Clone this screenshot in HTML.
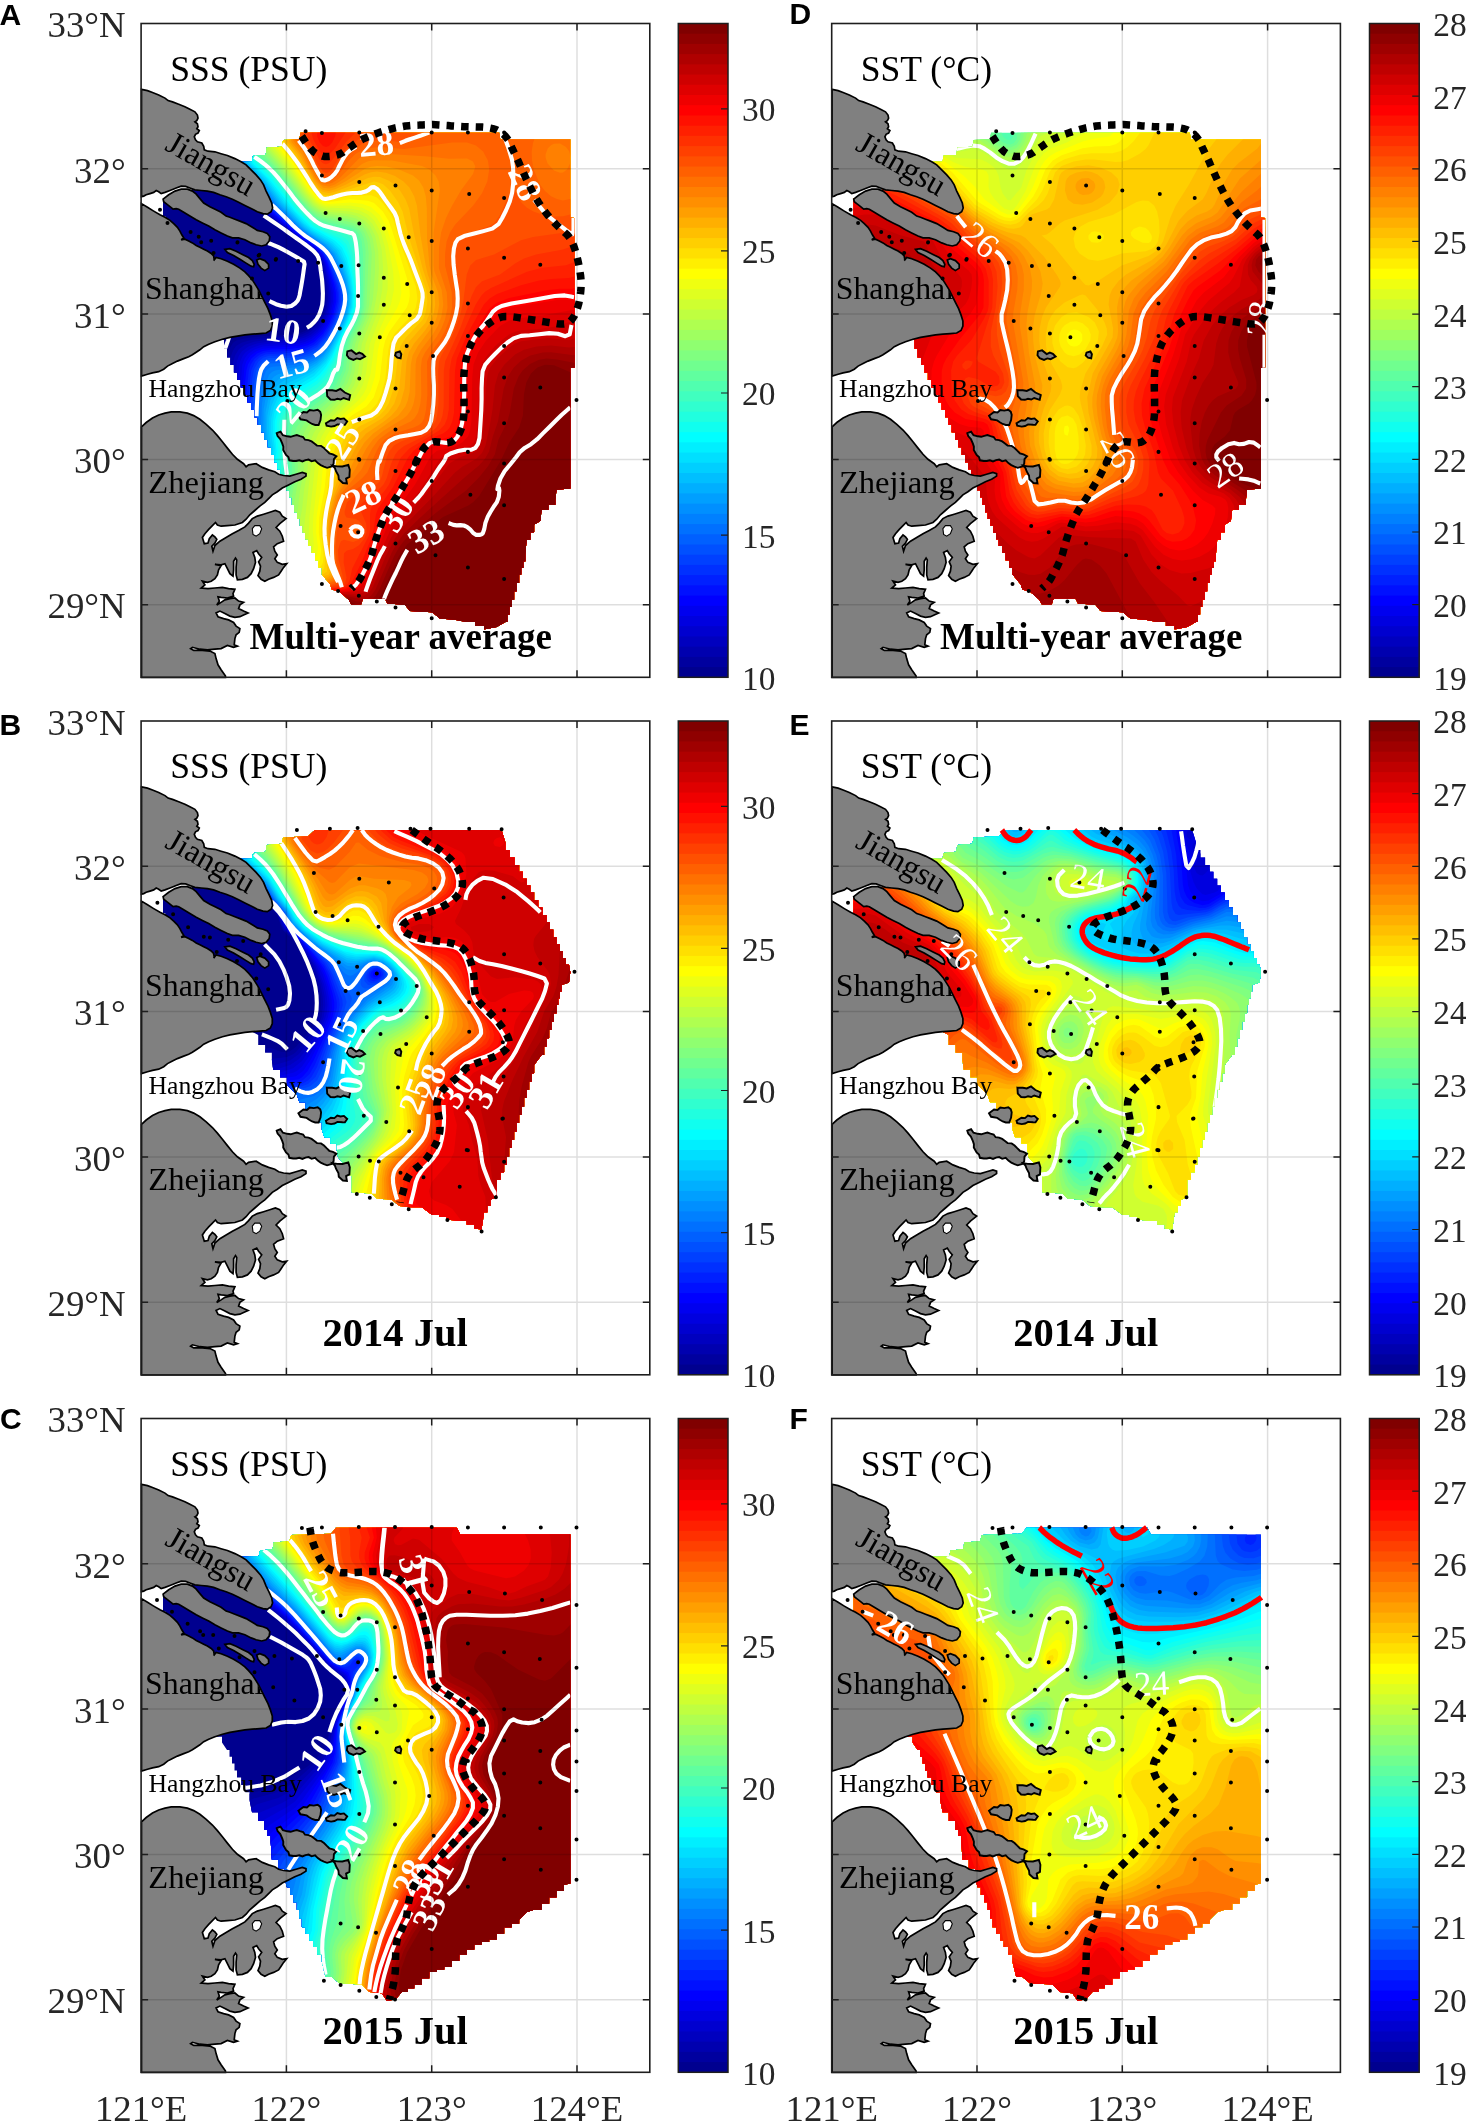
<!DOCTYPE html><html><head><meta charset="utf-8"><title>Figure</title><style>html,body{margin:0;padding:0;background:#fff}svg{display:block;will-change:transform}text{font-family:"Liberation Serif",serif;fill:#262626}.b{font-weight:bold;fill:#000}.s{font-family:"Liberation Sans",sans-serif;font-weight:bold;fill:#000;font-size:30px}.t{font-size:36.8px}.u{font-size:35.6px}.k{fill:#000}.w{fill:#fff;font-weight:bold;font-size:35px}.v{fill:#fff;font-size:35px}</style></head><body>
<svg width="1466" height="2121" viewBox="0 0 1466 2121">
<g transform="translate(141.1 23.5)">
<clipPath id="cA"><path d="M98.9 138.3L110.8 138.3L112 132.1L124.5 131.5L125.7 124L140.7 123.3L142 116.5L158.2 115.8L159.4 109L358 109L359.3 116L429.2 116L429.2 193.9L433.4 194.4L433.4 343.9L429.2 344.4L429.2 465L415.4 466.2L414.2 476.2L414.2 481.2L407.3 481.2L407.3 486.2L400.5 486.2L399.2 497.4L393 501.2L393 508.7L389.2 508.7L389.2 516.2L385.5 516.2L384.2 531.2L384.2 537.8L382.2 537.8L382.2 544.5L380.1 544.5L380.1 551.1L378 551.1L378 559.4L375.5 559.4L375.5 567.8L373 567.8L373 576.1L370.5 576.1L370.5 583.6L368.4 583.6L368.4 591.1L366.3 591.1L366.3 598.6L364.3 598.6L355.5 603.6L342.9 606L342.9 602.2L334.2 602.2L334.2 598.5L325.6 598.5L313.7 596.3L298.7 595L291.2 588.8L268.8 587.5L263.8 581.3L246.3 580L243.8 575L221.9 575L220.1 580.7L210.1 580.7L207.6 576.3L197.6 567.5L190.8 566.3L188.9 560.7L180.8 551.1L180.8 543.9L177.3 543.9L177.3 536.8L173.9 536.8L173.9 529.6L170.5 529.6L170.5 522.4L167 522.4L167 515.7L164.3 515.7L164.3 508.9L161.5 508.9L161.5 502.2L158.8 502.2L158.8 495.5L156 495.5L156 488.7L153.3 488.7L153.3 481.2L150.8 481.2L150.8 473.7L148.3 473.7L148.3 466.7L145.3 466.7L145.3 459.7L142.3 459.7L142.3 452.8L139.3 452.8L139.3 445.8L136.3 445.8L136.3 438.8L133.3 438.8L133.3 431.3L130 431.3L130 423.8L126.7 423.8L126.7 416.3L123.3 416.3L123.3 408.8L120 408.8L120 401.3L116.7 401.3L116.7 393.8L113.4 393.8L113.4 386.3L109.9 386.3L109.9 378.9L106.5 378.9L106.5 371.4L103.1 371.4L103.1 363.9L99.6 363.9L99.6 356.4L96.2 356.4L96.2 348.9L92.8 348.9L92.8 341.4L89.3 341.4L89.3 333.9L85.9 333.9L85.9 325.2L82.9 325.2L82.9 316.4L80 316.4L80 313.1L73 313.1L73 309.8L65.9 309.8L65.9 306.5L58.9 306.5L58.9 299.4L56.6 299.4L56.6 292.2L54.3 292.2L54.3 285.1L52 285.1L52 278L49.7 278L49.7 270.9L47.3 270.9L47.3 263.8L45 263.8L45 256.6L42.7 256.6L42.7 249.5L40.4 249.5L40.4 242.4L38.1 242.4L38.1 235.2L35.8 235.2L35.8 228.1L33.5 228.1L33.5 221L31.2 221L31.2 213.9L28.8 213.9L28.8 206.8L26.5 206.8L26.5 199.6L24.2 199.6L24.2 192.5L21.9 192.5L21.9 177.5L21.9 175.2L29.2 175.2L29.2 173L36.4 173L36.4 170.8L43.7 170.8L43.7 168.5L50.9 168.5L50.9 156.5L50.9 153.9L57.8 153.9L57.8 151.3L64.6 151.3L64.6 148.7L71.5 148.7L71.5 146.1L78.3 146.1L78.3 143.5L85.2 143.5L85.2 140.9L92 140.9L92 138.3Z"/></clipPath><g clip-path="url(#cA)"><rect x="13.9" y="101" width="427.5" height="513" fill="#00008f"/><path d="M29.1 101L442.9 101L442.9 614L13.9 614L13.9 427.6L25.9 421.7L46.9 407.8L58.9 397.8L67.9 387.5L73.9 378L81.7 362L83.3 356L85 335L87.8 326L91.9 319.2L95.2 317L106.9 314.3L121.9 312.6L148.9 311.5L157.9 309.7L163.9 307.4L172.9 301.3L178.9 293.2L182.3 284L183.7 272L183.3 263L179.9 242L178.2 236L174.7 230L168 224L123.3 191L100.9 167L76.9 143.3L58.9 126.9L31.3 104Z" fill="#00009f"/><path d="M33.5 101L442.9 101L442.9 614L13.9 614L13.9 434.6L28.9 427L49.9 413.2L61.9 403.3L72 392L76.9 383.9L87 362L88.3 356L87.9 344L89 335L91.9 326.9L94.9 322.6L100.9 318.9L109.9 316.4L121.9 314.7L151.9 313.1L160.9 310.8L166.9 308.1L172.9 303.9L179.3 296L183.3 287L185.3 275L184.7 263L180.9 242L179.2 236L175.7 230L169.1 224L124.7 191L79.9 144.2L38.8 107Z" fill="#0000af"/><path d="M37.7 101L442.9 101L442.9 614L13.9 614L13.9 441.5L28.9 433.9L51.8 419L64.9 408.6L74.9 398L80.3 389L91.2 362L92.2 356L91.5 347L92.2 338L93.9 332L97.9 325.4L103.9 321.3L112.9 318.3L124.9 316.5L151.9 315.1L160.9 312.9L166.9 310.3L175.9 303.5L181.3 296L185.1 287L187 275L186.2 263L182.6 245L180.1 236L176.6 230L170.2 224L122.9 188L97.9 160.6L67.9 130.4L42.6 107Z" fill="#0000bf"/><path d="M41.5 101L442.9 101L442.9 614L13.9 614L13.9 448.3L28.9 440.6L53.1 425L68.4 413L79.8 401L84.7 392L94.5 362L95.7 338L97.9 332L100.9 327.7L107.4 323L115.9 320L124.9 318.5L154.9 316.6L163.9 314L169.9 310.9L177 305L183.2 296L186.8 287L188.7 275L187.7 263L183.6 245L181 236L177.5 230L171.3 224L124.3 188L103.9 165.1L46.2 107Z" fill="#0000cf"/><path d="M45.1 101L442.9 101L442.9 614L13.9 614L13.9 455L28.9 447.2L55.9 429.6L73.2 416L84.4 404L89.1 395L97.1 362L97.8 344L99 338L101.8 332L104.2 329L109.9 324.9L118.9 321.6L127.9 320.2L154.9 318.6L163.9 316.2L169.9 313.3L176.6 308L183.4 299L187.6 290L190.2 278L190.1 269L187.8 257L183 239L178.5 230L172.3 224L155.8 212L125.7 188L106.9 166.6L49.6 107Z" fill="#0000df"/><path d="M48.6 101L442.9 101L442.9 614L13.9 614L13.9 461.6L19.9 459.1L31.9 451.9L58.9 433.9L76.9 419.5L88.9 406.8L92.5 401L94.1 395L95.7 380L99.5 362L101.2 341L103.6 335L106.9 330.6L113.4 326L121.9 323.1L154.9 320.7L163.9 318.4L169.9 315.6L178.9 308.2L184.9 299.6L189.2 290L191.9 278L191.7 269L190 260L183.9 239L179.4 230L173.4 224L153 209L124.9 185.8L108.8 167L52.8 107Z" fill="#0000ef"/><path d="M51.9 101L442.9 101L442.9 614L13.9 614L13.9 468.2L19.9 465.6L34.9 456.4L64.9 435.7L82.9 420.5L94.8 407L97.9 401L98.4 398L98.8 380L101.7 362L103.3 344L105.2 338L109.4 332L115.9 327.4L121.9 325.3L157.9 322.2L166.9 319.4L172.9 316.1L181.3 308L186.9 299L190.9 290L193.5 278L193.3 269L191.4 260L184.9 239L180.3 230L174.4 224L154 209L125.4 185L110.4 167L55.9 107Z" fill="#0000ff"/><path d="M55 101L442.9 101L442.9 614L13.9 614L13.9 474.7L19.9 472.1L34.9 462.8L64.9 441.9L84.7 425L97.9 410L102.2 401L101.6 380L105.3 347L106.9 341L110.3 335L115.9 330.1L121.9 327.4L130.9 325.9L148.9 325.5L157.9 324.3L166.9 321.7L172.9 318.5L181.9 310L187.9 300.3L192.4 290L195.1 278L194.8 269L192.9 260L185.9 239L181.3 230L175.4 224L155.1 209L126.8 185L112 167L84.4 137L58.8 107Z" fill="#0010ff"/><path d="M58 101L442.9 101L442.9 614L13.9 614L13.9 481.2L19.9 478.5L37.9 467.1L67.9 445.6L88.9 426.9L100.9 412.1L103.9 406.9L105.5 401L104.2 380L107.7 347L109.6 341L113.6 335L118.9 331L124.9 328.7L154.9 327L163.9 325L172.9 320.9L181.9 312.6L187.9 303.3L193.9 290.2L196.7 278L196.4 269L194.3 260L186.9 239L182.2 230L176.5 224L156.2 209L128.2 185L112.9 166.3L86.2 137L61.7 107Z" fill="#0020ff"/><path d="M60.9 101L442.9 101L442.9 614L13.9 614L13.9 487.7L19.9 485L37.9 473.3L67.9 451.5L88.9 432.9L100.9 418.4L105.6 410L107.7 404L106.7 383L107.4 371L110.1 347L114.2 338L118.9 333.6L124.9 330.8L157.9 328.7L166.9 326.2L175.9 321.2L184.9 311.2L191.7 299L196.3 287L198.1 278L197.8 269L195.7 260L188 239L183.2 230L177.6 224L153.5 206L127.9 183.2L115.1 167L88 137L64.4 107Z" fill="#0030ff"/><path d="M63.6 101L442.9 101L442.9 614L13.9 614L13.9 494.2L19.9 491.4L37.9 479.5L67.9 457.4L88.9 438.7L100.9 424.7L106.9 414.3L109.9 405.1L109.1 380L111.1 356L112.9 345.9L117.3 338L121.9 334.3L127.9 332.3L148.9 331.9L157.9 330.9L166.9 328.4L175.9 323.6L184.9 313.8L193.2 299L197.7 287L199.6 278L199.2 269L197.1 260L189.1 239L184.3 230L175.9 221.8L154.6 206L128.1 182L115.9 166.1L89.7 137L67 107Z" fill="#0040ff"/><path d="M66.3 101L442.9 101L442.9 614L13.9 614L13.9 500.7L19.9 497.8L37.9 485.7L67.9 463.3L88.9 444.4L103.9 426.6L109.3 416L111.8 407L112.3 401L111.4 383L112.9 360.9L115.1 347L118.9 339.9L121.9 337.1L127.9 334.5L148.9 334.2L157.9 333.1L166.9 330.7L175.9 326L184.9 316.3L193.9 300.3L199.1 287L200.9 278L200.6 269L198.4 260L190.2 239L185.3 230L178.9 223.2L152.3 203L129.6 182L115.9 164.3L91.4 137L69.5 107Z" fill="#0050ff"/><path d="M68.9 101L442.9 101L442.9 614L13.9 614L13.9 507.2L19.9 504.3L34.9 494L64.9 471.6L85.9 453.1L100.8 437L108.7 425L113 413L114.2 404L113.6 386L114.6 368L116.3 353L119.1 344L121.9 340.4L127.9 337L145.9 336.8L157.9 335.4L169.9 331.7L178.7 326L187.9 314.3L195.8 299L200.4 287L202.1 278L201.8 269L199.8 260L192.8 242L186.5 230L178.9 222.2L164.4 212L153.5 203L131 182L117.3 164L93.1 137L72 107Z" fill="#0060ff"/><path d="M71.5 101L442.9 101L442.9 614L13.9 614L13.9 513.8L19.9 510.7L31.9 502.4L64.9 477.5L85.9 458.9L100.9 442.7L109.9 429.9L114.3 419L116.1 407L115.8 386L117.1 368L119.1 353L121.9 345.3L124.9 341.8L127.9 340.1L148.9 339.1L163.9 336.2L172.9 332.3L178.9 328.1L184.9 321L190.9 311.3L198.4 296L203 281L203.4 272L201 260L195.4 245L187.7 230L178.9 221.2L165.6 212L154.6 203L132.6 182L118.9 164L94.8 137L74.4 107Z" fill="#0070ff"/><path d="M74 101L442.9 101L442.9 614L13.9 614L13.9 520.4L19.9 517.2L34.9 506.5L67.9 481L88.9 461.6L103.9 444.7L112.9 431.4L116.6 422L118 410L117.9 389L119.4 371L121.9 355.3L124.9 347.5L127.9 344.5L130.9 343.2L151.9 341.4L163.9 338.5L172.9 334.5L178.9 330.3L184.9 323.4L190.9 313.8L199.6 296L204.1 281L204.5 272L202.3 260L195.4 242L189.1 230L181.9 222.4L166.9 212L155.9 203L133.9 181.7L120.6 164L96.4 137L78.6 110Z" fill="#0080ff"/><path d="M76.4 101L442.9 101L442.9 614L13.9 614L13.9 527L19.9 523.8L34.9 512.8L67.9 486.9L88.9 467.4L103.9 450.5L113.4 437L119 425L120.9 380L123.9 362L127.9 351.3L130.9 348.4L133.9 347L154.9 343.5L163.9 340.9L172.9 336.7L178.9 332.4L184.9 325.7L190.9 316.1L200.7 296L205.2 281L205.6 272L202.9 257.9L196.8 242L190.5 230L181.9 221.2L164.3 209L157.2 203L133.9 179.8L119.8 161L98 137L80.8 110Z" fill="#008fff"/><path d="M78.7 101L442.9 101L442.9 614L13.9 614L13.9 533.6L19.9 530.4L37.9 516.9L70.9 490.3L91.9 470.2L106.9 452.4L117.1 437L121.9 426.1L122.5 386L125.7 368L130.4 356L133.1 353L136.9 350.7L157.9 345.4L166.9 342.1L175.9 336.9L181.9 331.7L190.9 318.3L200.5 299L206.3 281L206.3 269L203.8 257L198.3 242L192 230L183.4 221L166.9 209.8L158.6 203L134.9 179L121.5 161L99.6 137L84.7 113Z" fill="#009fff"/><path d="M81.1 101L442.9 101L442.9 614L13.9 614L13.9 540.4L19.9 537L31.9 527.8L70.9 496.3L91.9 476.1L106.9 458.3L118.9 440.2L124.6 428L124.4 389L127.9 371.5L131.7 362L133.9 358.8L139.9 354.1L166.9 344.6L175.9 339.2L181.9 333.8L190.9 320.4L201.6 299L205.9 287.5L207.3 281L207.4 269L205.1 257L199.9 242L193.7 230L185.2 221L167.3 209L160.1 203L136.7 179L123.3 161L101.2 137L88.4 116Z" fill="#00afff"/><path d="M83.4 101L442.9 101L442.9 614L13.9 614L13.9 547.2L19.9 543.7L34.9 531.9L73.9 499.7L94.9 478.9L109.9 460.2L120.7 443L127.4 428L125.9 404L126.3 392L129.3 377L133.9 365.8L136.9 361.6L142.9 357L166.9 347.3L175.9 341.6L181.9 336.1L187.9 328.1L202.6 299L206.2 290L208.3 281L208.4 269L206.3 257L201.4 242L195.6 230L187.3 221L169.1 209L161.7 203L138.6 179L122.5 158L102.7 137L92 119Z" fill="#00bfff"/><path d="M85.6 101L442.9 101L442.9 614L13.9 614L13.9 554.1L22.9 548.1L76.9 503L94.9 485L109.9 466.3L121.9 447.2L129 431L130 425L128.1 410L128.1 395L130.2 383L134.9 371L139.1 365L142.9 361.5L169.9 348.4L178.9 341.5L184.9 334.9L190.9 325.1L203.7 299L207.2 290L209.3 281L209.4 269L206.7 254L201.9 239L195.5 227L187.9 219.6L171.1 209L163.4 203L140.5 179L124.3 158L104.3 137L93.8 119Z" fill="#00cfff"/><path d="M87.8 101L442.9 101L442.9 614L13.9 614L13.9 561.1L22.9 554.9L76.9 509.1L94.9 491.2L109.9 472.6L122.8 452L130.9 432.5L132 425L129.8 407L130.1 395L132.8 383L136.8 374L141.3 368L145.9 363.9L172.9 349.3L184.9 337.5L190.9 327.7L204.7 299L209.9 284L210.6 272L208.6 257L203.6 239L197.8 227L190.9 219.9L169.9 206.7L160.9 199.1L142.4 179L124.9 156.5L108.4 140L100.3 128L89.9 107Z" fill="#00dfff"/><path d="M90.1 101L442.9 101L442.9 614L13.9 614L13.9 568.2L19.9 564.4L82.9 509.6L100.6 491L112.9 474.8L126.2 452L132.6 434L133.8 425L131.9 410L131.8 398L133.3 389L136.9 379.9L140.6 374L145.9 368.3L172.9 352.4L184.9 340.1L190.9 330.5L205.7 299L210.9 284L211.4 269L209.8 257L205.4 239L199.9 226.6L191.4 218L172.9 207.2L163.7 200L144.4 179L125.6 155L109.9 139.8L101.9 128Z" fill="#00efff"/><path d="M92.3 101L442.9 101L442.9 614L13.9 614L13.9 575.5L19.9 571.6L82.9 515.8L100.9 497.1L112.9 481.5L126.7 458L130.7 449L133.3 440L135.5 428L133.6 407L133.7 398L136.9 385.8L140.1 380L145.9 372.9L152 368L172.9 355.7L178.9 350.4L184.9 343.1L190.9 333.6L200.6 311L206.8 299L212 284L212.5 269L210.5 254L205.9 234.7L200.9 224L193.9 217.3L169.9 203.5L154.1 188L127.9 155.4L111.9 140L106.9 134L98 116Z" fill="#00ffff"/><path d="M94.4 101L442.9 101L442.9 614L13.9 614L13.9 582.9L19.9 578.8L90.1 515L106.4 497L118.9 479.1L130.2 458L134.6 446L137.2 428L135.5 401L136.2 395L138.1 389L142.9 380.9L148.9 374.5L175.9 357L184.9 346.5L191.9 335L201.7 311L210.6 293L213.1 284L213.4 266L211.3 251L207.5 233L202.9 222.5L198.7 218L194.3 215L171.7 203L156.1 188L129.6 155L108.5 134L101.2 119Z" fill="#10ffef"/><path d="M96.6 101L442.9 101L442.9 614L13.9 614L13.9 590.6L19.9 586.3L91.9 519.4L106.9 503.2L118.9 486.4L130.9 463.9L136.8 449L138.9 428L137.5 401L139.9 390.6L142.9 385.5L148.9 378.8L154.9 374L175.9 360.8L183.2 353L192.3 338L202.8 311L211.7 293L214.2 284L214.6 266L213.2 254L209.7 233L205.3 221L199.2 215L178.9 205.7L172.9 202L158.1 188L130.9 154.1L110.2 134L104.3 122Z" fill="#20ffdf"/><path d="M98.8 101L442.9 101L442.9 614L13.9 614L13.9 598.4L19.9 594L96.5 521L110.2 506L120.7 491L130.9 471.5L138.1 455L139.7 449L140.6 428L139.6 401L141.9 392L145.9 386.2L151.9 380.3L175.9 364.8L184.9 355.5L193.9 339L202.9 313.7L213 293L215.4 284L215.8 266L214.3 251L211.4 230L207.3 218L204.5 215L199.5 212L175.9 202.1L169 197L160.9 188.9L131.1 152L112 134L106.1 122Z" fill="#30ffcf"/><path d="M100.9 101L442.9 101L442.9 614L13.9 614L13.9 606.5L19.9 601.9L52.4 569L100.9 522.9L112.9 509.5L121.9 496.8L130.9 479.8L142.1 452L142.8 446L141.7 404L143.3 395L145.9 390.7L151.9 384.6L178.9 366.5L186.1 359L195.4 341L204.1 314L213.1 296L216.7 284L217.1 266L214.2 233L212.2 221L209.7 215L206.3 212L202.9 210.4L178.9 201.9L171.5 197L163.9 189.8L133.3 152L112.9 132.6L106.8 119Z" fill="#40ffbf"/><path d="M103.1 101L442.9 101L442.9 614L17.6 614L21.8 608L47.3 581L108.8 521L118.9 509L124.9 500L133.9 481.9L145.1 452L145.6 446L144 410L144.6 401L145.9 396.3L148.9 391.9L155.3 386L181.9 368L189.6 359L196.9 344L200.4 329L205.5 314L215.8 293L218 284L218.6 266L216.4 230L214.7 218L212 212L205.9 208.3L178.9 199.9L166.9 190.7L156.4 179L133.9 150.2L113.9 131L108.7 119Z" fill="#50ffaf"/><path d="M105.3 101L442.9 101L442.9 614L25.4 614L29.2 608L54.1 581L112.9 523.1L121.9 512.4L127.9 503.4L136.9 484.3L147.8 452L148.3 446L146.6 413L147.3 404L148.9 398.1L157.2 389L181.9 371.8L191.2 362L198.8 347L202.3 329L205.9 317.4L216.1 296L219.6 284L220.2 266L219.1 230L217.7 218L215.6 212L213.2 209L208.9 206.4L184.9 200.3L178.9 197.9L166.9 188.5L158.4 179L135 149L116.1 131L110.7 119Z" fill="#60ff9f"/><path d="M107.5 101L442.9 101L442.9 614L32.6 614L38.9 605L63.5 578L118.2 524L130.9 507.1L139.9 487L150.5 452L151 446L149.5 416L150.4 407L152 401L159.4 392L187.2 371L194.6 362L201.7 347L204.4 329L208.9 314L219.1 293L221.3 284L222.1 266L221.8 230L220.6 218L217.9 210.5L214.9 206.9L208.9 203.7L187.9 199.1L178.9 195.8L172.9 191.8L166.9 186.3L137.2 149L118.9 131.3L116.5 128L111.7 116Z" fill="#70ff8f"/><path d="M109.7 101L442.9 101L442.9 614L39.6 614L45.8 605L69.9 578L124.4 524L135.1 509L143.6 488L153.2 452L153.8 446L152.7 419L153.7 410L155.4 404L162 395L187.9 374.3L198 362L204.6 347L206.8 329L210 317L219.8 296L223.2 284L224.5 227L222.7 215L220.1 209L217.7 206L211.9 202.2L181.9 195.1L175.9 191.9L169.9 187.1L159.9 176L139.4 149L119 128L113.8 116Z" fill="#80ff80"/><path d="M112 101L442.9 101L442.9 614L46.4 614L50 608L70.6 584L90.5 563L127.9 527L133.9 519.9L138.9 512L147.7 488L152.6 464L156 452L156.7 443L156.4 419L159 407L162.4 401L167.8 395L193.9 372.3L202.9 359.4L207.5 347L209.4 329L211.9 318.4L222 296L225.3 284L227.6 230L226.3 218L223.1 209L218.1 203L213 200L205.9 197.8L184.9 194.1L175.9 189.8L169.9 184.9L161.8 176L141.7 149L121.7 128L116 116Z" fill="#8fff70"/><path d="M114.3 101L442.9 101L442.9 614L53 614L58.9 605L79.4 581L99.5 560L131.5 530L139.4 521L143.1 515L145.9 508.5L151.9 488L155.7 464L159 452L160 422L162.6 410L165.7 404L170.4 398L190.9 379.5L199 371L206.6 359L210.6 347L212.3 329L214.2 320L225.6 293L228.2 281L230.7 230L228.5 215L224.4 206L220.9 202L214.9 198L205.9 195.3L184.9 192.1L175.9 187.8L169.9 182.8L161.5 173L142.9 147.8L122.3 125L117.2 113Z" fill="#9fff60"/><path d="M116.6 101L442.9 101L442.9 614L59.4 614L67.5 602L90.7 575L108.5 557L138.3 530L147.7 518L150.3 512L156.8 485L158.8 467L162.7 449L163.8 425L166.2 413L169 407L173.2 401L200.5 374L205.9 366.9L210.3 359L213.8 347L215.5 329L217.3 320L228.3 293L231.9 275L233.9 248L234 230L231.6 215L227.8 206L222.8 200L214.9 195.1L205.9 192.8L184.9 190L178.9 187.6L171.3 182L163.4 173L143.7 146L124.9 125L119.5 113Z" fill="#afff50"/><path d="M118.9 101L442.9 101L442.9 614L65.6 614L68.9 608L75.9 599L96.4 575L115.9 555.6L145.4 530L150.9 524L154.4 518L161.1 485L162.9 467L166.1 449L167.9 425L169.9 416L172.9 409.1L178.4 401L204.7 374L212.8 362L216.8 350L220.8 320L232.4 290L236.6 266L237.8 245L237.1 227L233.9 212L229.4 203L223.8 197L214.9 192.2L205.9 190.2L184.9 188L178.9 185.7L172.9 181.4L165.4 173L145.9 145.9L127.6 125L121.9 113.3Z" fill="#bfff40"/><path d="M121.3 101L442.9 101L442.9 614L71.6 614L74.8 608L84 596L104.8 572L124.9 552.9L153.2 530L160.1 521L161.8 515L171.2 431L173.5 419L177.3 410L183.4 401L209.3 374L217 362L220.7 350L224.6 320L237.2 287L241.2 266L242 245L240.7 227L237.3 212L231.1 200L225 194L217.9 190.2L208.9 187.9L184.9 186.1L178.9 183.7L172.9 179.3L165.1 170L148.3 146L130.2 125L124.9 114.9Z" fill="#cfff30"/><path d="M123.7 101L442.9 101L442.9 614L77.5 614L80.6 608L92 593L113.2 569L130.9 552.9L158.1 533L163.9 527.3L166 524L167.5 518L168.3 494L174.8 434L177.1 422L180.5 413L186 404L195.9 392L214.3 374L221.5 362L224.9 350L228.8 320L242.8 284L246.5 266L246.7 245L243.9 224L239.8 209L233.1 197L226.7 191L217.9 186.8L208.9 185L184.9 184.1L178.9 181.8L174.9 179L167 170L148.9 143.9L130.8 122L126.6 113Z" fill="#dfff20"/><path d="M126.1 101L442.9 101L442.9 614L83.2 614L86.2 608L97.4 593L118.9 568.7L136.9 553L166.8 533L171.6 527L172.7 521L171.7 506L172.1 494L178.4 437L181.5 422L185.2 413L192.8 401L200.5 392L217.2 377L222 371L225.2 365L229.5 350L233.4 320L236.3 311L249.8 281L252.9 266L252.1 248L247 221L242.4 206L235.9 194.5L229.9 188.7L220.9 184.2L208.9 182.1L184.9 182.2L178.9 179.9L175.9 177.7L168.9 170L148.9 140.9L133.4 122L129 113Z" fill="#efff10"/><path d="M128.5 101L442.9 101L442.9 614L88.7 614L91.7 608L105 590L115.2 578L127 566L145.9 551.2L172.4 536L175.9 531.8L176.8 524L175.1 509L175.4 494L180 464L182.4 437L185 425L189.9 413L199.6 398L205.9 391.4L223.7 377L229.4 368L233.9 353L237 326L239 317L244.2 305L256.3 284L258.7 278L260.3 269L258.5 251L251.8 224L245.3 203L238.9 191.7L229.9 183.6L220.9 180.3L208.9 178.9L187.9 180.6L181.9 179.4L176.4 176L168.7 167L151.9 141.8L135.9 122L131.4 113Z" fill="#ffff00"/><path d="M131 101L442.9 101L442.9 614L94.1 614L97 608L110.1 590L120.2 578L132.3 566L148.9 553.4L160.9 547L173 542L175.9 540.4L178.9 536.9L180 527L177.7 509L178.1 494L183.6 464L186.3 437L189.4 425L196.1 410L204.1 398L210.7 392L225.2 383L232.6 374L238.6 356L242 326L244.1 317L248.3 308L265.7 284L267.8 278L268.7 272L268.4 266L265.6 254L250.7 206L247.3 197L241.7 188L232.9 179.6L226.9 177.2L208.9 175.7L187.9 178.5L181.9 177.5L178.9 175.9L170.6 167L151.9 138.6L138.4 122L133.8 113Z" fill="#ffef00"/><path d="M133.5 101L442.9 101L442.9 614L99.3 614L102.2 608L115 590L125.1 578L136.9 566.5L145.9 559.4L154.9 553.8L163.9 549.6L177.2 545L180.4 542L181.9 538.8L182.5 533L179.9 509L180.4 494L186.8 464L189.7 440L193.8 425L200.8 410L208.9 398.1L214.9 394L229.9 386.6L235.9 379.9L240 371L244.1 356L247.3 326L249.5 317L253.9 309.5L272.2 290L274.7 284L276.3 275L274.7 263L258.7 218L252.5 197L249.8 191L241.9 180.1L235.9 174.1L229.9 171.7L208.9 172.4L187.9 176.3L181.9 175.4L178.9 173.7L172.6 167L153 137L139.9 120.4L135.3 110Z" fill="#ffdf00"/><path d="M136 101L442.9 101L442.9 614L104.4 614L109.1 605L119.8 590L129.9 578L139 569L148.9 561.2L157.9 555.7L166.9 551.8L180.1 548L183.1 545L184.3 533L181.8 509L182.5 494L186 476L189.6 464L193.6 440L196.9 429L204.1 413L211.9 401.2L216.7 398L232.9 390.9L238 386L242.1 380L245.6 371L249.5 356L252.2 329L254.1 320L259.9 311.3L277.9 293.3L280.9 284.2L282 275L280.9 265.9L262.6 215L256 191L252.8 185L241.9 169.8L238.9 166.6L232.9 163.8L220.9 167.4L205.9 169.7L187.9 174.1L181.9 173.2L178.9 171.3L172.2 164L154.9 136.4L141.5 119L137.7 110Z" fill="#ffcf00"/><path d="M138.5 101L442.9 101L442.9 614L109.4 614L113.9 605L124.4 590L134.5 578L143.8 569L151.9 562.8L160.9 557.5L169.9 553.8L181.9 550.8L186.1 548L185.7 533L183.3 509L184.3 494L188.1 476L199.9 433.3L206.1 419L213.6 407L217.9 403.1L232.9 395.8L238.3 392L243.9 386L247.6 380L253.4 362L256.9 332L259.1 323L264.8 314L281.7 296L284.3 290L286.3 278L285 266L268.1 215L261.5 188L256.9 178.6L248.8 167L241.9 160.8L235.9 158.4L232.9 158.1L190.9 171.4L184.9 171.8L181.9 170.9L178.9 169L172.9 162.4L155.5 134L143.9 119L140.1 110Z" fill="#ffbf00"/><path d="M141.1 101L442.9 101L442.9 614L114.2 614L118.6 605L128.9 590L138.9 578L148.5 569L163.9 559L187.9 550.9L188.9 548L187.1 539L184.8 509L185.9 494L189.9 476L202.9 437.6L209.8 422L217.8 410L223.9 405.1L240.7 395L247.1 389L253.2 380L258.1 365L261.2 335L263.6 326L269 317L284.7 299L288.5 290L290.3 278L289.5 269L281.5 245L273.2 212L268 185L264.5 176L258.9 167L253.1 161L247.9 157.2L238.9 153.6L232.9 153.2L226.9 154.5L213 161L193.9 168.2L187.9 169.6L181.9 168.6L178.9 166.7L172.9 160L155.8 131L146.2 119L142.5 110Z" fill="#ffaf00"/><path d="M143.7 101L442.9 101L442.9 614L118.9 614L123.2 605L133.2 590L140.5 581L149.4 572L163.9 561.7L172.9 557.9L186.7 554L190.2 551L190.8 548L188.4 539L186.2 509L187.5 494L192.8 473L208.9 434.9L217.9 418L225.1 410L242.9 398L250.3 392L255.7 386L259.2 380L263.5 365L265.4 338L267.7 329L272.9 320L283.9 307.1L289.3 299L292.7 290L294.1 281L293.2 269L286.7 251L284.6 242L279.4 212L275.8 182L273.2 173L268.3 164L262.4 158L253.9 152.6L244.9 149.2L235.9 148L229.9 148.7L223.9 150.7L204.9 161L193.9 165.8L187.9 167.4L181.9 166.4L178.4 164L173.3 158L158.3 131L148.5 119L144.9 110Z" fill="#ff9f00"/><path d="M146.3 101L442.9 101L442.9 614L123.5 614L127.6 605L137.4 590L144.6 581L153.6 572L166.9 562.8L187.9 555.4L190.9 553.2L192.2 548L189.6 539L187.6 509L189.1 494L194.6 473L217.7 428L223.3 419L232.1 410L257.3 392L264.3 383L266.7 377L268.6 368L269.7 341L271.5 332L276.5 323L292.3 302L296 293L298.1 281L297.1 269L290.2 251L288.4 242L285.9 215L285.7 185L284.7 173L282.2 164L277.9 156.9L271.9 151.9L257.9 146L245.6 143L235.9 142.4L229.9 143.2L223.9 145.2L204.3 158L193.9 163.4L187.9 165.1L181.9 164.2L175.1 158L166.3 143L160.6 131L150.8 119L147.3 110Z" fill="#ff8f00"/><path d="M149 101L442.9 101L442.9 614L127.9 614L130.3 608L139.3 593L146 584L154.2 575L161.3 569L169.9 563.7L188.3 557L192.4 554L193.6 548L190.8 539L189.1 509L190.7 494L196.5 473L199.9 466.1L213.9 446L225.2 425L231.8 416L241.9 407.5L262.3 395L265.9 391.9L270.2 386L272.5 380L274.2 371L274.5 341L275.4 335L280.1 326L291.7 311L297 302L300.3 293L302.2 281L300.5 266L293.3 248L292.5 242L292.5 209L298.7 167L297.6 158L294.4 152L288.2 146L280.9 142.4L250.9 137.1L232.9 136.7L226.9 137.8L220.9 140.4L203.2 155L193.9 160.9L187.9 162.9L181.9 162.1L178.9 160L174.9 155L166.5 140L161.4 128L154.9 121.1L151.5 116L149.7 110Z" fill="#ff8000"/><path d="M151.8 101L442.9 101L442.9 614L132.3 614L136.1 605L143.2 593L149.7 584L158 575L169.9 566L178.9 561.7L190.9 557.5L194.4 554L195 548L192.2 539L191 527L190.6 509L193.9 488L196.9 477L200.1 470L220.3 446L231 425L237.6 416L247.9 408.2L269.4 398L273.2 395L277 389L279.3 380L280.2 371L279.7 344L280.9 335L283.9 329L295.9 312.7L300.3 305L303.9 296L306.4 284L305.7 269L297.8 245L297.9 224L300 209L304.9 194.6L310.9 182.2L319.9 166.8L331.9 150.5L334.2 143L331.9 137.9L325.9 135.1L307.9 135.3L283.9 132.7L247.9 130.5L229.9 130.7L223.9 131.9L217.9 135.1L198.2 155L190.9 159.5L184.9 160.7L181.9 159.8L176.9 155L168.4 140L163.9 128L153.9 116L152.2 110ZM409.9 121.7L406.6 125L404.5 131L404.5 134L406.5 140L412.9 147L418.9 149.2L421.9 148.9L425.9 146L428.9 140L429.6 134L428.2 128L424.9 123.4L418.9 120.1L412.9 120.3Z" fill="#ff7000"/><path d="M154.9 101L402.8 101L394.3 113L391.9 119.5L390.6 128L390.9 137L392.6 146L398.9 161L403.9 167.6L409.9 172.7L415.9 175.6L421.9 176.9L430.9 175.1L442.9 165L442.9 614L136.5 614L138.6 608L145.1 596L151.1 587L158.5 578L169.9 568.3L178.9 563.4L193.9 557.7L196.4 554L196.4 548L193.6 539L192.5 527L192.7 509L193.9 497L196.9 483.7L199.9 475.1L202.9 469.8L220.7 455L226.2 449L235.2 428L238.5 422L243.4 416L253.9 409.7L272.6 404L277.9 401.5L280.9 398.8L283 395L285 386L286.3 371L285.9 338L289.7 329L298.9 316.5L303.7 308L308.4 296L311 284L310.7 269L303.9 242L304 230L305.5 218L308.9 209L313.9 201.2L332.1 182L340.8 170L346.2 158L348.1 146L346.8 137L342 128L334.9 122L325.9 118.9L310.9 118.9L262.9 125.4L241.9 123.8L232.9 124L223.9 125.5L214.9 130.1L208.9 135.8L196.8 152L190.9 156.5L184.9 158.2L181.9 157.2L178.9 154.5L169.9 138.8L164.7 125L156.5 116L154.8 110ZM434.9 101L442.9 101L442.9 108.5L437.1 104Z" fill="#ff6000"/><path d="M158.2 101L307.4 101L302.3 104L287.8 110L262.9 117.8L256.9 118.3L238.9 116.6L229.9 117.7L220.9 120.5L208.9 128.2L203.9 134L194.5 149L190.9 152.5L184.9 155L181.9 153.7L178.9 150.3L171.5 137L167.3 125L159.7 116L157.8 110ZM349 101L368.4 101L367.7 119L368.5 128L367.9 130.5L363.8 119L355.9 107.9ZM370.6 167L370.9 166L373.9 168.3L380.3 179L385.9 184.2L392.3 188L400.9 191.1L412.9 193L421.9 192.7L430.9 190.5L442.9 185.4L442.9 614L140.6 614L144 605L150.6 593L156.8 584L164.9 575L177.2 566L193.9 559.9L198.2 557L198.7 551L195.5 539L194.3 524L196.9 496.2L199.9 482.1L202.9 475.2L208.9 468.8L228.6 458L232.5 455L234.1 452L238.8 434L242.8 425L247 419L256.9 413.5L280.9 406.6L284.6 404L288.8 398L290.9 389L292.1 374L291.8 338L293.9 332L304 317L307.9 309.4L313 296L315.9 284L316.1 266L312 239L313.8 221L316.9 215.6L321.5 212L346.9 203.1L352.9 199.7L359.2 191L367.9 170.9ZM211.9 502.2L207.8 506L207.9 509L210.2 512L214.9 512.8L217.9 509.9L218.3 506L214.9 502.3Z" fill="#ff5000"/><path d="M162 101L266.4 101L262 104L256.9 105.5L232.9 108.9L217.9 115.4L205.9 124.5L200.6 131L190.9 146.1L187.9 148.8L184.9 149.6L181.9 148L175.9 139.9L169.9 124.9L162.1 113L161.5 110ZM439.3 203L442.9 201.9L442.9 614L144.7 614L147.9 605L154.1 593L160 584L168 575L180.6 566L187.9 563.1L199.9 560L201.8 557L201.2 551L197.4 536L196.8 527L198.5 521L199.9 517.6L202.9 516.3L211.9 518.5L217.9 516.2L221.2 512L222.3 506L220.9 501.1L217.9 497.4L214.9 495.6L205.4 494L203.7 491L203.5 488L205.9 478.8L211.9 473.2L232.9 463.1L238.6 458L241 452L245.5 434L248.1 428L252.7 422L259.9 418L283.9 409L290.2 404L294.2 398L296 392L297.4 380L297 347L297.9 338L300.2 332L310.5 314L318.7 293L322.2 278L325.6 251L329.1 242L334.9 236.6L352.9 231L379.9 216.7L391.9 213.4L421.9 209.2Z" fill="#ff4000"/><path d="M166.4 101L223 101L205.9 117.6L190.9 136.8L187.9 139.7L184.9 140.8L181.9 139.9L178.9 137L166.5 113L165.7 107ZM435.9 221L442.9 218.4L442.9 614L148.6 614L151.6 605L157.4 593L163.2 584L170.9 575L178.4 569L183.8 566L190.9 563.5L199.9 562.2L203.9 560L205.4 554L202.5 539L202.9 529.8L205.9 527L211.9 525.5L217.9 521.8L223.3 515L225.4 509L225.1 500L219.9 488L218.9 485L219.3 482L221.4 479L235.9 467.8L242.4 461L245.5 455L250.1 440L254.1 431L256.9 427.3L262.9 422.6L283.9 412.3L292 407L295.3 404L299.4 398L301.4 392L302.6 383L302.7 347L304 338L319 305L330.7 272L334.9 263.6L340.9 257.7L358.9 251.1L373.9 239.9L382.9 235.1L394.9 231L421.9 226Z" fill="#ff3000"/><path d="M171.7 101L208.3 101L203.9 110L193.9 125.1L187.9 130.9L184.9 131.9L181.9 131L178.9 128.2L172.2 116L170.5 110ZM439.6 236L442.9 235L442.9 614L152.5 614L155.2 605L160.7 593L166.1 584L173.6 575L184.9 566.9L190.9 564.7L202.9 563.2L207 560L208.5 557L211.1 545L227.8 512L229 506L228.9 491L229.7 485L233 479L243.8 467L247.9 461L259.9 433.8L268.3 425L298 407L303.6 401L306.1 395L307.7 386L308.4 347L310.5 335L334.6 281L340.3 272L343.9 268.3L349.9 264.4L385.9 248.3L400.9 244.3L424.9 241.8Z" fill="#ff2000"/><path d="M178.3 104L179.7 101L194.8 101L195.1 107L194 113L191.1 119L187.9 122.5L184.9 123.6L181.9 122.6L178.6 119L176.1 113L176 110ZM439.5 251L442.9 250L442.9 614L156.3 614L158.7 605L163.8 593L168.9 584L176.2 575L181.9 570.3L187.9 566.9L193.9 565.2L202.9 564.5L206.9 563L210.1 560L220.9 537.8L230 515L232.5 506L234.8 491L237 485L251.7 464L266.9 434L271.9 428L278.8 422L289.9 414.8L301.9 409.9L306.1 407L308.5 404L311.2 398L312.9 389L313.9 347L315.8 335L325.9 311.2L342.7 281L348.5 275L355.9 270.4L379.9 261.7L397.9 257L409.9 255.4L427.9 254.5Z" fill="#ff1000"/><path d="M442.1 263L442.9 262.8L442.9 614L160.1 614L163.2 602L168.2 590L173.6 581L178.6 575L184.9 569.9L190.9 567L202.9 565.9L208.9 563.8L213.6 560L215.7 557L227.1 533L241.8 488L255.8 467L275.7 431L280.9 425L288.5 419L292.9 416.9L307.9 413.8L310.9 411.8L314.6 407L316.9 400.6L318.6 389L319.5 347L321.1 335L328.9 316L346.9 287L349.9 283.5L355.9 279.1L367.9 274.6L406.9 266.6L418.9 265.3L430.9 265.2Z" fill="#ff0000"/><path d="M441.1 275L442.9 274.7L442.9 614L163.8 614L166.5 602L171 590L176 581L180.8 575L184.9 571.4L190.9 568.1L205.9 566.6L211.9 564.4L217.6 560L219.6 557L229.9 535L244.9 493.4L267.8 458L283.9 428.7L287.5 425L292.9 421.5L307.9 420.1L311.7 419L316 416L320.7 410L322.8 404L324.2 395L325.3 347L327 335L334.9 317.2L340.9 308.1L352.9 293L360.4 287L369.8 284L415.9 276.5L430.9 276.5Z" fill="#ef0000"/><path d="M428.4 287L442.9 285.3L442.9 614L167.6 614L169.8 602L173.7 590L178.3 581L182.9 575L187.9 570.8L193.9 568.3L205.9 567.8L214 566L219.3 563L221.8 560L231.5 539L247.9 498.3L253.9 488.6L274 461L289.9 432.2L295.9 427.3L313.9 423.2L321 419L326.9 413L329 407L330.3 398L331.2 353L332.4 341L337 329L345 317L358.9 302.6L367.9 297.2L376.9 294.8L400.9 291.9Z" fill="#df0000"/><path d="M426.3 299L433.9 297.1L442.9 296.5L442.9 614L171.3 614L173.1 602L176.4 590L180.5 581L184.9 575L188.2 572L193.9 569.2L214.9 568.1L220.9 566.1L224.1 563L250.9 502.7L259.9 489.5L278.7 467L297.5 437L300.2 434L304.7 431L313.9 428.4L328.9 422.2L332.6 419L334.9 413L336.7 398L338.5 347L340.9 339.4L346.9 330.7L353.6 323L361.9 315.5L367.9 311.1L373.9 308.3L379.9 306.8L397.9 305.4L415.9 302.8Z" fill="#cf0000"/><path d="M442.4 311L442.9 614L175.2 614L176.4 602L179 590L182.7 581L186.8 575L190.2 572L193.9 570.3L217.9 570.2L222.7 569L226.5 566L240.6 533L249.4 515L259.9 498L282.9 473L308.3 440L318.2 434L331.9 429.4L334.9 427.4L337.9 423.8L340.6 416L343 398L345.3 359L346.7 350L349.1 344L356.2 335L367.9 324.2L373.9 320.3L379.9 317.7L406.9 314.5L427.9 316.7Z" fill="#bf0000"/><path d="M395.4 323L409.9 322.1L427.9 324.1L442.9 322.3L442.9 614L179.2 614L179.7 602L181.6 590L184.7 581L188.6 575L192.3 572L196.9 570.6L217.9 572.8L223.9 572L228.4 569L232 563L244.9 532L253.9 515.1L262.4 503L289.1 476L313.9 448.9L321.5 443L334.9 435.4L340.9 429.4L344.4 422L348.9 401L351.4 386L353.8 362L357.3 350L363.3 341L373.9 331.1L382.9 326.2Z" fill="#af0000"/><path d="M401.6 329L409.9 328.8L430.9 331.4L442.9 331.6L442.9 614L183.4 614L183.3 599L184.2 590L186.7 581L190.4 575L193.9 572.4L196.9 571.6L220.9 575.6L226.9 574.2L230.1 572L234.4 566L250.9 528.4L256.9 518L262.9 510.1L277.9 495.2L322.3 455L337.9 441.9L343.9 435.3L348 428L351.7 413L356.9 398L362.6 365L366.7 353L372.7 344L379.9 337.2L389.2 332Z" fill="#9f0000"/><path d="M405.6 335L415.9 335.9L442.9 341.3L442.9 614L188.1 614L187 590L188.7 581L192.3 575L196.9 572.7L199.9 572.7L214.9 577.7L223.9 578.6L229.9 576.5L234.8 572L238.3 566L252.8 533L257.9 524L262.9 517.3L271.9 508.6L295.9 488.5L325 467L337.9 453.9L346.9 442.8L353.7 431L357.4 416L366.3 398L368.7 389L372.7 365L377.4 353L381.5 347L388.9 340.4L397.9 336.2Z" fill="#8f0000"/><path d="M396.3 344L403.9 341.3L412.9 341.8L436.9 352L442.9 353.4L442.9 614L193.4 614L190.4 596L190 587L190.8 581L193.9 575.6L196.9 574.1L199.9 574L214.9 580.8L220.9 582.4L226.9 582L232.9 579.4L239.6 572L257.6 533L265.9 521L301.9 493.6L327.2 482L331.9 478.7L337.9 472.7L359.7 437L367.9 419.6L378.1 404L381.8 392L382.8 371L385.2 359L389.8 350Z" fill="#800000"/></g>
<g clip-path="url(#cA)"><path d="M127 219.5L129 220.2L133.1 221.8L137.3 223.7L141.7 225.9L146 228.2L150.4 230.7L154.4 233L158.2 235.2L161 236.9L162.9 238.2L163.5 240.7L162.9 244.4L162.3 248.8L161.6 253.8L160.8 258.8L159.9 263.8L159.1 268.1L158.5 271.7L157.6 274.8L156.4 277.4L153.9 280L150.2 282.5L145.5 283.2L139.9 282.2L134.9 280.7L130.5 278.6L128.3 277.5M122.6 192L124.5 193.2L128.2 195.7L132.6 198.7L137.6 202.1L142.3 205.4L146.6 208.5L151 211.7L155.4 214.8L159.8 217.9L164.1 221L167.9 223.8L171 226.3L173.6 228.8L175.8 231.3L177.4 234.4L178.3 238.2L179.1 242.6L179.7 247.5L180.4 252.2L181 256.6L181.4 262.5L181.8 269.8L181.6 276.1L181.1 281.2L179.8 286.2L178 291.2L175.5 295.6L172.3 299.3L169.5 302L167 303.5L165.8 304.2M88.4 312.4L87.9 314L86.9 317.1L85.3 321.5L83.2 327.1L82.1 329.9M130.7 181.4L132.1 182.6L134.9 185.1L138.5 188.6L142.9 192.9L147.3 197.3L151.6 201.7L156 205.7L160.4 209.5L164.4 212.6L168.2 215.1L171.9 217.6L175.7 220.1L179.1 222.6L182.2 225.1L185 227.9L187.5 231L189.7 234.4L191.6 238.2L193.5 241.9L195.3 245.7L197.2 249.7L199.1 254.1L200.6 258.2L201.9 261.9L203 266.2L203.9 271.1L204.1 276.1L203.5 281.2L202 287.5L199.5 295L196.4 302.5L192.6 309.9L188.6 316.8L184.2 323.1L179.8 327.7L175.5 330.9L173.3 332.4M127.1 337.7L125.5 339.2L122.4 342.3L120.2 345.8L119 349.5L117.9 355.1L117 362.6L116.4 370.1L116 377.6L115.7 384.2L115.5 389.8L115.4 392.6M113.3 133.3L115.3 134.7L119.3 137.5L123.6 140.8L127.9 144.6L132.3 148.9L136.7 153.9L141 159.2L145.4 164.8L149.5 170.1L153.2 175.1L157.3 180.1L161.6 185.1L166 189.8L170.4 194.2L174.4 197.6L178.2 200.1L182.2 202L186.6 203.2L191.3 204.5L196.3 205.7L200.9 207L205.3 208.2L208.7 209.2L211.2 209.8L213 211.7L213.9 214.8L214.7 218.8L215.3 223.8L215.8 228.8L216.1 233.8L216.2 238.8L216.2 243.8L216.4 249.4L216.7 255.7L216.9 262.5L216.9 269.8L216.9 276.7L216.9 283L215.7 289.3L213.2 295.6L210.1 301.8L206.4 308.1L203.2 314.9L200.7 322.4L198.9 331.2L197.6 341.2L196.1 346.2L194.2 346.3L192 350.1L189.5 357.6L186.4 363.3L182.6 367L177.6 370.7L171.4 374.5L168.3 376.4M143.3 396.3L143.2 401.3L142.9 411.3L143.1 421.3L143.6 431.3L144.3 440L145.3 447.5L145.8 451.3M141.3 120.2L143.2 122.4L147 126.8L150.7 131.5L154.4 136.4L158.2 141.8L161.9 147.4L165.7 153.3L169.4 159.5L173.2 165.2L176.9 170.1L179.7 173.4L181.6 175L184.4 175.5L188.2 174.8L192.2 173.7L196.6 172.2L201.3 170.9L206.3 170L211.2 169.5L216.2 169.5L220.6 169.1L224.4 168.1L227.6 166.4L230.4 163.9L233.2 163.6L236.1 165.5L238.7 168.3L241.2 172L244 176.1L247.1 180.4L250.3 184.8L253.4 189.2L255.6 194.2L256.8 199.8L258.1 205.1L259.3 210.1L260.9 215.1L262.7 220.1L264.9 225.4L267.4 231L269.6 236.3L271.5 241.3L273.3 246.3L275.2 251.3L277.1 256.3L279 261.3L280.4 265.6L281.4 269.4L281.6 273.8L280.9 278.7L280 284.4L278.8 290.6L275.6 295.6L270.6 299.3L266.3 303.1L262.5 306.8L258.8 310.6L255 314.3L252.5 319.9L251.3 327.4L250.4 336.2L249.7 346.1L248.5 354.9L246.6 362.4L244.4 369.9L241.9 377.4L238.8 383.6L235.1 388.6L230.1 392L223.8 393.9L218.2 395.8L213.2 397.6L210.7 398.6M193.2 436.3L192.6 440L191.4 447.5L190.6 455L190.2 462.5L188.9 470.6L186.8 479.3L185.1 488.1L183.9 496.8L183.4 504.9L183.6 512.4L184.6 521.2L186.2 531.2L188.3 539.3L190.7 545.5L193.2 551.1L195.7 556.1L197 558.6M363 112.7L364.3 116.1L366.8 123L368.9 129.6L370.8 135.8L371.9 143.3L372.3 152L372 160.8L371 169.5L368.6 178.2L364.9 187L361.1 194.5L357.4 200.7L351.2 205.1L342.4 207.6L333.1 210.1L323.1 212.6L316.8 215.7L314.3 219.4L312.8 225.1L312.1 232.6L312.5 241.3L313.7 251.3L315 260L316.2 267.5L316.6 275L316.3 282.5L315 290L312.9 297.5L310.3 305L307.2 312.4L303.7 318.7L300 323.7L296.7 328L294 331.8L292.4 337.4L292 344.9L292.2 353L292.8 361.7L292.8 371.1L292.2 381.1L291.2 389.8L290 397.3L287.8 402.9L284.7 406.7L280 409.2L273.8 410.4L266.9 411.7L259.4 412.9L253.2 414.8L248.2 417.3L244.4 421.7L241.9 427.9L240.1 433.2L238.8 437.4L238 438.8L237.7 437.2L237.1 439L236.2 444L235.9 449L236.2 454L236.3 456.5M202.6 471.4L201.4 474.2L198.9 479.9L196.7 486.1L194.8 493L193.3 500.1L192 507.6L191.2 515.1L190.9 522.6L190.9 529.5L191.2 535.7L192.3 541.3L194.2 546.3L196.1 551L197.9 555.4L199.3 559.1L200.3 562.3L200.7 563.8M157.6 117.1L159.1 119.1L162.3 123.2L165.1 127.4L167.6 131.8L170.1 136.4L172.5 141.4L175 146.1L177.5 150.5L179.6 153.9L181.1 156.4L183.6 157L187.1 155.8L190.3 153.6L193.5 150.5L196 147.1L197.8 143.3L199.7 139.6L201.6 135.8L203.8 132.4L206.3 129.3L209.4 126.6L213.1 124.4L215 123.3M258.7 119.6L260.6 118.8L264.3 117.3L268.7 115.7L273.7 114.1L279.1 112.3L285.1 110.1L288.1 109M393 176.4L396.1 180.1L402.3 187.6L408.6 193.9L414.8 198.8L420.4 203.2L425.4 207L429 209.5L431.3 210.7L432.4 207L432.4 198.2L432.4 193.9M432.9 273.7L429.8 273.1L423.6 271.9L413.6 272.5L399.8 275L385.5 277.5L370.5 280L360.5 282.5L355.5 285L351.8 288.1L349.3 291.8L346.8 295.6L344.3 299.3L341.8 302.5L339.3 305.1L336.2 309.6L332.4 315.8L329 322.7L325.9 330.2L324 338.3L323.4 347L323.1 357.6L323.1 370.1L322.8 381.4L322.1 391.3L320.9 400.1L319 407.6L316.2 413.5L312.5 417.9L308.1 419.7L303.1 419.1L298.1 418.5L293.1 417.9L288.4 419.7L284.1 424.1L280.3 429.4L277.2 435.7L275.5 438.8L275.2 438.9L273.5 442.1L270.3 448.3L266.9 454.6L263.2 460.8L259.4 467.1L255.7 473.3L251.6 479.6L247.2 485.8L243.5 492.7L240.4 500.1L237.6 507.6L235.1 515.1L232.9 522.6L231 530.1L228.5 537L225.4 543.2L222 549.8L218.2 556.6L214.8 561.3L211.7 563.8L210.1 565.1M430.4 301.5L429.8 304.6L428.6 310.8L424.2 312.7L416.7 310.2L408 309.6L398 310.8L388.6 311.8L379.9 312.4L372.4 314.9L366.1 319.3L359.9 324.6L353.7 330.8L348.3 336.4L344 341.4L341.5 347.7L340.9 355.1L340.5 364.5L340.5 375.7L340.2 386.3L339.6 396.3L339 405.7L338.4 414.4L336.8 420.7L334.3 424.4L329.9 426.3L323.7 426.3L316.8 427.5L309.3 430L305.1 432.6L304.2 435.2L302.2 438.7L299 443L295.9 447.7L292.8 452.7L289.7 457.4L286.6 461.8L283.4 466.1L280.3 470.5L277.2 474.2L274.1 477.4L272.5 478.9M243.8 522.6L242.3 525.4L239.1 531L236.3 537L233.8 543.2L231.3 549.5L228.8 555.7L226.8 561.2L225.2 565.8L224.5 568.2M429.2 383.9L426.4 386.3L420.7 391.3L414.8 397L408.6 403.2L402.3 409.4L396.1 415.7L389.9 420.7L383.6 424.4L378.6 428.8L374.9 433.8L369.9 440L363.6 447.5L359.3 455L356.8 462.5L356.3 465.7L357.9 464.5L358.3 467.1L357.7 473.3L355.8 478.6L352.7 483L349.6 488L346.5 493.6L344.3 499.5L343.1 505.8L341.8 509.5L340.6 510.8L338.4 511.4L335.2 511.4L332.1 509.5L329 505.8L325.9 503.3L322.8 502L319.3 501.6L315.6 501.9L312.2 501.4L309 500.1L307.5 499.5M266.3 526.4L265 528.5L262.5 532.9L260 537.9L257.5 543.5L254.7 549.5L251.6 555.7L248.8 561.6L246.3 567.2L244.4 571.6L243.2 574.7L242.6 576.3M208.9 506.4L209.8 505.5L211.7 503.6L214.2 502.8L217.3 503.1L219.6 504.4L221.2 506.5L221.2 509L219.6 511.9L217.1 513.1L213.7 512.8L211.2 511.1L209.6 508L208.9 506.4" fill="none" stroke="#fff" stroke-width="4.1" stroke-linejoin="round" stroke-linecap="butt"/></g>
<path d="M0.4 65.9L6.4 67.1L11.4 69L17.6 71.5L23.9 74.6L27 77.1L31.4 78.4L37.6 80.8L43.8 83.3L48.8 85.8L53.8 88.3L56.3 91.5L56.9 94.6L55.7 97.1L53.8 98.3L56.3 100.2L56.9 103.3L55.7 105.2L58.2 107.1L56.9 109.6L54.4 110.8L53.2 113.3L54.4 116.4L56.3 118.3L60.7 119.5L62.6 122.7L63.2 126.4L66.9 127.7L73.8 128.3L80 130.2L86.3 132L93.8 135.1L100 138.3L105 141.4L110 146.4L115 151.4L119.4 156.4L122.5 161.4L125 167.6L128.1 173.8L130.6 179.5L131.5 184.5L130 188.2L126.2 190.7L121.9 190.1L116.2 188.2L110 185.1L103.8 182L97.5 178.8L91.3 175.7L85 173.2L78.8 171.3L72.5 168.9L66.3 167.6L60.1 167L53.8 166.4L48.8 164.5L44.5 162.9L40.1 162.6L35.1 164.5L28.9 167L23.9 168.9L20.1 170.1L17.6 168.2L15.1 167L12.6 168.9L8.9 170.1L5.1 171.3L2.6 172.6L0.4 173.2ZM22 175.7L27.6 171.3L33.9 167.6L40.1 165.7L46.3 165.7L51.3 167.6L55.1 170.7L58.8 175.1L62.6 179.5L68.8 183.2L75 186.3L80 188.8L85 192.6L88.8 193.8L93.8 195.7L98.8 197.6L105 200.1L111.2 203.8L116.2 206.9L121.9 208.2L126.2 210L128.7 213.2L128.1 217.5L125 221.3L120.6 222.5L115 221.3L110 219.4L103.8 216.3L97.5 214.4L91.3 214.4L86.3 212.5L80 209.4L73.8 206.3L67.6 202.6L61.3 199.4L55.1 196.3L48.8 192.6L42.6 188.8L37.6 185.7L35.1 185.1L32 185.7L28.9 183.2L25.7 180.7L22.6 178.2ZM0.4 180.1L6.4 183.8L12.6 187.6L18.9 191.3L23.9 193.8L28.9 196.9L32.6 200.1L36.3 203.8L38.8 207.6L40.7 211.3L42.6 214.4L40.1 216.3L43.8 215.7L47.6 217.5L51.3 219.4L55.1 221.9L58.8 223.8L62.6 225.7L66.3 227.5L70.1 230L72.5 232.5L73.2 236.3L72.5 237.1L75 234L80 235.2L86.3 237.7L92.5 240.8L98.8 244.6L103.8 248.3L107.5 252.1L111.2 256.4L114.4 261.4L117.5 266.4L120.6 272.7L123.7 278.9L126.9 285.2L129.3 291.4L131.2 297.6L131.2 302.6L129.3 307L125 309.5L118.7 310.1L111.2 310.7L103.8 311.4L96.3 312.6L88.8 313.9L81.3 315.7L73.8 318.2L67.6 320.7L62.6 323.2L58.8 326.3L55.1 328.8L51.3 331.3L47.6 333.2L42.6 335.1L36.3 337.6L31.4 340.1L26.4 342.6L22.6 345.7L17.6 348.2L11.4 349.4L6.4 350.7L0.4 352.6ZM83.8 225.9L88.8 225.2L95 227.7L101.3 230.9L107.5 234L111.2 237.1L113.1 240.8L112.5 243.3L110 242.7L105 239.6L98.8 235.8L92.5 232.1L86.3 229ZM115.6 236.5L118.7 235.2L123.7 237.1L127.5 240.8L127.5 244.6L123.7 247.1L120 244.6L116.9 240.8ZM0.4 403.3L5.1 399L11.4 394.6L17.6 391.5L23.9 389.6L30.1 388.4L38.8 388.4L46.3 389.6L52.6 392.1L58.8 395.8L65.1 400.8L71.3 406.5L76.3 412.1L81.3 418.3L86.3 424.6L91.3 430.8L96.3 435.8L102.5 440.2L105 443.3L107.5 441.4L115 440.2L121.2 443.9L127.5 446.4L133.7 448.3L137.5 450.8L142.5 452L148.7 452.6L154.9 450.8L161.2 448.9L164.9 450.1L164.9 452.6L159.9 455.8L153.7 458.3L147.4 461.4L141.2 464.5L136.2 468.2L131.2 471.4L127.5 475.1L123.7 478.9L118.7 482.6L113.7 487L108.7 491.3L105 495.7L101.3 499L93.8 501.5L86.3 502.1L80 502.7L76.3 501.5L74.4 499L71.3 502.1L67.6 505.9L63.8 510.2L61.3 514L63.2 520.2L66.9 519.6L68.2 515.2L71.3 511.5L73.8 513.4L75.7 515.8L73.8 519.6L70.7 522.7L71.9 527.7L73.8 522.1L78.8 517.7L85 514L91.3 510.2L97.5 507.1L103.8 503.4L107.5 499.6L111.2 495.1L116.2 492.6L122.5 490.7L128.7 488.8L134.3 487L138.7 488.8L141.2 492.6L145 495.1L138.7 500.2L135 504L138.7 507.7L141.2 512.7L142.5 517.7L136.2 520.2L132.5 523.3L133.7 527.7L136.2 531.5L133.7 535.2L136.2 538.9L141.2 540.8L145.6 540.2L142.5 543.9L140 547.7L137.5 551.4L132.5 553.9L127.5 555.8L123.7 557.7L120 555.8L116.9 552L118.7 547.7L119.4 542.7L117.5 538.3L120.6 533.9L117.5 530.2L115.6 527.1L111.9 529L113.7 533.9L114.4 538.9L112.5 545.2L110 550.2L106.3 553.9L101.3 555.8L96.3 556.4L95 551.4L95 543.9L95.6 536.4L94.4 534.6L92.5 537.7L92.5 546.4L91.9 552.7L88.8 550.2L86.3 545.2L83.8 540.2L80 541.4L73.8 540.8L80 542.1L77.5 546.4L76.3 551.4L73.8 555.2L70.1 557.7L66.3 558.9L61.3 557.7L63.8 561.4L60.1 564.5L66.9 565.2L73.8 564.5L81.3 563.9L87.5 565.2L93.8 565.8L91.9 570.1L92.5 572.6L86.3 574.5L80 573.9L76.9 573.3L78.2 577.6L75.7 581.4L80 578.9L83.8 576.4L88.8 575.1L93.8 574.5L97.5 577.6L102.5 578.9L98.8 581.4L97.5 585.1L102.5 587.6L106.9 589.5L102.5 591.4L98.8 593.2L93.8 593.9L88.8 592.6L83.8 590.1L78.8 587.6L75 589.5L76.9 593.2L82.5 595.1L87.5 596.4L92.5 598.9L95 602.6L98.8 605.1L98.1 608.8L95 611.3L93.8 615.1L93.1 621.3L96.3 622.6L92.5 623.8L86.3 622L80 625.1L73.8 625.7L66.3 626.3L58.8 625.7L51.3 623.8L49.5 625.1L52.6 626.9L61.3 626.9L68.8 627.6L73.8 630.1L75 635.1L76.9 641.3L80 646.3L84.4 652.5L84.4 654L0.4 654Z" fill="#808080" stroke="#000" stroke-width="1.7" stroke-linejoin="miter"/>
<path d="M206.2 327.9L210.4 326.9L215 330.6L218.1 329.1L221.2 330.3L223.9 333L218.9 335.7L215.6 334.9L212.3 336.4L208 334.7L205.8 331.7ZM254.8 329.2L258.7 328L260.2 330.7L259.5 334.8L256.3 334.2L254 332ZM185.7 366.6L191.1 366.8L195.1 367.4L199.3 365.4L203.7 369L209.1 371.5L208 376.3L202.5 374.5L199.5 376L196.3 375.3L193.2 376.3L189.4 376L186.1 372.7ZM157.3 392.2L162.3 388.6L165.8 389L168.6 386.5L172.6 387.1L176.6 386.2L179.1 388.2L180 391.4L179.4 396.5L177.5 401.5L174.1 401.5L171 400.5L168.1 398.7L165.5 396.9L159.4 395.8ZM184.8 399.7L189.8 396.8L193.3 397.1L196.2 394.6L199.4 395.5L202.8 394.9L206.1 398L203.8 401.4L201.4 401.3L196.3 400.9L193.4 402.5L190 403.1L185.5 402.1ZM135.6 409.7L139.4 408.2L141.8 411.7L146.1 412.8L149.5 413.3L152.6 412.3L155.7 411.5L158.8 412.6L162 413.5L163.9 416.2L167.4 416.6L170.5 417.9L173.3 419.9L175.9 422.1L179.9 422.4L182.9 424.5L185.5 427.2L188.2 429.8L191.8 430.9L195.3 432.7L192.8 435.6L192.5 440.3L190.7 442.9L186 444.3L182.8 443.1L179.6 441.6L176.7 439.6L174 436.8L170.5 437.8L167.5 436.1L164.4 436.6L161.3 437.9L158.2 436.8L155.1 437.5L152 437.5L148.2 436.8L147.3 433.5L144.9 431.4L142.1 426.4L142.2 423.2L141.2 420.1L139.2 415.5L136.5 412.6ZM191.4 442.1L196.1 442.9L201.3 443L207.2 441.4L208.7 446.3L208.5 449.5L208.3 453.4L205 455.1L205.8 460L201.8 459.5L197.7 455.8L197.3 452L194.9 447.7L193.8 444.6Z" fill="#808080" stroke="#000" stroke-width="1.9" stroke-linejoin="miter"/>
<path d="M111.2 505.2L113.7 502.1L118.7 502.1L120.6 505.2L118.7 510.2L115 512.7L111.9 510.9Z" fill="#fff" stroke="#000" stroke-width="1.1"/>
<path d="M164.5 107.7h0M180.8 109.5h0M218.2 109h0M290.6 109h0M326.8 109h0M363 109h0M180.8 151.9h0M218.2 158.4h0M254.4 161.9h0M290.6 167.1h0M328.1 170.6h0M363 174.4h0M184.5 189.4h0M198.7 195.6h0M218.2 200.1h0M242.7 205.1h0M267.6 213.8h0M290.6 217.6h0M326.8 225.1h0M363 234.3h0M399.2 241.3h0M96.4 218.8h0M118.3 231.3h0M134.6 236.3h0M157 237.5h0M177 239.3h0M200.2 242.5h0M217.5 241.8h0M242.7 254.3h0M266.1 260.5h0M290.6 268.8h0M326.8 280h0M110.9 255h0M127.1 270h0M217 272.5h0M242.7 281.2h0M268.6 291.7h0M290.6 299.2h0M326.8 312.4h0M363 322.4h0M182 297.5h0M198.7 305h0M218.2 309.9h0M238.7 313.7h0M265.6 322.4h0M291.9 332.4h0M218.2 354.9h0M254.4 364.9h0M363 354.1h0M399.2 364.1h0M435.4 376.6h0M146.3 377.4h0M218.2 396.1h0M254.4 406.1h0M326.8 388.1h0M363 399.8h0M217.7 435.5h0M326.8 428.5h0M218.2 436.3h0M254.4 447.5h0M290.6 457.5h0M329.3 471.2h0M363 440h0M363 481.7h0M326.8 428.3h0M199.5 502.4h0M217 508.7h0M254.4 519.9h0M294.4 531.7h0M326.8 544.1h0M363 555.6h0M180.8 560.4h0M197 567.4h0M217.7 572.3h0M235.7 578.1h0M254.4 584.1h0M290.6 594.8h0M435.4 376.4h0M18.9 186.3h0M26.4 199.4h0M49.5 208.5h0M57.6 213.2h0M60.1 218.8h0M70.1 217.3h0M96.3 219h0M72.5 229.4h0M117.5 231.9h0M135 235.6h0" stroke="#000" stroke-width="4" stroke-linecap="round" fill="none"/><text class="w" text-anchor="middle" transform="translate(141.8 307) rotate(8)" y="11.8">10</text><text class="w" text-anchor="middle" transform="translate(150.6 340.1) rotate(-15)" y="11.8">15</text><text class="w" text-anchor="middle" transform="translate(152.6 381.4) rotate(-50)" y="11.8">20</text><text class="w" text-anchor="middle" transform="translate(201.3 417.6) rotate(-58)" y="11.8">25</text><text class="w" text-anchor="middle" transform="translate(222 473.3) rotate(-25)" y="11.8">28</text><text class="w" text-anchor="middle" transform="translate(255 490.2) rotate(-58)" y="11.8">30</text><text class="w" text-anchor="middle" transform="translate(285 512.6) rotate(-30)" y="11.8">33</text><text class="w" text-anchor="middle" transform="translate(235 120.2) rotate(-5)" y="11.8">28</text><text class="w" text-anchor="middle" transform="translate(384.2 158.9) rotate(65)" y="11.8">28</text><path d="M160.7 112.7L160.9 113L161.3 113.7L161.9 114.6L162.6 115.8L163.5 117.2L164.6 118.7L165.7 120.3L166.9 122L168.2 123.6L169.4 125.1L170.7 126.5L171.9 127.7L173.4 128.9L175.1 130L177.1 131L179.3 131.9L181.4 132.6L183.6 133L185.8 133.1L188 132.9L190.1 132.7L192.1 132.4L194.1 132L196 131.5L197.8 130.9L199.7 130L201.6 129L203.4 127.7L205.2 126.5L206.7 125.4L208.1 124.4L209.4 123.5L210.8 122.5L212.3 121.4L214.1 120.2L215.9 119L217.8 117.8L219.7 116.7L221.5 115.7L223.4 114.8L225.6 113.8L228 112.8L230.7 111.7L233.6 110.6L236.8 109.5L240 108.4L243.5 107.3L247.1 106.3L250.6 105.3L254.1 104.4L257.6 103.7L261 103.1L264.5 102.5L267.9 102.2L271.3 101.9L274.8 101.7L278.2 101.6L281.5 101.4L284.9 101.3L288.2 101.2L291.4 101.1L294.6 101.2L297.8 101.4L300.9 101.6L304 101.9L307.2 102.1L310.3 102.4L313.4 102.6L316.5 102.8L319.6 103L322.8 103.2L325.9 103.3L329 103.4L332.1 103.4L335.2 103.5L338.4 103.5L341.3 103.6L344.1 103.8L346.8 104.1L349.3 104.6L351.6 105.1L353.8 105.8L355.8 106.6L357.7 107.6L359.5 108.7L361.2 109.9L362.9 111.3L364.4 112.9L365.8 114.6L367.1 116.5L368.2 118.5L369.1 120.7L370.1 122.9L371.2 125.3L372.4 127.7L373.6 130.2L374.9 132.8L376.1 135.4L377.4 138.1L378.6 141L379.9 143.9L381.3 147L382.8 150.3L384.4 153.8L386 157.1L387.5 160.4L389.1 163.6L390.6 166.7L392.3 169.8L394 172.9L395.8 176.1L397.7 179.2L399.7 182.3L401.9 185.4L404.2 188.5L406.7 191.7L409.2 194.6L411.7 197.4L414.2 200.1L416.7 202.6L419.1 204.9L421.5 207.1L423.7 209.1L425.9 211L427.8 213.2L429.6 215.7L431 218.5L432.3 221.6L433.5 224.9L434.6 228.3L435.6 231.9L436.5 235.7L437.4 239.6L438.1 243.6L438.8 247.8L439.5 252.2L439.9 256.4L440 260.5L439.9 264.4L439.6 268.1L439.2 271.9L438.5 275.6L437.8 279.4L436.8 283.1L435.7 286.5L434.5 289.7L433.1 292.5L431.5 295L430 297L428.4 298.6L426.8 299.6L425.3 300.3L423 300.6L420 300.6L416.4 300.3L412 299.6L407.8 299L403.7 298.4L399.8 297.8L396.1 297.1L392.3 296.5L388.6 295.9L384.9 295.3L381.1 294.7L377.5 294.1L374.1 293.6L370.8 293.2L367.7 292.9L364.7 292.9L361.9 293.2L359.3 293.9L356.8 294.8L354.4 295.9L352 297.1L349.8 298.6L347.6 300.1L345.5 301.8L343.4 303.5L341.5 305.3L339.6 307.1L337.8 309.1L336.1 311.1L334.5 313.2L332.9 315.4L331.5 317.7L330.2 320L329.2 322.4L328.2 324.9L327.4 327.4L326.6 329.9L325.9 332.4L325.3 334.9L324.7 337.6L324.1 340.4L323.7 343.3L323.2 346.5L322.9 349.7L322.7 353.2L322.6 356.8L322.6 360.5L322.6 364.2L322.7 368L322.8 371.7L322.9 375.5L322.9 379.2L322.9 383L322.9 386.7L322.8 390.5L322.5 394L322 397.5L321.4 400.8L320.5 403.9L319.5 406.8L318.4 409.4L317 411.8L315.4 414L313.8 415.8L312.1 417.2L310.3 418.2L308.4 418.9L306.5 419.2L304.7 419.4L302.8 419.3L300.9 419L299.1 418.7L297.4 418.5L295.8 418.4L294.2 418.2L292.6 418.4L290.8 418.9L289.1 419.6L287.2 420.7L285.5 422L283.9 423.4L282.5 425.1L281.3 427L280 429L278.8 431.1L277.5 433.4L276.3 435.9L275.4 437.7L274.8 438.8L274.6 439.3L274.8 439.2L274.5 439.9L273.8 441.4L272.7 443.7L271.1 446.8L269.5 449.9L267.8 453L266 456.1L264.1 459.3L262.2 462.4L260.4 465.5L258.5 468.6L256.6 471.8L254.7 474.9L252.6 478L250.5 481.1L248.3 484.2L246.3 487.5L244.4 490.9L242.7 494.5L241.2 498.3L239.7 502L238.3 505.8L236.9 509.5L235.7 513.3L234.5 517L233.4 520.7L232.4 524.5L231.5 528.2L230.4 531.8L229.1 535.3L227.7 538.5L226.2 541.7L224.5 544.9L222.8 548.1L221 551.5L219.2 554.9L217.4 557.8L215.6 560.1L214 561.9L212.4 563.2L211.3 564.1L210.5 564.7L210.1 565.1" fill="none" stroke="#000" stroke-width="7.5" stroke-dasharray="7.5 7.1" stroke-linejoin="round"/>
<path d="M145.3 0V653.8M290.6 0V653.8M435.9 0V653.8M0 145.3H508.7M0 290.6H508.7M0 435.9H508.7M0 581.2H508.7" stroke="#000" stroke-opacity=".13" stroke-width="1.5" fill="none"/>
<path d="M145.3 0v7M145.3 653.8v-7M290.6 0v7M290.6 653.8v-7M435.9 0v7M435.9 653.8v-7M0 145.3h7M508.7 145.3h-7M0 290.6h7M508.7 290.6h-7M0 435.9h7M508.7 435.9h-7M0 581.2h7M508.7 581.2h-7" stroke="#1e1e1e" stroke-width="1.5" fill="none"/>
<text class="u k" x="29.1" y="57">SSS (PSU)</text>
<text class="k" font-size="32.2" transform="translate(22.6 125.8) rotate(29.5)">Jiangsu</text>
<clipPath id="LA"><path d="M0 235H100L110.6 256.5L113.8 261.5L116.9 266.5L120 272.8L123.1 279L126 290H0Z"/></clipPath><g clip-path="url(#LA)"><text class="k" font-size="31.8" x="4" y="275.4">Shanghai</text></g>
<text class="k" font-size="25.7" x="7.4" y="373.1">Hangzhou Bay</text>
<text class="k" font-size="32.6" x="7.2" y="469.3">Zhejiang</text>
<text class="b" font-size="37" text-anchor="middle" x="259.6" y="625">Multi-year average</text>
<rect x="0" y="0" width="508.7" height="653.8" fill="none" stroke="#1e1e1e" stroke-width="1.6"/>
<rect x="537.2" y="0" width="49.7" height="653.80" fill="#00008f"/>
<rect x="537.2" y="0" width="49.7" height="643.58" fill="#00009f"/>
<rect x="537.2" y="0" width="49.7" height="633.37" fill="#0000af"/>
<rect x="537.2" y="0" width="49.7" height="623.15" fill="#0000bf"/>
<rect x="537.2" y="0" width="49.7" height="612.94" fill="#0000cf"/>
<rect x="537.2" y="0" width="49.7" height="602.72" fill="#0000df"/>
<rect x="537.2" y="0" width="49.7" height="592.51" fill="#0000ef"/>
<rect x="537.2" y="0" width="49.7" height="582.29" fill="#0000ff"/>
<rect x="537.2" y="0" width="49.7" height="572.07" fill="#0010ff"/>
<rect x="537.2" y="0" width="49.7" height="561.86" fill="#0020ff"/>
<rect x="537.2" y="0" width="49.7" height="551.64" fill="#0030ff"/>
<rect x="537.2" y="0" width="49.7" height="541.43" fill="#0040ff"/>
<rect x="537.2" y="0" width="49.7" height="531.21" fill="#0050ff"/>
<rect x="537.2" y="0" width="49.7" height="521.00" fill="#0060ff"/>
<rect x="537.2" y="0" width="49.7" height="510.78" fill="#0070ff"/>
<rect x="537.2" y="0" width="49.7" height="500.57" fill="#0080ff"/>
<rect x="537.2" y="0" width="49.7" height="490.35" fill="#008fff"/>
<rect x="537.2" y="0" width="49.7" height="480.13" fill="#009fff"/>
<rect x="537.2" y="0" width="49.7" height="469.92" fill="#00afff"/>
<rect x="537.2" y="0" width="49.7" height="459.70" fill="#00bfff"/>
<rect x="537.2" y="0" width="49.7" height="449.49" fill="#00cfff"/>
<rect x="537.2" y="0" width="49.7" height="439.27" fill="#00dfff"/>
<rect x="537.2" y="0" width="49.7" height="429.06" fill="#00efff"/>
<rect x="537.2" y="0" width="49.7" height="418.84" fill="#00ffff"/>
<rect x="537.2" y="0" width="49.7" height="408.62" fill="#10ffef"/>
<rect x="537.2" y="0" width="49.7" height="398.41" fill="#20ffdf"/>
<rect x="537.2" y="0" width="49.7" height="388.19" fill="#30ffcf"/>
<rect x="537.2" y="0" width="49.7" height="377.98" fill="#40ffbf"/>
<rect x="537.2" y="0" width="49.7" height="367.76" fill="#50ffaf"/>
<rect x="537.2" y="0" width="49.7" height="357.55" fill="#60ff9f"/>
<rect x="537.2" y="0" width="49.7" height="347.33" fill="#70ff8f"/>
<rect x="537.2" y="0" width="49.7" height="337.12" fill="#80ff80"/>
<rect x="537.2" y="0" width="49.7" height="326.90" fill="#8fff70"/>
<rect x="537.2" y="0" width="49.7" height="316.68" fill="#9fff60"/>
<rect x="537.2" y="0" width="49.7" height="306.47" fill="#afff50"/>
<rect x="537.2" y="0" width="49.7" height="296.25" fill="#bfff40"/>
<rect x="537.2" y="0" width="49.7" height="286.04" fill="#cfff30"/>
<rect x="537.2" y="0" width="49.7" height="275.82" fill="#dfff20"/>
<rect x="537.2" y="0" width="49.7" height="265.61" fill="#efff10"/>
<rect x="537.2" y="0" width="49.7" height="255.39" fill="#ffff00"/>
<rect x="537.2" y="0" width="49.7" height="245.17" fill="#ffef00"/>
<rect x="537.2" y="0" width="49.7" height="234.96" fill="#ffdf00"/>
<rect x="537.2" y="0" width="49.7" height="224.74" fill="#ffcf00"/>
<rect x="537.2" y="0" width="49.7" height="214.53" fill="#ffbf00"/>
<rect x="537.2" y="0" width="49.7" height="204.31" fill="#ffaf00"/>
<rect x="537.2" y="0" width="49.7" height="194.10" fill="#ff9f00"/>
<rect x="537.2" y="0" width="49.7" height="183.88" fill="#ff8f00"/>
<rect x="537.2" y="0" width="49.7" height="173.67" fill="#ff8000"/>
<rect x="537.2" y="0" width="49.7" height="163.45" fill="#ff7000"/>
<rect x="537.2" y="0" width="49.7" height="153.23" fill="#ff6000"/>
<rect x="537.2" y="0" width="49.7" height="143.02" fill="#ff5000"/>
<rect x="537.2" y="0" width="49.7" height="132.80" fill="#ff4000"/>
<rect x="537.2" y="0" width="49.7" height="122.59" fill="#ff3000"/>
<rect x="537.2" y="0" width="49.7" height="112.37" fill="#ff2000"/>
<rect x="537.2" y="0" width="49.7" height="102.16" fill="#ff1000"/>
<rect x="537.2" y="0" width="49.7" height="91.94" fill="#ff0000"/>
<rect x="537.2" y="0" width="49.7" height="81.73" fill="#ef0000"/>
<rect x="537.2" y="0" width="49.7" height="71.51" fill="#df0000"/>
<rect x="537.2" y="0" width="49.7" height="61.29" fill="#cf0000"/>
<rect x="537.2" y="0" width="49.7" height="51.08" fill="#bf0000"/>
<rect x="537.2" y="0" width="49.7" height="40.86" fill="#af0000"/>
<rect x="537.2" y="0" width="49.7" height="30.65" fill="#9f0000"/>
<rect x="537.2" y="0" width="49.7" height="20.43" fill="#8f0000"/>
<rect x="537.2" y="0" width="49.7" height="10.22" fill="#800000"/>
<text font-size="33.4" x="600.9" y="666.2">10</text>
<text font-size="33.4" x="600.9" y="524.1">15</text>
<text font-size="33.4" x="600.9" y="381.9">20</text>
<text font-size="33.4" x="600.9" y="239.8">25</text>
<text font-size="33.4" x="600.9" y="97.7">30</text>
<path d="M586.9 511.7h-7M586.9 369.5h-7M586.9 227.4h-7M586.9 85.3h-7" stroke="#1e1e1e" stroke-width="1.2" fill="none"/>
<rect x="537.2" y="0" width="49.7" height="653.8" fill="none" stroke="#1e1e1e" stroke-width="1.5"/>
<text class="t" text-anchor="end" x="-15.5" y="13.7">33°N</text>
<text class="t" text-anchor="end" x="-15.5" y="159">32°</text>
<text class="t" text-anchor="end" x="-15.5" y="304.3">31°</text>
<text class="t" text-anchor="end" x="-15.5" y="449.6">30°</text>
<text class="t" text-anchor="end" x="-15.5" y="594.9">29°N</text>
</g>
<text class="s" x="-0.5" y="24.5">A</text>
<g transform="translate(141.1 721)">
<clipPath id="cB"><path d="M98.9 137.7L110.8 137.7L112 132.1L124.5 130.8L125.7 124L140.7 122.7L142 116.5L166.9 115.2L173.8 109L360.5 109L364.3 121.5L364.3 128.9L368.8 128.9L368.8 136.4L373.4 136.4L373.4 143.9L378 143.9L378 150.8L381.7 150.8L381.7 157.7L385.5 157.7L385.5 164.5L389.2 164.5L389.2 171.4L393 171.4L393 178.9L397.1 178.9L397.1 186.4L401.3 186.4L401.3 193.9L405.5 193.9L405.5 201.3L408.8 201.3L408.8 208.8L412.1 208.8L412.1 216.3L415.4 216.3L415.4 223.2L418.6 223.2L418.6 230.1L421.7 230.1L421.7 236.9L424.8 236.9L424.8 243.8L427.9 243.8L429.2 251.3L427.9 261.5L420.4 264L420.4 270.6L418.8 270.6L418.8 277.3L417.1 277.3L417.1 283.9L415.4 283.9L415.4 292.3L412.9 292.3L412.9 300.6L410.4 300.6L410.4 308.9L408 308.9L408 317.2L405.5 317.2L405.5 325.5L403 325.5L403 333.9L400.5 333.9L393 343.9L393 352.2L390.5 352.2L390.5 360.5L388 360.5L388 368.8L385.5 368.8L385.5 377.1L383 377.1L383 385.5L380.5 385.5L380.5 393.8L378 393.8L378 402.1L375.5 402.1L375.5 410.4L373 410.4L373 418.8L370.5 418.8L370.5 427.1L368 427.1L368 435.4L365.5 435.4L365.5 443.7L363 443.7L363 451.2L359.3 451.2L359.3 458.7L355.5 458.7L355.5 476.2L349.3 478.7L349.3 484.9L346.2 484.9L346.2 491.2L343 491.2L340.5 508.6L333.1 507.4L333.1 503.6L325.6 503.6L325.6 499.9L318.1 499.9L305.6 498.6L305.6 496.1L298.1 496.1L298.1 493.7L290.6 493.7L280.6 486.2L268.1 486.2L258.2 484.9L250.7 478.7L235.7 477.4L230.7 472.4L210.7 471.2L210.7 463.7L210.7 455L208.2 455L208.2 446.2L205.7 446.2L197 436.2L195.7 428.7L195.7 422.5L189.5 422.5L189.5 416.3L183.3 416.3L180.8 408.8L180.8 401.3L175.8 401.3L175.8 393.8L170.8 393.8L170.8 387.5L164.5 387.5L164.5 381.3L158.3 381.3L155.8 373.8L145.8 363.8L145.8 356.3L138.9 356.3L138.9 348.8L132.1 348.8L130.8 338.9L130.8 331.4L124 331.4L124 323.9L117.1 323.9L117.1 313.9L109.6 310.2L58.9 306.3L58.9 299.2L56.6 299.2L56.6 292L54.3 292L54.3 284.9L52 284.9L52 277.8L49.7 277.8L49.7 270.7L47.3 270.7L47.3 263.5L45 263.5L45 256.4L42.7 256.4L42.7 249.3L40.4 249.3L40.4 242.2L38.1 242.2L38.1 235L35.8 235L35.8 227.9L33.5 227.9L33.5 220.8L31.2 220.8L31.2 213.7L28.8 213.7L28.8 206.5L26.5 206.5L26.5 199.4L24.2 199.4L24.2 192.3L21.9 192.3L21.9 177.3L21.9 175L29.2 175L29.2 172.8L36.4 172.8L36.4 170.5L43.7 170.5L43.7 168.3L50.9 168.3L50.9 156.3L50.9 153.6L57.8 153.6L57.8 151L64.6 151L64.6 148.3L71.5 148.3L71.5 145.7L78.3 145.7L78.3 143L85.2 143L85.2 140.4L92 140.4L92 137.7Z"/></clipPath><g clip-path="url(#cB)"><rect x="13.9" y="101" width="423.3" height="415.7" fill="#00008f"/><path d="M13.9 101L439.9 101L439.9 518L13.9 518L13.9 435L22.9 428.6L58.9 395.2L124.9 327.7L127.9 326.8L130.9 327.3L139.9 330.7L145.9 331.2L148.9 330.2L154.9 325.8L166.9 312.6L173.8 302L176.9 293L178 281L176.9 269L174.8 260L166.3 239L155.5 221L145.9 213.5L141.6 209L135.9 194L124.9 180.3L118.9 175.2L85.9 157.2L31.9 120.6L19.9 112.9L13.9 110.1Z" fill="#00009f"/><path d="M13.9 101L439.9 101L439.9 518L13.9 518L13.9 443.7L19.9 439.7L43.9 417.1L100.9 359.3L115.9 345.3L121.9 341L127.9 338.2L145.9 336L151.9 333.3L154.9 330.9L166.9 316.8L174.6 305L178.3 296L180 284L179.6 275L177.4 263L169.3 242L156.5 221L142.7 209L139.6 203L136.9 194L124.9 179.3L118.9 174.2L85.3 155L28.9 115.2L13.9 106Z" fill="#0000af"/><path d="M15.1 101L439.9 101L439.9 518L13.9 518L13.9 452.6L19.9 448.4L40.9 428L100.9 365.6L112.9 354.3L124.9 346.5L148.9 339.5L157.9 333L166.9 321.3L177 305L180.5 296L182.1 284L181.5 275L179.2 263L175.2 251L170.9 242L157.5 221L142.9 207.9L140.4 203L137.7 194L124.9 178.3L118.9 173.1L94.9 159.3L79.3 149Z" fill="#0000bf"/><path d="M21.7 101L439.9 101L439.9 518L13.9 518L13.9 461.8L19.9 457.5L40.9 436.3L99 374L112.9 360.3L124.9 352L148.9 344L157.9 338L166.9 326.3L178.9 305.7L182.6 296L184.2 284L183.5 275L181.1 263L174.1 245L158.4 221L145.9 210.2L142.9 206.5L138.5 194L124.9 177.3L118.9 172.1L95.2 158L78 146L27.6 107Z" fill="#0000cf"/><path d="M26.9 101L439.9 101L439.9 518L13.9 518L13.9 471.3L19.9 466.8L40.9 444.9L102.2 377L114.2 365L127.9 355.4L151.9 347.3L160.9 340.1L169.9 326.6L181.5 305L185.5 293L186.4 284L185.6 275L182.9 263L175.8 245L159.3 221L145.9 209.1L143.5 206L139.4 194L124.9 176.3L118.9 171L94.9 156.1L80.7 146L32.4 107Z" fill="#0000df"/><path d="M31.7 101L439.9 101L439.9 518L13.9 518L13.9 481.2L19.9 476.5L37.9 457L105.5 380L117.2 368L130.9 358.2L139.9 354.6L151.9 351.8L155.8 350L160.9 345.6L169.9 332.2L182.3 308L186.9 296L188.5 287L188.1 278L185.7 266L181.9 254L177.6 245L160.2 221L144.4 206L139.9 193.6L124.9 175.3L118.9 170L95.6 155L79.5 143L36.9 107Z" fill="#0000ef"/><path d="M36.2 101L439.9 101L439.9 518L13.9 518L13.9 491.5L19.9 486.6L37.9 466.3L106.1 386L120 371L127.1 365L133.9 360.7L142.9 357.2L154.9 355.3L162 350L169.9 338.3L184.5 308L189.1 296L190.8 287L190.4 278L187.6 266L183.8 254L179.4 245L161.1 221L145.3 206L139.9 192.5L124.9 174.3L118.9 168.9L93.7 152L82.1 143L41.1 107Z" fill="#0000ff"/><path d="M40.4 101L439.9 101L439.9 518L13.9 518L13.9 502.2L19.9 497L43.9 468.9L117 380L125.8 371L133.9 364.6L142.9 360.3L157.9 358.2L161.2 356L166.6 350L172.9 338.7L187.9 305L191.4 296L193.2 287L193.2 281L191.3 272L186.8 257L183 248L176.9 239L162 221L146.1 206L139.5 191L121.9 170.2L84.5 143L45.1 107ZM232.9 250.7L231.6 254L232.9 255.8L235.9 256L238.1 254L237.1 251L235.9 250.3Z" fill="#0010ff"/><path d="M44.4 101L439.9 101L439.9 518L13.9 518L13.9 513.5L19.9 508L34.9 489.7L125.3 377L131.3 371L139.4 365L145.9 362.3L157.9 361.2L160.9 360L168.5 353L173.7 344L191.4 302L195.7 287L195.7 281L194.5 275L187.7 254L183.3 245L160.2 218L147.1 206L145 203L140.3 191L121.9 169.1L94.3 149L83.5 140L48.9 107ZM232.9 248.9L230.2 251L229.2 254L229.9 256.2L232.9 258.3L235.9 258.1L238.9 256.2L240.2 254L239.6 251L235.9 248.5Z" fill="#0020ff"/><path d="M48.2 101L439.9 101L439.9 518L22.4 518L25.8 512L130.5 377L136.4 371L142.9 366.2L148.9 364L160.9 362.9L166.9 359.4L170.3 356L175.9 346.3L184.2 323L194.9 299L197.8 290L198.6 284L198 278L189.8 254L183.2 242L161.1 218L148 206L144.4 200L141 191L133.9 183.4L124.9 171.1L118.9 165.4L96.5 149L85.8 140L52.5 107ZM232.9 247.3L228.3 251L227.3 254L227.7 257L229.9 259.4L232.9 260.2L238.9 258.3L241.9 254L241.3 251L238.9 248.3L235.9 247.1Z" fill="#0030ff"/><path d="M51.8 101L439.9 101L439.9 518L31.3 518L36.8 509L138.2 374L145 368L148.9 366.2L160.9 365.2L166.9 362.9L174.4 356L178.7 347L187.5 320L198.4 296L201.7 284L201.1 278L191.9 254L185.3 242L162 218L148.9 206L145.9 201.6L141.7 191L133.4 182L124.9 169.9L84.9 137L56 107ZM229.9 247.3L226.5 251L225.4 254L225.3 257L226.9 260.3L229.9 261.9L235.9 261.4L242.3 257L243.4 254L242.9 251L240.4 248L235.9 245.9Z" fill="#0040ff"/><path d="M55.3 101L439.9 101L439.9 518L39.8 518L45.1 509L142.7 374L145.9 370.7L150.7 368L163.9 366.9L169.4 365L176.2 359L180.6 350L188.4 323L202.1 293L205.5 281L203.8 275L199.9 268.2L193 251L187.6 242L149.9 206L145.9 200.2L142.4 191L133.9 181.7L124.9 168.7L87.2 137L59.3 107ZM232.9 244.8L226.9 248L223.3 254L223.2 260L226.9 263.9L229.9 264.3L235.9 263L241.5 260L244.1 257L245 254L244.3 251L242.2 248L238.9 245.7Z" fill="#0050ff"/><path d="M58.7 101L439.9 101L439.9 518L48.1 518L53.2 509L147.1 374L151.9 370.3L163.9 369.7L169.9 368.3L175.2 365L178.9 360.7L182.5 353L191.5 320L209.2 284L210.8 278L210 275L202.9 267.1L195.5 251L189.9 242L150.9 206L146.6 200L143.2 191L132.5 179L124.9 167.5L89.4 137L65 110ZM229.9 244.4L224.8 248L222.4 251L219.9 257L219.5 263L220.9 266.1L223.9 267.4L229.9 266.9L235.9 264.9L241.9 261.6L245.9 257L246.6 254L245.8 251L241.9 246.4L235.9 243.7Z" fill="#0060ff"/><path d="M61.9 101L439.9 101L439.9 518L56.1 518L59 512L68.9 497L138.7 395L150.1 377L151.9 374.8L154.9 373.1L166.9 372.7L172.9 370.7L178.9 365.9L181.7 362L184.9 354.3L190.4 329L194.7 317L207.3 293L217.9 277.8L223.9 272.7L242.7 263L246 260L247.7 257L248.2 254L245.2 248L241.8 245L235.9 242.6L229.9 243.1L222.4 248L211.9 262.7L208.9 264L205.9 262.8L192.4 242L172.9 225.5L151.9 206L147.4 200L143.8 191L133.3 179L124.9 166.3L91.6 137L68 110Z" fill="#0070ff"/><path d="M65 101L439.9 101L439.9 518L63.9 518L68.5 509L101.6 458L151.9 384.8L157.9 378.9L172.9 374.9L178.9 370.6L181.9 367L187 356L191.6 332L195.3 320L199.9 310.2L210 293L223.9 277.1L245.7 263L248.3 260L249.8 254L248.8 251L244.9 246.2L241.9 243.9L235.9 241.6L229.9 241.9L226.9 243L211.9 253.9L208.9 254.7L205.9 253.8L202.9 251.5L191.9 239L172.9 224.2L151.9 204.9L148.2 200L144.5 191L134 179L124.9 165L93.6 137L73.2 113Z" fill="#0080ff"/><path d="M68 101L439.9 101L439.9 518L71.4 518L75.9 509L107.9 458L129.7 425L145.9 402.5L157.9 388.9L175.9 377.8L181.9 372L184.7 368L189.4 356L193.6 332L196.1 323L201.4 311L210.5 296L226.9 278.2L247.9 263.7L251.4 257L250.2 251L248.2 248L241.9 242.7L235.9 240.5L226.9 241.6L211.9 249.1L205.9 248.5L169.9 220.5L151.2 203L148.9 199.7L145.2 191L134.9 179L125.2 164L101.6 143L92.9 134L73.6 110Z" fill="#008fff"/><path d="M71 101L439.9 101L439.9 518L78.7 518L83 509L108.4 467L142.1 416L154.9 400.3L175.9 383.2L181.9 377.1L186.2 371L191.1 359L195.4 332L197.9 323L202.9 311.8L210.7 299L215.3 293L226.9 281.3L248.8 266L251.3 263L253.1 257L251.6 251L249.6 248L241.9 241.5L232.9 239.3L226.9 240.3L211.9 245.6L205.9 244.7L169.9 219.3L152.2 203L144 188L135.8 179L126.3 164L94.9 134L76.3 110Z" fill="#009fff"/><path d="M73.8 101L439.9 101L439.9 518L85.9 518L90 509L111 473L141.6 425L154.9 408L175.9 389.3L181.9 382.8L187.9 374L193.5 359L198.7 326L203.6 314L210.8 302L217.8 293L226.9 284L250.9 267.4L253.8 263L254.8 257L253 251L251 248L241.9 240.4L232.9 238.2L226.9 239L214.9 242.5L205.9 241.8L178.9 225L163.9 213.1L151.9 201.3L144.8 188L136.7 179L129.7 167L124.9 160.8L102.3 140L94.4 131L78.9 110Z" fill="#00afff"/><path d="M76.6 101L439.9 101L439.9 518L92.9 518L95.3 512L115.5 476L143.3 431L157.1 413L178.9 392.4L188.2 380L192.4 371L195.2 362L200.4 326L203.9 317L209 308L217.6 296L226.9 286.6L232.9 282L247.9 273.1L252.9 269L255.1 266L256.7 260L255.7 254L252.3 248L247.9 243.4L241.9 239.3L232.9 237.1L214.9 240.3L205.9 239.3L178.9 223.7L160.9 209.5L151.9 200L145.6 188L136.9 177.8L126.3 161L104.2 140L96.4 131L81.5 110Z" fill="#00bfff"/><path d="M79.3 101L439.9 101L439.9 518L99.7 518L103.6 509L121.6 476L147.1 434L160.9 415.9L182.3 395L190.5 383L194.4 374L197.6 362L201.4 329L204.4 320L209 311L217.3 299L226.9 289L232.9 284.4L247.9 276.1L253.9 271.7L257.9 266L258.6 260L257.1 254L253.6 248L247.9 242.2L241.9 238.2L232.9 236L214.9 238.4L205.9 237.1L178.9 222.4L161.5 209L151.9 198.4L146.5 188L136.9 176.3L127.9 161.4L121.9 154.6L106 140L98.3 131L84 110Z" fill="#00cfff"/><path d="M81.9 101L439.9 101L439.9 518L106.4 518L108.6 512L126 479L150.8 437L163.9 419.4L184.9 398.5L191.6 389L196.5 377L199.5 365L203.1 329L206.1 320L211 311L219.6 299L229.9 288.9L235.9 284.7L250.9 277.3L256.9 272.5L259.9 267.8L261 263L259.8 257L254.9 248L249.1 242L241.9 237.1L232.9 235L214.9 236.5L205.9 235.1L181.9 223L162.7 209L154.1 200L147.3 188L137.8 176L127.9 159.7L107.8 140L100.2 131L86.4 110Z" fill="#00dfff"/><path d="M84.5 101L439.9 101L439.9 518L112.9 518L116.5 509L131.9 479L154.5 440L167.6 422L187.9 401.7L194.7 392L198.1 383L202 365L204.8 329L206.6 323L211.1 314L219.3 302L229.9 291.1L238.9 285.4L250.9 280.2L258.2 275L262.4 269L263.3 263L261.6 257L256.2 248L250.6 242L241.9 236L232.9 233.9L214.9 234.8L205.9 233.1L181.9 221.6L163.9 208.9L153 197L148.2 188L139 176L127.9 158.1L106.9 137.1L102.1 131L88.8 110Z" fill="#00efff"/><path d="M87.1 101L439.9 101L439.9 518L119.4 518L122.8 509L137.8 479L160 440L172.9 422.3L191.9 404L198.2 395L201.1 386L204.6 365L206.5 329L208.4 323L213 314L221.5 302L232.9 291.1L238.9 287.5L250.9 283L258.8 278L263.9 272L265.9 266L264.7 260L259.7 251L252 242L244.9 236.5L235.9 233L214.9 233.1L202.9 230.3L178.9 218.6L161.9 206L154.1 197L148.9 187.7L140.2 176L129.2 158L121.9 149.7L108.6 137L103.9 131L91.2 110Z" fill="#00ffff"/><path d="M89.6 101L439.9 101L439.9 518L125.7 518L129 509L143.5 479L165.4 440L178.6 422L195.4 407L202.1 398L204.7 389L207.4 362L207.8 332L209 326L213.2 317L221.3 305L232.9 293.3L238.9 289.6L253.9 284.5L259.9 280.5L266.9 272L268.5 266L266.8 260L258.8 248L253.3 242L244.9 235.3L235.9 231.9L214.9 231.5L202.9 228.6L181.9 219.1L172.9 213.6L163.2 206L154.9 196.5L130.5 158L121.9 147.9L110.4 137L105.7 131L93.5 110Z" fill="#10ffef"/><path d="M92.1 101L439.9 101L439.9 518L131.9 518L136.4 506L150.7 476L172.6 437L183.8 422L199.9 409.3L206.8 401L208.9 392L208.8 377L210.1 356L209.6 332L210.9 326L214.9 317.5L223.6 305L232.9 295.6L238.9 291.8L253.9 287.5L262.9 281.2L268.9 273.4L270.9 266L268.9 260L260.1 248L253.9 241.2L244.9 234.2L235.9 230.8L214.9 229.9L199.9 225.9L178.9 216.1L163.9 205.4L154.9 194.9L130.9 156.6L107.5 131L95.8 110Z" fill="#20ffdf"/><path d="M94.6 101L439.9 101L439.9 518L138 518L142.4 506L156.2 476L167.2 455L179.6 434L187.9 423.2L205.9 410.8L209.6 407L213.5 401L214.4 395L212 380L212.6 356L211.4 335L211.9 329L214.9 321.3L223.9 307.5L235.7 296L241.9 293L253.9 290.5L262.9 284.7L270.7 275L272.9 269L273 266L270.8 260L261.5 248L252.8 239L244.9 233L235.9 229.6L214.9 228.2L196.9 223.2L178.9 214.9L163.9 204.2L155.4 194L130.9 154.6L109.3 131L98.1 110Z" fill="#30ffcf"/><path d="M97 101L439.9 101L439.9 518L144 518L149.5 503L163.2 473L174.1 452L186.6 431L191.9 425L202.9 419.1L208.9 414.6L216.5 407L220.5 401L221.3 398L220.8 395L216.1 383L215 377L215.2 356L213.5 332L216.3 323L223.9 310.7L235.9 298.6L241.9 295.7L253.9 293.6L264 287L268.9 281.6L273.1 275L274.9 269.5L274.9 266L272.6 260L262.9 248L254.2 239L244.9 231.9L235.9 228.5L217.2 227L196.9 221.7L178.9 213.7L169.9 208L164 203L156.6 194L132.7 155L111.2 131L101.8 113Z" fill="#40ffbf"/><path d="M99.4 101L439.9 101L439.9 518L149.8 518L155.2 503L167.1 476L177.7 455L188.2 437L193.9 429.6L205.9 422.5L213.6 416L222.1 407L226.9 399.9L227.3 395L220.9 384.2L218.6 377L215.8 332L218.7 323L226.5 311L235.9 301.7L241.9 298.8L255.4 296L265.9 288.6L271.9 281.1L274.9 275.7L276.2 272L276.4 266L274.3 260L264.3 248L255.5 239L244.9 230.8L235.9 227.3L214.9 224.9L193.9 219.2L175.9 210.9L165.3 203L157.7 194L132 152L112.9 130.6L104 113Z" fill="#50ffaf"/><path d="M101.8 101L439.9 101L439.9 518L155.6 518L159.6 506L171 479L181.3 458L189.9 443L196.9 434.1L208.9 425.1L217.9 416.7L224 410L230.2 401L231.2 395L223.5 380L221.9 374L218.5 335L219.1 329L220.9 324.3L227.3 314L235.9 305.3L241.9 302.3L256.9 298.2L267.8 290L275.9 278L277.9 272L277.9 266L274.9 258.7L268.5 251L256.9 239L244.9 229.7L235.9 226.1L217.9 223.7L193.9 217.7L178.9 211.4L166.6 203L157.9 192.4L133.9 152.3L113.4 128L104.9 110Z" fill="#60ff9f"/><path d="M104.3 101L439.9 101L439.9 518L161.4 518L165.1 506L174.9 482L191.5 449L199.9 437.8L214.9 424.3L223.9 414.6L229.9 406.6L232.9 400.8L233.8 395L233.3 392L226.6 377L224.8 368L221.6 335L222.3 329L223.9 324.9L228.6 317L235.9 309.3L241.9 305.9L256.9 301.1L262.9 297.5L268.9 292.2L274.9 284.2L277.9 278L279.4 272L279.1 266L277 260L270 251L258.3 239L244.9 228.6L235.9 224.9L217.9 221.9L190.9 215.3L175.9 208.6L166.9 201.9L158.2 191L135.4 152L115.5 128L108.4 113Z" fill="#70ff8f"/><path d="M106.7 101L439.9 101L439.9 518L167 518L177.5 488L193.1 455L201.1 443L226.9 415.2L232.3 407L234.9 401L235.9 392L229.5 374L227.1 359L225.1 335L227.1 326L232.7 317L238.9 311.3L259.9 302.4L268.9 295.6L273.7 290L277.9 282.8L280.4 275L280.8 269L278.2 260L274 254L259.7 239L244.9 227.5L235.9 223.6L199.9 216.3L187.9 213L175.9 207.5L166.9 200.6L159.4 191L136.9 151.7L117.9 128L110.7 113Z" fill="#80ff80"/><path d="M109.1 101L439.9 101L439.9 518L172.5 518L182.7 488L196.4 458L206.4 443L229.9 415.4L233.3 410L236.9 401L238.1 395L237.8 389L231.7 368L229 344L228.9 335L231.3 326L235 320L241.4 314L262.9 303.5L271.9 295.8L276.4 290L279.5 284L282 275L282 269L279.3 260L274.9 253.4L261.1 239L244.9 226.4L232.9 221.5L187.9 211.7L175.9 206.4L167.6 200L160.6 191L138.8 152L118.4 125L112.9 113Z" fill="#8fff70"/><path d="M111.5 101L439.9 101L439.9 518L177.9 518L187.7 488L201.2 458L208.8 446L232.5 416L238 404L240.2 395L240.3 389L233.8 359L232.6 341L234.4 329L237.5 323L243.3 317L262.9 306.5L268.9 302.1L274.9 295.9L281.6 284L283.4 275L283.1 269L280.4 260L274.9 251.9L262.5 239L244.9 225.3L235.9 221L220.9 216.8L187.9 210.4L177.3 206L169 200L161.9 191L138.7 149L120.8 125L115.2 113Z" fill="#9fff60"/><path d="M113.9 101L439.9 101L439.9 518L183.3 518L191.6 491L204.2 461L213.1 446L235.5 416L239.4 407L242.5 395L242.9 389L238 365L237.1 356L236.7 338L238.9 329L245.3 320L265.9 307.7L271.9 302.8L277.8 296L281.4 290L283.9 282.8L284.9 275L284.3 269L280.9 258.8L274.9 250.4L264 239L244.9 224.2L235.9 219.6L217.9 213.9L193.9 210.5L184.9 208.2L175.9 204.1L169.9 199.5L161.4 188L140.6 149L121.9 122.7L116.4 110Z" fill="#afff50"/><path d="M116.4 101L439.9 101L439.9 518L188.5 518L196.5 491L208.6 461L215.2 449L236.5 419L241.3 410L245.7 389L240.8 356L241 338L243.5 329L247.5 323L250.8 320L268.9 308.8L278.6 299L282.4 293L284.8 287L286.1 281L286 272L282.5 260L277.9 252.5L265.4 239L244.9 223L232.9 216.8L217.9 211.6L193.9 209L184.9 207L175.9 202.9L169.9 198.1L162.7 188L142.9 149.5L123.9 122L118.8 110Z" fill="#bfff40"/><path d="M118.8 101L439.9 101L439.9 518L193.7 518L201.3 491L214.1 458L230.3 431L241.7 416L244.4 410L248.1 395L248.7 389L244.9 359L245.2 341L246.9 332L249.9 326L252.6 323L268.9 312.4L274.9 307.1L281.6 299L287 287L287.9 281L287.4 272L282.1 257L275.2 248L263.4 236L241.9 219.9L229.9 213.7L217.9 209.2L208.9 207.8L193.9 207.5L184.9 205.8L175.9 201.7L170.2 197L164 188L144.6 149L126.4 122L121.2 110Z" fill="#cfff30"/><path d="M121.3 101L439.9 101L439.9 518L198.8 518L205 494L219.3 455L230.9 434L245.2 416L249.2 407L251.7 392L249.1 359L250 341L251.8 332L255.2 326L271.9 313.8L283.9 300.2L287.6 293L289.2 287L289.3 275L284.6 260L279.1 251L264.9 236L241.9 218.6L220.9 207.4L211.9 205.5L196.9 206L187.9 205.3L178.9 202.2L171.7 197L165.5 188L146.6 149L128.8 122L123.6 110Z" fill="#dfff20"/><path d="M123.8 101L439.9 101L439.9 518L203.8 518L209.6 494L219.4 464L225.3 449L233.4 434L249.2 416L253.7 407L255.1 392L253.4 359L255.3 341L257.4 332L259.9 328.2L277.9 312.1L286.9 300.3L290.2 293L291.4 287L290.9 275L284.3 257L274.9 244.7L266.3 236L235.9 213L226.9 207.3L217.9 203.3L211.9 202.5L196.9 204.2L187.9 203.9L178.9 200.9L172.9 196.6L166.9 188L150.3 152L129.6 119L126 110Z" fill="#efff10"/><path d="M126.3 101L439.9 101L439.9 518L208.7 518L214.1 494L226 455L230.7 443L235.9 433.8L251 419L257.5 410L258.9 401L257.6 362L261.9 338L266.5 329L280.9 313.1L289.9 300.6L293.4 290L293.1 278L290.6 269L285.4 257L281.6 251L273.8 242L267.8 236L226.9 204.3L220.9 200.7L214.9 199.1L208.9 199.4L193.9 202.7L187.9 202.5L178.9 199.6L172.9 194.9L168.4 188L152.4 152L132 119L128.4 110Z" fill="#ffff00"/><path d="M128.8 101L439.9 101L439.9 518L213.5 518L217.7 497L225.1 473L229 455L232.8 443L238.3 434L255.5 419L259.9 413.9L262.1 410L263 404L260.9 371L263 356L268.1 338L270.8 332L290.8 305L293.9 299L296.1 287L295 278L292.1 269L285 254L275.1 242L269.2 236L249.7 221L223.9 198L217.9 195L211.9 194.7L196.9 200.2L187.9 201L178.9 198L173.8 194L169.9 188L161.6 167L154.5 152L134.4 119L130.8 110Z" fill="#ffef00"/><path d="M131.3 101L439.9 101L439.9 518L218.2 518L221.3 500L229 473L231.7 455L234.9 443L238.9 436.3L259.7 419L266 410L266.6 404L264.1 377L265.7 362L276 332L296 302L298.3 293L297.8 281L295 272L287.8 257L281.7 248L270.6 236L253.9 223.3L244.6 215L223.9 192.1L217.9 189.2L211.9 189.4L198.7 197L190.9 199.2L181.9 197.9L175.8 194L171.7 188L158.2 155L136.7 119L133.2 110Z" fill="#ffdf00"/><path d="M133.9 101L439.9 101L439.9 518L222.9 518L226.1 497L232.5 473L234.2 455L236.1 446L238.7 440L241.1 437L262.9 419.3L269.1 410L269.6 404L267.2 380L268.7 365L280.5 332L287.7 320L296.6 308L299.6 302L301.3 293L300.7 284L296.8 272L285.6 251L271.9 236L253.9 222.2L246.1 215L236.5 203L226.9 188.2L223.9 185.7L217.9 183.8L211.9 184.4L205.9 187.3L196.9 194.7L190.9 197.1L184.9 197L181.9 195.9L175.9 191.6L172.9 186.4L165.8 167L160.4 155L138.9 119L135.5 110Z" fill="#ffcf00"/><path d="M136.4 101L439.9 101L439.9 518L227.4 518L229.5 500L235.4 473L236.5 455L238.3 446L241.3 440L244.1 437L265.9 419.1L271.6 410L272.2 404L270.1 380L272 365L284.5 332L302.4 305L304.4 296L303.3 284L297.3 269L287 251L273.3 236L253.9 221.2L247.6 215L239.3 203L232.2 188L226.9 182L220.9 179.6L211.9 180.2L205.9 183L196.6 191L190.9 194.3L184.9 194.5L178.3 191L174.6 185L168.2 167L162.7 155L141 119L137.9 110Z" fill="#ffbf00"/><path d="M139 101L439.9 101L439.9 518L231.9 518L233.5 500L237.8 476L238.8 455L240.7 446L244.9 439.2L265.8 422L272.6 413L274.4 404L272.9 380L275.2 365L286.9 334.7L292.9 324.9L303.6 311L306.6 305L308 296L306.8 287L301 272L288.6 251L274.6 236L254.9 221L246.7 212L240.6 200L235.9 185.5L230.9 179L223.9 175.6L214.9 175.3L205.9 179L190.9 190.5L184.9 191.3L179.5 188L176.2 182L170.8 167L165.1 155L143.1 119L140.2 110Z" fill="#ffaf00"/><path d="M141.7 101L439.9 101L439.9 518L236.4 518L237.3 500L240.6 476L240.7 458L242.1 449L244.7 443L247.1 440L265.9 424.2L274.6 413L276.5 404L275.6 380L278.3 365L289.9 335.8L310.1 308L312 299L310.7 290L307.7 281L303.4 272L287.9 248L272.5 233L253.9 219L248.1 212L243.2 200L240 182L235.9 175.7L226.9 171L220.9 170.1L214.9 170.6L205.9 174.6L190.9 185.5L184.9 186.3L181.9 184.4L178.9 179.8L172.5 164L167.8 155L146.6 122L143.2 113Z" fill="#ff9f00"/><path d="M144.4 101L439.9 101L439.9 518L240.9 518L241.1 500L243.3 476L242.9 458L244.4 449L247.4 443L250 440L268.9 423.6L276.6 413L278.5 404L278.6 377L282.2 362L289.2 344L292.9 336.8L313.9 311L316.2 305L316.1 296L313.2 287L307.6 275L292.2 251L274 233L254 218L249.3 212L245.5 200L246.2 179L244.5 173L241.6 170L235.9 167.2L223.9 164.3L217.9 164.2L208.9 167.4L193.9 178.4L187.9 180.2L184.9 179.3L181.9 176.1L170.8 155L148.6 122L145.3 113Z" fill="#ff8f00"/><path d="M147.3 101L439.9 101L439.9 518L245.4 518L244.8 500L246 479L245.1 458L246.7 449L250.9 442.1L269.9 425L277.9 414.3L280.5 404L281.2 377L283.1 368L287.2 356L292.2 344L295.9 337.7L301.9 330.2L315.4 317L319.9 311L321.8 305L321.4 299L319.4 293L310.4 275L294.3 251L288.9 245L275.4 233L255.2 218L249.2 209L247.9 203L247.8 197L250.9 185.7L256.9 176.3L268.6 167L270.4 164L269.5 161L262.9 158.9L232.9 157.7L220.9 155.4L214.9 155.6L208.9 158.9L193.9 172.5L190.9 173.4L187.9 172.9L184.9 170.4L176.9 158L163.9 141.5L150.7 122L147.6 113Z" fill="#ff8000"/><path d="M150.3 101L439.9 101L439.9 518L249.9 518L248.5 500L249 479L247.3 461L247.5 455L249.1 449L252.9 443L271.9 425.3L279.2 416L281.6 410L282.6 404L282.9 386L284.4 374L292.5 350L297.2 341L301.9 335L324.7 314L327.5 308L327.2 302L323.6 293L313.3 275L296.7 251L291.2 245L277 233L256.4 218L253.6 215L250.5 209L249.5 200L251 194L253.9 188.4L259.9 182.4L276.4 173L283.7 167L287.1 161L287.1 158L285.7 155L280.9 151.4L272.3 149L217.9 142.5L208.9 146L193.9 161.2L190.9 162.1L187.9 161.1L169.9 145.1L154.7 125L150.4 116L149.8 110Z" fill="#ff7000"/><path d="M153.8 101L439.9 101L439.9 518L254.6 518L252.1 500L251.9 479L249.7 461L250.9 451L255.9 443L277.4 422L282.7 413L284.7 404L285.3 386L287.1 374L290.6 362L296.9 347L301.9 339.5L307.9 333.4L329.1 317L333 311L333.1 305L327.6 293L308.6 263L299.5 251L290.3 242L257.7 218L253.9 213.7L251.6 209L251.3 200L253.6 194L256.9 189.4L265.9 183.4L275.8 179L285.6 173L292.9 166.1L295.6 161L296 158L295.5 155L292.9 150.8L289.9 148.3L280.9 144.3L259.9 140.8L238.9 135L226.9 129L217.9 121.5L214.9 121.8L208.5 131L193.8 146L187.9 148.8L178.9 147.1L169.9 140.9L154.9 121.2L152.4 113Z" fill="#ff6000"/><path d="M157.8 101L439.9 101L439.9 518L259.4 518L255.1 494L254.8 479L252.2 461L253.3 452L256.9 445.5L277.4 425L283.6 416L286.5 407L287.8 386L289.7 374L294.6 359L300 347L304.4 341L310.9 334.7L334.9 317.5L337.9 312.4L337.9 306.4L330.9 293L322.9 281.9L310.9 261.7L302.8 251L293.4 242L259 218L256 215L252.8 209L252.9 200L256.9 192.8L265.9 186.6L276.9 182L287.7 176L292 173L297.8 167L299.6 164L301 158L299.5 152L297.5 149L292.9 144.9L281.8 140L259.9 135.5L244.9 130.2L232.9 123.1L220.9 111.5L217.9 109.9L214.9 109.7L211.9 110.7L209.2 113L199.9 125.4L187.9 136.5L181.9 139.5L175.9 139.9L172.9 138.4L166.9 132.9L156.8 119L155.5 113Z" fill="#ff5000"/><path d="M163.4 101L214.4 101L208.9 102.4L203.6 107L192.4 122L186.3 128L181.9 130.9L175.9 132.5L169.9 129.8L160.9 118.8L159.8 113ZM215 101L439.9 101L439.9 518L264.7 518L259.9 501.2L258 491L257.3 476L255.1 461L256.4 452L262.7 443L280.5 425L286.1 416L289.3 404L290.2 386L291.7 377L296.4 362L301.9 349.4L305.6 344L313.9 335.8L337.9 320L341.7 314L341.8 308L337.8 299L324.9 281L313.9 261.2L306.6 251L297.2 242L259.9 217.6L256.9 214.6L253.9 209L254.5 200L256.9 195.6L259.9 192.6L289.9 177.9L299.7 170L302 167L304.2 161L304.2 155L301.9 149.6L295.9 143.1L289.9 139.8L280.9 136.3L259.9 131.1L245.2 125L235.9 118.4L223.9 106.1L217.9 101.8Z" fill="#ff4000"/><path d="M172.4 104L174 101L189.8 101L185.6 116L181.9 121.3L178.9 123.1L175.9 123.4L172.9 122.5L169.9 119.9L167.8 116L168.7 110ZM228 101L439.9 101L439.9 518L270.5 518L261.2 491L258.4 461L259.9 452.6L264.1 446L283.8 425L288.9 416L291.4 407L292.8 386L294.4 377L299.4 362L304.9 350L309.3 344L315.4 338L339.9 323L344.5 317L345.5 311L342.5 302L327.4 281L315 257L308.5 248L297.7 239L262 218L256.9 213L255 209L254.7 206L256 200L259.9 194.9L268.9 189.6L280.9 185L292.9 179L303.4 170L306.5 164L307.4 158L304.7 149L298.9 142.2L290.1 137L280.9 133.3L259.9 127.3L247.9 121.9L237 113Z" fill="#ff3000"/><path d="M235 101L439.9 101L439.9 518L277.2 518L268.9 501.5L265.5 494L263.2 485L262.1 464L263.2 455L268.6 446L285.3 428L290.7 419L294.2 407L296.4 380L301.9 363.7L306.7 353L310.7 347L316.9 340.1L337.9 328.5L345.2 323L348.6 317L348.8 311L345.5 302L327.9 278L317.3 254L311.1 245L301.9 237.7L280.9 227.7L262.9 217.3L259.9 215L256.2 209L256.9 201.5L259.9 197L262.9 194.7L292.9 181.6L304.9 172.5L308.4 167L310.1 161L309.8 155L307.7 149L301.9 141.7L292.9 135.4L259.9 123.6L250.2 119L240.4 110Z" fill="#ff2000"/><path d="M241.2 101L439.9 101L439.9 518L285.5 518L268.9 492.3L265.7 482L266 464L266.9 458L271.3 449L287.5 431L294.3 419L297.3 407L298.6 383L307.9 357.5L314.6 347L319.9 341.1L340.9 330.8L348 326L352.4 320L353.1 314L351.6 308L348.6 302L330.4 278L320.4 251L313.9 240.7L304.9 234.4L283.9 226.9L265.9 217.8L259.9 213.2L257.5 209L257.9 203L259.9 199.3L262.9 196.6L268.9 193.4L280.9 189.3L295.9 182.6L301.9 178.7L307.9 173.3L311.5 167L313 161L312.7 155L309 146L303.9 140L292.9 132.5L259.9 119.8L252.2 116L245.8 110Z" fill="#ff1000"/><path d="M247.3 101L439.9 101L439.9 518L296.5 518L292.8 512L274.9 492.8L269.9 485L269.1 479L270.3 467L273.4 455L277.9 448.2L290.9 434L297.6 422L301 407L301.9 383L311.2 359L319 347L322.9 343L343.9 333.7L355.2 326L357.4 323L358.8 317L357.4 311L352.5 302L335.2 281L331.9 275.6L324.1 248L321.5 242L316.9 235L313.9 232.2L309.2 230L286.9 225.1L277.9 222.1L263.8 215L259.9 210.9L258.8 206L259.5 203L262.9 198.8L271.9 194.2L295.9 185.6L307.9 177.8L313.9 169L315.7 164L316.3 158L315.1 152L312.5 146L308.3 140L304.9 137.1L292.9 129.1L255 113L249.4 107Z" fill="#ff0000"/><path d="M254.3 101L439.9 101L439.9 518L311.6 518L308.1 512L301.9 505.2L280.9 488.9L275 482L275.2 473L279.1 458L283.9 450.8L296.4 437L302.7 425L306.2 407L305.6 389L306.3 383L315 362L325.9 346.8L331.9 343.3L349.9 336L358.9 330.2L364.6 323L365.7 317L363.1 308L359.7 302L354.8 296L343.9 286.1L335.2 275L330.1 251L319.9 228.6L316.9 225.9L310.9 223.5L280.9 220.6L265.9 214.3L262.7 212L260.9 209L260.6 206L261.8 203L265.9 199.2L271.9 196.5L295.9 189.1L304.9 184.4L310.9 179.8L315.6 173L318.2 167L319.7 161L319.8 155L315.9 143L310.9 136.4L295.9 126.1L285.3 122L260.6 110L256.8 107Z" fill="#ef0000"/><path d="M266.8 101L439.9 101L439.9 518L330.5 518L328.1 512L322.9 503.3L311.3 488L304.9 484L292.9 479.4L289.3 476L287.9 470L290.7 461L308.8 440L312.9 431L315.8 404L312.6 392L312.2 386L313.9 379.4L319.2 368L331.9 352.1L355.9 339.4L361.9 334.9L367.3 329L371.5 320L373.1 305L374.7 299L380.4 290L391.9 278.1L392.8 275L391.9 271.8L388.9 269.9L382.9 269.5L367.9 273L354.1 281L349.9 280.9L346.9 279.4L340.9 273.2L335.6 251L328 236L323.9 224L319.9 219.7L313.9 216.9L307.9 216L286.9 217.6L280.9 217.1L266.3 212L263.6 209L263.2 206L265.2 203L268.9 200.6L298.9 192.8L310.9 186.3L316.8 179L320.8 170L324.1 161L325.3 152L324.3 137L323.1 134L320.3 131L281.7 113L272.1 107L268.6 104ZM355.9 117L353.2 119L352.2 122L353.8 125L358.9 126L361.9 124L362.9 122L362.6 119L358.9 116.3Z" fill="#df0000"/><path d="M292.6 101L322 101L316.9 104.3L307.9 106.1L298.9 104.7ZM374.9 101L439.9 101L439.9 518L350.1 518L345.2 497L344.3 476L339.6 464L337.2 455L336.2 437L330.7 419L327.8 404L321.6 389L322.9 380.6L328.9 370.7L334.9 364.6L361.9 343.1L370.9 332.8L376.2 323L384.5 302L397.9 280L400.5 272L400.4 266L399.3 263L396 260L391.9 258.4L373.9 256.2L355.9 257.9L349.9 255.5L334.9 239.2L333.1 236L331.1 221L328.3 215L322.9 209.2L314.9 203L313.8 200L319.9 187.4L325.9 169.6L331.9 158L337.9 151.1L343.9 148.9L352.9 149.8L371.6 155L379.9 161.6L383.3 161L386 140L385.7 125L382.2 113ZM277.9 203L288.3 203L293.1 206L290.3 209L286.9 210.3L277.9 211.3L270.4 209L269.8 206Z" fill="#cf0000"/><path d="M399.1 101L439.9 101L439.9 518L368.4 518L364.2 500L360.9 479L358.4 473L353.9 467L351.2 461L346.7 419L339.9 389L340.9 384L343.1 380L354.2 368L377.8 332L389.9 308L397.7 290L405.8 275L409.8 263L408.7 254L406.9 250.2L396.3 236L393.4 230L392.2 224L392.9 218L394.6 215L403.9 203.7L407.9 197L410.7 185L410.8 158L408.9 137L405.2 119Z" fill="#bf0000"/><path d="M421.3 101L439.9 101L439.9 518L386.3 518L373.8 479L369.2 470L362.6 461L361.9 458.2L364.9 416L361.3 398L361 389L363 380L371.4 359L382.8 335L396.1 311L403.2 290L412.3 275L415.3 266L417.4 254L418.8 227L427.5 191L429.8 170L429.8 152L428.2 134Z" fill="#af0000"/><path d="M439 218L439.9 216.2L439.9 518L405.1 518L384.2 464L380.7 452L379.7 440L380.1 416L377.6 392L378 380L380.7 365L387.3 341L390.1 335L401.6 317L405.5 308L409.9 291.6L417 281L419.9 275L436.9 222.1Z" fill="#9f0000"/><path d="M438.6 260L439.9 258.5L439.9 518L425.6 518L406.9 473.1L399.4 449L397 434L393.2 395L392.7 374L394.9 350L396.9 341L410.4 320L420.1 296L433.9 267.6Z" fill="#8f0000"/><path d="M437.4 293L439.9 290.2L439.9 496.4L436.9 492.8L429.1 476L422.3 458L417.9 443L411.5 407L408.6 374L409.4 356L412.3 344Z" fill="#800000"/></g>
<g clip-path="url(#cB)"><path d="M123.4 223.4L126.6 226.6L133.1 233.1L138.3 240.4L142.5 248.6L145.7 256.8L148.1 265L148.9 272.5L148.3 279.3L147 283.7L145.4 285.8L142.1 287.3L137.4 288.3L135 288.8M125.7 179L127 180.2L129.6 182.6L133.3 186.3L138 191.5L142.8 197.8L147.6 205.2L152.4 213.5L157.1 222.3L161.6 231.2L165.7 240.1L169.2 248.9L172.3 257.8L174.3 266.3L175.4 274.5L175.7 282L175.4 288.8L174.6 294.2L173.5 298L172.9 300M146.3 328.4L144.4 326.5L140.7 322.8L136.2 319.8L131 317.5L126.5 315.6L122.7 314.1L120.8 313.4M130.1 180.1L131.7 181.7L134.8 184.8L138.2 188.9L142 193.9L145.7 198.9L149.5 203.9L153.2 208.2L156.9 212L161 215.7L165.4 219.5L169.7 223.2L174.1 227L178.5 230.4L182.8 233.5L186.9 236.6L190.6 239.7L193.5 243.2L195.3 246.9L197.2 251L199.1 255.3L200.9 259.7L202.8 264.1L205 266.6L207.5 267.2L210 266.3L212.5 263.8L215 260.7L217.5 256.9L220 253.2L222.5 249.4L225.3 246.3L228.4 243.8L231.8 242.6L235.6 242.6L239 243.5L242.1 245.4L245.3 247.9L248.4 251L249 254.1L247.1 257.2L244.3 260L240.6 262.5L236.8 265L233.1 267.5L229.3 270L225.6 272.5L222.8 274.3L220.9 275.4L218.9 277.9L216.8 281.8L213.8 285.6L210.1 289.4L207 293.7L204.5 298.7L203.2 301.2M188.4 337.5L188 339.8L187.3 344.3L186.2 349.5L184.7 355.5L182.4 360.8L179.4 365.3L175.7 368.7L171.2 370.9L167 371.9L163.3 371.5L159.5 370.4L155.8 368.5L153.9 367.5M113.3 133.3L115.3 135L119.3 138.5L123.6 142.7L127.9 147.7L132 153L135.7 158.6L139.5 164.5L143.2 170.8L147 177L150.7 183.3L154.4 189.2L158.2 194.8L162.3 199.8L166.6 204.2L171.3 207.9L176.3 211L181.3 213.8L186.3 216.3L191.3 218.5L196.3 220.4L201.3 222L206.3 223.2L211.2 224.5L216.2 225.7L221.2 226.6L226.2 227.3L231.2 227.6L236.2 227.6L240.6 228.5L244.3 230.4L248.1 232.9L251.8 236L255.6 239.4L259.3 243.2L263.1 246.9L266.8 250.7L270.5 254.4L274.3 258.2L276.7 262.2L277.6 266.6L276.9 271.3L274.4 276.2L271.3 281.2L267.5 286.2L263.2 290.6L258.2 294.3L253.2 296.8L248.2 298.1L244.5 297.9L242.1 296.3L238.7 297.4L234.2 301.1L229.7 305.6L225.2 310.9L221.4 316.1L218.4 321.4L216.2 325.5L214.7 328.5L213.9 330M216.9 378L218.4 381L221.4 387L225.2 391.9L229.7 395.7L229.7 399.8L225.2 404.3L220.7 408.8L216.2 413.3L211.7 417.4L207.2 421.2L203.1 424L199.3 425.9L196.3 426.6L194.1 426.3L192.9 426.1M140.1 122.1L141.7 124.4L144.8 129.1L147.9 134L151 138.9L154.1 144.3L157.3 149.9L160.1 155.5L162.6 161.1L164.7 166.4L166.6 171.4L168.3 176.4L169.9 181.4L171.5 186.1L173 190.4L175.4 193.9L178.5 196.4L182.2 198.1L186.6 199L191 198.7L195.3 197.1L198.8 194.8L201.3 191.7L204.1 188.9L207.2 186.4L210.9 184.8L215.3 184.2L219.4 184.5L223.1 185.8L226.2 188.3L228.7 192L231.2 196.1L233.7 200.4L236.8 204.8L240.6 209.2L244.6 213.5L249 217.9L253.7 222L258.7 225.7L263.7 229.3L268.7 232.7L273.5 237.4L278.3 243.3L282.8 250L287.2 257.5L291.2 264.4L295 270.6L297.8 276.9L299.7 283.1L300.5 288.2L300.3 292.1L299.7 296.6L298.5 301.9L296.1 306.8L292.3 311.3L288.6 316.5L284.8 322.5L281.5 328.9L278.5 335.7L276.4 341.7L275.3 346.9L274.7 349.5M271 409.6L269.1 412.2L265.3 417.4L260.8 421.9L255.6 425.7L250.7 429.1L246.2 432.1L242.1 435.1L238.3 438.1L235.9 442.6L234.8 448.6L233.8 456.8L233.1 467.3L232.7 472.6M220.6 109L221.7 110.5L223.9 113.7L226.9 116.8L230.6 119.9L235 123L240 126.2L245.6 129L251.8 131.5L258.1 133.6L264.3 135.5L270.7 136.8L277.3 137.4L284.4 139.2L291.9 142.4L297.5 146.4L301.2 151.4L302.5 157L301.2 163.3L298.1 168.9L293.1 173.9L287.5 178.3L281.3 182L275 185.1L268.8 187.6L263.2 190.7L258.2 194.5L255 198.8L253.8 203.8L255 208.8L258.8 213.8L263.8 219.4L270 225.7L276.9 231.3L284.4 236.3L291.2 241.3L297.5 246.3L303.1 251.9L308.1 258.1L313.1 265L318.1 272.5L323.1 279.4L328.1 285.6L332.4 291.8L336.2 298.1L338.7 303.7L339.9 308.7L340 312.2L339 314.1L336.6 316.9L332.9 320.6L328 324.4L322 328.1L316.4 331.9L311.1 335.7L306.6 339.4L302.8 343.2L301 345M287.5 393.1L287.3 396.4L286.9 403.2L285.8 409.2L283.9 414.4L280.7 419.7L276.2 424.9L271.7 429.8L267.2 434.3L263.1 438.4L259.3 442.2L256.3 445.6L254.1 448.6L252.6 452.3L251.8 456.8L252 462.1L253.1 468.1L254.3 473L255.4 476.7L256 478.6M153.8 117.1L155.1 118.8L157.6 122.2L160.7 126.5L164.4 131.5L168.2 135.8L171.9 139.6L175.7 140.5L179.4 138.6L183.8 136.1L188.8 133L193.5 129.6L197.8 125.8L201.9 121.8L205.6 117.4L208.6 113.7L210.8 110.5L211.9 109M253.2 110.2L257.5 112.1L266.3 115.8L275 119.9L283.7 124.3L291.9 128.6L299.4 133L305.9 138.3L311.5 144.5L315.3 151.7L317.1 159.8L316.8 166.7L314.3 172.3L310 177.3L303.7 181.7L296.9 185.2L289.4 188L281.9 190.6L274.4 193.1L267.8 195.9L262.2 199L258.7 202.5L257.2 206.4L258 210.2L261.1 214L266.2 217.2L273.3 219.9L280.9 221.9L289.1 223.2L297.5 224.1L306.2 224.8L313 226.1L317.7 228.2L321.6 232.2L324.6 237.9L327 244.5L328.9 252L330 259.5L330.4 267L331.5 273.2L333.4 278.2L336.5 283.2L340.9 288.2L345.5 293.2L350.5 298.2L354.9 303.2L358.6 308.2L361.6 313L363.9 317.6L364 321.6L362 325L357.9 328.5L351.7 332.3L344.8 335.4L337.3 337.9L330.4 340.4L324.2 342.9L320.9 346.2L320.6 350.4L318.6 354L314.9 357L313 358.5M302.5 384L302.7 387.8L303 395.3L302.8 402.8L302.1 410.3L300.8 417.8L298.9 425.3L296.1 431.7L292.3 436.9L288.2 441.8L283.7 446.3L280 450.8L277 455.3L274.7 461L273.2 467.7L271.7 474.1L270.2 480.1L269.5 483.1M399.2 191.4L397.7 189.8L394.5 186.7L387.4 180.4L376.1 171.1L364.3 163.6L351.8 158L342.4 156.7L336.2 159.8L331.2 163.9L327.4 168.9L325.3 173.3L324.6 177L324.3 178.9M331.8 236.3L334 237.5L338.4 240L344.3 241.9L351.8 243.2L360.5 245L370.5 247.5L379.9 250L388.6 252.5L396.4 255L403.3 257.5L405.8 262.5L403.9 270L401.1 277.5L397.3 285L393.6 292.5L389.9 300L386.1 307.5L382.4 314.9L378.6 322.4L374.9 329.9L371.1 336.2L367.4 341.2L363 346.1L358 351.1L354.3 356.1L351.8 361.1L350.5 363.6M325 390.1L326.9 392.3L330.6 396.8L333.2 401.7L334.7 406.9L336.2 412.6L337.7 418.6L338.9 424.6L339.6 430.6L340.4 436.2L341.1 441.4L342.6 447.1L344.9 453.1L347.1 458.7L349.4 464L351.6 468.5L353.9 472.2L355 474.1" fill="none" stroke="#fff" stroke-width="4.1" stroke-linejoin="round" stroke-linecap="butt"/></g>
<path d="M0.4 65.9L6.4 67.1L11.4 69L17.6 71.5L23.9 74.6L27 77.1L31.4 78.4L37.6 80.8L43.8 83.3L48.8 85.8L53.8 88.3L56.3 91.5L56.9 94.6L55.7 97.1L53.8 98.3L56.3 100.2L56.9 103.3L55.7 105.2L58.2 107.1L56.9 109.6L54.4 110.8L53.2 113.3L54.4 116.4L56.3 118.3L60.7 119.5L62.6 122.7L63.2 126.4L66.9 127.7L73.8 128.3L80 130.2L86.3 132L93.8 135.1L100 138.3L105 141.4L110 146.4L115 151.4L119.4 156.4L122.5 161.4L125 167.6L128.1 173.8L130.6 179.5L131.5 184.5L130 188.2L126.2 190.7L121.9 190.1L116.2 188.2L110 185.1L103.8 182L97.5 178.8L91.3 175.7L85 173.2L78.8 171.3L72.5 168.9L66.3 167.6L60.1 167L53.8 166.4L48.8 164.5L44.5 162.9L40.1 162.6L35.1 164.5L28.9 167L23.9 168.9L20.1 170.1L17.6 168.2L15.1 167L12.6 168.9L8.9 170.1L5.1 171.3L2.6 172.6L0.4 173.2ZM22 175.7L27.6 171.3L33.9 167.6L40.1 165.7L46.3 165.7L51.3 167.6L55.1 170.7L58.8 175.1L62.6 179.5L68.8 183.2L75 186.3L80 188.8L85 192.6L88.8 193.8L93.8 195.7L98.8 197.6L105 200.1L111.2 203.8L116.2 206.9L121.9 208.2L126.2 210L128.7 213.2L128.1 217.5L125 221.3L120.6 222.5L115 221.3L110 219.4L103.8 216.3L97.5 214.4L91.3 214.4L86.3 212.5L80 209.4L73.8 206.3L67.6 202.6L61.3 199.4L55.1 196.3L48.8 192.6L42.6 188.8L37.6 185.7L35.1 185.1L32 185.7L28.9 183.2L25.7 180.7L22.6 178.2ZM0.4 180.1L6.4 183.8L12.6 187.6L18.9 191.3L23.9 193.8L28.9 196.9L32.6 200.1L36.3 203.8L38.8 207.6L40.7 211.3L42.6 214.4L40.1 216.3L43.8 215.7L47.6 217.5L51.3 219.4L55.1 221.9L58.8 223.8L62.6 225.7L66.3 227.5L70.1 230L72.5 232.5L73.2 236.3L72.5 237.1L75 234L80 235.2L86.3 237.7L92.5 240.8L98.8 244.6L103.8 248.3L107.5 252.1L111.2 256.4L114.4 261.4L117.5 266.4L120.6 272.7L123.7 278.9L126.9 285.2L129.3 291.4L131.2 297.6L131.2 302.6L129.3 307L125 309.5L118.7 310.1L111.2 310.7L103.8 311.4L96.3 312.6L88.8 313.9L81.3 315.7L73.8 318.2L67.6 320.7L62.6 323.2L58.8 326.3L55.1 328.8L51.3 331.3L47.6 333.2L42.6 335.1L36.3 337.6L31.4 340.1L26.4 342.6L22.6 345.7L17.6 348.2L11.4 349.4L6.4 350.7L0.4 352.6ZM83.8 225.9L88.8 225.2L95 227.7L101.3 230.9L107.5 234L111.2 237.1L113.1 240.8L112.5 243.3L110 242.7L105 239.6L98.8 235.8L92.5 232.1L86.3 229ZM115.6 236.5L118.7 235.2L123.7 237.1L127.5 240.8L127.5 244.6L123.7 247.1L120 244.6L116.9 240.8ZM0.4 403.3L5.1 399L11.4 394.6L17.6 391.5L23.9 389.6L30.1 388.4L38.8 388.4L46.3 389.6L52.6 392.1L58.8 395.8L65.1 400.8L71.3 406.5L76.3 412.1L81.3 418.3L86.3 424.6L91.3 430.8L96.3 435.8L102.5 440.2L105 443.3L107.5 441.4L115 440.2L121.2 443.9L127.5 446.4L133.7 448.3L137.5 450.8L142.5 452L148.7 452.6L154.9 450.8L161.2 448.9L164.9 450.1L164.9 452.6L159.9 455.8L153.7 458.3L147.4 461.4L141.2 464.5L136.2 468.2L131.2 471.4L127.5 475.1L123.7 478.9L118.7 482.6L113.7 487L108.7 491.3L105 495.7L101.3 499L93.8 501.5L86.3 502.1L80 502.7L76.3 501.5L74.4 499L71.3 502.1L67.6 505.9L63.8 510.2L61.3 514L63.2 520.2L66.9 519.6L68.2 515.2L71.3 511.5L73.8 513.4L75.7 515.8L73.8 519.6L70.7 522.7L71.9 527.7L73.8 522.1L78.8 517.7L85 514L91.3 510.2L97.5 507.1L103.8 503.4L107.5 499.6L111.2 495.1L116.2 492.6L122.5 490.7L128.7 488.8L134.3 487L138.7 488.8L141.2 492.6L145 495.1L138.7 500.2L135 504L138.7 507.7L141.2 512.7L142.5 517.7L136.2 520.2L132.5 523.3L133.7 527.7L136.2 531.5L133.7 535.2L136.2 538.9L141.2 540.8L145.6 540.2L142.5 543.9L140 547.7L137.5 551.4L132.5 553.9L127.5 555.8L123.7 557.7L120 555.8L116.9 552L118.7 547.7L119.4 542.7L117.5 538.3L120.6 533.9L117.5 530.2L115.6 527.1L111.9 529L113.7 533.9L114.4 538.9L112.5 545.2L110 550.2L106.3 553.9L101.3 555.8L96.3 556.4L95 551.4L95 543.9L95.6 536.4L94.4 534.6L92.5 537.7L92.5 546.4L91.9 552.7L88.8 550.2L86.3 545.2L83.8 540.2L80 541.4L73.8 540.8L80 542.1L77.5 546.4L76.3 551.4L73.8 555.2L70.1 557.7L66.3 558.9L61.3 557.7L63.8 561.4L60.1 564.5L66.9 565.2L73.8 564.5L81.3 563.9L87.5 565.2L93.8 565.8L91.9 570.1L92.5 572.6L86.3 574.5L80 573.9L76.9 573.3L78.2 577.6L75.7 581.4L80 578.9L83.8 576.4L88.8 575.1L93.8 574.5L97.5 577.6L102.5 578.9L98.8 581.4L97.5 585.1L102.5 587.6L106.9 589.5L102.5 591.4L98.8 593.2L93.8 593.9L88.8 592.6L83.8 590.1L78.8 587.6L75 589.5L76.9 593.2L82.5 595.1L87.5 596.4L92.5 598.9L95 602.6L98.8 605.1L98.1 608.8L95 611.3L93.8 615.1L93.1 621.3L96.3 622.6L92.5 623.8L86.3 622L80 625.1L73.8 625.7L66.3 626.3L58.8 625.7L51.3 623.8L49.5 625.1L52.6 626.9L61.3 626.9L68.8 627.6L73.8 630.1L75 635.1L76.9 641.3L80 646.3L84.4 652.5L84.4 654L0.4 654Z" fill="#808080" stroke="#000" stroke-width="1.7" stroke-linejoin="miter"/>
<path d="M206.2 327.9L210.4 326.9L215 330.6L218.1 329.1L221.2 330.3L223.9 333L218.9 335.7L215.6 334.9L212.3 336.4L208 334.7L205.8 331.7ZM254.8 329.2L258.7 328L260.2 330.7L259.5 334.8L256.3 334.2L254 332ZM185.7 366.6L191.1 366.8L195.1 367.4L199.3 365.4L203.7 369L209.1 371.5L208 376.3L202.5 374.5L199.5 376L196.3 375.3L193.2 376.3L189.4 376L186.1 372.7ZM157.3 392.2L162.3 388.6L165.8 389L168.6 386.5L172.6 387.1L176.6 386.2L179.1 388.2L180 391.4L179.4 396.5L177.5 401.5L174.1 401.5L171 400.5L168.1 398.7L165.5 396.9L159.4 395.8ZM184.8 399.7L189.8 396.8L193.3 397.1L196.2 394.6L199.4 395.5L202.8 394.9L206.1 398L203.8 401.4L201.4 401.3L196.3 400.9L193.4 402.5L190 403.1L185.5 402.1ZM135.6 409.7L139.4 408.2L141.8 411.7L146.1 412.8L149.5 413.3L152.6 412.3L155.7 411.5L158.8 412.6L162 413.5L163.9 416.2L167.4 416.6L170.5 417.9L173.3 419.9L175.9 422.1L179.9 422.4L182.9 424.5L185.5 427.2L188.2 429.8L191.8 430.9L195.3 432.7L192.8 435.6L192.5 440.3L190.7 442.9L186 444.3L182.8 443.1L179.6 441.6L176.7 439.6L174 436.8L170.5 437.8L167.5 436.1L164.4 436.6L161.3 437.9L158.2 436.8L155.1 437.5L152 437.5L148.2 436.8L147.3 433.5L144.9 431.4L142.1 426.4L142.2 423.2L141.2 420.1L139.2 415.5L136.5 412.6ZM191.4 442.1L196.1 442.9L201.3 443L207.2 441.4L208.7 446.3L208.5 449.5L208.3 453.4L205 455.1L205.8 460L201.8 459.5L197.7 455.8L197.3 452L194.9 447.7L193.8 444.6Z" fill="#808080" stroke="#000" stroke-width="1.9" stroke-linejoin="miter"/>
<path d="M111.2 505.2L113.7 502.1L118.7 502.1L120.6 505.2L118.7 510.2L115 512.7L111.9 510.9Z" fill="#fff" stroke="#000" stroke-width="1.1"/>
<path d="M155.8 109h0M188.8 107.7h0M216.5 107h0M269.4 107.7h0M289.4 107.7h0M328.1 107.7h0M360.5 108.2h0M172.8 151.9h0M218.2 157.7h0M247.7 161.4h0M293.1 167.6h0M362.5 176.4h0M174.5 190.9h0M191.5 195.1h0M206.5 199.3h0M237.4 205.8h0M363 233.3h0M399.2 242.5h0M433.4 250.8h0M197.7 241.3h0M216 245.8h0M235.7 252.5h0M254.9 258h0M275.6 265h0M204.5 270h0M217 272.5h0M238.7 281.2h0M259.9 289.5h0M285.6 296.2h0M328.1 281.2h0M363 289.2h0M198.2 303.2h0M222 309.9h0M239.4 312.9h0M265.1 322.9h0M290.6 332.4h0M328.1 310.7h0M361.8 321.2h0M182 341.2h0M218.2 352.4h0M256.9 366.6h0M326.8 344.9h0M362.5 355.6h0M222.7 394.8h0M245.2 401.1h0M268.1 410.3h0M326.8 386.1h0M361.3 397.8h0M217.5 435.5h0M228.9 439.8h0M237.7 440.5h0M325.6 429h0M127.1 268.3h0M119.6 233.3h0M95.9 240h0M102.1 220.1h0M87.1 218.8h0M16.3 181.7h0M32 193.3h0M47 206.3h0M62.7 215.8h0M68.8 216.5h0M75.6 230.9h0M115.2 257.5h0M259.4 451.7h0M282.4 456.2h0M318.6 465.7h0M354.8 476.2h0M215.7 472.9h0M228.7 476.7h0M250.7 483.2h0M267.6 488.2h0M306.3 499.1h0M340.5 510.4h0M363 440.7h0M326.8 429.2h0M361.8 397.5h0M326.8 386.3h0" stroke="#000" stroke-width="4" stroke-linecap="round" fill="none"/><text class="w" text-anchor="middle" transform="translate(166.7 312.8) rotate(-50)" y="11.8">10</text><text class="w" text-anchor="middle" transform="translate(200.4 313.5) rotate(-65)" y="11.8">15</text><text class="w" text-anchor="middle" transform="translate(210.9 355.5) rotate(97)" y="11.8">20</text><text class="w" text-anchor="middle" transform="translate(273.9 375) rotate(-70)" y="11.8">25</text><text class="w" text-anchor="middle" transform="translate(288.9 361) rotate(-70)" y="11.8">28</text><text class="w" text-anchor="middle" transform="translate(315.9 369) rotate(-55)" y="11.8">30</text><text class="w" text-anchor="middle" transform="translate(344.5 369) rotate(-60)" y="11.8">31</text><path d="M270.6 109L271.6 109.7L273.4 111.1L276.3 113.2L280 116L283.7 118.7L287.5 121.4L291.2 124L295 126.4L298.6 129L302 131.7L305.3 134.4L308.4 137.2L311.2 140.1L313.7 143.1L315.9 146.1L317.8 149.2L319.2 152.4L320.3 155.5L321 158.6L321.4 161.7L321.2 164.7L320.6 167.5L319.5 170.1L317.9 172.6L316 175.1L313.6 177.4L310.9 179.7L307.8 181.8L304.5 183.9L301.1 185.7L297.5 187.5L293.7 189L290 190.5L286.2 191.9L282.5 193.2L278.8 194.5L275.2 195.8L272 197.2L268.9 198.7L266.1 200.3L263.9 201.8L262.4 203.4L261.4 204.9L261.1 206.5L261.4 208L262.1 209.4L263.5 210.7L265.3 212L267.7 213.2L270.5 214.5L273.8 215.7L277.5 217L281.3 218L285 218.7L288.7 219.3L292.5 219.6L296.2 220L300 220.5L303.7 221L307.5 221.6L310.9 222.4L314 223.3L316.8 224.4L319.3 225.7L321.6 227.3L323.6 229.4L325.4 231.8L327 234.6L328.4 237.6L329.6 240.9L330.7 244.4L331.7 248.2L332.4 251.9L332.8 255.6L333.1 259.4L333.1 263.1L333.2 266.6L333.5 269.7L334 272.5L334.6 275L335.7 277.5L337.3 280L339.3 282.5L341.8 285L344.3 287.5L346.8 290L349.3 292.5L351.8 295L354.1 297.5L356.3 300L358.3 302.5L360.2 305L362 307.6L363.7 310.4L365.4 313.4L366.9 316.5L367.9 319.3L368.2 321.8L367.9 324L366.9 325.9L365.4 327.7L363.4 329.6L360.8 331.5L357.7 333.4L354.4 335.1L351 336.6L347.4 338L343.7 339.3L340.1 340.5L336.6 341.8L333.4 343L330.2 344.3L327.6 345.6L325.4 347L323.7 348.5L322.4 350.1L320.8 351.9L318.8 353.8L316.5 355.9L313.9 358.2L311.3 360.4L308.7 362.7L306 364.9L303.4 367.2L301.2 369.6L299.3 372.2L297.8 375L296.7 378L296 381.1L295.8 384.3L296.1 387.6L296.8 391L297.5 394.3L298.1 397.5L298.5 400.6L298.9 403.6L299 406.6L298.8 409.6L298.3 412.6L297.6 415.6L296.7 418.5L295.5 421.3L294.2 424L292.7 426.6L291.1 429.3L289.4 431.9L287.7 434.5L285.8 437.1L283.6 439.7L281.2 442.1L278.5 444.5L275.5 446.7L272.8 449L270.6 451.2L268.7 453.5L267.2 455.7L265.9 458.1L264.8 460.8L263.8 463.6L263.1 466.6L262.3 469.5L261.6 472.3L260.8 475L260.1 477.7L259.5 479.6L259.1 480.9L259 481.6" fill="none" stroke="#000" stroke-width="7.5" stroke-dasharray="7.5 7.1" stroke-linejoin="round"/>
<path d="M145.3 0V653.8M290.6 0V653.8M435.9 0V653.8M0 145.3H508.7M0 290.6H508.7M0 435.9H508.7M0 581.2H508.7" stroke="#000" stroke-opacity=".13" stroke-width="1.5" fill="none"/>
<path d="M145.3 0v7M145.3 653.8v-7M290.6 0v7M290.6 653.8v-7M435.9 0v7M435.9 653.8v-7M0 145.3h7M508.7 145.3h-7M0 290.6h7M508.7 290.6h-7M0 435.9h7M508.7 435.9h-7M0 581.2h7M508.7 581.2h-7" stroke="#1e1e1e" stroke-width="1.5" fill="none"/>
<text class="u k" x="29.1" y="57">SSS (PSU)</text>
<text class="k" font-size="32.2" transform="translate(22.6 125.8) rotate(29.5)">Jiangsu</text>
<clipPath id="LB"><path d="M0 235H100L110.6 256.5L113.8 261.5L116.9 266.5L120 272.8L123.1 279L126 290H0Z"/></clipPath><g clip-path="url(#LB)"><text class="k" font-size="31.8" x="4" y="275.4">Shanghai</text></g>
<text class="k" font-size="25.7" x="7.4" y="373.1">Hangzhou Bay</text>
<text class="k" font-size="32.6" x="7.2" y="469.3">Zhejiang</text>
<text class="b" font-size="40.5" text-anchor="middle" x="254.1" y="625">2014 Jul</text>
<rect x="0" y="0" width="508.7" height="653.8" fill="none" stroke="#1e1e1e" stroke-width="1.6"/>
<rect x="537.2" y="0" width="49.7" height="653.80" fill="#00008f"/>
<rect x="537.2" y="0" width="49.7" height="643.58" fill="#00009f"/>
<rect x="537.2" y="0" width="49.7" height="633.37" fill="#0000af"/>
<rect x="537.2" y="0" width="49.7" height="623.15" fill="#0000bf"/>
<rect x="537.2" y="0" width="49.7" height="612.94" fill="#0000cf"/>
<rect x="537.2" y="0" width="49.7" height="602.72" fill="#0000df"/>
<rect x="537.2" y="0" width="49.7" height="592.51" fill="#0000ef"/>
<rect x="537.2" y="0" width="49.7" height="582.29" fill="#0000ff"/>
<rect x="537.2" y="0" width="49.7" height="572.07" fill="#0010ff"/>
<rect x="537.2" y="0" width="49.7" height="561.86" fill="#0020ff"/>
<rect x="537.2" y="0" width="49.7" height="551.64" fill="#0030ff"/>
<rect x="537.2" y="0" width="49.7" height="541.43" fill="#0040ff"/>
<rect x="537.2" y="0" width="49.7" height="531.21" fill="#0050ff"/>
<rect x="537.2" y="0" width="49.7" height="521.00" fill="#0060ff"/>
<rect x="537.2" y="0" width="49.7" height="510.78" fill="#0070ff"/>
<rect x="537.2" y="0" width="49.7" height="500.57" fill="#0080ff"/>
<rect x="537.2" y="0" width="49.7" height="490.35" fill="#008fff"/>
<rect x="537.2" y="0" width="49.7" height="480.13" fill="#009fff"/>
<rect x="537.2" y="0" width="49.7" height="469.92" fill="#00afff"/>
<rect x="537.2" y="0" width="49.7" height="459.70" fill="#00bfff"/>
<rect x="537.2" y="0" width="49.7" height="449.49" fill="#00cfff"/>
<rect x="537.2" y="0" width="49.7" height="439.27" fill="#00dfff"/>
<rect x="537.2" y="0" width="49.7" height="429.06" fill="#00efff"/>
<rect x="537.2" y="0" width="49.7" height="418.84" fill="#00ffff"/>
<rect x="537.2" y="0" width="49.7" height="408.62" fill="#10ffef"/>
<rect x="537.2" y="0" width="49.7" height="398.41" fill="#20ffdf"/>
<rect x="537.2" y="0" width="49.7" height="388.19" fill="#30ffcf"/>
<rect x="537.2" y="0" width="49.7" height="377.98" fill="#40ffbf"/>
<rect x="537.2" y="0" width="49.7" height="367.76" fill="#50ffaf"/>
<rect x="537.2" y="0" width="49.7" height="357.55" fill="#60ff9f"/>
<rect x="537.2" y="0" width="49.7" height="347.33" fill="#70ff8f"/>
<rect x="537.2" y="0" width="49.7" height="337.12" fill="#80ff80"/>
<rect x="537.2" y="0" width="49.7" height="326.90" fill="#8fff70"/>
<rect x="537.2" y="0" width="49.7" height="316.68" fill="#9fff60"/>
<rect x="537.2" y="0" width="49.7" height="306.47" fill="#afff50"/>
<rect x="537.2" y="0" width="49.7" height="296.25" fill="#bfff40"/>
<rect x="537.2" y="0" width="49.7" height="286.04" fill="#cfff30"/>
<rect x="537.2" y="0" width="49.7" height="275.82" fill="#dfff20"/>
<rect x="537.2" y="0" width="49.7" height="265.61" fill="#efff10"/>
<rect x="537.2" y="0" width="49.7" height="255.39" fill="#ffff00"/>
<rect x="537.2" y="0" width="49.7" height="245.17" fill="#ffef00"/>
<rect x="537.2" y="0" width="49.7" height="234.96" fill="#ffdf00"/>
<rect x="537.2" y="0" width="49.7" height="224.74" fill="#ffcf00"/>
<rect x="537.2" y="0" width="49.7" height="214.53" fill="#ffbf00"/>
<rect x="537.2" y="0" width="49.7" height="204.31" fill="#ffaf00"/>
<rect x="537.2" y="0" width="49.7" height="194.10" fill="#ff9f00"/>
<rect x="537.2" y="0" width="49.7" height="183.88" fill="#ff8f00"/>
<rect x="537.2" y="0" width="49.7" height="173.67" fill="#ff8000"/>
<rect x="537.2" y="0" width="49.7" height="163.45" fill="#ff7000"/>
<rect x="537.2" y="0" width="49.7" height="153.23" fill="#ff6000"/>
<rect x="537.2" y="0" width="49.7" height="143.02" fill="#ff5000"/>
<rect x="537.2" y="0" width="49.7" height="132.80" fill="#ff4000"/>
<rect x="537.2" y="0" width="49.7" height="122.59" fill="#ff3000"/>
<rect x="537.2" y="0" width="49.7" height="112.37" fill="#ff2000"/>
<rect x="537.2" y="0" width="49.7" height="102.16" fill="#ff1000"/>
<rect x="537.2" y="0" width="49.7" height="91.94" fill="#ff0000"/>
<rect x="537.2" y="0" width="49.7" height="81.73" fill="#ef0000"/>
<rect x="537.2" y="0" width="49.7" height="71.51" fill="#df0000"/>
<rect x="537.2" y="0" width="49.7" height="61.29" fill="#cf0000"/>
<rect x="537.2" y="0" width="49.7" height="51.08" fill="#bf0000"/>
<rect x="537.2" y="0" width="49.7" height="40.86" fill="#af0000"/>
<rect x="537.2" y="0" width="49.7" height="30.65" fill="#9f0000"/>
<rect x="537.2" y="0" width="49.7" height="20.43" fill="#8f0000"/>
<rect x="537.2" y="0" width="49.7" height="10.22" fill="#800000"/>
<text font-size="33.4" x="600.9" y="666.2">10</text>
<text font-size="33.4" x="600.9" y="524.1">15</text>
<text font-size="33.4" x="600.9" y="381.9">20</text>
<text font-size="33.4" x="600.9" y="239.8">25</text>
<text font-size="33.4" x="600.9" y="97.7">30</text>
<path d="M586.9 511.7h-7M586.9 369.5h-7M586.9 227.4h-7M586.9 85.3h-7" stroke="#1e1e1e" stroke-width="1.2" fill="none"/>
<rect x="537.2" y="0" width="49.7" height="653.8" fill="none" stroke="#1e1e1e" stroke-width="1.5"/>
<text class="t" text-anchor="end" x="-15.5" y="13.7">33°N</text>
<text class="t" text-anchor="end" x="-15.5" y="159">32°</text>
<text class="t" text-anchor="end" x="-15.5" y="304.3">31°</text>
<text class="t" text-anchor="end" x="-15.5" y="449.6">30°</text>
<text class="t" text-anchor="end" x="-15.5" y="594.9">29°N</text>
</g>
<text class="s" x="-0.4" y="735">B</text>
<g transform="translate(141.1 1418.5)">
<clipPath id="cC"><path d="M106.4 138.3L117.6 137.7L118.9 132.1L131.4 130.8L132.6 124L148.2 122.7L150.1 116.5L190 115.2L195 109L315.6 109L319.3 116L429.2 116L429.2 465L422.9 466.2L422.9 472.5L415.4 472.5L415.4 478.7L408 478.7L408 484.9L400.5 484.9L400.5 491.2L393 491.2L385.5 493.7L378 501.2L378 504.9L370.5 504.9L370.5 508.7L363 508.7L363 514.9L355.5 514.9L355.5 521.1L348 521.1L348 523.6L340.5 523.6L340.5 526.1L333.1 526.1L333.1 531.1L325.6 531.1L325.6 536.1L318.1 536.1L318.1 542.4L310.6 542.4L310.6 548.6L303.1 548.6L303.1 551.1L295.6 551.1L295.6 553.6L288.1 553.6L288.1 559.8L280.6 559.8L280.6 566.1L273.1 566.1L273.1 569.8L266.9 569.8L266.9 573.6L260.7 573.6L254.4 581.1L245.7 582.3L240.7 574.8L228.2 573.6L220.7 566.1L198.2 564.8L190.7 558.6L184.5 558.6L180.8 543.6L180.8 536.1L176.4 536.1L176.4 528.6L172 528.6L172 522L168.3 522L168.3 515.3L164.5 515.3L164.5 508.7L160.8 508.7L160.8 499.9L158.3 499.9L158.3 491.2L155.8 491.2L155.8 483.7L152.5 483.7L152.5 476.2L149.1 476.2L149.1 468.7L145.8 468.7L143.3 458.7L143.3 450L137.1 450L137.1 441.3L130.8 441.3L129.6 423.8L129.6 417.5L126.5 417.5L126.5 411.3L123.3 411.3L123.3 402.6L117.1 402.6L117.1 393.8L110.9 393.8L108.4 381.3L108.4 373.8L104.2 373.8L104.2 366.4L100 366.4L100 358.9L95.9 358.9L95.9 352L93.4 352L93.4 345.1L90.9 345.1L90.9 338.3L88.4 338.3L88.4 331.4L85.9 331.4L80.9 323.9L80.9 318.2L73.6 318.2L73.6 312.4L66.2 312.4L66.2 306.7L58.9 306.7L58.9 299.6L56.6 299.6L56.6 292.5L54.3 292.5L54.3 285.3L52 285.3L52 278.2L49.7 278.2L49.7 271.1L47.3 271.1L47.3 264L45 264L45 256.8L42.7 256.8L42.7 249.7L40.4 249.7L40.4 242.6L38.1 242.6L38.1 235.5L35.8 235.5L35.8 228.3L33.5 228.3L33.5 221.2L31.2 221.2L31.2 214.1L28.8 214.1L28.8 207L26.5 207L26.5 199.8L24.2 199.8L24.2 192.7L21.9 192.7L21.9 177.7L21.9 175.5L29.2 175.5L29.2 173.2L36.4 173.2L36.4 171L43.7 171L43.7 168.7L50.9 168.7L50.9 156.7L50.9 154.4L57.8 154.4L57.8 152.1L64.8 152.1L64.8 149.8L71.7 149.8L71.7 147.5L78.6 147.5L78.6 145.2L85.6 145.2L85.6 142.9L92.5 142.9L92.5 140.6L99.5 140.6L99.5 138.3Z"/></clipPath><g clip-path="url(#cC)"><rect x="13.9" y="101" width="423.3" height="489.3" fill="#00008f"/><path d="M25.2 101L439.9 101L439.9 593L13.9 593L13.9 480.4L16.9 478.6L22.9 472.5L44.8 446L61.5 422L81.8 389L86.7 383L94.9 378.5L130.9 369.3L139.9 366L166.9 347.6L175.9 339.2L181.1 332L184.9 324.6L191.9 302L204.9 272L204.2 266L200.8 260L184.9 246.8L169.9 229.1L154.9 214.2L133.9 195.7L113.5 182L102.4 173L58.9 132.1L30.4 107Z" fill="#00009f"/><path d="M30.1 101L439.9 101L439.9 593L13.9 593L13.9 493.2L16.9 491.4L23.3 485L46.1 458L61.3 437L84.8 401L92.2 392L100.3 386L112.5 380L133.9 374.3L142.9 370.4L154.9 361.8L175.9 343L181.8 335L184.9 328.8L192.8 302L205.8 272L205.1 266L202.2 260L184.9 245.7L169.9 228.1L154.9 213L133.9 194.3L115.8 182L104.6 173L35.1 107Z" fill="#0000af"/><path d="M34.8 101L439.9 101L439.9 593L13.9 593L13.9 505.8L16.9 504.1L24.1 497L46.9 470.6L63 449L88.9 410.7L99.7 398L115.9 385.8L136.9 379.5L145.9 375.1L154.9 367.9L175.9 347.1L181.9 339L185.5 332L189.4 320L192.5 305L206.4 272L205 263L200.8 257L187.9 247.6L166.9 223.9L142.9 200.6L130.9 190.6L113.9 179L100.3 167L39.5 107Z" fill="#0000bf"/><path d="M39.2 101L439.9 101L439.9 593L13.9 593L13.9 518.3L16.9 516.6L25.9 507.6L49.9 480.3L66.8 458L91.9 421.4L103.9 406.6L118.9 393.9L139.9 384.9L148.9 380L157.9 371.5L178.9 347.6L184.9 338.1L187.4 332L193.3 305L207 272L206 263L202.5 257L187.9 246.6L166.9 222.8L142.9 199.2L130.9 189.2L116 179L102.6 167L43.6 107Z" fill="#0000cf"/><path d="M43.4 101L439.9 101L439.9 593L13.9 593L13.9 530.6L16.9 528.9L25.9 520.1L52.9 489.8L70.4 467L97.9 427.3L109.7 413L123.5 401L145.9 388.6L153.8 383L178.9 351.9L184.9 342.8L187.9 336.2L190.9 324.7L194.1 305L207.6 272L206.8 263L204.1 257L187.9 245.6L166.9 221.7L142.9 197.9L133.9 190.1L115.9 177.2L104.8 167L47.6 107Z" fill="#0000df"/><path d="M47.3 101L439.9 101L439.9 593L13.9 593L13.9 542.7L19.9 538.3L31.9 526L58.9 495.5L76 473L102.8 434L115 419L128.1 407L154.4 389L160.9 381.8L181.9 352.1L187.9 341.7L190.9 331.9L194.8 305L208.2 272L207.6 263L205.6 257L202.6 254L193.9 249.3L188.3 245L169.9 223.9L148.9 202.1L136.9 191.2L120.1 179L110 170L78.5 137L51.4 107Z" fill="#0000ef"/><path d="M51.1 101L439.9 101L439.9 593L13.9 593L13.9 554.7L19.9 550.3L33.9 536L63.3 503L79.4 482L107.7 440L119.5 425L131.5 413L154.9 394.3L160.9 388.3L184.9 351.9L191.3 338L195.5 305L208.8 272L208.5 263L205.9 255L193.9 248.4L189.5 245L169.9 222.8L148.9 200.8L136.9 189.9L121.9 178.8L112 170L81.1 137L55 107Z" fill="#0000ff"/><path d="M54.8 101L439.9 101L439.9 593L13.9 593L13.9 566.6L19.9 562.2L28.9 553.1L61.9 517.1L85.9 486.2L120.8 434L134.3 419L160.9 394.1L169.9 382L191.4 344L193.6 335L196.2 305L209.3 272L209 260L207.3 254L190.6 245L148.9 199.5L136.9 188.5L120.4 176L114 170L83.6 137L58.5 107Z" fill="#0010ff"/><path d="M58.3 101L439.9 101L439.9 593L13.9 593L13.9 578.4L19.9 573.9L40.9 552.2L73.8 515L94.9 486.5L126.4 437L136.6 425L163.9 396.4L172.9 383.7L193.5 344L195.1 335L195.9 311L196.8 305L209.8 272L209.9 260L208.9 251.9L196.9 248L190.9 244.2L148.9 198.1L136.9 187.1L122.3 176L115.9 170L86.1 137L61.8 107ZM214.9 242.9L213.5 245L214.9 246.4L216.5 245Z" fill="#0020ff"/><path d="M61.7 101L439.9 101L439.9 593L13.9 593L13.9 591L52.9 550.8L82.9 515.8L103.9 486.1L131.4 440L166.9 398.4L175.4 386L195.4 344L196.4 338L196.6 311L197.4 305L204.1 287L209.7 275L211.9 253L219.1 245L219.2 242L217.9 240.2L214.9 240.2L212.4 242L208.9 246.8L205.9 248.3L202.9 248.4L196.9 247L190.9 243.1L151.9 199.7L139.9 188.2L120.8 173L104.1 155L78.9 125L65 107Z" fill="#0030ff"/><path d="M64.9 101L439.9 101L439.9 593L25.7 593L29.8 587L73.6 539L92.9 515L112.9 485L135.9 443L169.9 400.2L177.5 389L196.9 345.4L197.9 338L197.3 311L198 305L204.7 287L210.2 275L213.4 254L218.8 248L220.6 245L221 242L217.9 238.2L214.9 238.3L205.9 246.3L202.9 247L196.9 245.9L190.9 242L151.9 198.3L139.9 186.7L122.7 173L103.6 152L81.5 125L68.2 107Z" fill="#0040ff"/><path d="M68.1 101L439.9 101L439.9 593L36.4 593L40.5 587L80.7 542L100.9 516.2L118.9 488L141.8 443L172.9 401.9L181.1 389L198.9 344L197.9 311L198.6 305L205.2 287L210.8 275L213.6 257L220.9 246.8L222.2 242L220.9 238.3L217.9 236.5L214.9 236.8L211.9 238.5L205.9 244.2L202.9 245.5L196.9 244.8L190.9 240.7L151.9 196.8L139.9 185.2L124.7 173L105.8 152L84.1 125L71.2 107Z" fill="#0050ff"/><path d="M71.2 101L439.9 101L439.9 593L46.7 593L50.7 587L90 542L109.9 515.3L127.9 484.9L145.5 446L183.1 392L187.9 380.4L200.5 344L198.6 311L199.2 305L211.3 275L214.8 257L221.4 248L223.4 242L222.7 239L220.9 236.3L217.9 234.9L211.9 236.8L202.9 243.9L196.9 243.4L190.9 239.4L151.9 195.3L139.9 183.7L123.6 170L105.3 149L86.6 125L74.2 107Z" fill="#0060ff"/><path d="M74.2 101L439.9 101L439.9 593L56.6 593L60.5 587L97.9 543.2L115.9 518.4L125.2 503L136.1 482L147.6 452L150.7 446L181.2 401L186.4 392L199.9 352.1L201.8 344L199.2 311L199.8 305L211.8 275L214.9 259.7L222.5 248L224.4 242L224.1 239L222.4 236L217.9 233.3L211.9 235.2L203.3 242L199.9 242.7L196.6 242L190.9 237.9L154.9 196.9L142.9 184.7L125.7 170L105 146L87 122L77.1 107Z" fill="#0070ff"/><path d="M77.1 101L439.9 101L439.9 593L66.1 593L69.9 587L105.1 545L121.9 521L132.2 503L142.9 480.9L147.3 470L151.7 455L155.6 446L188.1 395L193.6 380L202.9 346.2L202.9 338L199.8 311L200.4 305L205.9 289.5L212.4 275L215.8 260L223.6 248L225.4 242L223.9 235.7L220.9 232.7L217.9 231.7L211.9 233.6L202.9 240.2L199.9 241L196.9 240.4L190.9 236.3L154.9 195.2L142.9 183L127.8 170L107.2 146L89.5 122L79.9 107Z" fill="#0080ff"/><path d="M80 101L439.9 101L439.9 593L75.2 593L78.9 587L111.1 548L127.9 523.1L137.2 506L150.9 476L156.4 455L160 446L191.2 395L196.2 380L204 347L204 338L200.4 311L200.9 305L206.3 290L213 275L216.9 260L224.6 248L226.3 242L226.2 239L223.9 233.5L220.9 230.9L217.9 230.2L211.9 231.9L202.9 238.1L199.9 239.1L196.9 238.7L190.9 234.6L154.9 193.5L127.9 167.7L106.9 143L91.9 122L82.6 107Z" fill="#008fff"/><path d="M82.8 101L439.9 101L439.9 593L84 593L87.6 587L118.9 548.1L133.9 524.7L142.9 506.9L156.2 476L160.7 455L164.1 446L172.3 431L187.9 406.9L194.1 395L198.7 380L205.3 347L205.3 341L201 311L201.4 305L206.9 290L212.5 278L216.7 263L225.6 248L227.3 242L226.6 236L223.9 231.3L220.9 229.1L214.9 229L199.9 236.9L193.9 235.1L187.9 230L154.9 191.6L129.6 167L109 143L94.2 122L85.3 107Z" fill="#009fff"/><path d="M85.6 101L439.9 101L439.9 593L92.4 593L96 587L124.9 550.4L139.2 527L147.8 509L160.8 476L163.8 458L167.7 446L174 434L191.1 407L197 395L201.2 380L206.4 347L206 338L201.6 311L202 305L207.4 290L213.1 278L217.9 262.2L226.5 248L228.2 239L226.5 233L223.9 229.2L220.9 227.3L214.9 227.4L199.9 234.6L193.9 233.1L187.9 228.2L154.9 189.7L130.9 165.8L109.9 141.4L96.6 122L88 107Z" fill="#00afff"/><path d="M88.3 101L439.9 101L439.9 593L100.4 593L104 587L129.7 554L142.9 531.9L152 512L163.9 477.4L167.2 458L171.2 446L177.5 434L193.9 407.8L199.9 395L203.7 380L207.5 347L207 338L202.2 311L202.5 305L208 290L213.7 278L217.9 264.5L227.5 248L229.2 239L226.9 230.9L223.9 227L220.9 225.4L214.9 225.8L199.9 232.4L193.9 231L187.9 226.3L154.9 187.6L131.7 164L110.9 140L98.9 122L90.6 107Z" fill="#00bfff"/><path d="M91 101L439.9 101L439.9 593L108.2 593L111.7 587L134.8 557L145.9 538.2L158.2 509L167.4 476L170.5 458L173.3 449L179.2 437L196.9 408.1L202.8 395L206.1 380L208.6 347L207.9 338L202.9 311.7L203.1 305L208.9 289.2L214.4 278L218.3 266L228.4 248L230.1 239L229.1 233L226.9 228.1L223.9 224.7L220.9 223.4L214.9 224.1L199.9 230.2L193.9 228.9L187.9 224.4L154.9 185.5L134.3 164L112.9 139.7L101.2 122L93.2 107Z" fill="#00cfff"/><path d="M93.6 101L439.9 101L439.9 593L115.6 593L119 587L139.9 559.6L150 542L163 509L172.8 461L176.5 449L182.5 437L199.1 410L205.7 395L208.6 380L209.7 347L208.9 338L203.8 314L203.6 305L219.3 266L229.4 248L231 239L229.3 230L226.9 225.1L223.9 222.2L217.9 221.4L199.9 228.3L193.9 226.9L187.9 222.4L154.9 183.3L112.9 137L101.8 119Z" fill="#00dfff"/><path d="M96.2 101L439.9 101L439.9 593L122.7 593L126.1 587L146.3 560L154.5 545L166.9 511.2L169.3 491L178.4 452L184 440L202.2 410L208.6 395L211 380L210.7 344L204.5 314L204.2 305L220.2 266L230.3 248L231.7 242L231.8 236L229.6 227L226.9 221.9L223.9 219.3L217.9 219.3L205.9 224.9L199.9 226.4L193.9 224.9L187.9 220.4L154.9 181L115 137L105.6 122L98.2 107Z" fill="#00efff"/><path d="M98.8 101L439.9 101L439.9 593L129.5 593L132.9 587L150.8 563L157.9 550.6L166.1 524L170.8 512L172.3 491L180.3 455L185.5 443L203.8 413L211.5 395L213.6 380L211.8 344L205.1 314L204.8 305L220.9 266.7L231.3 248L232.8 236L229.9 223.5L226.9 218.2L223.9 216.2L217.9 217L205.9 223.2L199.9 224.6L193.9 223L187.9 218.4L151.9 175.1L115.9 135.3L106.3 119Z" fill="#00ffff"/><path d="M101.3 101L439.9 101L439.9 593L136 593L139.3 587L157.1 563L163.5 551L168.9 527L174.2 512L175.2 491L183.2 455L188.7 443L207.1 413L214.6 395L215.8 389L216.1 380L212.9 344L205.7 314L205.3 305L220.9 269L231.1 251L233 245L233.8 236L230.7 221L226.9 214L223.9 212.7L220.9 213.1L205.9 221.6L199.9 222.8L193.9 221.1L187.9 216.3L151.9 172.6L117 134L108.5 119Z" fill="#10ffef"/><path d="M103.9 101L439.9 101L439.9 593L142.2 593L145.5 587L163.3 563L168.1 554L169.8 548L172.3 527L176.9 512L178 491L184.9 458.6L190.2 446L208.9 415.6L217.6 395L218.8 389L218.7 380L213.7 341L206.4 314L205.9 305L211.9 290L217 281L223.5 266L232.1 251L234.5 242L234.6 233L230.6 215L226.9 210L223.9 209.3L220.9 210.1L209.7 218L202.9 220.9L196.9 220.6L192.1 218L187.9 214.3L142.9 159.4L118.9 133.7L110.7 119Z" fill="#20ffdf"/><path d="M106.4 101L439.9 101L439.9 593L148.1 593L151.4 587L167.1 566L172.9 556.4L174.4 551L175.5 527L179.3 512L180.4 494L187.1 461L191.7 449L212 416L220.8 395L221.9 386L220.9 377L214.2 338L207.8 317L206.2 308L207.5 302L211.9 291.5L233.1 251L235.4 242L235.6 233L232.7 215L230.1 209L226.9 206.9L220.9 207.5L208.9 216.6L202.9 219.2L196.9 218.8L187.9 212.2L144.1 158L119.1 131L111.6 116Z" fill="#30ffcf"/><path d="M108.9 101L439.9 101L439.9 593L153.7 593L156.9 587L172.9 565.6L178.3 557L179.3 551L178.3 536L178.6 527L181.8 512L184.5 488L189.3 464L193.9 451.2L212.1 422L218 410L224 395L224.9 389L223.5 377L219.8 362L216.2 341L208.6 317L206.9 308L208.1 302L211.9 293.1L219.1 281L234.1 251L236.3 242L236.4 230L232.9 209.9L230.1 206L226.9 204.6L220.9 205.1L208.9 214.8L202.9 217.6L196.9 217L187.9 210.3L145.9 157.4L121.4 131L113.9 116Z" fill="#40ffbf"/><path d="M111.4 101L439.9 101L439.9 593L159 593L162.2 587L179.8 563L182.9 557L183.3 551L181.6 536L181.7 527L191.9 467L197.1 452L214.9 423L227 395L227.8 389L226.1 377L221.9 362L216.9 338L208.9 315.6L207.6 308L208.7 302L211.9 294.7L222 278L235.2 251L237.7 239L237.5 230L235 212L232.9 206.6L229.9 203.7L226.9 202.6L220.9 203.2L208.9 212.9L202.9 215.9L196.9 215.3L187.9 208.4L145.9 154.8L123.7 131L117.4 119Z" fill="#50ffaf"/><path d="M113.9 101L439.9 101L439.9 593L164.1 593L167.1 587L181.9 566.4L185.5 560L186.8 554L184.9 536L185.1 527L196.6 464L201.3 452L211.9 434.7L220.2 419L229.9 395L230.4 386L228.7 377L223.9 361L218.5 338L210.2 317L208.3 308L208.9 303.6L211.9 296.4L222 281L236.3 251L238.7 239L238.3 227L235.5 209L232.9 204.3L229.9 202L226.9 201L220.9 201.5L217.9 203L208.9 211L202.9 214.2L196.9 213.6L187.9 206.7L148.2 155L124.9 129.2L118.4 116Z" fill="#60ff9f"/><path d="M116.4 101L439.9 101L439.9 593L168.8 593L171.7 587L184.9 567.8L188.8 560L189.8 554L188.2 539L188.2 530L190 521L196.3 503L198.7 476L202 461L205.8 452L223.9 418L229.9 404L232.7 395L233.1 386L231.4 377L220.3 338L211.9 319.2L209 308L211.9 298.2L225.5 278L237.4 251L239.9 236L238.9 222.5L235.9 206.9L232.9 202.5L228.4 200L223.9 199.4L217.9 201.4L208.9 209.2L202.9 212.5L196.9 211.9L188.9 206L148.9 153.4L126.4 128L120.7 116Z" fill="#70ff8f"/><path d="M118.9 101L439.9 101L439.9 593L173.2 593L176.1 587L187.9 568.7L191.7 560L192.5 554L191.1 539L191.5 530L194.5 521L202.2 509L204.6 503L203.3 482L205.7 464L210.2 452L229.4 413L235.4 395L235.9 389L234.8 380L223.6 341L211.9 316.9L209.8 308L211.1 302L214.9 294.6L226.5 281L231.8 266L238.5 251L240.9 236L239.8 221L238.5 212L236.6 206L232.9 201L229.9 199.1L223.9 198L217.9 199.8L208.9 207.5L202.9 210.9L196.9 210.3L190.6 206L148.9 150.9L128.9 128L123 116Z" fill="#80ff80"/><path d="M121.4 101L439.9 101L439.9 593L177.3 593L190.9 569.2L193.9 562L195.3 554L193.9 536L196.1 527L199.9 520.5L210.8 509L211.9 506.1L208.3 482L208.7 473L210.3 464L214.5 452L233.8 410L238.2 395L238.5 389L237.6 380L226.6 341L213 317L210.6 308L211.9 302L214.9 296.4L220.9 289.7L228.4 284L229.8 281L233.4 266L238.7 254L241 245L242 236L240.8 221L237.7 206L233.4 200L229.9 197.7L223.9 196.6L217.9 198.4L205.9 208L202.9 209.3L196.9 208.8L190.9 204.7L186.8 200L169.9 175.3L148.9 148.5L131.4 128L125.3 116Z" fill="#8fff70"/><path d="M123.9 101L439.9 101L439.9 593L181.2 593L192.6 572L196.5 563L198 554L196.8 536L198.5 530L202.9 523.3L211.9 514.2L215.6 509L215.9 503L212.8 482L213.2 473L214.8 464L219.8 449L236.9 410L240.5 398L241.3 389L240.5 380L230 341L226.9 335L214.9 318.5L211.9 311.4L211.5 308L213 302L217.9 294.5L223.9 290L230.7 287L232.8 284L235.2 266L240.9 251L242.5 242L243 233L241.8 221L238.8 206L235.9 201L229.9 196.4L223.9 195.3L217.9 196.9L205.9 206.5L202.9 207.8L196.9 207.4L190.9 203.2L172.3 176L131.8 125L126.7 113Z" fill="#9fff60"/><path d="M126.5 101L439.9 101L439.9 593L184.9 593L195.7 572L199.3 563L200.7 554L199.7 539L200.8 533L204.6 527L214.9 515.3L218.4 509L218.8 503L216.9 482L218.9 464L224.8 446L240 410L243.5 398L244.2 389L243 377L237.6 359L232.9 338.8L230.9 335L217.9 320.9L213.8 314L212.4 308L214.1 302L217.9 296.5L223.9 292.5L233.1 290L236.1 287L237.1 266L242.1 251L244 239L242.8 221L241.4 212L238.9 204.1L235.9 199.5L229.9 195.1L223.9 194L217.9 195.5L205.9 205L202.9 206.4L196.9 206L190.9 201.5L174.2 176L134.2 125L129.1 113Z" fill="#afff50"/><path d="M129.1 101L439.9 101L439.9 593L188.4 593L198.7 572L202.1 563L203.4 554L203.6 536L206.8 530L217.9 515.2L220.6 509L221.2 503L220.5 482L222.9 464L228.4 446L243.3 410L246.7 398L247.3 389L246.4 377L241.1 359L236.6 338L232.9 332L223.9 324.7L217.9 318.5L214.9 313.9L213.5 308L215.3 302L220.9 296.2L226.9 294.2L238.5 293L240.7 290L240.9 284L239 269L243.4 251L244.9 240.4L243.8 221L241.9 210.1L239.3 203L235.9 198L229.9 193.7L223.9 192.6L217.9 194L205.9 203.6L202.9 205L196.9 204.7L191 200L175.9 175.6L136.5 125L131.4 113Z" fill="#bfff40"/><path d="M131.7 101L439.9 101L439.9 593L191.7 593L204.8 563L207.6 536L221.5 512L223.2 503L224.4 476L227.3 461L232.9 443L246.6 410L250.1 398L250.6 389L249.6 374L245.1 359L239.7 335L235.4 329L223.9 321.7L217.9 316.2L215 311L214.6 308L215.2 305L217.9 300.8L223.9 297.2L232.9 297.6L244.9 303.1L248.1 302L248.9 296L242.6 275L241.7 269L246.1 239L244.7 221L242.5 209L240.3 203L235.9 196.5L229.9 192.3L223.9 191.2L217.9 192.4L202.9 203.7L196.9 203.4L192.6 200L178.1 176L138.7 125L133.8 113Z" fill="#cfff30"/><path d="M134.3 101L439.9 101L439.9 593L194.8 593L206.7 566L208.5 557L209.7 542L211.4 536L223.3 512L224.7 506L227.7 476L231.6 458L238.4 437L252.3 404L254.2 395L254.4 377L253.6 371L242.7 329L238.9 324.1L226.9 320.2L220.9 316.8L217.9 313.8L216.1 308L217.9 303.3L220.9 300.7L223.9 299.7L229.9 300.3L236.9 305L244.9 314.2L247.9 315.4L253.9 313.7L255.9 311L256.7 305L254.4 293L247.3 278L244.6 269L244.4 263L246.7 245L247.1 233L244.2 212L239.7 200L232.9 192.6L226.9 190L223.9 189.6L217.9 190.8L214.9 192.4L206.8 200L202.9 202.3L199.9 202.8L194.2 200L178 173L163.1 155L140.9 125L137.1 116Z" fill="#dfff20"/><path d="M137 101L439.9 101L439.9 593L197.8 593L209.3 566L213.5 539L225 512L231.4 473L237.5 449L243.9 431L255 407L258.2 398L259.6 374L251.8 344L250 329L252.3 323L257.6 317L260.7 311L261.2 296L259.4 290L250.9 277L247.7 269L246.8 260L248.1 233L245.1 212L240.8 200L236.3 194L232.9 191.1L229.9 189.4L223.9 188.1L217.9 189.1L214.9 190.6L202.9 200.9L199.9 201.4L196.2 200L193.3 197L180.1 173L165 155L143.2 125L139.4 116ZM219.2 305L223.9 302.5L229.9 304.5L232.9 308L233.9 311L233.5 314L229.9 316.3L226.9 316.4L220.9 314.1L217.9 309.3Z" fill="#efff10"/><path d="M139.8 101L439.9 101L439.9 593L200.6 593L211.8 566L215.3 542L226.9 510.8L234.4 473L241.6 446L247.1 431L262.1 401L265 392L266.6 380L266.2 371L257.2 344L255.6 332L257 326L264.7 311L268.3 293L265 287L256.9 279.1L253.9 275L250 266L248.9 257L249.4 236L247.7 221L244.5 206L240.1 197L232.9 189.4L223.9 186.4L214.9 188.6L202.9 199.3L199.9 199.9L196.9 198.6L193.2 194L187.7 182L182.2 173L166.9 154.9L145.4 125L141.8 116ZM220.8 308L223.9 306.8L226 308L225.6 311L222.8 311Z" fill="#ffff00"/><path d="M142.6 101L439.9 101L439.9 593L203.3 593L214.1 566L216.9 545L228.1 512L237.1 473L245.6 443L254.5 422L269 398L273.4 386L274.6 377L273.5 368L270.4 359L262.9 343.4L260.7 332L263.1 323L271.9 306.8L280.9 300.5L282.2 299L282.4 296L281 293L275.5 287L259.9 276.8L256.1 272L253 266L250.9 257L250.3 233L247.8 215L244.4 203L239.3 194L235.9 190.2L229.9 186.1L220.9 184.8L214.9 186.4L211.9 188.2L202.9 197.4L199.9 198L196.9 196.4L184.5 173L166.9 152.1L147.8 125L144.2 116Z" fill="#ffef00"/><path d="M145.6 101L439.9 101L439.9 593L205.9 593L207.6 587L215.3 569L218.9 545L229.6 512L240.6 470L249.6 440L259.7 419L276.4 395L281.1 383L281.8 377L280.8 368L276.7 356L266.9 338L265.6 332L266.6 326L269.5 320L274.9 314.2L286.9 308.8L289.9 306.5L292.1 302L291.9 299L288.5 293L282.3 287L274.6 281L262.9 274.7L256.1 266L252.4 254L251.4 233L248.9 215L245.4 203L238.9 191.6L235.9 188.4L229.9 184.3L220.9 182.9L211.9 185.5L202.9 194.6L199.9 195.3L198.1 194L187 173L178.9 162.4L169.1 152L148.9 122.5L146.7 116Z" fill="#ffdf00"/><path d="M148.8 101L439.9 101L439.9 593L208.4 593L217.2 569L220.8 545L251.6 443L259.9 424.9L279.9 398L286.8 383L287.3 374L285.6 365L280.9 351.3L272.6 335L272.1 329L274.9 322.9L292.9 311.2L295.9 306.3L296.7 302L294.8 296L289.9 290L274.9 277.8L262.9 270.5L257.5 263L253.7 251L252.3 230L249.3 212L245.3 200L239.9 191L232.9 184.1L223.9 180.9L217.9 181.1L211.9 182.8L207.6 185L202.9 189L199.9 189.5L189.6 173L180.5 161L169.9 149.6L151.4 122L149.1 113Z" fill="#ffcf00"/><path d="M152.1 101L439.9 101L439.9 593L210.8 593L218.9 569L222.4 545L243.5 476L254.6 443L263.6 425L283.9 398.9L290.4 386L291.8 380L291.4 371L281.9 341L280.7 332L283.3 326L295.9 313.4L298.9 308L299.8 302L297.7 296L293.1 290L274.9 275.1L265.3 269L258.7 260L255 248L253.1 227L250.5 212L246.5 200L241.5 191L235.9 184.5L226.9 179.5L217.9 178.9L202.9 182.3L199.9 181.4L196.9 178.5L181.9 159.1L170.2 146L154.6 122L152.2 113Z" fill="#ffbf00"/><path d="M155.8 101L439.9 101L439.9 593L213.1 593L220.4 569L222.7 551L224.9 542L240.6 491L256.4 446L265.9 427.4L286.7 401L294.6 386L295.8 380L295.4 371L287.7 344L286.8 335L288.5 329L300.7 311L302.3 302L300.2 296L295.6 290L265.9 266.1L259.9 257.5L256.7 248L251.7 212L247.8 200L241.9 189.2L235.9 182.3L226.9 177.4L217.9 176.4L202.9 177.4L196.9 173.6L172.9 145L159.7 125L156.1 116Z" fill="#ffaf00"/><path d="M159.8 101L439.9 101L439.9 593L215.3 593L221.8 569L224.8 548L233.4 518L256.9 451.8L267.3 431L290.7 401L296.1 392L298.5 386L299.7 380L299.6 374L292.1 347L291.1 338L293.4 329L303.5 311L304.7 302L302.4 296L297.8 290L268.9 266L262 257L258 245L254.9 221L252.3 209L247.8 197L241.9 186.7L235.9 180.1L229.9 176.3L220.9 174.1L208.9 174.1L202.9 173.2L199.9 171.7L193.9 166.4L173 140L163.1 125L159.9 116Z" fill="#ff9f00"/><path d="M164.2 101L439.9 101L439.9 593L217.4 593L223.2 569L226.2 548L234.8 518L247.9 480.9L256.9 458.3L262.9 444.8L268.9 434.2L294.5 401L299.9 392L302.4 386L303.5 380L303.2 374L296 350L294.7 338L297.2 329L306.2 311L307 302L304.6 296L300 290L271.8 266L264.5 257L259.8 245L255.9 218L252.8 206L249.4 197L242.5 185L235.9 177.8L229.9 174L220.9 171.5L205.9 170.4L199.9 167.8L193.9 162.5L166.9 125L164 116Z" fill="#ff8f00"/><path d="M169.2 101L439.9 101L439.9 593L219.5 593L228.3 545L238.1 512L250.9 478.2L262.4 452L268.7 440L276.9 428L298.2 401L303.7 392L306.1 386L307.1 380L306.5 374L299.5 353L297.7 341L299.3 332L307.7 314L309.7 305L308.3 299L304.7 293L298.9 287L274.3 266L268.9 260L265.2 254L261.2 242L255.3 209L249.6 194L244.5 185L238.9 178.1L229.9 171.5L220.9 168.9L205.9 166.9L199.9 164L193.9 158.5L170.1 122L168.7 113Z" fill="#ff8000"/><path d="M175 101L439.9 101L439.9 593L221.6 593L229.7 545L238.9 513.9L252.6 479L270.2 443L278.3 431L301.9 401L307.3 392L309.7 386L310.3 377L307.9 368L302.9 356L300.4 341L302.2 332L310.3 314L312.1 305L310.5 299L306.7 293L300.9 287L279.4 269L271.4 260L267.6 254L263.2 242L258.5 215L255.1 203L249.9 191L242.1 179L235.9 172.7L229.9 168.9L223.9 166.7L205.9 163.4L199.9 160.3L193.9 154L176.1 122L174.5 113Z" fill="#ff7000"/><path d="M181.7 101L439.9 101L439.9 593L223.6 593L224.7 581L230.2 548L240 515L253.9 480.6L273.4 443L303.2 404L312.2 389L313.6 383L313.4 377L305.1 356L303.1 347L302.8 341L304.9 332L312.8 314L314.6 305L312.9 299L308.8 293L302.9 287L284.2 272L276 263L270 254L265.4 242L258 206L251.9 191L244.5 179L235.9 170L229.9 166.2L220.9 163L205.9 159.8L199.9 156.4L196 152L183.4 122L181.7 113Z" fill="#ff6000"/><path d="M189.4 101L439.9 101L439.9 593L225.7 593L226.6 578L231.6 548L241.5 515L253.9 485.2L274.9 445.4L282.8 434L306.5 404L312.6 395L315.3 389L316.6 383L316.1 377L307.1 356L305 344L306.3 335L315.3 314L317 305L315.2 299L310.8 293L304.9 287L285.9 272L280.4 266L274.1 257L267.7 242L262.4 215L259.1 203L252.5 188L247 179L239 170L232.9 165.2L223.9 160.9L205.9 155.7L200.4 152L198.2 149L193.6 134Z" fill="#ff5000"/><path d="M197.7 101L439.9 101L439.9 593L227.7 593L228.3 575L232.9 548.1L242.1 518L253.9 489.7L259.9 477.3L277.6 446L311.9 401L315.7 395L318.3 389L319.2 383L318.5 377L308.9 356L307 344L308.5 335L317.8 314L319.4 305L317.5 299L312.9 293L304.9 285.2L286.9 271.4L282.1 266L276.3 257L270.3 242L261.4 203L256.5 191L249.6 179L241.9 170L235.9 164.7L226.9 159.2L208.9 151.6L205 149L202.6 146L200.4 137Z" fill="#ff4000"/><path d="M206.4 101L439.9 101L439.9 593L229.8 593L229.6 575L233.6 551L243.8 518L253.9 494.2L259.9 481.5L280.6 446L312.8 404L320.2 392L321.6 386L321.4 380L319.4 374L310.7 356L309 344L310.8 335L320.3 314L321.7 305L319.8 299L315.2 293L305.4 284L289.2 272L283.8 266L280 260L273.9 245L264.1 203L259.2 191L252.4 179L247.6 173L238.9 164.5L215.8 149L210.8 143L209.3 137L209 119Z" fill="#ff3000"/><path d="M215.1 101L439.9 101L439.9 593L231.9 593L230.9 575L234.3 554L244.4 521L250.9 505.2L262 482L283.5 446L318.2 401L323.1 392L324.3 386L323.7 380L321.6 374L312.4 356L310.8 347L311.9 338L322.9 314L324.1 305L322.1 299L317.5 293L307.6 284L289.9 271L283.5 263L277.7 248L267 203L262.3 191L255.5 179L247.9 170L225.8 152L220.4 146L218.2 140L218 134L220.6 119Z" fill="#ff2000"/><path d="M222.7 101L439.9 101L439.9 593L234.2 593L232.3 575L235.7 554L244.9 524.6L253.9 503.1L262.9 484.7L286.9 445.2L319.3 404L326.2 392L327.2 386L326.1 380L323.8 374L314.2 356L312.7 347L314.1 338L324.6 317L326.9 308L324.5 299L320 293L307.9 282.4L289.9 269.4L287 266L281.9 254L271.2 206L264.3 188L259.1 179L254.2 173L230 152L225.3 146L223.5 140L223.6 134L228.9 119Z" fill="#ff1000"/><path d="M228.9 101L439.9 101L439.9 593L236.5 593L233.8 575L235.9 560L244.9 529.9L253.9 507.8L265.3 485L289.4 446L322.9 404L329.9 392L330.6 389L330 383L326.2 374L320.5 365L316.3 356L314.8 347L316.6 338L327.9 317L329.9 308L327.2 299L322.7 293L308.4 281L292.9 270.1L288.8 266L285.8 260L284.2 254L281 233L275.6 209L268 188L262.9 179L258.2 173L236.6 155L229.2 146L227.6 140L227.9 134L232.8 119Z" fill="#ff0000"/><path d="M234.1 101L439.9 101L439.9 593L239 593L235.4 575L237.7 560L241.9 544.1L247.9 527L256.9 506.3L266.4 488L280.3 467L292.6 446L299.2 437L327 404L333.3 395L335.2 389L334.1 383L327.4 371L322.9 364.9L318.7 356L317.2 350L317.6 344L319.6 338L332.9 314L333.5 311L333 305L330.4 299L322.7 290L293.8 269L288.9 263L287 257L284.4 233L281.5 218L276.7 200L272.1 188L267.1 179L262.5 173L255.9 167L241.9 157.2L236.6 152L232.6 146L231.3 137L235.7 119Z" fill="#ef0000"/><path d="M239.5 101L315.7 101L310.6 116L310.6 122L319 134L325.9 146.6L328.9 149.7L333.5 152L364.9 159.8L373.9 157.9L383 152L387.8 146L389.7 140L389.5 131L387 122L382.9 113.8L374.2 101L439.9 101L439.9 593L241.7 593L237.4 575L238.9 562.5L244.9 541.1L256.9 511.5L268.9 488.8L281.8 470L296.1 446L302.7 437L336.5 398L338.7 395L340.9 389L339.6 383L322.9 359L320.3 350L321 344L323.2 338L334.8 320L337.6 314L338.2 311L337.3 305L334.2 299L326.3 290L295.9 268.5L291 263L289.3 257L287.6 233L285.1 218L276.6 188L269.7 176L264.6 170L256.7 164L244.9 157.1L239.7 152L235.9 146L235 137L238.4 122Z" fill="#df0000"/><path d="M247.6 104L250.9 101.4L255 101L256.9 101.6L261.7 107L261.9 110L253.4 119L252.5 122L253.9 125.4L256.9 126.7L259.9 126.6L271.9 119.9L277.9 121.2L300.3 140L312.3 155L316.9 159.3L325.9 163.2L346.9 168.4L361.9 173.8L367.9 174.9L373.9 173.4L385.9 167.7L400.9 162.5L404.1 161L406.9 157.9L409.6 149L410.6 134L409.2 119L405.7 101L439.9 101L439.9 593L244.7 593L240.1 578L239.9 569L245.9 545L256.9 517L269.2 494L285.3 470L299.9 446L316.9 425L341.2 398L344.5 392L345.4 386L342.9 380L328.7 362L325.6 356L324.4 350L325.2 344L327.6 338L339.5 320L342.4 314L343 311L342.1 305L336.5 296L328.9 288.4L298.9 268.3L293.4 263L291.6 257L290.5 233L288.5 218L281.5 185L271.2 170L259.9 161.6L246.4 155L241.9 150.3L239.5 146L239.2 137L243.1 122L243.9 110L244.9 106.7Z" fill="#cf0000"/><path d="M427.9 101L439.9 101L439.9 593L247.9 593L242.9 578L242.4 569L247.9 546.3L256.9 522.8L271.9 495.4L304.9 444.5L320.7 425L343.9 398.8L348.3 389L348.5 386L346.9 380.5L331.5 359L329 350L329.7 344L332.1 338L345.2 317L346.9 311L346.3 305L341.2 296L332.4 287L299.5 266L295.9 262.4L294.2 257L293.1 230L289.8 203L290.6 194L292.9 190.8L307.9 179.4L316.9 175.6L331.9 175.5L358.9 181L367.9 181.9L379.9 179.3L403.9 171.5L409.9 168.6L418 161L421.5 155L424.8 146L427.9 128ZM248.5 137L253.9 136.7L262.9 138.7L271.9 142.9L289.9 156.9L292.9 161L292.9 165.5L289.9 167.7L287.6 167L280.9 162.3L249.4 152L246.3 149L244.8 146L245.8 140Z" fill="#bf0000"/><path d="M438.5 152L439.9 150.2L439.9 593L251.6 593L246.3 578L245.4 569L250.9 545.6L259.4 524L274.9 496.8L308.2 446L321.7 428L345 401L350.6 389L350.8 386L349.4 380L335.8 359L333.2 350L333.8 344L336 338L347.1 320L349.6 314L350.2 308L349.1 302L343.7 293L334.9 283.9L325.9 277.7L301.9 264.2L297.9 260L294.3 209L295.4 200L297.1 197L301.9 192.8L310.9 187.8L316.9 185.8L331.9 184.9L358.9 188.1L370.9 188.1L382.9 186L403.9 180.2L414.4 176L423.7 170L429.8 164Z" fill="#af0000"/><path d="M436.4 176L439.9 174.1L439.9 593L255.7 593L250.2 578L249 569L252.5 551L259.9 530L274.9 503.4L320.7 434L347.4 401L352.5 389L352.6 383L350.8 377L339.8 359L337.6 353L337.2 347L339.6 338L351.5 317L353.4 308L352.8 302L348.6 293L337.9 280.4L328.9 274L307.1 263L301.9 258.8L301.1 257L299.6 239L300 233L298.6 224L299.3 206L301.9 201.2L304.9 198.5L313.9 194.9L328.9 194.3L358.9 196.1L379.9 195L412.9 187.3L424.9 182.8Z" fill="#9f0000"/><path d="M435.2 200L439.9 197.1L439.9 593L260.3 593L253.8 575L253.1 566L256.8 548L262.9 531.6L272 515L310.4 458L326.1 431L349.5 401L353.5 392L354.7 386L353.4 377L342.3 356L340.9 347L343.1 338L353.2 320L355.6 314L356.9 305L356.2 299L353.6 293L346.9 282.2L340.9 275.1L331.9 268.4L310.9 257.4L307.9 254L306.5 242L306.9 233L304.8 221L306.6 212L307.9 209.4L310.9 207.1L313.9 205.9L322.9 205.6L364.9 209.3L403.9 216.3L412.9 217L418.9 215.6L421.9 213.7Z" fill="#8f0000"/><path d="M436.9 233L439.9 231.2L439.9 593L265.4 593L258.7 575L257.6 566L259.9 551L265.9 534.1L277.9 513.2L302.4 476L316.1 458L329.5 431L350 404L356.3 389L356.9 383L356.1 377L346.2 356L344.7 347L346.8 338L356.7 320L359.1 314L361.2 305L361.1 296L349.9 270.5L343.9 262.7L335.1 254L333.3 251L332.9 248L334.9 241.3L337.9 236.7L340.9 234.4L343.9 233.4L349.9 233.7L355.9 236.2L376.9 251.1L397.9 261L403.9 262.3L409.9 259.9Z" fill="#800000"/></g>
<g clip-path="url(#cC)"><path d="M128.9 218.2L131 219.3L135.4 221.5L139.8 223.8L144.2 226.3L148.5 228.8L152.9 231.3L157.3 233.8L161.6 236.3L165.1 238.8L167.6 241.3L169.7 244.7L171.6 249.1L173.5 253.8L175.4 258.8L177.2 264.3L179.1 270.4L179.7 276.7L179.1 283L176.8 289.3L172.8 295.6L167.7 300L161.4 302.5L154.5 303.6L147.1 303.3L140.2 304L134 305.5L130.8 306.2M127 191.4L129 192.9L133.1 196.1L137.3 199.5L141.7 203.2L146 207L150.4 210.7L154.8 214.8L159.1 219.1L163.2 223.2L166.9 226.9L170.4 230.7L173.5 234.4L176.6 238.2L179.7 241.9L182.8 245.4L186 248.5L189.1 251.3L192.2 253.8L195.3 256.3L198.5 258.8L201.3 261.6L203.8 264.7L205.6 268.1L206.9 271.7L205.8 276.1L202.4 281.2L198.9 287.5L195.1 295L192 302.5L189.5 309.9L188.3 313.7M158.3 348.9L153.3 352L143.3 358.2L132.1 363.2L119.6 367L105.2 369.2L89 369.8L80.9 370.1M125.7 171.4L127.8 173L131.8 176.1L136 179.5L140.4 183.3L144.8 187.3L149.1 191.7L153.5 196.4L157.9 201.4L162.3 206.3L166.6 211.3L170.7 216L174.4 220.4L177.9 224.5L181 228.2L184.1 231.9L187.2 235.7L190.3 239.1L193.5 242.2L196.6 244.1L199.7 244.7L202.8 243.8L205.9 241.3L208.7 238.8L211.2 236.3L213.7 234.3L216.2 232.7L218.7 232.7L221.2 234.3L223.3 236.3L224.8 238.8L225.1 241.6L224.2 244.7L222.5 247.9L220 251L217.8 254.1L215.9 257.2L214.4 260.7L213.1 264.4L212.2 268.1L211.6 271.7L210.2 276.1L208 281.2L206 287.5L204.2 295L202.5 303.1L201 311.8L200.4 318.1L200.6 322L201.4 328.9L202.6 338.9L203.2 343.9M185.8 393.8L183.3 397.6L178.3 405.1L172.6 413.2L166.4 421.9L160.8 430L155.8 437.5L151.7 443.8L148.6 448.7L147.1 451.2M122.6 131.5L124.5 133L128.2 136.1L132.3 139.9L136.7 144.2L141 148.9L145.4 153.9L149.8 159.2L154.1 164.8L158.5 170.5L162.9 176.1L167.2 181.7L171.6 187.3L175.7 192.6L179.4 197.6L183.2 202.3L186.9 206.7L190.3 210.4L193.5 213.5L196.9 215.7L200.6 217L204.1 216.6L207.2 214.8L210 212.3L212.5 209.2L215 206.3L217.5 203.9L220.6 202.3L224.4 201.7L228.1 202L231.8 203.2L234.3 205.7L235.6 209.5L236.4 213.8L236.7 218.8L237 223.8L237.3 228.8L237.3 233.8L237 238.8L236.4 243.8L235.4 248.8L234 253.2L232.2 256.9L230 260.7L227.5 264.4L225.3 268.1L223.4 271.7L221.1 276.1L218.3 281.2L215.4 286.2L212.3 291.2L209.5 296.2L207 301.2L206.4 306.9L207.6 313.2L209.5 320.2L212 327.7L214.2 335.1L216 342.6L217.9 350.1L219.8 357.6L222 365.1L224.5 372.6L226.3 380.1L227.6 387.6L227 394.4L224.5 400.7L223.2 403.8M195.7 451.2L194.5 455L192 462.5L189.8 471.2L187.9 481.2L186.1 491.2L184.2 501.2L182.6 511.2L181.4 521.1L181.1 530.5L181.7 539.2L182.6 546.7L183.9 553L184.5 556.1M148.8 121.5L150.4 123.3L153.5 127.1L156.6 131.1L159.8 135.5L162.6 139.9L165.1 144.2L167.2 148L169.1 151.1L170.1 152.7M195.6 188.9L195.8 190.7L196.1 194.5L196.9 197L198.1 198.2L200 198.2L202.5 197L204.1 194.8L204.7 191.7L205.9 188.9L207.8 186.4L210.6 184.3L214.4 182.8L218.4 181.9L222.8 181.5L226.9 182L230.6 183.3L234 185.4L237.1 188.6L240 192.3L242.5 196.7L244.6 201.4L246.5 206.3L248.1 211.3L249.3 216.3L250.3 221.3L250.9 226.3L251.3 231.3L251.7 236.3L252 241.3L252.3 246.3L253.1 251.3L254.3 256.3L256.2 261L258.7 265.3L260.9 269L262.7 272L266 273.9L270.8 274.6L275.6 276.9L280.6 280.6L285.6 284.7L290.6 289L294.4 293.7L296.9 298.7L296.9 303.8L294.4 308.9L290 312.7L283.7 315.2L278.1 317.7L273.1 320.2L270 323.9L268.8 328.9L269.4 333.9L271.9 338.9L275 343.9L278.8 348.9L281.9 355.1L284.4 362.6L285.9 370.1L286.6 377.6L285.3 385.1L282.2 392.6L278.1 399.4L273.1 405.7L268.1 411.9L263.2 418.2L258.8 425L255 432.5L251.9 440L249.4 447.5L246.9 455.6L244.4 464.3L241.9 473.1L239.4 481.8L236.9 490.6L234.4 499.3L231.9 508L229.4 516.8L227 525.5L224.5 534.3L222.3 543L220.4 551.7L219.1 559.2L218.5 565.5L218.2 568.6M191.9 115.2L192.2 118.3L192.8 124.6L193.5 130.5L194.1 136.1L194.9 141.4L195.8 146.4L197.8 150.5L200.9 153.6L204.7 155.8L209.1 157L213.7 158.1L218.7 159.1L223.4 160.3L227.8 161.9L231.8 163.9L235.6 166.4L239.3 169.8L243.1 174.2L246.5 178.9L249.6 183.9L252.4 188.9L254.9 193.9L257.1 198.9L259 203.9L260.6 208.8L261.8 213.8L262.9 218.8L263.8 223.8L264.8 228.8L265.7 233.8L266.8 238.8L268 243.8L269.9 248.8L272.4 253.8L274.9 258.2L277.4 261.9L280.4 265.6L283.9 269.4L288.1 273.1L293.1 276.9L298.7 281.2L305 286.2L310.6 291.8L315.6 298.1L317.5 304.4L316.2 310.7L314.3 317L311.8 323.3L309.3 329.5L306.8 335.8L305.9 342L306.5 348.3L308.4 354.5L311.5 360.7L314.3 367L316.8 373.2L317.5 380.1L316.2 387.6L313.1 395.1L308.1 402.6L303.1 409.4L298.1 415.7L293.1 421.9L288.1 428.1L283.7 433.8L280 438.8L278.1 441.3M255.7 481.2L253.8 485.6L250 494.3L246.3 503L242.6 511.8L239.4 520.5L236.9 529.3L234.4 538L231.9 546.7L230.1 556.1L228.8 566.1L228.2 571.1M243.7 109L243.4 112.1L242.8 118.3L242.1 124.6L241.5 130.8L241 137.1L240.7 143.3L240.7 148.9L241 153.9L242.5 157.7L245 160.2L248.1 162.7L251.8 165.2L255.6 168L259.3 171.1L262.7 174.8L265.9 179.2L268.7 183.9L271.2 188.9L273.3 193.9L275.2 198.9L276.8 203.9L278 208.8L279.3 213.8L280.5 218.8L282 225.1L283.6 232.6L284.7 241.3L285.3 251.3L286.6 259.4L288.4 265.6L292.2 270.6L297.8 274.4L303.7 278.4L310 282.8L316.2 287.5L322.4 292.5L327.1 297.8L330.2 303.4L331.2 309.1L329.9 314.8L327.4 320.5L323.7 326.1L320.3 332L317.1 338.3L315.3 344.5L314.6 350.8L315.6 356.7L318.1 362.3L321.5 367.9L325.9 373.5L329.3 378.8L331.8 383.8L331.8 389.5L329.3 395.7L325.6 401.9L320.6 408.2L315.6 414.4L310.6 420.7L305.6 426.9L300.6 433.1L296.2 438.8L292.5 443.8L290.6 446.2M265.6 486.2L263.2 491.2L258.2 501.2L253.8 510.5L250 519.3L246.3 528.6L242.6 538.6L239.4 548L236.9 556.7L235.1 564.2L233.8 570.5L233.2 573.6M243.2 109L242.6 114.6L241.3 125.8L240.4 135.8L239.9 144.5L240.9 150.8L243.2 154.5L247.2 157L252.9 158.3L258.5 160.5L264.1 163.6L269.4 168.3L274.4 174.5L278.8 181.7L282.5 189.8L285.6 198.2L288.1 207L290.2 216.3L291.8 226.3L293 235.7L293.9 244.4L294.7 251.9L295.3 258.1L296.9 263.1L299.4 266.9L303.4 270.5L309 274L315 277.7L321.2 281.7L327.4 286.2L333.7 291.2L339 296.5L343.4 302.1L345.7 307.4L345.9 312.4L344.4 317.4L341 322.4L337.4 327.4L333.7 332.4L330.6 337.7L328.1 343.3L327.1 349L327.8 354.6L329.9 359.9L333.7 364.9L338 370.2L343 375.8L346.8 381.1L349.3 386.1L349 391.4L345.9 397L341.5 402.6L335.9 408.2L330.6 413.6L325.6 418.5L320.6 423.9L315.6 429.5L311.2 434.1L307.5 437.7L305.6 439.5M270.6 493.7L268.1 498.1L263.2 506.8L258.8 514.9L255 522.4L251.6 530.5L248.5 539.2L245.7 548L243.2 556.7L241.3 564.5L240.1 571.4L239.4 574.8M283.1 140.2L286.2 141.1L292.5 143L297.8 147L302.2 153.3L304.3 160.1L304.3 167.6L302.8 174.8L299.7 181.7L296.2 184.5L292.5 183.2L288.1 179.8L283.1 174.2L281.3 163.6L282.5 148L283.1 140.2M429.2 183.9L423.2 185.7L411.4 189.5L399.2 192.6L386.7 195.1L374.2 196.7L361.8 197.3L349.3 197.3L336.8 196.7L325.6 196.3L315.6 196.3L308.7 197.3L305 199.2L301.8 202.3L299.4 206.6L297.8 212.6L297.2 220.1L297 228.2L297.4 236.9L297.9 245.7L298.4 254.4L298.6 258.8M429.2 276.2L425.7 279.4L418.9 285.6L412.3 291.5L406.1 297.1L399.8 301.2L393.6 303.7L387.4 304.6L381.1 304L376.1 302.8L372.4 300.9L368.6 302.8L364.9 308.4L361.1 314.9L357.4 322.4L353.7 329.9L349.9 337.4L348.3 344.9L349 352.4L350.8 359.3L354 365.5L356.1 372.4L357.4 379.8L356.8 388L354.3 396.7L350.5 404.8L345.5 412.3L340.5 419.2L335.6 425.4L331.8 431.3L329.3 436.8L326.8 443.7L324.3 452.1L321.2 459.4L317.5 465.6L313.4 470.6L309 474.3L306.8 476.2M429.2 326.2L427 327.1L422.6 329L418.6 332.1L414.8 336.5L412.6 341.2L412 346.1L412.9 350.8L415.4 355.2L419.8 358.6L426.1 361.1L429.2 362.4" fill="none" stroke="#fff" stroke-width="4.1" stroke-linejoin="round" stroke-linecap="butt"/></g>
<path d="M0.4 65.9L6.4 67.1L11.4 69L17.6 71.5L23.9 74.6L27 77.1L31.4 78.4L37.6 80.8L43.8 83.3L48.8 85.8L53.8 88.3L56.3 91.5L56.9 94.6L55.7 97.1L53.8 98.3L56.3 100.2L56.9 103.3L55.7 105.2L58.2 107.1L56.9 109.6L54.4 110.8L53.2 113.3L54.4 116.4L56.3 118.3L60.7 119.5L62.6 122.7L63.2 126.4L66.9 127.7L73.8 128.3L80 130.2L86.3 132L93.8 135.1L100 138.3L105 141.4L110 146.4L115 151.4L119.4 156.4L122.5 161.4L125 167.6L128.1 173.8L130.6 179.5L131.5 184.5L130 188.2L126.2 190.7L121.9 190.1L116.2 188.2L110 185.1L103.8 182L97.5 178.8L91.3 175.7L85 173.2L78.8 171.3L72.5 168.9L66.3 167.6L60.1 167L53.8 166.4L48.8 164.5L44.5 162.9L40.1 162.6L35.1 164.5L28.9 167L23.9 168.9L20.1 170.1L17.6 168.2L15.1 167L12.6 168.9L8.9 170.1L5.1 171.3L2.6 172.6L0.4 173.2ZM22 175.7L27.6 171.3L33.9 167.6L40.1 165.7L46.3 165.7L51.3 167.6L55.1 170.7L58.8 175.1L62.6 179.5L68.8 183.2L75 186.3L80 188.8L85 192.6L88.8 193.8L93.8 195.7L98.8 197.6L105 200.1L111.2 203.8L116.2 206.9L121.9 208.2L126.2 210L128.7 213.2L128.1 217.5L125 221.3L120.6 222.5L115 221.3L110 219.4L103.8 216.3L97.5 214.4L91.3 214.4L86.3 212.5L80 209.4L73.8 206.3L67.6 202.6L61.3 199.4L55.1 196.3L48.8 192.6L42.6 188.8L37.6 185.7L35.1 185.1L32 185.7L28.9 183.2L25.7 180.7L22.6 178.2ZM0.4 180.1L6.4 183.8L12.6 187.6L18.9 191.3L23.9 193.8L28.9 196.9L32.6 200.1L36.3 203.8L38.8 207.6L40.7 211.3L42.6 214.4L40.1 216.3L43.8 215.7L47.6 217.5L51.3 219.4L55.1 221.9L58.8 223.8L62.6 225.7L66.3 227.5L70.1 230L72.5 232.5L73.2 236.3L72.5 237.1L75 234L80 235.2L86.3 237.7L92.5 240.8L98.8 244.6L103.8 248.3L107.5 252.1L111.2 256.4L114.4 261.4L117.5 266.4L120.6 272.7L123.7 278.9L126.9 285.2L129.3 291.4L131.2 297.6L131.2 302.6L129.3 307L125 309.5L118.7 310.1L111.2 310.7L103.8 311.4L96.3 312.6L88.8 313.9L81.3 315.7L73.8 318.2L67.6 320.7L62.6 323.2L58.8 326.3L55.1 328.8L51.3 331.3L47.6 333.2L42.6 335.1L36.3 337.6L31.4 340.1L26.4 342.6L22.6 345.7L17.6 348.2L11.4 349.4L6.4 350.7L0.4 352.6ZM83.8 225.9L88.8 225.2L95 227.7L101.3 230.9L107.5 234L111.2 237.1L113.1 240.8L112.5 243.3L110 242.7L105 239.6L98.8 235.8L92.5 232.1L86.3 229ZM115.6 236.5L118.7 235.2L123.7 237.1L127.5 240.8L127.5 244.6L123.7 247.1L120 244.6L116.9 240.8ZM0.4 403.3L5.1 399L11.4 394.6L17.6 391.5L23.9 389.6L30.1 388.4L38.8 388.4L46.3 389.6L52.6 392.1L58.8 395.8L65.1 400.8L71.3 406.5L76.3 412.1L81.3 418.3L86.3 424.6L91.3 430.8L96.3 435.8L102.5 440.2L105 443.3L107.5 441.4L115 440.2L121.2 443.9L127.5 446.4L133.7 448.3L137.5 450.8L142.5 452L148.7 452.6L154.9 450.8L161.2 448.9L164.9 450.1L164.9 452.6L159.9 455.8L153.7 458.3L147.4 461.4L141.2 464.5L136.2 468.2L131.2 471.4L127.5 475.1L123.7 478.9L118.7 482.6L113.7 487L108.7 491.3L105 495.7L101.3 499L93.8 501.5L86.3 502.1L80 502.7L76.3 501.5L74.4 499L71.3 502.1L67.6 505.9L63.8 510.2L61.3 514L63.2 520.2L66.9 519.6L68.2 515.2L71.3 511.5L73.8 513.4L75.7 515.8L73.8 519.6L70.7 522.7L71.9 527.7L73.8 522.1L78.8 517.7L85 514L91.3 510.2L97.5 507.1L103.8 503.4L107.5 499.6L111.2 495.1L116.2 492.6L122.5 490.7L128.7 488.8L134.3 487L138.7 488.8L141.2 492.6L145 495.1L138.7 500.2L135 504L138.7 507.7L141.2 512.7L142.5 517.7L136.2 520.2L132.5 523.3L133.7 527.7L136.2 531.5L133.7 535.2L136.2 538.9L141.2 540.8L145.6 540.2L142.5 543.9L140 547.7L137.5 551.4L132.5 553.9L127.5 555.8L123.7 557.7L120 555.8L116.9 552L118.7 547.7L119.4 542.7L117.5 538.3L120.6 533.9L117.5 530.2L115.6 527.1L111.9 529L113.7 533.9L114.4 538.9L112.5 545.2L110 550.2L106.3 553.9L101.3 555.8L96.3 556.4L95 551.4L95 543.9L95.6 536.4L94.4 534.6L92.5 537.7L92.5 546.4L91.9 552.7L88.8 550.2L86.3 545.2L83.8 540.2L80 541.4L73.8 540.8L80 542.1L77.5 546.4L76.3 551.4L73.8 555.2L70.1 557.7L66.3 558.9L61.3 557.7L63.8 561.4L60.1 564.5L66.9 565.2L73.8 564.5L81.3 563.9L87.5 565.2L93.8 565.8L91.9 570.1L92.5 572.6L86.3 574.5L80 573.9L76.9 573.3L78.2 577.6L75.7 581.4L80 578.9L83.8 576.4L88.8 575.1L93.8 574.5L97.5 577.6L102.5 578.9L98.8 581.4L97.5 585.1L102.5 587.6L106.9 589.5L102.5 591.4L98.8 593.2L93.8 593.9L88.8 592.6L83.8 590.1L78.8 587.6L75 589.5L76.9 593.2L82.5 595.1L87.5 596.4L92.5 598.9L95 602.6L98.8 605.1L98.1 608.8L95 611.3L93.8 615.1L93.1 621.3L96.3 622.6L92.5 623.8L86.3 622L80 625.1L73.8 625.7L66.3 626.3L58.8 625.7L51.3 623.8L49.5 625.1L52.6 626.9L61.3 626.9L68.8 627.6L73.8 630.1L75 635.1L76.9 641.3L80 646.3L84.4 652.5L84.4 654L0.4 654Z" fill="#808080" stroke="#000" stroke-width="1.7" stroke-linejoin="miter"/>
<path d="M206.2 327.9L210.4 326.9L215 330.6L218.1 329.1L221.2 330.3L223.9 333L218.9 335.7L215.6 334.9L212.3 336.4L208 334.7L205.8 331.7ZM254.8 329.2L258.7 328L260.2 330.7L259.5 334.8L256.3 334.2L254 332ZM185.7 366.6L191.1 366.8L195.1 367.4L199.3 365.4L203.7 369L209.1 371.5L208 376.3L202.5 374.5L199.5 376L196.3 375.3L193.2 376.3L189.4 376L186.1 372.7ZM157.3 392.2L162.3 388.6L165.8 389L168.6 386.5L172.6 387.1L176.6 386.2L179.1 388.2L180 391.4L179.4 396.5L177.5 401.5L174.1 401.5L171 400.5L168.1 398.7L165.5 396.9L159.4 395.8ZM184.8 399.7L189.8 396.8L193.3 397.1L196.2 394.6L199.4 395.5L202.8 394.9L206.1 398L203.8 401.4L201.4 401.3L196.3 400.9L193.4 402.5L190 403.1L185.5 402.1ZM135.6 409.7L139.4 408.2L141.8 411.7L146.1 412.8L149.5 413.3L152.6 412.3L155.7 411.5L158.8 412.6L162 413.5L163.9 416.2L167.4 416.6L170.5 417.9L173.3 419.9L175.9 422.1L179.9 422.4L182.9 424.5L185.5 427.2L188.2 429.8L191.8 430.9L195.3 432.7L192.8 435.6L192.5 440.3L190.7 442.9L186 444.3L182.8 443.1L179.6 441.6L176.7 439.6L174 436.8L170.5 437.8L167.5 436.1L164.4 436.6L161.3 437.9L158.2 436.8L155.1 437.5L152 437.5L148.2 436.8L147.3 433.5L144.9 431.4L142.1 426.4L142.2 423.2L141.2 420.1L139.2 415.5L136.5 412.6ZM191.4 442.1L196.1 442.9L201.3 443L207.2 441.4L208.7 446.3L208.5 449.5L208.3 453.4L205 455.1L205.8 460L201.8 459.5L197.7 455.8L197.3 452L194.9 447.7L193.8 444.6Z" fill="#808080" stroke="#000" stroke-width="1.9" stroke-linejoin="miter"/>
<path d="M111.2 505.2L113.7 502.1L118.7 502.1L120.6 505.2L118.7 510.2L115 512.7L111.9 510.9Z" fill="#fff" stroke="#000" stroke-width="1.1"/>
<path d="M160.8 109.5h0M180.8 109h0M217.7 108.5h0M253.9 108.5h0M290.6 108.5h0M326.8 109h0M363 109h0M399.7 109h0M435.4 109h0M435.4 186.4h0M435.4 249.3h0M435.4 311.9h0M435.4 343.1h0M435.4 372.4h0M435.4 421h0M290.6 166.9h0M328.1 173.4h0M363.8 175.1h0M401 181.4h0M182 193.4h0M199.5 197.1h0M217.7 200.1h0M235.7 203.8h0M253.9 208.8h0M326.8 225.1h0M363 233.8h0M398.7 240.5h0M198.2 240.8h0M217 243.8h0M235.7 251.3h0M253.9 258.8h0M203.2 271.2h0M216.2 271.2h0M235.2 281.2h0M253.9 287h0M326.8 280h0M363 290.7h0M400.5 301.2h0M182 298.7h0M200.2 306.2h0M218.2 309.4h0M235.7 313.7h0M266.9 321.9h0M290.6 298.7h0M326.8 310.7h0M363 321.9h0M399.2 332.4h0M290.6 331.2h0M326.8 342.4h0M363 354.9h0M399.2 364.1h0M218.2 353.6h0M253.9 364.1h0M288.1 377.4h0M326.8 387.3h0M363 397.3h0M399.2 409.8h0M218.2 395.6h0M253.9 406.1h0M292.6 417.3h0M326.8 428.5h0M217.7 436h0M132.1 268.8h0M153.3 282h0M113.4 253.8h0M133.3 237.5h0M150.8 240h0M175.8 237.5h0M98.4 238.8h0M93.4 217.6h0M113.4 232.6h0M15.9 181.5h0M30.9 193.3h0M46.5 205.2h0M59 212.7h0M62.1 216.4h0M72.1 216.4h0M77.7 230.1h0M253.9 447.5h0M326.8 468.2h0M363 440.8h0M399.7 451.2h0M435.4 461.2h0M199.5 504.9h0M217 508.7h0M234.9 514.2h0M290.6 530.6h0M182.8 562.3h0M199.5 566.6h0M218.2 572.3h0M235.2 578.6h0M253.9 581.1h0" stroke="#000" stroke-width="4" stroke-linecap="round" fill="none"/><text class="w" text-anchor="middle" transform="translate(180 170.1) rotate(62)" y="11.8">25</text><text class="w" text-anchor="middle" transform="translate(273.1 153.9) rotate(75)" y="11.8">31</text><text class="w" text-anchor="middle" transform="translate(175.8 333.9) rotate(-55)" y="11.8">10</text><text class="w" text-anchor="middle" transform="translate(195.7 371.3) rotate(70)" y="11.8">15</text><text class="w" text-anchor="middle" transform="translate(210.7 423.8) rotate(-60)" y="11.8">20</text><text class="w" text-anchor="middle" transform="translate(268.1 458.7) rotate(-65)" y="11.8">28</text><text class="w" text-anchor="middle" transform="translate(281.9 461.5) rotate(-60)" y="11.8">30</text><text class="w" text-anchor="middle" transform="translate(294.9 457.5) rotate(-60)" y="11.8">31</text><text class="w" text-anchor="middle" transform="translate(288.1 493.7) rotate(-65)" y="11.8">33</text><path d="M168.8 109L168.9 109.5L169 110.6L169.3 112.3L169.6 114.4L170 116.6L170.4 118.8L171 121L171.6 123.2L172.3 125.4L173.1 127.6L174 129.7L174.9 131.9L175.8 134L176.8 136.1L177.7 138L178.6 139.9L179.6 141.7L180.7 143.4L181.9 145L183.2 146.6L184.6 148L186.1 149.2L187.8 150.3L189.7 151.3L191.7 152.1L193.7 152.8L195.8 153.4L198 153.8L200.6 154.2L203.5 154.3L206.9 154.3L210.6 154.2L214.4 154L218.1 153.7L221.9 153.5L225.6 153.1L229.3 153L233.1 153L236.8 153.1L240.6 153.5L244.1 154.1L247.4 155L250.4 156.3L253.2 157.8L256 159.5L258.6 161.4L261.2 163.4L263.7 165.6L266 167.9L268.2 170.2L270.2 172.6L272.1 175.1L273.8 177.8L275.4 180.6L276.8 183.6L278 186.7L279.2 189.8L280.2 192.9L281.1 196L281.9 199.2L282.8 202.6L283.6 206.3L284.5 210.4L285.5 214.8L286.3 219.3L287.1 224L287.8 228.8L288.4 233.8L288.9 238.6L289.3 243.3L289.6 247.8L289.8 252.2L290.2 256L290.6 259.3L291.2 262L292 264.2L293.2 266.3L294.8 268.1L296.9 269.8L299.4 271.4L302 273L304.8 274.8L307.8 276.6L310.9 278.4L314 280.5L317.1 282.6L320.3 285L323.4 287.5L326.1 289.5L328.5 291.1L330.4 292.2L332 292.9L333.6 294.2L335.3 296.1L337.1 298.6L339 301.8L340.3 304.7L341.1 307.5L341.3 310.2L341 312.7L340.3 315.3L339.2 318.1L337.7 321.1L335.9 324.2L333.9 327.2L331.9 330L329.8 332.7L327.6 335.1L325.7 337.6L324.2 340.1L322.9 342.6L322 345.1L321.5 347.7L321.5 350.4L322 353.1L322.9 355.9L324.2 358.7L325.7 361.5L327.6 364.3L329.8 367.1L332 369.9L334.4 372.5L336.8 375.1L339.3 377.6L341.3 379.9L342.9 382.1L344 384.1L344.6 386L344.6 388L344 390.2L342.7 392.6L340.9 395.1L338.8 397.6L336.6 400.1L334.3 402.6L331.8 405.1L329.3 407.6L326.8 410L324.3 412.5L321.8 415L319.3 417.5L316.8 420L314.3 422.5L311.8 425L309.3 427.5L306.8 430L304.3 432.5L301.8 435L299.4 437.5L296.9 440L294.4 442.5L291.9 445L289.4 447.5L286.9 450L284.4 452.5L281.9 455L279.5 457.6L277.4 460.4L275.3 463.4L273.4 466.5L271.8 469.8L270.4 473.2L269.2 476.8L268.3 480.6L267.5 484.2L266.9 487.6L266.4 490.9L266.1 494L265.6 497.1L264.8 500.2L263.8 503.4L262.5 506.5L261.3 509.4L260 512.3L258.8 514.9L257.5 517.4L256.5 520.2L255.7 523.3L255.2 526.8L254.9 530.5L254.6 534.4L254.5 538.5L254.4 542.7L254.4 547L254.3 551.3L253.9 555.3L253.5 559.2L252.9 563L252.2 566.6L251.4 570L250.5 573.3L249.6 576.4L248.9 578.7L248.4 580.3L248.2 581.1" fill="none" stroke="#000" stroke-width="7.5" stroke-dasharray="7.5 7.1" stroke-linejoin="round"/>
<path d="M145.3 0V653.8M290.6 0V653.8M435.9 0V653.8M0 145.3H508.7M0 290.6H508.7M0 435.9H508.7M0 581.2H508.7" stroke="#000" stroke-opacity=".13" stroke-width="1.5" fill="none"/>
<path d="M145.3 0v7M145.3 653.8v-7M290.6 0v7M290.6 653.8v-7M435.9 0v7M435.9 653.8v-7M0 145.3h7M508.7 145.3h-7M0 290.6h7M508.7 290.6h-7M0 435.9h7M508.7 435.9h-7M0 581.2h7M508.7 581.2h-7" stroke="#1e1e1e" stroke-width="1.5" fill="none"/>
<text class="u k" x="29.1" y="57">SSS (PSU)</text>
<text class="k" font-size="32.2" transform="translate(22.6 125.8) rotate(29.5)">Jiangsu</text>
<clipPath id="LC"><path d="M0 235H100L110.6 256.5L113.8 261.5L116.9 266.5L120 272.8L123.1 279L126 290H0Z"/></clipPath><g clip-path="url(#LC)"><text class="k" font-size="31.8" x="4" y="275.4">Shanghai</text></g>
<text class="k" font-size="25.7" x="7.4" y="373.1">Hangzhou Bay</text>
<text class="k" font-size="32.6" x="7.2" y="469.3">Zhejiang</text>
<text class="b" font-size="40.5" text-anchor="middle" x="254.1" y="625">2015 Jul</text>
<rect x="0" y="0" width="508.7" height="653.8" fill="none" stroke="#1e1e1e" stroke-width="1.6"/>
<rect x="537.2" y="0" width="49.7" height="653.80" fill="#00008f"/>
<rect x="537.2" y="0" width="49.7" height="643.58" fill="#00009f"/>
<rect x="537.2" y="0" width="49.7" height="633.37" fill="#0000af"/>
<rect x="537.2" y="0" width="49.7" height="623.15" fill="#0000bf"/>
<rect x="537.2" y="0" width="49.7" height="612.94" fill="#0000cf"/>
<rect x="537.2" y="0" width="49.7" height="602.72" fill="#0000df"/>
<rect x="537.2" y="0" width="49.7" height="592.51" fill="#0000ef"/>
<rect x="537.2" y="0" width="49.7" height="582.29" fill="#0000ff"/>
<rect x="537.2" y="0" width="49.7" height="572.07" fill="#0010ff"/>
<rect x="537.2" y="0" width="49.7" height="561.86" fill="#0020ff"/>
<rect x="537.2" y="0" width="49.7" height="551.64" fill="#0030ff"/>
<rect x="537.2" y="0" width="49.7" height="541.43" fill="#0040ff"/>
<rect x="537.2" y="0" width="49.7" height="531.21" fill="#0050ff"/>
<rect x="537.2" y="0" width="49.7" height="521.00" fill="#0060ff"/>
<rect x="537.2" y="0" width="49.7" height="510.78" fill="#0070ff"/>
<rect x="537.2" y="0" width="49.7" height="500.57" fill="#0080ff"/>
<rect x="537.2" y="0" width="49.7" height="490.35" fill="#008fff"/>
<rect x="537.2" y="0" width="49.7" height="480.13" fill="#009fff"/>
<rect x="537.2" y="0" width="49.7" height="469.92" fill="#00afff"/>
<rect x="537.2" y="0" width="49.7" height="459.70" fill="#00bfff"/>
<rect x="537.2" y="0" width="49.7" height="449.49" fill="#00cfff"/>
<rect x="537.2" y="0" width="49.7" height="439.27" fill="#00dfff"/>
<rect x="537.2" y="0" width="49.7" height="429.06" fill="#00efff"/>
<rect x="537.2" y="0" width="49.7" height="418.84" fill="#00ffff"/>
<rect x="537.2" y="0" width="49.7" height="408.62" fill="#10ffef"/>
<rect x="537.2" y="0" width="49.7" height="398.41" fill="#20ffdf"/>
<rect x="537.2" y="0" width="49.7" height="388.19" fill="#30ffcf"/>
<rect x="537.2" y="0" width="49.7" height="377.98" fill="#40ffbf"/>
<rect x="537.2" y="0" width="49.7" height="367.76" fill="#50ffaf"/>
<rect x="537.2" y="0" width="49.7" height="357.55" fill="#60ff9f"/>
<rect x="537.2" y="0" width="49.7" height="347.33" fill="#70ff8f"/>
<rect x="537.2" y="0" width="49.7" height="337.12" fill="#80ff80"/>
<rect x="537.2" y="0" width="49.7" height="326.90" fill="#8fff70"/>
<rect x="537.2" y="0" width="49.7" height="316.68" fill="#9fff60"/>
<rect x="537.2" y="0" width="49.7" height="306.47" fill="#afff50"/>
<rect x="537.2" y="0" width="49.7" height="296.25" fill="#bfff40"/>
<rect x="537.2" y="0" width="49.7" height="286.04" fill="#cfff30"/>
<rect x="537.2" y="0" width="49.7" height="275.82" fill="#dfff20"/>
<rect x="537.2" y="0" width="49.7" height="265.61" fill="#efff10"/>
<rect x="537.2" y="0" width="49.7" height="255.39" fill="#ffff00"/>
<rect x="537.2" y="0" width="49.7" height="245.17" fill="#ffef00"/>
<rect x="537.2" y="0" width="49.7" height="234.96" fill="#ffdf00"/>
<rect x="537.2" y="0" width="49.7" height="224.74" fill="#ffcf00"/>
<rect x="537.2" y="0" width="49.7" height="214.53" fill="#ffbf00"/>
<rect x="537.2" y="0" width="49.7" height="204.31" fill="#ffaf00"/>
<rect x="537.2" y="0" width="49.7" height="194.10" fill="#ff9f00"/>
<rect x="537.2" y="0" width="49.7" height="183.88" fill="#ff8f00"/>
<rect x="537.2" y="0" width="49.7" height="173.67" fill="#ff8000"/>
<rect x="537.2" y="0" width="49.7" height="163.45" fill="#ff7000"/>
<rect x="537.2" y="0" width="49.7" height="153.23" fill="#ff6000"/>
<rect x="537.2" y="0" width="49.7" height="143.02" fill="#ff5000"/>
<rect x="537.2" y="0" width="49.7" height="132.80" fill="#ff4000"/>
<rect x="537.2" y="0" width="49.7" height="122.59" fill="#ff3000"/>
<rect x="537.2" y="0" width="49.7" height="112.37" fill="#ff2000"/>
<rect x="537.2" y="0" width="49.7" height="102.16" fill="#ff1000"/>
<rect x="537.2" y="0" width="49.7" height="91.94" fill="#ff0000"/>
<rect x="537.2" y="0" width="49.7" height="81.73" fill="#ef0000"/>
<rect x="537.2" y="0" width="49.7" height="71.51" fill="#df0000"/>
<rect x="537.2" y="0" width="49.7" height="61.29" fill="#cf0000"/>
<rect x="537.2" y="0" width="49.7" height="51.08" fill="#bf0000"/>
<rect x="537.2" y="0" width="49.7" height="40.86" fill="#af0000"/>
<rect x="537.2" y="0" width="49.7" height="30.65" fill="#9f0000"/>
<rect x="537.2" y="0" width="49.7" height="20.43" fill="#8f0000"/>
<rect x="537.2" y="0" width="49.7" height="10.22" fill="#800000"/>
<text font-size="33.4" x="600.9" y="666.2">10</text>
<text font-size="33.4" x="600.9" y="524.1">15</text>
<text font-size="33.4" x="600.9" y="381.9">20</text>
<text font-size="33.4" x="600.9" y="239.8">25</text>
<text font-size="33.4" x="600.9" y="97.7">30</text>
<path d="M586.9 511.7h-7M586.9 369.5h-7M586.9 227.4h-7M586.9 85.3h-7" stroke="#1e1e1e" stroke-width="1.2" fill="none"/>
<rect x="537.2" y="0" width="49.7" height="653.8" fill="none" stroke="#1e1e1e" stroke-width="1.5"/>
<text class="t" text-anchor="end" x="-15.5" y="13.7">33°N</text>
<text class="t" text-anchor="end" x="-15.5" y="159">32°</text>
<text class="t" text-anchor="end" x="-15.5" y="304.3">31°</text>
<text class="t" text-anchor="end" x="-15.5" y="449.6">30°</text>
<text class="t" text-anchor="end" x="-15.5" y="594.9">29°N</text>
<text class="t" text-anchor="middle" x="0" y="702.4">121°E</text>
<text class="t" text-anchor="middle" x="145.3" y="702.4">122°</text>
<text class="t" text-anchor="middle" x="290.6" y="702.4">123°</text>
<text class="t" text-anchor="middle" x="435.9" y="702.4">124°E</text>
</g>
<text class="s" x="0" y="1429">C</text>
<g transform="translate(831.7 23.5)">
<clipPath id="cD"><path d="M98.9 138.3L110.8 138.3L112 132.1L124.5 131.5L125.7 124L140.7 123.3L142 116.5L158.2 115.8L159.4 109L358 109L359.3 116L429.2 116L429.2 193.9L433.4 194.4L433.4 343.9L429.2 344.4L429.2 465L415.4 466.2L414.2 476.2L414.2 481.2L407.3 481.2L407.3 486.2L400.5 486.2L399.2 497.4L393 501.2L393 508.7L389.2 508.7L389.2 516.2L385.5 516.2L384.2 531.2L384.2 537.8L382.2 537.8L382.2 544.5L380.1 544.5L380.1 551.1L378 551.1L378 559.4L375.5 559.4L375.5 567.8L373 567.8L373 576.1L370.5 576.1L370.5 583.6L368.4 583.6L368.4 591.1L366.3 591.1L366.3 598.6L364.3 598.6L355.5 603.6L342.9 606L342.9 602.2L334.2 602.2L334.2 598.5L325.6 598.5L313.7 596.3L298.7 595L291.2 588.8L268.8 587.5L263.8 581.3L246.3 580L243.8 575L221.9 575L220.1 580.7L210.1 580.7L207.6 576.3L197.6 567.5L190.8 566.3L188.9 560.7L180.8 551.1L180.8 543.9L177.3 543.9L177.3 536.8L173.9 536.8L173.9 529.6L170.5 529.6L170.5 522.4L167 522.4L167 515.7L164.3 515.7L164.3 508.9L161.5 508.9L161.5 502.2L158.8 502.2L158.8 495.5L156 495.5L156 488.7L153.3 488.7L153.3 481.2L150.8 481.2L150.8 473.7L148.3 473.7L148.3 466.7L145.3 466.7L145.3 459.7L142.3 459.7L142.3 452.8L139.3 452.8L139.3 445.8L136.3 445.8L136.3 438.8L133.3 438.8L133.3 431.3L130 431.3L130 423.8L126.7 423.8L126.7 416.3L123.3 416.3L123.3 408.8L120 408.8L120 401.3L116.7 401.3L116.7 393.8L113.4 393.8L113.4 386.3L109.9 386.3L109.9 378.9L106.5 378.9L106.5 371.4L103.1 371.4L103.1 363.9L99.6 363.9L99.6 356.4L96.2 356.4L96.2 348.9L92.8 348.9L92.8 341.4L89.3 341.4L89.3 333.9L85.9 333.9L85.9 325.2L82.9 325.2L82.9 316.4L80 316.4L80 313.1L73 313.1L73 309.8L65.9 309.8L65.9 306.5L58.9 306.5L58.9 299.4L56.6 299.4L56.6 292.2L54.3 292.2L54.3 285.1L52 285.1L52 278L49.6 278L49.6 270.9L47.3 270.9L47.3 263.8L45 263.8L45 256.6L42.7 256.6L42.7 249.5L40.4 249.5L40.4 242.4L38.1 242.4L38.1 235.2L35.8 235.2L35.8 228.1L33.5 228.1L33.5 221L31.1 221L31.1 213.9L28.8 213.9L28.8 206.8L26.5 206.8L26.5 199.6L24.2 199.6L24.2 192.5L21.9 192.5L21.9 177.5L21.9 175.2L29.1 175.2L29.1 173L36.4 173L36.4 170.8L43.6 170.8L43.6 168.5L50.9 168.5L50.9 156.5L50.9 153.9L57.8 153.9L57.8 151.3L64.6 151.3L64.6 148.7L71.5 148.7L71.5 146.1L78.3 146.1L78.3 143.5L85.2 143.5L85.2 140.9L92 140.9L92 138.3Z"/></clipPath><g clip-path="url(#cD)"><rect x="13.9" y="101" width="427.5" height="513" fill="#50ffaf"/><path d="M13.9 101L442.9 101L442.9 614L13.9 614ZM172.9 103.9L170.2 107L170 110L171.4 113L174.6 116L178.9 116.8L181.6 113L180.9 110L178.9 106.4L175.9 104.1Z" fill="#60ff9f"/><path d="M13.9 101L161.2 101L161.6 107L164.1 113L171.4 119L175.9 120.8L178.9 120.9L181.9 119.7L184.9 116L185.7 110L184.1 101L442.9 101L442.9 614L13.9 614Z" fill="#70ff8f"/><path d="M13.9 101L154.2 101L157.3 110L161.7 116L170.2 122L175.9 123.9L178.9 124L184.9 121L188 116L189.1 110L189.2 101L442.9 101L442.9 614L13.9 614Z" fill="#80ff80"/><path d="M13.9 101L147.2 101L152.4 110L160.6 119L169.9 125.1L178.9 127L184.9 124.6L189.5 119L191.7 113L193.6 101L442.9 101L442.9 614L13.9 614Z" fill="#8fff70"/><path d="M13.9 101L138.3 101L142.8 107L163.9 124.9L172.9 129.5L178.9 130.2L184.9 128.2L190.8 122L193.7 116L197.9 101L442.9 101L442.9 614L13.9 614Z" fill="#9fff60"/><path d="M13.9 101L126.6 101L127.9 104L130.9 107.4L148.9 117.3L163.9 128.5L172.9 132.9L178.9 133.8L184.9 132.2L190.9 127L195.6 119L202.9 101L442.9 101L442.9 614L13.9 614Z" fill="#afff50"/><path d="M13.9 101L115.9 101L119 110L121.9 114.9L124.9 117.3L139.9 118.9L145.9 120.5L166.9 134.3L172.9 137.2L178.9 138.5L184.9 137L190.9 132.5L197.7 122L203.4 110L211 101L442.9 101L442.9 614L13.9 614Z" fill="#bfff40"/><path d="M13.9 101L107.4 101L114.6 122L116.3 125L118.9 127.3L124.9 128.4L139.9 126L145.9 126.6L151.9 129.1L172.9 144L178.9 146.8L181.9 146.8L184.9 145.3L190.9 139.7L208.9 112.8L223.9 105.6L229.1 101L442.9 101L442.9 614L13.9 614Z" fill="#cfff30"/><path d="M13.9 101L100 101L108.5 122L112.3 128L115.9 131.3L124.9 134.5L148.9 135.7L154.9 138.4L161.3 143L164 146L166.9 152L168.9 164L171 170L175.9 176.4L178.9 176.7L189.5 164L195 146L202.9 131.6L208.9 123.5L214.9 118.9L226.9 115.5L232.3 113L243.2 104L245.5 101L442.9 101L442.9 614L13.9 614Z" fill="#dfff20"/><path d="M13.9 101L93 101L95.1 107L103.1 122L107.1 128L112.9 133.7L121.9 138.7L133.9 143.5L150.5 146L154.9 148.1L156.9 152L156.9 164L158.9 170L163.1 176L169 182L172.9 185.2L178.9 187L181.9 185.9L184.9 182.5L193.9 167.6L203.1 143L206.4 137L211.9 129.9L219 125L235.1 119L262.8 104L266.2 101L442.9 101L442.9 614L13.9 614Z" fill="#efff10"/><path d="M13.9 101L86 101L88.5 107L95.6 119L106.9 133.3L131.7 152L142.9 163L152.9 176L169.1 188L175.9 190.9L178.9 191.1L185.2 188L196.1 173L201 164L209.3 143L213.4 137L217.9 132.7L223.9 129.1L250.9 118.1L262.9 115L277.9 112.9L283.8 107L286.7 101L442.9 101L442.9 614L13.9 614Z" fill="#ffff00"/><path d="M13.9 101L78.9 101L83.7 110L96.6 128L103.9 135.6L120.8 149L145.9 178.1L166.9 191.1L172.9 193.7L178.9 194.4L184.9 192.2L187.9 189.6L201.5 173L206.3 164L213.6 146L221 137L229.9 131.8L250.9 124.8L262.9 122.9L277.9 122.6L283.9 120.8L286.9 119L292.8 113L299.9 101L442.9 101L442.9 614L13.9 614ZM232.9 402.7L232.1 407L232.9 410.9L235.9 412.2L237.4 407L237.2 404L235.9 401.9ZM238.9 307L235.4 311L235 317L236.5 320L238.9 322.2L241.9 323.1L244.9 322.7L247.9 320.9L250.6 317L250.5 311L248.4 308L244.9 306.2L241.9 306Z" fill="#ffef00"/><path d="M13.9 101L71.6 101L76.9 110L91 128L99.8 137L115.9 150.2L142.9 181L166.9 194.9L172.9 197.1L178.9 197.7L184.9 195.9L187.9 193.8L205.2 176L210.7 167L217.7 149L220.9 144L225 140L232.9 135.7L247.9 131.2L259.9 129.7L280.9 129.8L289.9 127.2L295.9 123.4L301.9 117.8L310 107L313.2 101L442.9 101L442.9 614L13.9 614ZM238.9 298.3L232.9 301.7L230.1 305L227.7 311L227.4 317L228.9 323L232.9 329L235.9 331.2L241.9 332.7L247.9 330.9L253.9 325.8L258.6 317L259 311L256.7 305L250.9 299.8L244.9 297.8ZM259.9 208.4L256.7 212L256.9 215.4L259.9 218.7L265.9 219.3L269.3 218L272.1 215L272.1 212L268.9 209L262.9 207.8ZM301.9 205.4L299.1 209L299.5 212L302.3 215L310.9 219.2L316.9 219.4L319 218L320.2 215L319.9 212L316.9 207L313.9 204.5L307.9 203.1ZM235.9 391.9L229.9 393.4L226.9 396.4L223.9 403.3L223 410L223 425L224.6 434L226.9 437.8L229.9 440L232.9 440.6L236.9 440L241.9 437L245.8 431L247.2 425L246.8 413L244.7 401L241.3 395Z" fill="#ffdf00"/><path d="M13.9 101L63.8 101L69.7 110L87.8 131L112.9 152.9L142.9 185L166.9 198.5L172.9 200.6L178.9 201.3L184.9 200L187.9 198.3L196.9 188.9L206.5 182L211.9 176.8L215.9 170L223.3 149L229.9 142.4L241.9 137.9L253.9 136L262.9 136L283.9 138.5L289.9 138.3L295.9 136.7L307.9 130.2L313.9 125.6L316.9 121.5L322.9 109.1L325.9 105.6L331.9 101.2L442.9 101L442.9 614L13.9 614ZM235.9 289.8L229.9 293.4L223.3 302L220.7 311L220.7 320L223.9 330.6L228.8 338L235.9 343.7L241.9 344.7L244.9 343.7L250.9 339.4L259.9 328.9L266.2 317L267.2 308L263.1 299L256.9 293.6L244.9 288.7ZM304.9 178.5L280.9 191.5L256.9 198.5L248.8 203L243.6 209L241.8 215L243.5 224L247.8 230L256.9 236.1L265.9 237.3L271.9 236.2L289.9 230.1L313.9 227.7L319.9 225.4L322.9 223.2L326.3 218L327.9 209L327.3 197L325.4 188L322.4 182L316.9 177.5L310.9 176.9ZM232.9 382.5L226.9 386.1L220.6 395L217.4 407L216.9 419L218.7 431L223 440L229.9 444.8L235.9 445.7L244.8 443L250.7 437L253.4 431L254.1 422L251 404L246.8 392L241.9 384.8L238.9 382.8L235.9 382Z" fill="#ffcf00"/><path d="M13.9 101L55.5 101L59.4 107L81.7 131L109.9 155.5L139.9 185.9L160.9 199.2L175.9 204.8L181.9 205.3L187.9 204.1L190.9 202L196.5 194L199.9 191.1L214.9 186L217.9 184L222.4 176L227.9 152L229.8 149L232.9 146.7L244.9 142.8L256.9 141.7L268.9 144L279.7 149L286 155L287.9 161L285.6 170L278.1 179L265.9 186.2L232.9 196.9L228.1 200L217.9 209L214.9 210.9L209.9 212L220.9 221.3L250.9 258.6L253.9 261.4L256.9 262L265.9 257.8L290 242L316.9 232.6L325.9 226.4L331.3 218L338.7 194L343.9 182.2L357.3 161L375.3 128L393.7 104L395.1 101L442.9 101L442.9 614L13.9 614ZM247.9 271.8L232.9 278.9L223.9 286.5L219.3 293L216.5 299L214 311L214.4 323L216.4 332L220.2 341L228.8 356L230.5 362L230.4 365L228.2 371L218.4 386L214.7 395L211.9 410L212.6 425L215.2 434L220.9 443.5L226.9 448.1L235.9 450.5L244.9 449.4L250.9 446.1L256.2 440L259.9 431.4L259.9 422L249 380L248.1 374L248.4 368L253.7 350L270.3 323L275.5 311L275 305L272.9 299L265.9 286.4L253.9 272L250.9 271.1Z" fill="#ffbf00"/><path d="M13.9 101L46.5 101L50.9 107L75.1 131L106.9 157.9L142.9 191.4L154.9 199.4L166.9 205.6L175.9 208.8L189.6 212L193.9 214.5L212.2 233L224.9 251L228.3 257L229 260L228.4 263L214.3 284L210.5 293L207.9 305L207.5 317L209.4 332L219.7 362L219 368L211.9 385.4L209.2 395L207.1 410L207.2 419L210.8 434L217.9 445.9L226.9 452.7L238.9 455.3L247.9 454.2L253.9 451L261.1 443L265.2 434L265.7 425L256.8 389L255.5 374L261 350L280.9 314L281.4 305L276.9 281L277.9 272L280.4 266L286.9 257.5L294.3 251L319.9 236.7L328.9 229.2L334.7 221L346.9 197.2L355.9 187.3L370.9 175.9L374.5 170L383.6 149L388.9 140L396 131L414 113L418.2 107L420.9 101L442.9 101L442.9 614L13.9 614ZM244.8 149L253.9 147.6L259.9 148.4L265.9 150.9L270.7 155L272.5 158L273.6 164L271.6 170L268.9 173.5L260.5 179L250.9 181.2L241.9 180.2L236 176L233.2 167L234 158L235.3 155L238.2 152Z" fill="#ffaf00"/><path d="M13.9 101L36.5 101L41.4 107L68.1 131L106.9 162.7L139.9 192.2L157.9 204.7L187.9 219.2L196 227L202.7 236L208.8 248L211 260L209.6 269L202.9 291.8L201.2 305L201.5 317L203.2 332L210.7 362L209.7 371L204 395L202.3 410L202.9 422L207.8 437L213.2 446L217.9 451.6L226.9 457.2L241.9 459.9L250.9 458.9L256.9 455.5L265.4 446L269.8 437L270.7 428L262.3 395L260.6 383L260.7 374L263.6 359L266.6 350L281.9 323L285.6 314L286.4 308L285.3 284L287.1 275L289.8 269L293.9 263L299.7 257L322.9 240.5L331 233L337.7 224L348.5 206L355.9 197.9L364.9 192.1L375.4 188L380.2 185L382.9 181L393.2 158L400.4 146L406.9 139.5L425.7 125L430 119L440.1 101L442.9 101L442.9 614L13.9 614ZM249.8 155L256.9 154.5L262.1 158L263.4 161L263.5 164L262.2 167L259.9 169.5L256.9 171L250.9 171.4L247.5 170L244.9 167.3L243.8 164L244 161L245.5 158Z" fill="#ff9f00"/><path d="M13.9 101L25.3 101L30.7 107L60.4 131L124.9 181.6L142.9 198L157.9 208.3L181.1 221L187.9 227L192.5 233L198.3 245L200.4 257L200.1 266L195.6 290L194.7 302L197.2 329L203.5 362L202.9 371L198.6 395L197.4 410L198.3 422L203.4 437L210.7 449L215.4 455L220.9 459.2L224.9 461L241.9 464.3L250.9 463.7L257.2 461L269.5 449L274.5 440L275.6 434L275.1 428L269.3 410L265.8 392L264.8 380L265.4 371L270.3 353L285.3 326L289.1 317L290.7 308L291.5 287L293.7 278L296.6 272L306.5 260L331.9 238.2L338.4 230L349.9 212.6L355.9 205.9L364.9 199.5L379.9 193.2L385.9 188.9L408.2 155L430.9 135L442.9 123.2L442.9 614L13.9 614Z" fill="#ff8f00"/><path d="M13.9 107L13.9 104.7L19.9 108.1L97.9 164.7L124.9 184.7L145.9 203.9L177.5 224L185.7 233L190.1 242L192.2 251L192.1 266L188.4 290L188.1 302L197.3 362L196.8 371L192.4 398L192.3 413L194.3 425L198.8 437L208.9 453.7L214.9 460.9L223.9 465.3L241.9 468.5L250.9 468L259.9 463.9L273.3 452L277.9 446L280.4 440L280.5 431L273.8 413L271 401L269 383L269.4 371L271.4 362L274.9 353.1L288.6 329L292.6 320L294.7 311L297.2 287L302.2 275L309 266L334.9 241.2L355.9 212.7L364.9 205.7L382.9 197.9L388.9 194.1L409.9 168.2L436.9 143L442.9 138.7L442.9 614L13.9 614Z" fill="#ff8000"/><path d="M13.9 116L13.9 114.3L16.9 115.4L40.9 130.3L121.9 185.7L127.9 190.4L142.9 205.2L170.6 224L179.7 233L184.2 242L186.1 254L185.6 266L181.5 290L181.3 299L191.7 359L191.1 371L186.8 389L185.8 398L186.7 410L188.9 422L193.9 437.1L201.7 449L208.1 461L211.9 465.7L217.9 468.9L241.9 472.4L250.9 472.1L261.7 467L280.4 452L286.4 443L287.2 437L286 431L277.5 413L275.3 404L273 383L273.3 371L274.6 365L278.1 356L292 332L296.2 323L298.6 314L301.8 290L307 278L314 269L334.9 247.9L358.9 216L367.9 209.6L385.9 202.7L391.9 199.3L409.9 178.7L424.9 167.2L439.9 153.5L442.9 151.9L442.9 614L13.9 614Z" fill="#ff7000"/><path d="M13.9 125L13.9 123L16.9 123.9L43.9 138.9L121.9 188.9L142.9 209.1L169.9 228.6L176.1 236L179.5 245L180.4 260L174.8 293L174.9 299L185.6 350L186.6 359L185.5 371L179.4 389L178.8 395L179.4 401L184.3 422L190.9 441.8L196.9 449.9L201.6 461L206.6 470L209.4 473L214.9 474.5L229.9 474.1L244.9 476.5L253.9 475.2L259.9 472.3L277 461L285.5 455L291.7 449L294.3 443L294.5 437L291 428L283.2 416L280.4 410L277.3 386L277.4 371L278.9 365L282.9 356L300.1 326L302.8 317L306.3 293L309.9 284L316.9 274L337.9 251.2L355.9 226.2L361.9 219.4L373.9 212.1L388.9 207.5L394.9 204.6L400 200L406.9 190.4L412.1 185L427.9 176.5L439.9 165.5L442.9 163.8L442.9 614L13.9 614Z" fill="#ff6000"/><path d="M13.9 134L13.9 131.1L16.9 131.9L46.9 146.7L119.8 191L124.9 194.9L139.9 210.6L165.2 230L172.3 239L174.7 248L175.3 260L169.6 293L169.4 299L172.4 317L180.9 350L181.7 359L181.2 365L178.9 372.2L175.9 376.8L167.7 383L168.1 386L172.5 395L186.3 443L193 461L202.9 477.7L205.9 479.8L208.9 480.3L226.9 477.7L244.9 479.9L253.9 478.9L259.9 476.4L291.6 458L295.9 454.6L300.5 446L301.3 437L297.7 428L287 413L284.5 407L282.1 386L281.8 374L282.9 368L286.7 359L301.2 335L305.4 326L308.1 317L311.6 296L313.9 289.1L321 278L334.9 261.7L358.9 230L364.9 223.4L373.9 217.8L391.9 212.2L398.4 209L402.3 206L409.9 195.8L414.6 191L418.9 188.5L430.9 183.9L442.9 174.4L442.9 614L13.9 614Z" fill="#ff5000"/><path d="M13.9 140L13.9 138.9L22.9 141.9L52.9 155.6L118.5 194L122.4 197L136.9 212.3L162.1 233L166.7 239L169.7 248L170.5 260L168.6 278L165.1 296L165.2 311L167.9 326L176.2 350L177.2 356L176.7 362L174.1 368L169.9 371.6L163.9 372.8L148.9 369.6L144.5 371L142.6 374L142.9 375.9L145.5 380L160.9 388.1L167.4 395L171.9 407L187.9 463.3L197.4 479L200.1 482L205.9 484.5L211.9 484.4L226.9 481.3L244.9 483L254.9 482L292.9 463.8L300.8 458L305.4 449L306.8 437L304.1 428L292.7 410L290.1 404L287.9 389L287.8 374L289.2 368L292.9 359.4L305.5 338L311.2 326L315.1 314L319.1 296L322.8 287L349.9 249L367.9 228.6L376.9 223L391.9 217.5L400.9 212.9L405.8 209L412.9 200.8L418.9 195.5L430.9 190L442.9 182.8L442.9 614L13.9 614Z" fill="#ff4000"/><path d="M13.9 149L13.9 146.5L16.9 147L49.9 159.6L67.9 168.9L111.9 194L120.2 200L133.9 214.2L154.9 232L161 239L164.8 248L165.9 263L164 284L159.2 308L159.1 323L161.6 332L171.4 350L172.7 359L169.9 365L163.9 367.7L157.9 367L148.9 364.2L142.9 364.2L139.9 365.7L137.8 368L136.4 374L138.7 380L141.8 383L157.9 390.5L165.2 398L178.9 442.6L184.9 466.4L194.5 482L199.9 486.4L205.9 488.2L211.9 487.9L226.9 484.6L247.9 486L256.9 484.8L277.9 475.1L298.9 467.4L304.1 464L306.7 461L309.4 455L311.5 446L311.7 434L308.8 425L296.8 401L294.6 389L294.6 377L295.6 371L298.9 362L313.3 335L322.7 314L326.9 296L330.3 287L348.7 257L367.9 236.9L377.5 230L403.9 216L421.9 199.8L442.9 189.2L442.9 614L13.9 614Z" fill="#ff3000"/><path d="M13.9 155L13.9 153.8L22.9 155.8L49.9 165L64.9 172.3L106.9 195.1L117.8 203L132.5 218L151.9 234.8L157.5 242L160 248L161.4 257L160.6 284L144.8 335L146.3 338L163.9 348.2L167.4 353L168 359L166 362L160.9 363.3L156.7 362L145.9 355.6L136.9 353.6L133.9 354.8L130.9 359.9L129.1 368L129.7 374L132.2 380L136.9 385L142.9 388.4L154.9 392.6L161.6 398L164.4 404L169.1 425L176.8 446L180.2 464L183.6 473L189.3 482L193.9 486.8L199.9 490.4L205.9 491.6L229.9 487.5L247.9 488.9L256.9 488L280.9 478.5L304.9 472.8L311.1 470L314.4 467L316.5 461L317.8 440L317.3 434L314.9 425L303.8 398L301.9 386L302.2 377L304.2 368L307.8 359L330 314L334 296L337.3 287L349.9 262.6L352.9 258.3L358.9 252.4L376.9 238.2L403.9 221L421.9 205.3L430.9 199.9L442.9 194.7L442.9 614L13.9 614ZM133.9 337.2L130.5 341L130.9 344L133.9 346.5L138.1 344L140.4 341L141 338L136.9 336.9Z" fill="#ff2000"/><path d="M13.9 164L13.9 161.2L16.9 161.5L31.9 164.6L46.9 169.2L61.9 175.8L102.8 197L115.2 206L130.9 222L147.2 236L154 245L156.9 257L157 281L156.2 287L151.9 295.9L139.9 316.2L125.4 332L121.5 338L119.4 347L119.8 365L123 377L129.6 386L136.9 390.8L154.9 396L157.9 398.1L160 401L164.9 425L174.6 449L178 470L181.9 478.8L186.4 485L190.9 489.3L196.9 493.2L205.9 495.2L229.9 490.3L247.9 491.9L256.9 491.4L283.9 482.2L295.9 481.1L307.9 481.5L313.9 482.9L319.9 486.6L323.3 491L330.8 506L334.9 509.6L340.9 511.1L346.9 509.2L350.3 506L352.7 500L352.6 494L349.9 485.2L341.2 467L329.2 455L326.3 449L322.1 428L313.4 404L310.3 392L309.8 380L312.9 365L334.7 317L342.8 290L355.9 262.6L361.9 257.1L385.9 240.2L406.9 223.8L424.9 208.2L433.9 203.1L442.9 199.7L442.9 614L13.9 614Z" fill="#ff1000"/><path d="M13.9 170L13.9 168.6L25.9 169.8L46.9 174.6L97.9 198.7L109.9 206.8L127.9 225.3L144.2 239L149.1 245L151.4 251L152.2 257L151.8 284L148.9 290.2L127.9 316L114.6 335L111.7 341L110.1 347L109.8 362L111.8 371L114.1 377L117.7 383L123.1 389L133.9 395.5L151.9 398.6L155.8 401L157.9 405.9L158.4 416L160.2 425L171.5 449L174.4 473L178.6 482L183.4 488L193.9 496.3L199.9 498.6L205.9 499.2L229.9 493.1L253.9 495.2L262.9 493.8L277.9 488.3L283.9 487L292.9 486.9L301.9 488L307.9 489.9L313.9 493.5L317.5 497L328.9 512.1L334.9 516.4L340.9 518.3L349.9 517.5L355 515L358.7 512L362.8 506L364.4 497L361.6 485L357.5 476L347.9 461L337.4 449L331.5 437L320.7 404L318 392L317.5 380L320.6 365L337 326L346.9 296.1L355.9 276.9L361.9 266.7L365.9 263L388.9 246.8L402.4 233L424.9 212.7L433.9 207.5L442.9 204.3L442.9 614L13.9 614Z" fill="#ff0000"/><path d="M13.9 179L13.9 176.3L31.9 177L43.9 179.1L52.9 182.3L97.4 203L106.9 209.7L122.3 227L140.5 242L145.5 248L146.9 254L147 260L144.5 281L138.9 290L117.8 311L105.1 332L102.3 338L99.9 347L99.6 362L101.5 371L105.3 380L109.9 387L115.9 393.2L127.9 400.6L136.9 403.3L148.9 404.3L151.9 406.9L152.9 419L155.5 428L160 437L166.9 447L168.7 452L168.5 467L170.1 476L174.6 485L178.9 490.1L190.9 499.9L196.9 502.7L202.9 503.8L211.9 502.4L223.9 497.4L229.9 495.9L253.9 498.9L262.9 498L283.9 492.4L298.9 493.9L304.9 495.8L311.7 500L325.9 516.9L331.9 522.1L337.9 525.2L346.9 526.9L352.9 526.4L360.2 524L365.5 521L372.2 515L376.5 509L380.6 500L383.3 491L383.7 485L380.8 482L370.9 476.6L361.9 468L346.5 449L339.1 437L330.6 413L325.9 395L325 380L327.2 368L341.3 332L349.6 305L364.9 277L372.1 269L391.9 254L408.1 233L421.9 219.5L430.9 213.2L442.9 208.8L442.9 614L13.9 614Z" fill="#ef0000"/><path d="M13.9 185L31.9 183.6L43.9 184.7L73.9 198.4L94.9 206.5L102.9 212L118.9 232.4L136.9 247L139.9 251L140.5 257L139.4 266L136.9 275L133.9 280.5L124.9 289.5L106.9 300.6L101.6 308L89.9 338L87.8 350L88.1 362L89.9 371L93.3 380L98.6 389L103.7 395L115.9 404.7L136.9 414L142.9 419.2L150.7 434L163.5 452L162.8 467L164 476L167.6 485L172 491L187.9 504.5L193.9 508L199.9 509.6L205.9 509.4L211.9 507.7L226.1 500L229.9 499.1L253.9 502.9L265.9 502.2L283.9 498.8L298.9 500.2L304.9 502.4L310.9 506.5L322.9 522.7L331.9 531.2L340.9 535.5L349.9 537L358.9 536.1L367.9 533.2L376.9 528.3L382.9 523L388.8 515L393 506L396 494L396.6 485L395.5 479L393.5 476L388.9 473.3L376.9 469.9L367.9 464.3L356.3 452L348 440L341.3 425L334.4 401L332.4 383L334 371L347.5 335L353.4 311L367.9 287.5L376.9 277L397.9 259.2L401.5 254L410.5 236L421.9 223.5L430.9 217.1L442.9 213.1L442.9 614L13.9 614Z" fill="#df0000"/><path d="M32.8 191L43.9 191.1L67.9 202.7L95.3 212L101.5 218L110.6 236L124.4 248L129.2 254L130.2 257L130.1 263L128.1 269L124.9 274L118.9 279.5L97.9 293L92.5 299L85.4 311L79.1 326L75.7 338L74 353L74.9 365L77 374L80.5 383L85.7 392L91.9 399.9L103.9 410.5L132.5 428L139.9 435.8L150.3 449L154.3 458L155.1 470L156.8 479L160.6 488L164.8 494L187.9 514.1L193.9 517L199.9 518.2L205.9 517.5L211.9 515L229.9 503.2L232.9 503.2L244.9 506.5L253.9 507.7L265.9 507.6L286.9 505.8L301.9 507.5L308.9 512L319.9 531L328.9 540.7L337.9 546.5L349.9 550L358.9 549.4L376.9 544.7L385.9 540.2L390.9 536L397.9 527L402 518L404.2 509L404.9 497L402.2 482L397.9 474.4L391.9 469.8L379.9 465L370.9 459.5L360.8 449L353.1 437L347.1 422L341.8 401L340.2 386L341.2 374L355 338L359.5 317L362.3 311L372.6 296L380.1 287L388.9 278.9L402.2 269L408 263L411.8 242L414.6 236L419.2 230L424.9 224.5L430.9 220.7L442.9 217.3L442.9 614L13.9 614L13.9 194.3Z" fill="#cf0000"/><path d="M28.5 203L37.9 201.2L43.9 201.9L67.9 211.5L92.1 218L94.9 221.1L98.6 236L100.9 241.6L113.5 257L114.6 260L114.2 263L112 266L91.9 281L82.9 289.4L73.2 302L66.5 314L60.8 329L58.2 341L57.4 356L58.7 368L61 377L65.9 389L71.2 398L78.2 407L91.9 419.7L122 440L134.2 452L139.9 461.4L148.9 488L154.1 497L158.9 503L175.9 519.7L184.9 527L196.9 533.8L202.9 535.1L208.9 531.8L226.9 514.2L232.9 511.2L259.9 513.7L299.4 515L303.9 518L311.5 536L319.9 548.6L328.9 557.6L346.3 572L355.9 582.1L358.9 582.7L367.9 578.7L385.9 566.9L394.9 559.7L403 551L408.7 542L412.9 531.6L415.1 521L415.4 509L411.9 491L408.1 482L404.4 476L397.9 469.4L379.9 459.7L373.3 455L364.9 446L359.4 437L354.8 425L349.9 403.8L348.9 389L350.3 377L359 353L367.2 335L372 317L380.3 302L388.9 291.5L397.9 283.7L409.9 276.4L421.9 271.5L425 269L425.8 266L424.8 263L418.9 256.4L416.4 251L416 242L418.1 236L422.5 230L427.9 225.6L433.9 223L442.9 221.5L442.9 614L13.9 614L13.9 207Z" fill="#bf0000"/><path d="M30.2 221L37.9 219.5L46.9 219.8L71.1 227L76.7 230L79.7 233L82.6 239L83.9 245L84 254L82.1 260L76.9 267.5L57 290L48.7 302L40.2 320L35.8 338L35.4 359L39.8 380L47.9 398L60.7 416L76.1 431L104 452L115.9 462.8L123.5 473L136.6 497L146.8 512L166.2 533L181.3 545L187.9 548.5L196.9 551.3L202.9 551.6L208.9 550.3L217.9 544.2L232.9 526.1L238.9 522.5L244.3 521L253.9 520.3L259.9 520.8L284.1 527L289.9 530L293 533L307.9 559.4L322.9 578.9L336.5 599L346.9 607L352.9 609.6L361.9 611.2L370.9 610.3L382.9 606L394.4 599L403.9 590.7L412.9 580.2L419.9 569L425.3 557L428.5 545L429.9 533L429.2 518L426.5 506L421.8 494L414.9 482L407.5 473L397.9 465.3L379.9 454.5L373.6 449L368.7 443L364 434L361.3 425L358.3 398L360.1 386L364.2 374L370.9 359.3L379.1 347L381.8 341L384.5 320L387.4 311L390.5 305L394.7 299L400.9 292.4L409.9 285.8L427.9 275.7L431.1 272L432.4 269L432.7 266L430.9 260.8L420.9 248L419.8 242L421.2 236L424.9 231L427.9 228.8L433.9 226.5L442.9 225.8L442.9 614L13.9 614L13.9 226.7Z" fill="#af0000"/><path d="M435.6 230L442.9 230.7L442.9 508.6L428.5 488L417.6 476L406.6 467L383.6 452L376.9 446L372.4 440L369.6 434L367.4 422L367.9 410L370.1 398L373.2 389L376.9 382.1L380.9 377L385.9 372.9L403.9 365.3L406.4 362L406.7 359L400.2 344L396.5 329L396.8 317L399.8 308L403.5 302L408.9 296L431.6 281L434.9 278L439 272L440.5 266L438.6 260L426.6 248L423.6 242L424.4 236L426.7 233L430.9 230.6ZM13.9 401L13.9 398.5L16.9 401.5L31.6 422L45.2 437L58.9 449.4L85.9 471.7L96.7 482L106.9 493.9L136.7 533L148.9 545.9L162.1 557L172.9 563.8L184.9 568.7L196.9 570.8L208.9 570.1L217.9 567.2L226.9 562L232.9 556.6L244.9 541.7L250.9 536.1L253.9 534.9L259.9 536L268.2 542L274.9 549.9L294.8 587L311.8 614L13.9 614ZM441.9 593L442.9 591.8L442.9 614L427.7 614Z" fill="#9f0000"/><path d="M429 236L430.9 234.8L433.9 234.6L438.1 236L442.8 239L442.9 246.2L436.9 246.3L430.9 244.2L427.9 240.3ZM439.8 284L442.9 282.4L442.9 486.8L419.3 470L399.1 458L385.9 448.6L380 443L376.9 438.5L374.8 434L373.8 428L374.2 422L375.9 416L389.2 389L394.9 382.1L409.9 372.1L414.5 365L414.5 356L408.1 335L406.4 326L406.5 317L409.4 308L413.4 302L418.9 296.9ZM13.9 461L13.9 459.6L19.9 463.3L64.9 500.9L82.9 518.4L121.7 560L135.1 572L148.9 582.1L163.9 590.6L181.9 597.6L199.9 601.5L238.9 605.7L247.9 609.1L253.8 614L13.9 614Z" fill="#8f0000"/><path d="M442.6 293L442.9 472.9L430.9 468.7L406.9 458.3L401.2 455L389.5 446L383.5 440L380.1 434L379.5 431L380.5 425L382.9 420.7L393.1 413L398.2 407L401.7 392L403.3 389L406.8 386L417.1 380L420.1 377L423.5 371L424.8 365L424.7 359L415.3 323L415.2 317L416.5 311L420 305L424.9 300.7L433.9 296.1ZM13.9 530L13.9 527.4L16.9 528.7L37.9 544.1L91.9 590.3L118.1 611L120.5 614L13.9 614Z" fill="#800000"/></g>
<g clip-path="url(#cD)"><path d="M125.2 192.6L127.4 195.4L131.8 201L134 203.8M163.9 227.6L165.2 228.5L167.7 230.4L170.5 233.8L173.6 238.8L175.5 246.3L176.1 256.3L175.5 266.3L173.6 276.2L171.7 284.4L169.9 290.6L169.9 298.1L171.7 306.8L173.6 314.9L175.5 322.4L177.4 330.5L179.2 339.3L180.8 348L182 356.8L182.3 363.7L181.7 368.8L180.2 373.9L177.7 378.9L175.6 382L174 383.2L173.2 383.9M146.5 375.1L148.6 375.4L153 376.1L157.7 378.9L162.7 383.9L167.4 390.1L171.7 397.6L175.2 405.1L177.7 412.6L180.5 421.3L183.6 431.3L185.9 441.6L187.4 452.2L188.7 458.1L189.7 459.4L191.7 457.8L194.8 453.4L197.3 455L199.2 462.5L201.1 470L202.9 477.5L206.7 480.9L212.3 480.3L218.9 479L226.4 477.2L233.2 477.2L239.5 479L245.7 479.7L251.9 479L258.8 476.2L266.3 471.2L273.8 466.6L281.3 462.2L287.5 458.8L292.5 456.3L296.3 452.8L298.8 448.5L300.3 443.8L300.9 438.8L301.2 436.3M282.5 411.3L282.2 407.6L281.6 400.1L281 392.6L280.3 385.1L280 378.2L280 372L281.9 365.1L285.6 357.6L290 350.1L295 342.7L299.4 335.2L303.1 327.7L305.6 320.2L306.9 312.7L308.1 304.6L309.4 295.8L312.5 287.7L317.5 280.2L322.5 273.9L327.5 268.8L333.1 262.5L339.3 255L344.9 247.5L349.9 240L354.9 232.9L359.9 226L365.5 220.7L371.8 216.9L379.3 214.1L388 212.3L394.9 210.1L399.9 207.6L403.6 203.8L406.1 198.8L409.2 194.2L413 189.8L418.6 187L426.1 185.7L429.8 185.1M117.7 127.7L120.9 126.8L127.1 124.9L134 123.3L141.5 122.1L147.7 122.7L152.7 125.2L158.3 128.9L164.6 133.9L170.8 137.7L177 140.2L182.7 140.2L187.7 137.7L192 133.3L195.8 127.1L199.2 120.5L202.3 113.7L203.9 110.2M432.8 196.3L432.8 218.2L432.8 261.9L432.8 283.7M432.8 311.2L432.8 319.6L432.8 336.5L432.8 344.9M428.6 423.8L426.4 422.2L422 419.1L417.3 418.5L412.3 420.4L407.4 420.7L402.4 419.4L396.7 420.7L390.5 424.4L386.4 427.9L384.6 431L384.6 433.8L386.4 436.3L387.4 437.5M407.4 455L410.5 455.3L416.7 455.9L422 457.2L426.4 459.1L428.6 460" fill="none" stroke="#fff" stroke-width="4.1" stroke-linejoin="round" stroke-linecap="butt"/></g>
<path d="M0.4 65.9L6.4 67.1L11.4 69L17.6 71.5L23.9 74.6L27 77.1L31.4 78.4L37.6 80.8L43.8 83.3L48.8 85.8L53.8 88.3L56.3 91.5L56.9 94.6L55.7 97.1L53.8 98.3L56.3 100.2L56.9 103.3L55.7 105.2L58.2 107.1L56.9 109.6L54.4 110.8L53.2 113.3L54.4 116.4L56.3 118.3L60.7 119.5L62.6 122.7L63.2 126.4L66.9 127.7L73.8 128.3L80 130.2L86.3 132L93.8 135.1L100 138.3L105 141.4L110 146.4L115 151.4L119.4 156.4L122.5 161.4L125 167.6L128.1 173.8L130.6 179.5L131.5 184.5L130 188.2L126.2 190.7L121.9 190.1L116.2 188.2L110 185.1L103.8 182L97.5 178.8L91.3 175.7L85 173.2L78.8 171.3L72.5 168.9L66.3 167.6L60.1 167L53.8 166.4L48.8 164.5L44.5 162.9L40.1 162.6L35.1 164.5L28.9 167L23.9 168.9L20.1 170.1L17.6 168.2L15.1 167L12.6 168.9L8.9 170.1L5.1 171.3L2.6 172.6L0.4 173.2ZM22 175.7L27.6 171.3L33.9 167.6L40.1 165.7L46.3 165.7L51.3 167.6L55.1 170.7L58.8 175.1L62.6 179.5L68.8 183.2L75 186.3L80 188.8L85 192.6L88.8 193.8L93.8 195.7L98.8 197.6L105 200.1L111.2 203.8L116.2 206.9L121.9 208.2L126.2 210L128.7 213.2L128.1 217.5L125 221.3L120.6 222.5L115 221.3L110 219.4L103.8 216.3L97.5 214.4L91.3 214.4L86.3 212.5L80 209.4L73.8 206.3L67.6 202.6L61.3 199.4L55.1 196.3L48.8 192.6L42.6 188.8L37.6 185.7L35.1 185.1L32 185.7L28.9 183.2L25.7 180.7L22.6 178.2ZM0.4 180.1L6.4 183.8L12.6 187.6L18.9 191.3L23.9 193.8L28.9 196.9L32.6 200.1L36.3 203.8L38.8 207.6L40.7 211.3L42.6 214.4L40.1 216.3L43.8 215.7L47.6 217.5L51.3 219.4L55.1 221.9L58.8 223.8L62.6 225.7L66.3 227.5L70.1 230L72.5 232.5L73.2 236.3L72.5 237.1L75 234L80 235.2L86.3 237.7L92.5 240.8L98.8 244.6L103.8 248.3L107.5 252.1L111.2 256.4L114.4 261.4L117.5 266.4L120.6 272.7L123.7 278.9L126.9 285.2L129.3 291.4L131.2 297.6L131.2 302.6L129.3 307L125 309.5L118.7 310.1L111.2 310.7L103.8 311.4L96.3 312.6L88.8 313.9L81.3 315.7L73.8 318.2L67.6 320.7L62.6 323.2L58.8 326.3L55.1 328.8L51.3 331.3L47.6 333.2L42.6 335.1L36.3 337.6L31.4 340.1L26.4 342.6L22.6 345.7L17.6 348.2L11.4 349.4L6.4 350.7L0.4 352.6ZM83.8 225.9L88.8 225.2L95 227.7L101.3 230.9L107.5 234L111.2 237.1L113.1 240.8L112.5 243.3L110 242.7L105 239.6L98.8 235.8L92.5 232.1L86.3 229ZM115.6 236.5L118.7 235.2L123.7 237.1L127.5 240.8L127.5 244.6L123.7 247.1L120 244.6L116.9 240.8ZM0.4 403.3L5.1 399L11.4 394.6L17.6 391.5L23.9 389.6L30.1 388.4L38.8 388.4L46.3 389.6L52.6 392.1L58.8 395.8L65.1 400.8L71.3 406.5L76.3 412.1L81.3 418.3L86.3 424.6L91.3 430.8L96.3 435.8L102.5 440.2L105 443.3L107.5 441.4L115 440.2L121.2 443.9L127.5 446.4L133.7 448.3L137.5 450.8L142.5 452L148.7 452.6L154.9 450.8L161.2 448.9L164.9 450.1L164.9 452.6L159.9 455.8L153.7 458.3L147.4 461.4L141.2 464.5L136.2 468.2L131.2 471.4L127.5 475.1L123.7 478.9L118.7 482.6L113.7 487L108.7 491.3L105 495.7L101.3 499L93.8 501.5L86.3 502.1L80 502.7L76.3 501.5L74.4 499L71.3 502.1L67.6 505.9L63.8 510.2L61.3 514L63.2 520.2L66.9 519.6L68.2 515.2L71.3 511.5L73.8 513.4L75.7 515.8L73.8 519.6L70.7 522.7L71.9 527.7L73.8 522.1L78.8 517.7L85 514L91.3 510.2L97.5 507.1L103.8 503.4L107.5 499.6L111.2 495.1L116.2 492.6L122.5 490.7L128.7 488.8L134.3 487L138.7 488.8L141.2 492.6L145 495.1L138.7 500.2L135 504L138.7 507.7L141.2 512.7L142.5 517.7L136.2 520.2L132.5 523.3L133.7 527.7L136.2 531.5L133.7 535.2L136.2 538.9L141.2 540.8L145.6 540.2L142.5 543.9L140 547.7L137.5 551.4L132.5 553.9L127.5 555.8L123.7 557.7L120 555.8L116.9 552L118.7 547.7L119.4 542.7L117.5 538.3L120.6 533.9L117.5 530.2L115.6 527.1L111.9 529L113.7 533.9L114.4 538.9L112.5 545.2L110 550.2L106.3 553.9L101.3 555.8L96.3 556.4L95 551.4L95 543.9L95.6 536.4L94.4 534.6L92.5 537.7L92.5 546.4L91.9 552.7L88.8 550.2L86.3 545.2L83.8 540.2L80 541.4L73.8 540.8L80 542.1L77.5 546.4L76.3 551.4L73.8 555.2L70.1 557.7L66.3 558.9L61.3 557.7L63.8 561.4L60.1 564.5L66.9 565.2L73.8 564.5L81.3 563.9L87.5 565.2L93.8 565.8L91.9 570.1L92.5 572.6L86.3 574.5L80 573.9L76.9 573.3L78.2 577.6L75.7 581.4L80 578.9L83.8 576.4L88.8 575.1L93.8 574.5L97.5 577.6L102.5 578.9L98.8 581.4L97.5 585.1L102.5 587.6L106.9 589.5L102.5 591.4L98.8 593.2L93.8 593.9L88.8 592.6L83.8 590.1L78.8 587.6L75 589.5L76.9 593.2L82.5 595.1L87.5 596.4L92.5 598.9L95 602.6L98.8 605.1L98.1 608.8L95 611.3L93.8 615.1L93.1 621.3L96.3 622.6L92.5 623.8L86.3 622L80 625.1L73.8 625.7L66.3 626.3L58.8 625.7L51.3 623.8L49.5 625.1L52.6 626.9L61.3 626.9L68.8 627.6L73.8 630.1L75 635.1L76.9 641.3L80 646.3L84.4 652.5L84.4 654L0.4 654Z" fill="#808080" stroke="#000" stroke-width="1.7" stroke-linejoin="miter"/>
<path d="M206.2 327.9L210.4 326.9L215 330.6L218.1 329.1L221.2 330.3L223.9 333L218.9 335.7L215.6 334.9L212.3 336.4L208 334.7L205.8 331.7ZM254.8 329.2L258.7 328L260.2 330.7L259.5 334.8L256.3 334.2L254 332ZM185.7 366.6L191.1 366.8L195.1 367.4L199.3 365.4L203.7 369L209.1 371.5L208 376.3L202.5 374.5L199.5 376L196.3 375.3L193.2 376.3L189.4 376L186.1 372.7ZM157.3 392.2L162.3 388.6L165.8 389L168.6 386.5L172.6 387.1L176.6 386.2L179.1 388.2L180 391.4L179.4 396.5L177.5 401.5L174.1 401.5L171 400.5L168.1 398.7L165.5 396.9L159.4 395.8ZM184.8 399.7L189.8 396.8L193.3 397.1L196.2 394.6L199.4 395.5L202.8 394.9L206.1 398L203.8 401.4L201.4 401.3L196.3 400.9L193.4 402.5L190 403.1L185.5 402.1ZM135.6 409.7L139.4 408.2L141.8 411.7L146.1 412.8L149.5 413.3L152.6 412.3L155.7 411.5L158.8 412.6L162 413.5L163.9 416.2L167.4 416.6L170.5 417.9L173.3 419.9L175.9 422.1L179.9 422.4L182.9 424.5L185.5 427.2L188.2 429.8L191.8 430.9L195.3 432.7L192.8 435.6L192.5 440.3L190.7 442.9L186 444.3L182.8 443.1L179.6 441.6L176.7 439.6L174 436.8L170.5 437.8L167.5 436.1L164.4 436.6L161.3 437.9L158.2 436.8L155.1 437.5L152 437.5L148.2 436.8L147.3 433.5L144.9 431.4L142.1 426.4L142.2 423.2L141.2 420.1L139.2 415.5L136.5 412.6ZM191.4 442.1L196.1 442.9L201.3 443L207.2 441.4L208.7 446.3L208.5 449.5L208.3 453.4L205 455.1L205.8 460L201.8 459.5L197.7 455.8L197.3 452L194.9 447.7L193.8 444.6Z" fill="#808080" stroke="#000" stroke-width="1.9" stroke-linejoin="miter"/>
<path d="M111.2 505.2L113.7 502.1L118.7 502.1L120.6 505.2L118.7 510.2L115 512.7L111.9 510.9Z" fill="#fff" stroke="#000" stroke-width="1.1"/>
<path d="M164.5 107.7h0M180.8 109.5h0M218.2 109h0M290.6 109h0M326.8 109h0M363 109h0M180.8 151.9h0M218.2 158.4h0M254.4 161.9h0M290.6 167.1h0M328.1 170.6h0M363 174.4h0M184.5 189.4h0M198.7 195.6h0M218.2 200.1h0M242.7 205.1h0M267.6 213.8h0M290.6 217.6h0M326.8 225.1h0M363 234.3h0M399.2 241.3h0M96.4 218.8h0M118.3 231.3h0M134.6 236.3h0M157 237.5h0M177 239.3h0M200.2 242.5h0M217.5 241.8h0M242.7 254.3h0M266.1 260.5h0M290.6 268.8h0M326.8 280h0M110.9 255h0M127.1 270h0M217 272.5h0M242.7 281.2h0M268.6 291.7h0M290.6 299.2h0M326.8 312.4h0M363 322.4h0M182 297.5h0M198.7 305h0M218.2 309.9h0M238.7 313.7h0M265.6 322.4h0M291.9 332.4h0M218.2 354.9h0M254.4 364.9h0M363 354.1h0M399.2 364.1h0M435.4 376.6h0M146.3 377.4h0M218.2 396.1h0M254.4 406.1h0M326.8 388.1h0M363 399.8h0M217.7 435.5h0M326.8 428.5h0M218.2 436.3h0M254.4 447.5h0M290.6 457.5h0M329.3 471.2h0M363 440h0M363 481.7h0M326.8 428.3h0M199.5 502.4h0M217 508.7h0M254.4 519.9h0M294.4 531.7h0M326.8 544.1h0M363 555.6h0M180.8 560.4h0M197 567.4h0M217.7 572.3h0M235.7 578.1h0M254.4 584.1h0M290.6 594.8h0M435.4 376.4h0M18.9 186.3h0M26.4 199.4h0M49.5 208.5h0M57.6 213.2h0M60.1 218.8h0M70.1 217.3h0M96.3 219h0M72.5 229.4h0M117.5 231.9h0M135 235.6h0" stroke="#000" stroke-width="4" stroke-linecap="round" fill="none"/><text class="v" text-anchor="middle" transform="translate(149 216.3) rotate(40)" y="11.8">26</text><text class="v" text-anchor="middle" transform="translate(286.3 426.3) rotate(62)" y="11.8">26</text><text class="v" text-anchor="middle" transform="translate(393.6 446.3) rotate(-35)" y="11.8">28</text><text class="v" text-anchor="middle" transform="translate(428.1 295) rotate(-85)" y="11.8">28</text><path d="M160.7 112.7L160.9 113L161.3 113.7L161.9 114.6L162.6 115.8L163.5 117.2L164.6 118.7L165.7 120.3L166.9 122L168.2 123.6L169.4 125.1L170.7 126.5L171.9 127.7L173.4 128.9L175.1 130L177.1 131L179.3 131.9L181.4 132.6L183.6 133L185.8 133.1L188 132.9L190.1 132.7L192.1 132.4L194.1 132L196 131.5L197.8 130.9L199.7 130L201.6 129L203.4 127.7L205.2 126.5L206.7 125.4L208.1 124.4L209.4 123.5L210.8 122.5L212.3 121.4L214.1 120.2L215.9 119L217.8 117.8L219.7 116.7L221.5 115.7L223.4 114.8L225.6 113.8L228 112.8L230.7 111.7L233.6 110.6L236.8 109.5L240 108.4L243.5 107.3L247.1 106.3L250.6 105.3L254.1 104.4L257.6 103.7L261 103.1L264.5 102.5L267.9 102.2L271.3 101.9L274.8 101.7L278.2 101.6L281.5 101.4L284.9 101.3L288.2 101.2L291.4 101.1L294.6 101.2L297.8 101.4L300.9 101.6L304 101.9L307.2 102.1L310.3 102.4L313.4 102.6L316.5 102.8L319.6 103L322.8 103.2L325.9 103.3L329 103.4L332.1 103.4L335.2 103.5L338.4 103.5L341.3 103.6L344.1 103.8L346.8 104.1L349.3 104.6L351.6 105.1L353.8 105.8L355.8 106.6L357.7 107.6L359.5 108.7L361.2 109.9L362.9 111.3L364.4 112.9L365.8 114.6L367.1 116.5L368.2 118.5L369.1 120.7L370.1 122.9L371.2 125.3L372.4 127.7L373.6 130.2L374.9 132.8L376.1 135.4L377.4 138.1L378.6 141L379.9 143.9L381.3 147L382.8 150.3L384.4 153.8L386 157.1L387.5 160.4L389.1 163.6L390.6 166.7L392.3 169.8L394 172.9L395.8 176.1L397.7 179.2L399.7 182.3L401.9 185.4L404.2 188.5L406.7 191.7L409.2 194.6L411.7 197.4L414.2 200.1L416.7 202.6L419.1 204.9L421.5 207.1L423.7 209.1L425.9 211L427.8 213.2L429.6 215.7L431 218.5L432.3 221.6L433.5 224.9L434.6 228.3L435.6 231.9L436.5 235.7L437.4 239.6L438.1 243.6L438.8 247.8L439.5 252.2L439.9 256.4L440 260.5L439.9 264.4L439.6 268.1L439.2 271.9L438.5 275.6L437.8 279.4L436.8 283.1L435.7 286.5L434.5 289.7L433.1 292.5L431.5 295L430 297L428.4 298.6L426.8 299.6L425.3 300.3L423 300.6L420 300.6L416.4 300.3L412 299.6L407.8 299L403.7 298.4L399.8 297.8L396.1 297.1L392.3 296.5L388.6 295.9L384.9 295.3L381.1 294.7L377.5 294.1L374.1 293.6L370.8 293.2L367.7 292.9L364.7 292.9L361.9 293.2L359.3 293.9L356.8 294.8L354.4 295.9L352 297.1L349.8 298.6L347.6 300.1L345.5 301.8L343.4 303.5L341.5 305.3L339.6 307.1L337.8 309.1L336.1 311.1L334.5 313.2L332.9 315.4L331.5 317.7L330.2 320L329.2 322.4L328.2 324.9L327.4 327.4L326.6 329.9L325.9 332.4L325.3 334.9L324.7 337.6L324.1 340.4L323.7 343.3L323.2 346.5L322.9 349.7L322.7 353.2L322.6 356.8L322.6 360.5L322.6 364.2L322.7 368L322.8 371.7L322.9 375.5L322.9 379.2L322.9 383L322.9 386.7L322.8 390.5L322.5 394L322 397.5L321.4 400.8L320.5 403.9L319.5 406.8L318.4 409.4L317 411.8L315.4 414L313.8 415.8L312.1 417.2L310.3 418.2L308.4 418.9L306.5 419.2L304.7 419.4L302.8 419.3L300.9 419L299.1 418.7L297.4 418.5L295.8 418.4L294.2 418.2L292.6 418.4L290.8 418.9L289.1 419.6L287.2 420.7L285.5 422L283.9 423.4L282.5 425.1L281.3 427L280 429L278.8 431.1L277.5 433.4L276.3 435.9L275.4 437.7L274.8 438.8L274.6 439.3L274.8 439.2L274.5 439.9L273.8 441.4L272.7 443.7L271.1 446.8L269.5 449.9L267.8 453L266 456.1L264.1 459.3L262.2 462.4L260.4 465.5L258.5 468.6L256.6 471.8L254.7 474.9L252.6 478L250.5 481.1L248.3 484.2L246.3 487.5L244.4 490.9L242.7 494.5L241.2 498.3L239.7 502L238.3 505.8L236.9 509.5L235.7 513.3L234.5 517L233.4 520.7L232.4 524.5L231.5 528.2L230.4 531.8L229.1 535.3L227.7 538.5L226.2 541.7L224.5 544.9L222.8 548.1L221 551.5L219.2 554.9L217.4 557.8L215.6 560.1L214 561.9L212.4 563.2L211.3 564.1L210.5 564.7L210.1 565.1" fill="none" stroke="#000" stroke-width="7.5" stroke-dasharray="7.5 7.1" stroke-linejoin="round"/>
<path d="M145.3 0V653.8M290.6 0V653.8M435.9 0V653.8M0 145.3H508.7M0 290.6H508.7M0 435.9H508.7M0 581.2H508.7" stroke="#000" stroke-opacity=".13" stroke-width="1.5" fill="none"/>
<path d="M145.3 0v7M145.3 653.8v-7M290.6 0v7M290.6 653.8v-7M435.9 0v7M435.9 653.8v-7M0 145.3h7M508.7 145.3h-7M0 290.6h7M508.7 290.6h-7M0 435.9h7M508.7 435.9h-7M0 581.2h7M508.7 581.2h-7" stroke="#1e1e1e" stroke-width="1.5" fill="none"/>
<text class="u k" x="29.1" y="57">SST (°C)</text>
<text class="k" font-size="32.2" transform="translate(22.6 125.8) rotate(29.5)">Jiangsu</text>
<clipPath id="LD"><path d="M0 235H100L110.6 256.5L113.8 261.5L116.9 266.5L120 272.8L123.1 279L126 290H0Z"/></clipPath><g clip-path="url(#LD)"><text class="k" font-size="31.8" x="4" y="275.4">Shanghai</text></g>
<text class="k" font-size="25.7" x="7.4" y="373.1">Hangzhou Bay</text>
<text class="k" font-size="32.6" x="7.2" y="469.3">Zhejiang</text>
<text class="b" font-size="37" text-anchor="middle" x="259.6" y="625">Multi-year average</text>
<rect x="0" y="0" width="508.7" height="653.8" fill="none" stroke="#1e1e1e" stroke-width="1.6"/>
<rect x="537.8" y="0" width="49.7" height="653.80" fill="#00008f"/>
<rect x="537.8" y="0" width="49.7" height="643.58" fill="#00009f"/>
<rect x="537.8" y="0" width="49.7" height="633.37" fill="#0000af"/>
<rect x="537.8" y="0" width="49.7" height="623.15" fill="#0000bf"/>
<rect x="537.8" y="0" width="49.7" height="612.94" fill="#0000cf"/>
<rect x="537.8" y="0" width="49.7" height="602.72" fill="#0000df"/>
<rect x="537.8" y="0" width="49.7" height="592.51" fill="#0000ef"/>
<rect x="537.8" y="0" width="49.7" height="582.29" fill="#0000ff"/>
<rect x="537.8" y="0" width="49.7" height="572.07" fill="#0010ff"/>
<rect x="537.8" y="0" width="49.7" height="561.86" fill="#0020ff"/>
<rect x="537.8" y="0" width="49.7" height="551.64" fill="#0030ff"/>
<rect x="537.8" y="0" width="49.7" height="541.43" fill="#0040ff"/>
<rect x="537.8" y="0" width="49.7" height="531.21" fill="#0050ff"/>
<rect x="537.8" y="0" width="49.7" height="521.00" fill="#0060ff"/>
<rect x="537.8" y="0" width="49.7" height="510.78" fill="#0070ff"/>
<rect x="537.8" y="0" width="49.7" height="500.57" fill="#0080ff"/>
<rect x="537.8" y="0" width="49.7" height="490.35" fill="#008fff"/>
<rect x="537.8" y="0" width="49.7" height="480.13" fill="#009fff"/>
<rect x="537.8" y="0" width="49.7" height="469.92" fill="#00afff"/>
<rect x="537.8" y="0" width="49.7" height="459.70" fill="#00bfff"/>
<rect x="537.8" y="0" width="49.7" height="449.49" fill="#00cfff"/>
<rect x="537.8" y="0" width="49.7" height="439.27" fill="#00dfff"/>
<rect x="537.8" y="0" width="49.7" height="429.06" fill="#00efff"/>
<rect x="537.8" y="0" width="49.7" height="418.84" fill="#00ffff"/>
<rect x="537.8" y="0" width="49.7" height="408.62" fill="#10ffef"/>
<rect x="537.8" y="0" width="49.7" height="398.41" fill="#20ffdf"/>
<rect x="537.8" y="0" width="49.7" height="388.19" fill="#30ffcf"/>
<rect x="537.8" y="0" width="49.7" height="377.98" fill="#40ffbf"/>
<rect x="537.8" y="0" width="49.7" height="367.76" fill="#50ffaf"/>
<rect x="537.8" y="0" width="49.7" height="357.55" fill="#60ff9f"/>
<rect x="537.8" y="0" width="49.7" height="347.33" fill="#70ff8f"/>
<rect x="537.8" y="0" width="49.7" height="337.12" fill="#80ff80"/>
<rect x="537.8" y="0" width="49.7" height="326.90" fill="#8fff70"/>
<rect x="537.8" y="0" width="49.7" height="316.68" fill="#9fff60"/>
<rect x="537.8" y="0" width="49.7" height="306.47" fill="#afff50"/>
<rect x="537.8" y="0" width="49.7" height="296.25" fill="#bfff40"/>
<rect x="537.8" y="0" width="49.7" height="286.04" fill="#cfff30"/>
<rect x="537.8" y="0" width="49.7" height="275.82" fill="#dfff20"/>
<rect x="537.8" y="0" width="49.7" height="265.61" fill="#efff10"/>
<rect x="537.8" y="0" width="49.7" height="255.39" fill="#ffff00"/>
<rect x="537.8" y="0" width="49.7" height="245.17" fill="#ffef00"/>
<rect x="537.8" y="0" width="49.7" height="234.96" fill="#ffdf00"/>
<rect x="537.8" y="0" width="49.7" height="224.74" fill="#ffcf00"/>
<rect x="537.8" y="0" width="49.7" height="214.53" fill="#ffbf00"/>
<rect x="537.8" y="0" width="49.7" height="204.31" fill="#ffaf00"/>
<rect x="537.8" y="0" width="49.7" height="194.10" fill="#ff9f00"/>
<rect x="537.8" y="0" width="49.7" height="183.88" fill="#ff8f00"/>
<rect x="537.8" y="0" width="49.7" height="173.67" fill="#ff8000"/>
<rect x="537.8" y="0" width="49.7" height="163.45" fill="#ff7000"/>
<rect x="537.8" y="0" width="49.7" height="153.23" fill="#ff6000"/>
<rect x="537.8" y="0" width="49.7" height="143.02" fill="#ff5000"/>
<rect x="537.8" y="0" width="49.7" height="132.80" fill="#ff4000"/>
<rect x="537.8" y="0" width="49.7" height="122.59" fill="#ff3000"/>
<rect x="537.8" y="0" width="49.7" height="112.37" fill="#ff2000"/>
<rect x="537.8" y="0" width="49.7" height="102.16" fill="#ff1000"/>
<rect x="537.8" y="0" width="49.7" height="91.94" fill="#ff0000"/>
<rect x="537.8" y="0" width="49.7" height="81.73" fill="#ef0000"/>
<rect x="537.8" y="0" width="49.7" height="71.51" fill="#df0000"/>
<rect x="537.8" y="0" width="49.7" height="61.29" fill="#cf0000"/>
<rect x="537.8" y="0" width="49.7" height="51.08" fill="#bf0000"/>
<rect x="537.8" y="0" width="49.7" height="40.86" fill="#af0000"/>
<rect x="537.8" y="0" width="49.7" height="30.65" fill="#9f0000"/>
<rect x="537.8" y="0" width="49.7" height="20.43" fill="#8f0000"/>
<rect x="537.8" y="0" width="49.7" height="10.22" fill="#800000"/>
<text font-size="33.4" x="601.5" y="666.2">19</text>
<text font-size="33.4" x="601.5" y="593.6">20</text>
<text font-size="33.4" x="601.5" y="520.9">21</text>
<text font-size="33.4" x="601.5" y="448.3">22</text>
<text font-size="33.4" x="601.5" y="375.6">23</text>
<text font-size="33.4" x="601.5" y="303">24</text>
<text font-size="33.4" x="601.5" y="230.3">25</text>
<text font-size="33.4" x="601.5" y="157.7">26</text>
<text font-size="33.4" x="601.5" y="85">27</text>
<text font-size="33.4" x="601.5" y="12.4">28</text>
<path d="M587.5 581.2h-7M587.5 508.5h-7M587.5 435.9h-7M587.5 363.2h-7M587.5 290.6h-7M587.5 217.9h-7M587.5 145.3h-7M587.5 72.6h-7" stroke="#1e1e1e" stroke-width="1.2" fill="none"/>
<rect x="537.8" y="0" width="49.7" height="653.8" fill="none" stroke="#1e1e1e" stroke-width="1.5"/>
</g>
<text class="s" x="789.5" y="24.2">D</text>
<g transform="translate(831.7 721)">
<clipPath id="cE"><path d="M98.9 137.7L110.8 137.7L112 132.1L124.5 130.8L125.7 124L140.7 122.7L142 116.5L166.9 115.2L173.8 109L360.5 109L364.3 121.5L364.3 128.9L368.8 128.9L368.8 136.4L373.4 136.4L373.4 143.9L378 143.9L378 150.8L381.7 150.8L381.7 157.7L385.5 157.7L385.5 164.5L389.2 164.5L389.2 171.4L393 171.4L393 178.9L397.1 178.9L397.1 186.4L401.3 186.4L401.3 193.9L405.5 193.9L405.5 201.3L408.8 201.3L408.8 208.8L412.1 208.8L412.1 216.3L415.4 216.3L415.4 223.2L418.6 223.2L418.6 230.1L421.7 230.1L421.7 236.9L424.8 236.9L424.8 243.8L427.9 243.8L429.2 251.3L427.9 261.5L420.4 264L420.4 270.6L418.8 270.6L418.8 277.3L417.1 277.3L417.1 283.9L415.4 283.9L415.4 292.3L412.9 292.3L412.9 300.6L410.4 300.6L410.4 308.9L408 308.9L408 317.2L405.5 317.2L405.5 325.5L403 325.5L403 333.9L400.5 333.9L393 343.9L393 352.2L390.5 352.2L390.5 360.5L388 360.5L388 368.8L385.5 368.8L385.5 377.1L383 377.1L383 385.5L380.5 385.5L380.5 393.8L378 393.8L378 402.1L375.5 402.1L375.5 410.4L373 410.4L373 418.8L370.5 418.8L370.5 427.1L368 427.1L368 435.4L365.5 435.4L365.5 443.7L363 443.7L363 451.2L359.3 451.2L359.3 458.7L355.5 458.7L355.5 476.2L349.3 478.7L349.3 484.9L346.2 484.9L346.2 491.2L343 491.2L340.5 508.6L333.1 507.4L333.1 503.6L325.6 503.6L325.6 499.9L318.1 499.9L305.6 498.6L305.6 496.1L298.1 496.1L298.1 493.7L290.6 493.7L280.6 486.2L268.1 486.2L258.2 484.9L250.7 478.7L235.7 477.4L230.7 472.4L210.7 471.2L210.7 463.7L210.7 455L208.2 455L208.2 446.2L205.7 446.2L197 436.2L195.7 428.7L195.7 422.5L189.5 422.5L189.5 416.3L183.3 416.3L180.8 408.8L180.8 401.3L175.8 401.3L175.8 393.8L170.8 393.8L170.8 387.5L164.5 387.5L164.5 381.3L158.3 381.3L155.8 373.8L145.8 363.8L145.8 356.3L138.9 356.3L138.9 348.8L132.1 348.8L130.8 338.9L130.8 331.4L124 331.4L124 323.9L117.1 323.9L117.1 313.9L109.6 310.2L58.9 306.3L58.9 299.2L56.6 299.2L56.6 292L54.3 292L54.3 284.9L52 284.9L52 277.8L49.6 277.8L49.6 270.7L47.3 270.7L47.3 263.5L45 263.5L45 256.4L42.7 256.4L42.7 249.3L40.4 249.3L40.4 242.2L38.1 242.2L38.1 235L35.8 235L35.8 227.9L33.5 227.9L33.5 220.8L31.1 220.8L31.1 213.7L28.8 213.7L28.8 206.5L26.5 206.5L26.5 199.4L24.2 199.4L24.2 192.3L21.9 192.3L21.9 177.3L21.9 175L29.1 175L29.1 172.8L36.4 172.8L36.4 170.5L43.6 170.5L43.6 168.3L50.9 168.3L50.9 156.3L50.9 153.6L57.8 153.6L57.8 151L64.6 151L64.6 148.3L71.5 148.3L71.5 145.7L78.3 145.7L78.3 143L85.2 143L85.2 140.4L92 140.4L92 137.7Z"/></clipPath><g clip-path="url(#cE)"><rect x="13.9" y="101" width="423.3" height="415.7" fill="#0000bf"/><path d="M13.9 101L439.9 101L439.9 518L13.9 518ZM367.9 125.7L365.9 128L367.9 131.8L370.9 134.1L375.1 134L377.4 131L376.7 128L370.9 125.2Z" fill="#0000cf"/><path d="M13.9 101L439.9 101L439.9 518L13.9 518ZM355.9 109.7L354.7 113L355.3 116L358.9 118.5L361.6 113L361.3 110L358.9 108.3ZM385.9 114.9L373.9 119.9L361.9 122.2L360.7 125L360.9 128L365.6 137L365.3 140L362.2 146L364.9 152L367.9 154.1L370.9 154.4L373.9 152L379.7 146L388.2 140L392.4 134L394.8 125L393.9 119L391.8 116L388.9 114.7Z" fill="#0000df"/><path d="M13.9 101L355 101L351.1 113L351.4 116L360.5 137L358 146L358.9 151.5L361.9 161.2L364.9 167.3L370.5 173L373.9 174L382.9 171.6L385.9 170L388.4 167L393.2 155L410.9 131L426.9 107L429.9 101L439.9 101L439.9 518L13.9 518Z" fill="#0000ef"/><path d="M13.9 101L349.2 101L348.5 116L354.7 137L354.3 146L356.3 164L358.4 170L361.9 174.9L367.3 179L370.9 180.2L376.9 179.4L388.9 172.8L409.9 148.5L433.9 124.3L439.9 119.9L439.9 518L13.9 518Z" fill="#0000ff"/><path d="M13.9 101L344 101L345.2 116L349.4 137L351.2 164L352.4 170L355.2 176L357.9 179L362.7 182L370.9 184.2L376.9 183L393.5 173L415.9 153.5L433.9 139.4L439.9 136L439.9 518L13.9 518Z" fill="#0010ff"/><path d="M13.9 101L338.3 101L344.5 134L347 167L349 176L352.9 182L355.9 183.9L367.9 186.9L373.9 186.7L378.6 185L433.9 150.2L439.9 147.5L439.9 518L13.9 518Z" fill="#0020ff"/><path d="M13.9 101L332.3 101L339.8 131L342 149L342.9 170L344.4 179L347.1 185L349.9 187.4L355.9 189L367.9 189.7L376.9 188.2L391.9 179.5L439.9 156.7L439.9 518L13.9 518Z" fill="#0030ff"/><path d="M13.9 101L326 101L331.9 116.7L335.6 131L338.1 149L339.8 182L341 188L343.9 193L346.9 194L373.9 191.3L379.9 189L394.9 180.6L439.9 164.6L439.9 518L13.9 518Z" fill="#0040ff"/><path d="M13.9 101L319.3 101L326.7 116L331.5 131L334.6 152L335.9 191L337.7 197L340.9 200L343.9 200.3L355.9 196.5L373.9 193.5L379.9 191.3L388.9 185.6L394.9 183L439.9 171.6L439.9 518L13.9 518Z" fill="#0050ff"/><path d="M13.9 101L312.1 101L322.9 118.4L328.3 134L331.4 155L331.2 191L332.5 197L334 200L337.1 203L343.9 204L358.9 198.6L376.9 194.8L394.9 185.4L439.9 178.1L439.9 518L13.9 518Z" fill="#0060ff"/><path d="M13.9 101L303.8 101L318.2 119L324.6 134L327.3 146L328.1 155L327.3 194L328.9 200.1L330.7 203L334.5 206L340.9 207.3L346.9 206.1L358.9 201.2L379.9 195.9L394.9 188L418.9 186.9L439.9 184.3L439.9 518L13.9 518Z" fill="#0070ff"/><path d="M13.9 101L294.2 101L312.8 119L316.9 125L321 134L323.5 143L325 155L325 167L323.1 188L323.3 197L325.9 204.2L331.3 209L337.9 210.4L343.9 209.7L361.9 202.7L379.9 198.3L394.9 191.1L418.9 191.8L439.9 190.3L439.9 518L13.9 518Z" fill="#0080ff"/><path d="M13.9 101L282.9 101L285.6 104L301.9 115L307.9 120.1L313.9 127.3L318.7 137L321.1 146L322.2 158L321.8 170L319.1 191L319.1 200L320.8 206L325.9 211.6L331.9 213.6L340.9 213.1L361.9 205L379.9 200.7L394.9 195.2L421.9 196.9L439.9 196.2L439.9 518L13.9 518Z" fill="#008fff"/><path d="M13.9 101L271.1 101L273.6 104L277.9 107L295.9 116.6L304.9 123L310.9 129.3L315.4 137L318.8 149L319.4 161L314.3 203L315.5 209L319.9 215L322.9 216.6L328.9 217.8L337.9 216.9L361.9 207.2L394.9 199.7L421.9 202.4L439.9 202L439.9 518L13.9 518Z" fill="#009fff"/><path d="M13.9 101L260.7 101L262.9 104.2L270.9 110L292.9 119.9L301.9 125.4L307.9 131L313.6 140L316.5 152L316.4 167L312.5 182L308.5 203L308.3 209L310.9 216.9L315.7 221L322.9 222.7L331.9 221.9L340.9 219.1L364.9 208.4L388.9 204.6L397.9 204.5L418.9 208L439.9 207.7L439.9 518L13.9 518Z" fill="#00afff"/><path d="M13.9 101L179.5 101L179.4 107L180.7 110L181.9 111L184.9 111.3L187 110L188.7 107L189.7 101L252.2 101L256.7 107L264.9 113L289.9 122.9L298.9 127.6L307.9 135.5L312 143L314 152L313.8 167L312.1 173L308.4 179L307.2 191L301.7 203L299.7 212L300.2 218L301.5 221L304.9 224.4L313.9 227.7L325.9 227.5L337.9 223.6L361.9 211.6L376.9 208.5L394.9 208.8L418.9 214L439.9 213.2L439.9 518L13.9 518Z" fill="#00bfff"/><path d="M13.9 101L173.5 101L174.6 107L177.8 113L181.9 115.5L184.9 115.7L190.9 112.3L194.4 107L196.7 101L245 101L250.9 108.6L259.9 115.7L266.7 119L286.9 125.5L295.9 129.4L304.9 136.2L309.4 143L311.8 152L311.2 167L308.4 173L303.7 176L301.4 179L303.6 185L303.7 188L301.9 191.9L294.7 200L291.5 206L288.9 221L289.2 224L291.7 227L298.4 230L307.9 232.4L322.9 232.5L334.9 228.4L361.9 213.9L367.9 212.2L376.9 211.1L391.9 212.5L415.9 219.7L439.9 218.4L439.9 518L13.9 518Z" fill="#00cfff"/><path d="M13.9 101L168.8 101L171.9 110L175.9 115.3L178.9 117.5L184.9 118.7L190.9 116.7L193.9 114.1L202.5 101L238.4 101L247.9 111.8L257.8 119L273.1 125L289.9 129.7L298.9 134.6L304.9 140L306.8 143L309.7 152L310 158L308.8 167L307.4 170L298.9 177.2L297.6 188L292.9 192.6L281.2 200L278.2 203L281.4 209L280.9 215L277.9 218.6L274.9 219.7L271.9 218.4L270.4 215L270.5 212L274.5 203L265.9 200.6L259.9 201.9L254.8 206L253.5 212L256.2 218L259.9 221.5L286.7 233L304.9 236.2L313.9 236.7L322.9 236.1L331.9 233.3L358.3 218L364.9 215.3L370.9 214.2L379.9 214L385.9 215L415.9 225.1L439.9 223.3L439.9 518L13.9 518Z" fill="#00dfff"/><path d="M13.9 101L164.1 101L168.1 110L172.9 116.4L178.9 120.5L184.9 121.5L190.9 120L196.5 116L208.5 101L231.7 101L243.4 113L256.7 122L273.5 128L286.9 131.4L295.9 135.5L301.9 140.1L304.9 144L307 149L308.1 158L306.6 167L304.4 170L297.4 176L293.8 185L291.5 188L283.9 192.8L259.9 198L253.9 201.4L250.9 205.2L249.8 212L250.9 216.2L253.9 221.2L259.9 226.3L273.6 233L283.9 236.2L304.9 239.3L316.9 239.6L323.6 239L331.9 236.4L357.7 221L364.9 218L370.9 217L382.9 217.9L407 227L415.9 229.4L439.9 228L439.9 518L13.9 518Z" fill="#00efff"/><path d="M13.9 101L159.3 101L163.9 110L171.4 119L178.9 123.5L184.9 124.3L190.9 123L196.9 119.5L208.9 107L214.9 102.5L217.9 101.3L223.9 101.9L229.9 105.9L241.4 116L253.9 123.5L265.3 128L286.9 133.8L295.9 138.1L301.9 143.3L305.9 152L306.2 161L304.5 167L295.6 176L289.9 185.2L280.9 190.5L256.9 196.5L251.6 200L249.1 203L247 209L247.9 215.9L252.9 224L259.9 229.3L271.9 235.2L283.9 239L313.9 242.1L322.9 241.7L331.9 239.2L355.9 224.7L364.9 221L370.9 220.1L382.9 221.6L404.4 230L412.9 232.3L439.9 232.4L439.9 518L13.9 518Z" fill="#00ffff"/><path d="M13.9 101L154.2 101L159.4 110L169.9 121.6L175.9 125.4L184.9 127.2L190.9 126L196.9 123L210.6 110L214.9 107.2L220.9 106L223.9 106.8L229.1 110L239.9 119L251.3 125L262.9 129.6L283.9 135.1L292.9 138.7L298.9 143L301.9 146.7L304.2 152L304.7 161L302.6 167L286.9 184.7L277.9 189L256.9 194.3L250.9 197.8L246.4 203L244.6 209L246.2 218L250 224L256.9 230.1L268.9 236.4L280.9 240.5L289.9 242.3L313.9 244.3L322.9 244.1L331.9 241.9L337.9 239L355.9 227.5L364.9 224.3L370.9 223.6L379.9 224.7L409.9 235.1L415.9 235.8L427.9 235.3L439.9 236.7L439.9 518L13.9 518Z" fill="#10ffef"/><path d="M13.9 101L148.7 101L154.4 110L166.9 123L174.2 128L181.9 130.2L187.9 129.8L193.9 127.9L202.9 122L214.9 111L217.9 109.8L222.1 110L226.9 112.8L233.2 119L252.2 128L265.9 132.8L286.9 138.2L292.9 140.9L298.9 145.7L302.5 152L303.5 158L302.5 164L300.9 167L286.9 182.1L277.9 186.9L260.9 191L253.9 193.6L247.9 197.7L243.9 203L242.3 209L243.8 218L250 227L256.9 232.4L268.9 238.6L280.9 242.7L289.9 244.4L313.9 246.4L322.9 246.4L331.9 244.5L337.9 241.9L355.9 230.3L367.9 227.3L379.9 228.7L406.9 237.9L412.9 238.7L427.9 238.6L439.9 241.3L439.9 518L13.9 518Z" fill="#20ffdf"/><path d="M13.9 101L142.8 101L148.8 110L166.9 127.1L172.9 131L181.9 133.4L187.9 133.1L196.9 129.7L204.1 125L214.9 115.5L217.9 113.8L220.9 113.7L232.9 122.8L259.9 133.1L289.9 141.4L295.9 145.2L298.9 148.5L301.7 155L301.9 161L299.4 167L286.9 179.8L277.9 184.8L253.9 191.6L245.7 197L241.9 202.2L240 209L240.5 215L241.9 219L247.3 227L256.9 234.5L271.9 241.9L283.9 245.5L322.9 248.6L331.9 247.1L337.9 244.7L355.9 233L361.9 231.4L370.9 231L379.9 232.8L403.9 240.9L412.9 242.1L426.9 242L439.9 246.3L439.9 518L13.9 518Z" fill="#30ffcf"/><path d="M13.9 101L136.7 101L140 107L145.9 113.4L166.9 131.4L175.9 136L181.9 137L190.9 135.7L199.9 131.5L214.9 121.3L217.9 119.8L220.9 119.9L229.6 125L256.9 134.3L286.9 142.2L294 146L299.1 152L300.3 155L300.6 161L297.9 167L286.9 177.8L280.9 181.7L256.9 188.7L247.9 192.8L242.7 197L239 203L237.7 209L239.1 218L244.6 227L251.4 233L261.2 239L271.9 243.9L280.9 246.9L289.9 248.5L319.9 250.9L328.9 250.4L340.9 246.1L355.9 235.9L364.9 234.5L376.9 236.1L403.9 244.8L412.9 245.8L424.9 245.7L439.9 252.3L439.9 518L13.9 518ZM250.9 427.8L247.9 428.1L244.9 430.2L241.9 433.8L240.6 437L240.5 440L241.7 443L244.9 445.4L247.9 446.1L250.9 445.4L253.7 443L255.3 440L255.9 434L253.9 429.8Z" fill="#40ffbf"/><path d="M13.9 101L130.3 101L133.9 107.5L142.9 117.1L154.9 125.6L166.9 135.9L175.9 140.1L181.9 141.1L190.9 139.6L214.9 126.7L220.9 125.8L241.9 131.4L265.9 139.3L286.9 144.2L294.9 149L298.8 155L299.4 161L296.5 167L286.9 175.9L280.9 179.8L256.9 186.9L247.1 191L239.7 197L236.3 203L235.3 209L236.7 218L241.9 226.9L248.4 233L256.9 238.6L268.9 244.7L277.9 248L286.9 250.1L319.9 253.1L328.9 253L340.9 249.4L355.9 239.2L364.9 238.2L376.9 240.5L403.9 249L424.9 251.2L439.9 259.7L439.9 518L13.9 518ZM244.9 421.7L238.9 433.2L237.6 440L238.9 444.7L241.9 448.7L247.9 452.4L250.9 452.8L253.9 451.9L256.9 449.3L259.9 445L262.8 437L262.8 431L260.1 425L253.9 420.2L247.9 419.3Z" fill="#50ffaf"/><path d="M13.9 101L124 101L129.2 110L139.9 121.3L151.9 129L165.5 140L175.9 144.8L184.9 145.5L190.9 144L211.9 132.4L220.9 130.1L238.9 133.1L265.9 141.5L286.9 146.1L292.9 149.3L297.3 155L298.1 161L295.1 167L286.9 174.2L280.9 178L274.9 180.4L253.9 186.1L244.9 190L239.3 194L234.7 200L232.7 209L234.1 218L239.2 227L245.4 233L259.9 242.3L277.9 250.1L286.9 252.2L304.9 253.1L322.9 255.7L331.9 255.4L337.9 254L343.9 251.4L355.9 243.7L358.9 242.7L367.9 243L400.9 252.8L421.9 256.8L428.1 260L439.9 269.2L439.9 518L13.9 518ZM244.9 414.9L241.9 418.4L236.3 434L235.7 443L238.9 450.5L241.9 454.3L247.9 458.9L250.9 459.9L253.9 459.6L256.9 457.8L259.9 454.3L265.9 444.2L269.1 434L268.9 428L265.8 422L258 416L250.9 414Z" fill="#60ff9f"/><path d="M13.9 101L117.7 101L124.9 113.1L136.9 126.3L151.9 135.4L166.9 146.3L178.9 150.9L184.9 151.1L190.9 149.5L211.9 136.6L217.9 134.5L223.9 133.8L238.9 135.6L265.9 143.8L286.9 148L293.4 152L296.8 158L295.9 164L292.9 167.7L283.9 174.5L277.9 177.5L253.9 184.3L244.2 188L235.5 194L231.4 200L230 209L231.4 218L236.2 227L242.4 233L250.9 239L262.9 245.8L274.9 251.2L283.9 253.8L304.9 255L322.9 258.3L331.9 258.5L343.9 255.3L358.9 248.1L364.9 247.7L376.9 250.1L415.9 261.4L421.9 263.9L428.5 269L439.9 284L439.9 518L13.9 518ZM244.9 411.4L241.9 413.2L238.9 418.4L233.7 437L233.6 443L235.9 451.3L241.9 460.4L247.9 464.6L253.9 465.3L256.9 464.1L260.3 461L268.4 449L273.8 437L275.3 428L274.6 425L270.7 419L262.9 412.9L253.9 410.3Z" fill="#70ff8f"/><path d="M13.9 101L111.4 101L114.3 107L120.6 116L133.9 131.8L148.9 139.8L169.9 154.1L175.9 156.9L181.9 158.4L190.9 156.9L208.9 142.9L214.9 139.6L223.9 137.1L238.9 138L265.9 146.2L286.9 150L292.9 153.7L295.4 158L295.6 161L294.5 164L289.9 168.7L277.3 176L241.9 186.7L234.4 191L229.1 197L227.1 203L227.8 215L231 224L235.7 230L244.9 237.3L259.9 246.3L271.9 252.1L283.9 256.1L289.9 256.9L304.9 256.8L322.9 261.2L331.9 261.8L340.9 260.3L358.9 254L367.9 253.6L379.9 256.1L410.3 266L417.4 269L421.7 272L426.2 278L428.6 284L430.6 293L433.9 321.5L436.9 331.8L439.9 336.9L439.9 518L13.9 518ZM250.9 406.9L244.9 408.6L238.9 413.1L236.3 419L231.6 440L232.9 451.2L237 461L242.6 467L247.9 469.5L250.9 469.8L256.9 468.4L259.9 466.5L267.2 458L277.5 440L280.6 428L280.3 425L277.5 419L268.9 410.7L259.9 406.7Z" fill="#80ff80"/><path d="M13.9 101L105.2 101L108.1 107L115.9 118.2L130.9 136.8L145.9 143.8L175.9 165.7L187.9 171.6L190.9 171.6L193.9 169.1L203.6 155L212.4 146L217.9 142.6L226.9 140L232.9 139.7L241.9 141.1L265.9 148.7L283.9 151.1L291.7 155L293.8 158L294.1 161L293 164L289.9 167.2L283.9 171L271.9 176L241.9 184.2L228.7 191L224.2 197L223.1 203L226.1 221L232 230L239.4 236L262.9 250.1L280.9 257.8L289.9 259.4L304.9 258.8L322.9 264.4L331.9 265.4L340.9 264.4L358.9 259.8L370.9 259.6L379.9 261.5L393 266L409.9 273.4L416.2 278L418.8 284L419.6 293L416.7 317L421.9 341.8L425.1 353L428.9 362L434.7 371L439.9 375.8L439.9 518L13.9 518ZM232.9 307.9L231.6 311L232.9 315.2L235.9 316.5L238.9 315.4L240.8 311L239.7 308L235.9 306.5ZM250.9 403.6L241.9 407.6L236.5 413L234.1 419L229.7 440L230.7 455L233.9 464L238.9 470.3L243.4 473L247.9 474.2L253.9 473.6L259.9 470.7L269.4 461L280.7 443L284.1 434L285 428L284.2 422L281.3 416L277.9 411.7L272.3 407L265.9 403.2L259.9 401.4Z" fill="#8fff70"/><path d="M13.9 101L99 101L102 107L110.3 119L124.9 137.1L130.9 141.7L140.1 146L148.9 151.6L178.9 180L184.9 183.9L190.9 185.8L196.9 185.3L201.7 182L204.2 176L206.6 164L210.8 155L217.9 147.5L226.9 143.1L232.9 142.4L238.9 143L250.5 146L265.9 151.4L283.9 153.3L289.9 155.8L291.8 158L292.5 161L291 164L282.2 170L271.9 173.9L230.9 185L223.8 188L219.6 191L217.8 194L217.1 200L223.1 224L227.5 230L239.9 239L262.9 252.5L280.9 260.5L289.9 262.2L304.9 261L310.9 262.7L322.9 268.2L331.9 269.5L340.9 268.9L361.9 265.1L373.9 265.7L382.9 268.1L392.1 272L397.9 275.4L404.6 281L406.6 284L408.4 290L408 299L404.5 314L411 365L413.3 371L418.9 380L433.9 396.3L439.9 400.9L439.9 518L13.9 518ZM232.9 301.6L229.9 304.2L227.5 308L226.9 314.3L230 320L232.9 321.9L238.9 322.2L241.9 320.7L245 317L246.2 314L246.5 308L244.9 304.1L241.9 301.2L238.9 300.2ZM256.9 376L255 377L253.1 380L256.3 392L255.3 395L249.2 401L238.9 407.2L234.1 413L232 419L227.8 440L227.4 455L230.3 467L235.9 474.8L238.9 477L244.9 479.1L250.9 479L256.9 476.9L262.9 472.8L268.8 467L276.2 458L283.8 446L287.6 437L288.8 431L288.5 422L286.7 416L283.9 411L277.9 404.9L267.8 398L261.4 392L261 389L262.1 386L266 380L266.7 377L265.9 375.8L262.9 374.7Z" fill="#9fff60"/><path d="M13.9 101L92.7 101L100 113L116 134L126 143L139.9 151L148.7 158L157.1 167L172.9 187.1L184.9 195.1L202.9 202.6L211.9 209.3L214.9 213.8L216.8 224L218.3 227L224.7 233L262.9 255.1L274.9 261.2L283.9 264.6L292.9 265.6L304.9 263.7L310.3 266L319.9 271.9L328.9 273.9L340.9 273.7L361.9 270.9L373.9 271.6L384.6 275L393.3 281L397.5 287L399.2 293L397.9 314L399 344L397.4 365L399.6 377L402.1 383L406.4 389L436.9 421.3L439.9 423.4L439.9 518L13.9 518ZM232.9 295.8L226.9 301.5L224.7 305L222.8 311L223.3 317L226.4 323L229.9 326.2L232.9 327.7L238.9 328.3L244.9 325.6L249.2 320L251.9 311L251.8 305L249.2 299L244.9 294.8L238.9 293.5ZM253.9 370.7L250.9 372.4L247.9 377L247.9 383L249.8 392L249.4 395L247.6 398L235.9 407.1L230.5 416L226.1 437L223.9 455L225 467L228.8 476L235.9 482.8L244.9 485.7L253.9 484L259.9 480.3L276.2 464L288.5 446L291.1 440L292.9 431L292.3 419L287.7 407L283.9 402.6L271.9 394.3L268.4 389L268.6 386L272.4 377L271.8 374L269.2 371L265.9 369.7ZM229 146L238.9 145.7L250.9 148.7L265.9 154.3L283.9 155.9L288.8 158L290.2 161L288.4 164L283.9 167L267.4 173L235.9 180.1L226.9 180.8L220.9 179.8L217.9 178.1L214.8 173L213.9 167L214.7 161L219.5 152L223.9 148.3Z" fill="#afff50"/><path d="M13.9 101L86.4 101L89.6 107L109.9 134.2L121.9 144.8L136.9 155L146.7 164L154.9 174.6L164.9 191L190 212L194.8 218L202.1 233L205.9 235.6L220.9 237.1L229.9 240.1L241.9 245.9L274.9 265L286.9 269.7L292.9 270.9L304.9 268.9L313.9 276L325.9 279L337.9 279.1L361.9 276.7L370.9 277.1L379.9 279.5L386.4 284L388.9 287L391.5 293L392.6 308L392.5 335L389.7 365L389.4 386L394.9 394.7L419.6 422L439.9 449.9L439.9 518L13.9 518ZM235.9 286.8L229.9 291.8L222.2 302L219.2 311L219.4 317L221.4 323L226.9 330.2L232.9 333.4L241.9 334.4L247.9 331.5L251.9 326L257.1 311L257.4 302L253.9 293.1L247.9 287L241.9 284.8ZM253.9 364.7L250.9 365.7L247.9 368.1L244.4 374L243.7 380L245.4 392L244.8 395L232.9 406.9L229.2 413L219.5 455L219.6 470L221.2 476L223.9 481.5L226.9 485.6L232.9 490.6L241.9 493.9L250.9 493.3L256.9 490.4L282 464L293.6 446L295.7 440L297.1 431L296.3 416L292.9 403.4L289.2 398L275.2 389L274.5 386L277.1 377L275.1 371L268.9 366.1ZM231.5 149L235.9 148.5L244.9 149.8L252.4 152L265.9 157.8L280.9 159.4L285.3 161L283 164L276.5 167L257.8 173L242.7 176L231 176L226.9 174.2L223.9 171.3L221.3 164L222.1 158L223.5 155L226.9 151.4Z" fill="#bfff40"/><path d="M13.9 101L80 101L83.4 107L106.9 138L125.1 155L133.2 164L145.9 174.4L151.9 181.9L159.3 194L178 212L183.8 221L190 236L193.9 241L196.9 243.3L200.5 245L205.9 245.8L220.9 243.4L230.8 245L241.9 250.2L274.9 271L292.9 278.9L310.9 283L325.9 284.8L364.9 282.6L373.9 284.2L379.9 287.5L382.9 290.9L385.2 296L387.5 308L388.2 317L387.4 335L381.6 383L381.6 389L385.9 398L413.1 434L424.3 455L429.8 470L433.4 485L435.7 500L436.9 518L13.9 518ZM241.9 274.3L238.9 275.5L235.9 278.4L220.9 297.2L217 305L215.6 314L218.4 326L223.9 333.8L230.9 338L244.9 342.7L247.9 343L250.9 341.2L253 338L256.9 328.6L262.9 308L263.6 299L261.7 290L258.1 284L247.9 275.9ZM250.9 353.9L244.9 362L240.6 371L239.6 377L240.2 392L239.2 395L227.7 410L225.4 416L223.4 428L218.6 443L212.1 452L211 455L213.1 476L216 485L219.4 491L223.9 496.4L229.9 501.3L235.9 504.4L244.9 506.4L250.9 506.1L256.9 504.4L262.9 500.6L266.2 497L274.7 482L288.1 467L295.1 455L299.8 443L301.3 431L299.9 407L298.2 398L295.9 392.7L286.9 384.8L280.6 371L275.4 365L253.9 353.6ZM231 155L235.9 152.7L247.9 153.6L257.3 158L264 164L262.3 167L256.7 170L250.9 171.7L241.9 172.6L235.9 171.8L232.3 170L228.6 164L229 158Z" fill="#cfff30"/><path d="M13.9 101L73.4 101L77 107L112.3 152L115.2 158L116.4 170L118.9 175.7L121.9 176.9L130.9 177.1L136.9 178.3L145.9 184.2L155.8 197L172.3 215L177.5 224L184.3 239L189.4 245L193.9 248.1L202.9 250.6L220.9 249.4L229.9 250.8L236.2 254L241.1 260L241 263L217.3 296L214.3 302L212.4 311L213.8 323L217.9 334L223.9 339.5L235.9 345.5L239.7 350L240.2 356L234.7 374L233.9 392L224.3 410L217.5 434L214.2 440L204.7 449L202.9 452L201.8 458L204.2 479L207.6 491L214.9 504L227.3 518L13.9 518ZM239.6 158L244.9 157L249.4 158L253.3 161L254.3 164L251.8 167L247.9 168.2L240.1 167L237.3 164L237 161ZM276.3 287L280.9 285.3L286.9 285.4L328.9 291L355.9 288.2L364.9 288.5L373.9 291.8L376.9 294.4L379.9 298.9L383.5 311L384.1 323L376.5 383L376.5 392L381.3 404L404.5 443L412.3 464L414.5 476L415.1 491L413.8 503L410.6 518L334 518L335.5 500L334.8 494L331.9 488L325.9 484.4L310.9 480.8L304.9 476.2L302.9 473L301.5 464L304.9 442.6L305.8 425L305.1 404L302.9 392L298.9 384.9L285.1 368L264.8 350L261.2 341L261.7 332L264.4 320L271.9 294.3L273.7 290Z" fill="#dfff20"/><path d="M13.9 101L66.6 101L68.1 104L88.9 129.6L105.4 152L108.5 158L113.9 176L118.9 180.3L136.9 184.8L145.9 191.4L166.1 215L171.4 224L178.9 240.9L184.7 248L190.9 252.1L196.2 254L220.9 255.1L225.9 257L229.1 260L230.4 266L228.9 272L225.9 278L214.9 293L211.6 299L209.8 305L209.4 314L211.9 330L214.9 338L220.9 343.6L229.9 347.5L232.9 349.9L234.1 353L234 356L228.8 371L227.4 392L219.6 413L215.1 428L211.6 434L197.7 449L195.2 455L193.7 464L194.1 479L196.1 491L199.9 502.8L206.8 518L13.9 518ZM289.5 293L304.9 292.7L328.9 298L352.9 293.7L361.9 293.8L370.9 297.2L373.9 299.9L377.2 305L380 314L380.5 323L375.2 356L371.6 386L371.6 395L376.2 410L395.3 452L398.3 464L399 473L397.7 485L394.7 494L388.9 502.9L379.9 510L373.9 511.9L367.9 512.1L361.9 510.5L355.9 507.1L349.9 501.7L336.7 485L331.9 480.7L319.9 472.6L312.7 464L310.8 458L310.2 452L310.5 401L307.9 386.7L304.5 380L299.7 374L272.8 350L268.8 344L267.1 338L266.9 332L268.3 323L274.9 305.6L280.9 297L283.9 294.9Z" fill="#efff10"/><path d="M13.9 101L59.5 101L63.6 107L85.9 133L97.8 149L103.2 158L109 173L112.5 179L118.9 183.6L133.9 188.4L139.9 191.8L158.6 212L166.3 224L173.5 242L178.9 249.3L187.9 256.1L193.9 258.2L217.9 259.7L223 263L224.6 266L224.9 269L223.4 275L208.9 295.8L206.7 302L206.1 308L210.1 338L214.9 346.2L222.1 353L223.6 356L220.2 371L221.2 386L220.7 395L214.9 414.6L210.8 425L206.5 431L192.1 446L188.7 452L185.7 461L184 473L184.2 488L186 500L190.7 518L13.9 518ZM292.8 299L301.9 297.7L307.9 298.5L328.9 308L331.9 307.6L343 302L349.9 299.7L355.9 298.8L361.9 299.2L367.9 301.6L370.9 304.1L375.2 311L376.7 317L376.6 326L370.6 353L369 374L365.8 392L365.7 398L369.2 413L383 452L385.4 467L384.2 476L381.8 482L376.9 488.2L370.9 492L361.9 493.4L355.9 492.1L349.9 489.2L340.9 482.2L327.9 470L322.8 464L319.3 458L316.6 449L315.1 434L314.8 422L316.6 395L313.7 380L310.9 374L307.9 370.2L286.9 355.9L277.9 348.1L273.3 341L271.8 335L272.9 323L277.9 311.3L283.9 303.8Z" fill="#ffff00"/><path d="M13.9 101L52 101L53.8 104L76.9 129.1L90.5 146L98.4 158L105.6 173L109.9 179.8L115.9 185L136.9 194.5L142.9 199.6L153.9 212L161.8 224L169.5 245L173.9 251L181.9 257.6L187.9 261.2L196.9 263.5L214.9 263.7L218.7 266L220.3 269L219.3 275L209.4 287L205.9 292.9L203.6 299L202.8 305L206.6 338L211.3 353L208.5 368L214.5 389L214.2 401L210.6 413L206 422L185.3 443L181.4 449L177.3 458L174.2 470L172.7 485L173.2 500L175.8 518L13.9 518ZM295.1 305L301.9 303.8L307.9 305L322.9 315.4L328.9 317.8L334.9 315.9L346.9 306.8L355.9 304L364.9 305.5L368.3 308L372.3 314L373.4 320L372.9 326L365.5 350L364.3 377L359 392L358.1 398L359.3 407L365.9 437L372.1 455L373.3 464L372.5 470L369.7 476L367 479L361.9 482L355.9 482.9L349.9 481.7L341.1 476L331.9 464L324.2 449L320.9 437L319.4 425L320.2 416L324.2 398L324.4 389L321.8 374L318.4 365L313.9 361.5L295.9 355L286.9 349.9L280.5 344L277.1 338L276 329L277.4 323L280.2 317L286.9 309.2Z" fill="#ffef00"/><path d="M13.9 101L44 101L45.9 104L67.9 125.8L82.9 143L91.9 155L104 176L108.5 182L115.9 187.8L130.9 195.1L136.9 199L149.5 212L159.3 227L166 248L168 251L178.9 260L187.9 265.7L199.9 269.2L211.9 268.7L214.9 271.3L213.4 275L208.9 279.1L205.4 284L201.6 293L199.5 302L204 338L206.4 350L205.5 356L200.7 365L199.9 371L208.6 392L209.3 398L208.6 404L206.5 410L202.9 415.9L196.9 422.2L179.4 437L172.6 446L167.9 455L163.9 467L161.1 482L160.1 500L161.1 518L13.9 518ZM351.2 311L358.9 308.9L364.9 310.8L368 314L369.8 320L367.9 328.9L359.9 344L358 350L357.4 356L359.8 371L359.5 377L355.9 383.5L344.8 395L345.4 401L352.9 419L356 443L361.2 461L361.1 467L360 470L357.7 473L352.9 475.2L346.9 473.8L343.3 470L336.2 452L326.5 434L324.8 428L324.6 422L326.1 416L328.9 410.3L337.5 398L338.4 395L329.1 362L324.8 356L319.9 352.9L298.9 349.5L289.9 346.1L283.7 341L281.8 338L280.2 332L280.8 326L283.9 319.8L289.9 314.2L295.9 311.7L301.9 311.4L304.9 312.1L310.9 315.4L322.9 324.7L328.9 326.2L334.9 324.8L337.9 322.9Z" fill="#ffdf00"/><path d="M13.9 101L35.4 101L37.4 104L58.9 123.4L82.9 149.3L100.8 176L106.9 183.7L112.9 188.8L133.9 201L147.8 215L157 230L162.3 248L166 254L181.6 266L196.3 275L198.7 278L199.3 284L196.5 299L196.5 305L200.5 326L203.3 350L201.7 356L194.8 368L192.8 377L194.9 383L202.9 394.8L203.7 398L203.2 404L199.9 409.9L196.9 412.8L178.9 424L170.8 431L163.9 439.7L158.6 449L152.7 464L149.1 479L146.7 497L146.2 518L13.9 518ZM353.3 317L358.9 314.2L361.9 314.7L364.7 317L365.6 320L364.9 323.8L361.9 328.2L358.9 330.7L352.9 333.4L349.9 333L348.3 329L349.5 323ZM291.8 320L298.9 318.7L303 320L307.3 323L310 326L313 332L313.2 335L311.9 338L307.9 341L298.9 342.9L292.9 341.9L287 338L285.2 335L284.5 329L286.9 323.7ZM334 419L337.9 418.4L341.4 422L341.5 428L337.9 431.1L334.9 430.5L331.9 427.7L331.4 422Z" fill="#ffcf00"/><path d="M13.9 101L25.8 101L28.1 104L49.9 121.8L67.9 138.6L82.9 155.5L104.8 185L112.9 191.7L131.2 203L142.9 214L148.9 221.7L153.7 230L160.5 251L162.3 254L168.4 260L189.1 275L193.5 281L194.5 287L193.6 305L198.8 329L200.7 350L198.6 356L190.9 366.8L184.9 372.3L176.2 377L174 380L173.5 383L175.7 389L178.9 392.1L193.9 397.4L195.5 401L193.4 404L178.9 406.4L169.9 411.7L160.9 421.2L151.9 434.8L143.8 452L137.2 473L133.1 494L131 518L13.9 518ZM289.9 329L292.9 326.5L295.9 326.3L299.5 329L300 332L297.7 335L292.9 335.5L289.9 332.7Z" fill="#ffbf00"/><path d="M13.9 104L13.9 101.7L16.9 103.7L40.9 121L55.9 133.3L76.9 154.1L96.2 179L103.9 187.5L112.1 194L127.9 204.3L136.9 212L144.7 221L150.4 230L157.9 251L160.9 256.3L166.9 262.3L184 275L187 278L190.2 284L190.8 305L197.2 332L198.8 344L198.4 350L193.9 358.5L184.9 366.4L178.9 368L166.9 367L160.9 367.8L156.6 371L154.7 374L152 383L147.6 407L131.9 446L124 470L118.5 494L115.2 518L13.9 518Z" fill="#ffaf00"/><path d="M13.9 113L13.9 110.5L19.9 113.2L37.9 125.3L55.9 139.2L73.9 156.3L100.9 188L109.9 195.4L127.9 207.9L135.6 215L147.2 230L158.6 257L163.9 263.3L182.9 278L185.1 281L187.4 287L188 305L195.8 335L196.9 344L196.2 350L190.9 358.4L184.9 362.5L181.9 363.5L175.9 363.5L163.9 360.3L154.9 359.3L148.6 362L143.4 368L139.2 377L129.1 413L109.5 470L102.6 497L98.8 518L13.9 518Z" fill="#ff9f00"/><path d="M13.9 119L13.9 117.7L16.9 118.7L25.9 123.8L40.9 133.5L55.9 144.8L73.9 161.6L97.4 188L106.9 196.1L127.9 211.6L139.8 224L147.4 236L154.5 254L157.9 260L163.9 266.9L178.9 277.7L183.3 284L184.8 290L185.5 308L194.5 338L195.1 344L194.1 350L190.9 355.1L184.9 359.4L181.9 360.2L175.9 359.8L157.9 353.8L148.9 353.2L139.9 356.8L132.4 365L125.5 380L95.4 467L86.4 497L81.7 518L13.9 518Z" fill="#ff8f00"/><path d="M13.9 125L19.9 126.9L34.9 135.6L58.9 152.6L70.9 163.6L96.9 191L124.1 212L136.9 224.9L144.5 236L153.6 257L157.9 264.1L163.9 270.6L175.9 278.3L180.4 284L182 290L181.6 302L182.3 308L190.9 331.2L193 341L192.8 347L190.9 351.6L187.9 354.8L181.9 357.2L175.9 356.5L154.9 347.7L145.9 346L139.9 346.2L133.9 347.9L130.8 350L125.4 356L120.1 365L114.6 377L83.1 458L70.4 494L63.6 518L13.9 518Z" fill="#ff8000"/><path d="M13.9 134L13.9 131.2L22.9 134.9L40.9 145L55.9 155.3L70.9 168.4L93.1 191L119.9 212L133.9 225.7L142.9 238.2L151.9 258.3L157.9 268.4L163.9 274.3L172.9 279L177.5 284L179.3 290L178.1 302L178.9 308L187.9 329.4L191.1 341L190.7 347L187.9 351.6L184.9 353.6L178.9 354L169.9 350.3L154.9 341.6L139.3 335L133.9 331.7L130.9 331.2L127.9 333.2L115.9 351.3L103 377L62.1 470L49.1 503L44.3 518L13.9 518Z" fill="#ff7000"/><path d="M13.9 140L13.9 137.7L25.9 142.4L40.9 150.4L55.9 160.3L67.9 170.2L92.6 194L119.4 215L131.3 227L142.1 242L150.4 260L157.9 273.2L160.9 276.3L172.9 282.1L175.9 286.4L176.7 290L174.1 302L174.4 305L185.1 329L188.7 341L188 347L185.4 350L181.9 351.1L178.9 350.6L166.5 344L133.9 318.7L130.9 318L127.9 318.7L122.6 323L116.4 332L99.3 362L60.7 437L35.9 488L23.4 518L13.9 518Z" fill="#ff6000"/><path d="M13.9 146L13.9 144L16.9 144.7L28.9 149.6L43.9 157.2L55.9 165L67.9 174.8L88.9 194.3L115.4 215L127.9 227.4L139.9 243.2L157.9 278.4L160.9 281L169.9 283L173.5 287L173.3 293L170.1 299L169.9 302L171.7 308L183.4 332L185.4 341L184.9 344.4L181.9 346.5L175.9 344.9L168.9 341L141 317L133.9 312L130.9 310.8L127.9 311L121.9 314.6L111.7 326L95.8 350L45.7 434L19.9 479.2L13.9 487.3Z" fill="#ff5000"/><path d="M13.9 152L13.9 150.2L16.9 150.8L28.9 155.1L40.9 160.6L52.9 167.5L64.9 176.6L87.8 197L111.4 215L123.7 227L137.8 245L157.9 284.4L160.9 286.2L166.9 285.3L170.2 287L170.8 290L169.9 291.9L166.2 296L166.4 302L178.9 329.9L180.4 335L180 338L178.9 339.3L175.9 339.7L172.9 338.7L154.9 324.8L139.9 311.3L133.9 307.4L127.9 306.4L123 308L118.2 311L108.6 320L94.1 338L19.9 445.1L13.9 451.6Z" fill="#ff4000"/><path d="M13.9 158L13.9 156.3L16.9 156.8L28.9 160.5L40.9 165.4L52.9 172L61.9 178.5L87.1 200L106.9 214.5L117.1 224L132.3 242L139.9 253.8L149.4 272L154.9 285.9L160.9 293.4L165.4 308L169.5 317L170.8 323L169.9 327.6L166.9 327.6L160.9 325.3L139.9 307.2L133.9 303.7L124.9 303.1L114.3 308L103.3 317L89.2 332L19.9 417.4L13.9 422.8Z" fill="#ff3000"/><path d="M13.9 164L13.9 162.3L28.9 165.8L40.9 170.1L49.9 174.6L58.9 180.6L82.3 200L103.4 215L110.3 221L130.9 245.2L139.9 259L148.5 275L152.2 287L159.8 299L165.7 317L165.6 320L163.9 321.6L160.9 321.1L139.9 303L133.9 300L124.9 299.4L112.9 303.4L101.5 311L87.9 323L19.9 393.9L13.9 398.5Z" fill="#ff2000"/><path d="M13.9 170L13.9 168.4L28.9 171L40.9 174.7L49.9 179L58.9 185L81.2 203L106.5 221L117.1 233L136.9 259L146.2 275L149.7 290L156.7 299L158.2 305L157.4 308L154.9 309.3L148.9 306L139.9 298.1L133.9 296.1L127.9 295.4L118.9 296.4L106.9 301.1L95.8 308L84 317L19.9 373.6L13.9 377.4Z" fill="#ff1000"/><path d="M13.9 176L13.9 174.6L28.9 176.2L37.9 178.3L46.9 181.7L55.9 187.2L79.8 206L100.9 219.7L108.3 227L133.9 259.6L143.6 275L145.4 281L144.9 287L142.9 291.1L139.9 292L124.9 291L115.9 292.2L105.1 296L93.7 302L75.8 314L22.9 353.3L13.9 358.5Z" fill="#ff0000"/><path d="M13.9 182L13.9 181.1L31.9 181.9L40.9 183.7L46.9 186L54.7 191L76.9 208.3L98.1 221L104.5 227L118.9 247.5L132 263L141.3 278L141.6 281L140.4 284L136.9 285.9L124.9 285.6L115.9 286.6L97.9 292.7L80.4 302L22.9 336.9L13.9 341.1Z" fill="#ef0000"/><path d="M16.8 188L34.9 187.4L43.9 189.2L52 194L73.9 211.1L97.9 224.4L102.9 230L115.9 251.9L127.7 266L129.8 272L129.5 275L127.9 276.2L106.9 281.9L94.9 286.5L34.9 316L13.9 324.5L13.9 188.2Z" fill="#df0000"/><path d="M27.5 194L37.9 193.1L43.9 194.5L73.9 216.5L95.7 227L100.3 233L109.2 254L111.4 260L111.8 266L110 269L106.2 272L73.9 286.8L37.9 301L13.9 307.7L13.9 196.4Z" fill="#cf0000"/><path d="M27.2 203L37.9 201.2L43.9 202.7L52.9 208.1L70.9 221.4L91.9 230.1L94.6 233L95.9 236L98.6 248L98.8 257L96.1 263L91.9 266.9L83 272L58.9 281.1L34.9 287.2L13.9 289.3L13.9 207.2Z" fill="#bf0000"/><path d="M37 215L43.9 215.8L49.1 218L64.9 228.2L82.9 237.9L85.5 242L85.9 245L84.6 251L82.8 254L76.9 259.1L70.9 262.3L59.8 266L49.9 268L31.9 268.6L22.9 267L13.9 264.1L13.9 225.9L26.8 218Z" fill="#af0000"/></g>
<g clip-path="url(#cE)"><path d="M110.3 138.9L115.3 142.1L125.2 148.3L134 155.2L141.5 162.6L147.7 170.1L152.7 177.6L156.4 184.5L158.9 190.7L160.2 193.9M192.6 236.3L194.5 238.2L198.3 241.9L202.6 244.1L207.6 244.7L212.6 243.8L217.6 241.3L222.6 240.4L227.6 241L233.2 242.5L239.5 245L245.7 248.2L251.9 251.9L258.2 255.6L264.4 259.4L270.7 263.1L276.9 266.9L283.1 270.6L289.4 274.4L296.9 277.5L305.6 280L315 281.5L325 282.2L335 282.2L344.9 281.5L354.3 280.9L363 280.3L370.5 280.6L376.8 281.9L381.8 284.7L385.5 289L388 296.9L389.3 308.2L389.6 320.1L388.9 332.6L388 345.1L386.8 357.6L385.5 368.2L384.3 376.9L383.3 383.2L382.7 386.9L382.4 388.8M232.6 148.9L230.7 150.8L227 154.5L225.4 159.2L226 164.8L228.2 169.5L232 173.3L237.9 174.9L246 174.6L255.1 173.1L265 170.6L274.4 168L283.1 165.3L288.8 163.3L291.3 162L292.5 161.4M240.1 275.2L237.6 278L232.6 283.6L227.6 290.2L222.6 297.7L219.2 304.5L217.3 310.8L217.3 317L219.2 323.3L222.6 328.9L227.6 333.9L233.2 337L239.5 338.2L245.1 337.3L250.1 334.2L253.8 329.2L256.3 322.3L258.5 315.8L260.4 309.5L261.3 306.4M208.9 453.7L211.1 453.4L215.4 452.8L218.9 450.3L221.4 445.9L223.5 440L225.4 432.5L226.7 425L227.3 417.5L229.5 411.3L233.2 406.3L237.6 401.9L242.6 398.2L244.5 392.5L243.2 385.1L243.2 377.6L244.5 370.1L246.9 364.1L250.7 359.8L254.4 359.1L258.2 362.3L261.3 367L263.8 373.2L266.9 378.8L270.7 383.8L275.7 387.5L281.9 390L287.5 391.9L292.5 393.2L295 393.8M297.5 443.7L295.6 446.8L291.9 453.1L287.5 459.3L282.5 465.6L278.2 470.6L274.4 474.3L271.3 477.7L268.8 480.9L267.5 482.4M141.5 243.8L143.7 248.8L148 258.8L152.7 269.4L157.7 280.6L162.7 291.2L167.7 301.2L172.7 310.6L177.7 319.3L182 327.4L185.8 334.9L188 340.5L188.6 344.3L187.7 347.4L185.2 349.9L182 349.9L178.3 347.4L173 343.3L166.1 337.7L158.3 331.2L149.6 323.7L141.5 317.1L134 311.5L130.2 308.7M110.3 220.1L112.1 221.3L115.9 223.8L117.7 225.1M349.4 110.2L350.1 114.9L351.3 124.3L352.8 134.1L354.6 144.5L357 147L360.3 141.6L362.9 135.8L364.7 129.6L366 124.6L366.6 120.8L366.9 119" fill="none" stroke="#fff" stroke-width="4.1" stroke-linejoin="round" stroke-linecap="butt"/></g><path d="M170.2 109L170.5 109.4L171.1 110.4L172 111.8L173.3 113.7L174.8 115.3L176.5 116.7L178.4 117.9L180.6 118.8L182.8 119.3L185 119.5L187.2 119.3L189.4 118.6L191.4 117.6L193.4 116.2L195.3 114.4L197 112.2L198.3 110.6L199.2 109.5L199.6 109M242.6 109L243 109.4L244 110.4L245.4 111.8L247.3 113.7L249.3 115.4L251.5 117.2L253.8 118.8L256.3 120.4L259.1 121.8L262.2 123.3L265.7 124.6L269.4 125.8L273 126.9L276.4 127.9L279.7 128.6L282.8 129.3L285.8 130L288.6 131L291.3 132.1L293.8 133.3L296.1 134.6L298.3 136L300.3 137.3L302.2 138.8L303.6 139.9L304.5 140.6L305 140.9M302 185.1L301.2 185.5L299.8 186.3L297.5 187.5L294.5 189L291.5 190.4L288.4 191.7L285.3 192.8L282.2 193.7L279.1 194.5L276 195.1L272.8 195.6L269.7 195.9L266.8 196.4L264 197L261.3 197.8L258.8 198.7L256.6 199.9L254.7 201.3L253.2 202.9L251.9 204.8L251.1 206.7L250.6 208.8L250.5 210.9L250.8 213L251.5 215.2L252.4 217.4L253.7 219.6L255.2 221.8L257.2 223.8L259.5 225.7L262.2 227.4L265.4 229L268.8 230.4L272.5 231.9L276.6 233.2L281 234.4L285.3 235.5L289.7 236.5L294.1 237.2L298.4 237.9L302.7 238.3L306.7 238.6L310.6 238.8L314.4 238.8L317.9 238.6L321.4 238.1L324.7 237.4L327.8 236.5L330.9 235.3L334 233.9L337.1 232.2L340.3 230.4L343.2 228.5L346 226.6L348.7 224.8L351.2 222.9L353.7 221.2L356.2 219.6L358.7 218.2L361.2 217L363.8 215.9L366.6 215.2L369.6 214.6L372.7 214.3L375.8 214.3L379 214.6L382.1 215.2L385.2 216.2L388.5 217.3L391.9 218.5L395.5 219.9L399.2 221.5L402.8 223L406.3 224.4L409.5 225.7L412.7 226.9L415 227.9L416.6 228.5L417.3 228.8" fill="none" stroke="#f00" stroke-width="5.5" stroke-linejoin="round"/>
<path d="M0.4 65.9L6.4 67.1L11.4 69L17.6 71.5L23.9 74.6L27 77.1L31.4 78.4L37.6 80.8L43.8 83.3L48.8 85.8L53.8 88.3L56.3 91.5L56.9 94.6L55.7 97.1L53.8 98.3L56.3 100.2L56.9 103.3L55.7 105.2L58.2 107.1L56.9 109.6L54.4 110.8L53.2 113.3L54.4 116.4L56.3 118.3L60.7 119.5L62.6 122.7L63.2 126.4L66.9 127.7L73.8 128.3L80 130.2L86.3 132L93.8 135.1L100 138.3L105 141.4L110 146.4L115 151.4L119.4 156.4L122.5 161.4L125 167.6L128.1 173.8L130.6 179.5L131.5 184.5L130 188.2L126.2 190.7L121.9 190.1L116.2 188.2L110 185.1L103.8 182L97.5 178.8L91.3 175.7L85 173.2L78.8 171.3L72.5 168.9L66.3 167.6L60.1 167L53.8 166.4L48.8 164.5L44.5 162.9L40.1 162.6L35.1 164.5L28.9 167L23.9 168.9L20.1 170.1L17.6 168.2L15.1 167L12.6 168.9L8.9 170.1L5.1 171.3L2.6 172.6L0.4 173.2ZM22 175.7L27.6 171.3L33.9 167.6L40.1 165.7L46.3 165.7L51.3 167.6L55.1 170.7L58.8 175.1L62.6 179.5L68.8 183.2L75 186.3L80 188.8L85 192.6L88.8 193.8L93.8 195.7L98.8 197.6L105 200.1L111.2 203.8L116.2 206.9L121.9 208.2L126.2 210L128.7 213.2L128.1 217.5L125 221.3L120.6 222.5L115 221.3L110 219.4L103.8 216.3L97.5 214.4L91.3 214.4L86.3 212.5L80 209.4L73.8 206.3L67.6 202.6L61.3 199.4L55.1 196.3L48.8 192.6L42.6 188.8L37.6 185.7L35.1 185.1L32 185.7L28.9 183.2L25.7 180.7L22.6 178.2ZM0.4 180.1L6.4 183.8L12.6 187.6L18.9 191.3L23.9 193.8L28.9 196.9L32.6 200.1L36.3 203.8L38.8 207.6L40.7 211.3L42.6 214.4L40.1 216.3L43.8 215.7L47.6 217.5L51.3 219.4L55.1 221.9L58.8 223.8L62.6 225.7L66.3 227.5L70.1 230L72.5 232.5L73.2 236.3L72.5 237.1L75 234L80 235.2L86.3 237.7L92.5 240.8L98.8 244.6L103.8 248.3L107.5 252.1L111.2 256.4L114.4 261.4L117.5 266.4L120.6 272.7L123.7 278.9L126.9 285.2L129.3 291.4L131.2 297.6L131.2 302.6L129.3 307L125 309.5L118.7 310.1L111.2 310.7L103.8 311.4L96.3 312.6L88.8 313.9L81.3 315.7L73.8 318.2L67.6 320.7L62.6 323.2L58.8 326.3L55.1 328.8L51.3 331.3L47.6 333.2L42.6 335.1L36.3 337.6L31.4 340.1L26.4 342.6L22.6 345.7L17.6 348.2L11.4 349.4L6.4 350.7L0.4 352.6ZM83.8 225.9L88.8 225.2L95 227.7L101.3 230.9L107.5 234L111.2 237.1L113.1 240.8L112.5 243.3L110 242.7L105 239.6L98.8 235.8L92.5 232.1L86.3 229ZM115.6 236.5L118.7 235.2L123.7 237.1L127.5 240.8L127.5 244.6L123.7 247.1L120 244.6L116.9 240.8ZM0.4 403.3L5.1 399L11.4 394.6L17.6 391.5L23.9 389.6L30.1 388.4L38.8 388.4L46.3 389.6L52.6 392.1L58.8 395.8L65.1 400.8L71.3 406.5L76.3 412.1L81.3 418.3L86.3 424.6L91.3 430.8L96.3 435.8L102.5 440.2L105 443.3L107.5 441.4L115 440.2L121.2 443.9L127.5 446.4L133.7 448.3L137.5 450.8L142.5 452L148.7 452.6L154.9 450.8L161.2 448.9L164.9 450.1L164.9 452.6L159.9 455.8L153.7 458.3L147.4 461.4L141.2 464.5L136.2 468.2L131.2 471.4L127.5 475.1L123.7 478.9L118.7 482.6L113.7 487L108.7 491.3L105 495.7L101.3 499L93.8 501.5L86.3 502.1L80 502.7L76.3 501.5L74.4 499L71.3 502.1L67.6 505.9L63.8 510.2L61.3 514L63.2 520.2L66.9 519.6L68.2 515.2L71.3 511.5L73.8 513.4L75.7 515.8L73.8 519.6L70.7 522.7L71.9 527.7L73.8 522.1L78.8 517.7L85 514L91.3 510.2L97.5 507.1L103.8 503.4L107.5 499.6L111.2 495.1L116.2 492.6L122.5 490.7L128.7 488.8L134.3 487L138.7 488.8L141.2 492.6L145 495.1L138.7 500.2L135 504L138.7 507.7L141.2 512.7L142.5 517.7L136.2 520.2L132.5 523.3L133.7 527.7L136.2 531.5L133.7 535.2L136.2 538.9L141.2 540.8L145.6 540.2L142.5 543.9L140 547.7L137.5 551.4L132.5 553.9L127.5 555.8L123.7 557.7L120 555.8L116.9 552L118.7 547.7L119.4 542.7L117.5 538.3L120.6 533.9L117.5 530.2L115.6 527.1L111.9 529L113.7 533.9L114.4 538.9L112.5 545.2L110 550.2L106.3 553.9L101.3 555.8L96.3 556.4L95 551.4L95 543.9L95.6 536.4L94.4 534.6L92.5 537.7L92.5 546.4L91.9 552.7L88.8 550.2L86.3 545.2L83.8 540.2L80 541.4L73.8 540.8L80 542.1L77.5 546.4L76.3 551.4L73.8 555.2L70.1 557.7L66.3 558.9L61.3 557.7L63.8 561.4L60.1 564.5L66.9 565.2L73.8 564.5L81.3 563.9L87.5 565.2L93.8 565.8L91.9 570.1L92.5 572.6L86.3 574.5L80 573.9L76.9 573.3L78.2 577.6L75.7 581.4L80 578.9L83.8 576.4L88.8 575.1L93.8 574.5L97.5 577.6L102.5 578.9L98.8 581.4L97.5 585.1L102.5 587.6L106.9 589.5L102.5 591.4L98.8 593.2L93.8 593.9L88.8 592.6L83.8 590.1L78.8 587.6L75 589.5L76.9 593.2L82.5 595.1L87.5 596.4L92.5 598.9L95 602.6L98.8 605.1L98.1 608.8L95 611.3L93.8 615.1L93.1 621.3L96.3 622.6L92.5 623.8L86.3 622L80 625.1L73.8 625.7L66.3 626.3L58.8 625.7L51.3 623.8L49.5 625.1L52.6 626.9L61.3 626.9L68.8 627.6L73.8 630.1L75 635.1L76.9 641.3L80 646.3L84.4 652.5L84.4 654L0.4 654Z" fill="#808080" stroke="#000" stroke-width="1.7" stroke-linejoin="miter"/>
<path d="M206.2 327.9L210.4 326.9L215 330.6L218.1 329.1L221.2 330.3L223.9 333L218.9 335.7L215.6 334.9L212.3 336.4L208 334.7L205.8 331.7ZM254.8 329.2L258.7 328L260.2 330.7L259.5 334.8L256.3 334.2L254 332ZM185.7 366.6L191.1 366.8L195.1 367.4L199.3 365.4L203.7 369L209.1 371.5L208 376.3L202.5 374.5L199.5 376L196.3 375.3L193.2 376.3L189.4 376L186.1 372.7ZM157.3 392.2L162.3 388.6L165.8 389L168.6 386.5L172.6 387.1L176.6 386.2L179.1 388.2L180 391.4L179.4 396.5L177.5 401.5L174.1 401.5L171 400.5L168.1 398.7L165.5 396.9L159.4 395.8ZM184.8 399.7L189.8 396.8L193.3 397.1L196.2 394.6L199.4 395.5L202.8 394.9L206.1 398L203.8 401.4L201.4 401.3L196.3 400.9L193.4 402.5L190 403.1L185.5 402.1ZM135.6 409.7L139.4 408.2L141.8 411.7L146.1 412.8L149.5 413.3L152.6 412.3L155.7 411.5L158.8 412.6L162 413.5L163.9 416.2L167.4 416.6L170.5 417.9L173.3 419.9L175.9 422.1L179.9 422.4L182.9 424.5L185.5 427.2L188.2 429.8L191.8 430.9L195.3 432.7L192.8 435.6L192.5 440.3L190.7 442.9L186 444.3L182.8 443.1L179.6 441.6L176.7 439.6L174 436.8L170.5 437.8L167.5 436.1L164.4 436.6L161.3 437.9L158.2 436.8L155.1 437.5L152 437.5L148.2 436.8L147.3 433.5L144.9 431.4L142.1 426.4L142.2 423.2L141.2 420.1L139.2 415.5L136.5 412.6ZM191.4 442.1L196.1 442.9L201.3 443L207.2 441.4L208.7 446.3L208.5 449.5L208.3 453.4L205 455.1L205.8 460L201.8 459.5L197.7 455.8L197.3 452L194.9 447.7L193.8 444.6Z" fill="#808080" stroke="#000" stroke-width="1.9" stroke-linejoin="miter"/>
<path d="M111.2 505.2L113.7 502.1L118.7 502.1L120.6 505.2L118.7 510.2L115 512.7L111.9 510.9Z" fill="#fff" stroke="#000" stroke-width="1.1"/>
<path d="M155.8 109h0M188.8 107.7h0M216.5 107h0M269.4 107.7h0M289.4 107.7h0M328.1 107.7h0M360.5 108.2h0M172.8 151.9h0M218.2 157.7h0M247.7 161.4h0M293.1 167.6h0M362.5 176.4h0M174.5 190.9h0M191.5 195.1h0M206.5 199.3h0M237.4 205.8h0M363 233.3h0M399.2 242.5h0M433.4 250.8h0M197.7 241.3h0M216 245.8h0M235.7 252.5h0M254.9 258h0M275.6 265h0M204.5 270h0M217 272.5h0M238.7 281.2h0M259.9 289.5h0M285.6 296.2h0M328.1 281.2h0M363 289.2h0M198.2 303.2h0M222 309.9h0M239.4 312.9h0M265.1 322.9h0M290.6 332.4h0M328.1 310.7h0M361.8 321.2h0M182 341.2h0M218.2 352.4h0M256.9 366.6h0M326.8 344.9h0M362.5 355.6h0M222.7 394.8h0M245.2 401.1h0M268.1 410.3h0M326.8 386.1h0M361.3 397.8h0M217.5 435.5h0M228.9 439.8h0M237.7 440.5h0M325.6 429h0M127.1 268.3h0M119.6 233.3h0M95.9 240h0M102.1 220.1h0M87.1 218.8h0M16.3 181.7h0M32 193.3h0M47 206.3h0M62.7 215.8h0M68.8 216.5h0M75.6 230.9h0M115.2 257.5h0M259.4 451.7h0M282.4 456.2h0M318.6 465.7h0M354.8 476.2h0M215.7 472.9h0M228.7 476.7h0M250.7 483.2h0M267.6 488.2h0M306.3 499.1h0M340.5 510.4h0M363 440.7h0M326.8 429.2h0M361.8 397.5h0M326.8 386.3h0" stroke="#000" stroke-width="4" stroke-linecap="round" fill="none"/><text class="v" text-anchor="middle" transform="translate(173.9 213.8) rotate(50)" y="11.8">24</text><text class="v" text-anchor="middle" transform="translate(256.3 156.9) rotate(10)" y="11.8">24</text><text class="v" text-anchor="middle" transform="translate(258.8 286.4) rotate(55)" y="11.8">24</text><text class="v" text-anchor="middle" transform="translate(303.7 418.8) rotate(75)" y="11.8">24</text><text class="v" text-anchor="middle" transform="translate(127.7 231.3) rotate(45)" y="11.8">26</text><text class="v" text-anchor="middle" transform="translate(305 162.6) rotate(-75)" y="11.8" style="fill:#f00">22</text><path d="M270.6 109L271.6 109.7L273.4 111.1L276.3 113.2L280 116L283.7 118.7L287.5 121.4L291.2 124L295 126.4L298.6 129L302 131.7L305.3 134.4L308.4 137.2L311.2 140.1L313.7 143.1L315.9 146.1L317.8 149.2L319.2 152.4L320.3 155.5L321 158.6L321.4 161.7L321.2 164.7L320.6 167.5L319.5 170.1L317.9 172.6L316 175.1L313.6 177.4L310.9 179.7L307.8 181.8L304.5 183.9L301.1 185.7L297.5 187.5L293.7 189L290 190.5L286.2 191.9L282.5 193.2L278.8 194.5L275.2 195.8L272 197.2L268.9 198.7L266.1 200.3L263.9 201.8L262.4 203.4L261.4 204.9L261.1 206.5L261.4 208L262.1 209.4L263.5 210.7L265.3 212L267.7 213.2L270.5 214.5L273.8 215.7L277.5 217L281.3 218L285 218.7L288.7 219.3L292.5 219.6L296.2 220L300 220.5L303.7 221L307.5 221.6L310.9 222.4L314 223.3L316.8 224.4L319.3 225.7L321.6 227.3L323.6 229.4L325.4 231.8L327 234.6L328.4 237.6L329.6 240.9L330.7 244.4L331.7 248.2L332.4 251.9L332.8 255.6L333.1 259.4L333.1 263.1L333.2 266.6L333.5 269.7L334 272.5L334.6 275L335.7 277.5L337.3 280L339.3 282.5L341.8 285L344.3 287.5L346.8 290L349.3 292.5L351.8 295L354.1 297.5L356.3 300L358.3 302.5L360.2 305L362 307.6L363.7 310.4L365.4 313.4L366.9 316.5L367.9 319.3L368.2 321.8L367.9 324L366.9 325.9L365.4 327.7L363.4 329.6L360.8 331.5L357.7 333.4L354.4 335.1L351 336.6L347.4 338L343.7 339.3L340.1 340.5L336.6 341.8L333.4 343L330.2 344.3L327.6 345.6L325.4 347L323.7 348.5L322.4 350.1L320.8 351.9L318.8 353.8L316.5 355.9L313.9 358.2L311.3 360.4L308.7 362.7L306 364.9L303.4 367.2L301.2 369.6L299.3 372.2L297.8 375L296.7 378L296 381.1L295.8 384.3L296.1 387.6L296.8 391L297.5 394.3L298.1 397.5L298.5 400.6L298.9 403.6L299 406.6L298.8 409.6L298.3 412.6L297.6 415.6L296.7 418.5L295.5 421.3L294.2 424L292.7 426.6L291.1 429.3L289.4 431.9L287.7 434.5L285.8 437.1L283.6 439.7L281.2 442.1L278.5 444.5L275.5 446.7L272.8 449L270.6 451.2L268.7 453.5L267.2 455.7L265.9 458.1L264.8 460.8L263.8 463.6L263.1 466.6L262.3 469.5L261.6 472.3L260.8 475L260.1 477.7L259.5 479.6L259.1 480.9L259 481.6" fill="none" stroke="#000" stroke-width="7.5" stroke-dasharray="7.5 7.1" stroke-linejoin="round"/>
<path d="M145.3 0V653.8M290.6 0V653.8M435.9 0V653.8M0 145.3H508.7M0 290.6H508.7M0 435.9H508.7M0 581.2H508.7" stroke="#000" stroke-opacity=".13" stroke-width="1.5" fill="none"/>
<path d="M145.3 0v7M145.3 653.8v-7M290.6 0v7M290.6 653.8v-7M435.9 0v7M435.9 653.8v-7M0 145.3h7M508.7 145.3h-7M0 290.6h7M508.7 290.6h-7M0 435.9h7M508.7 435.9h-7M0 581.2h7M508.7 581.2h-7" stroke="#1e1e1e" stroke-width="1.5" fill="none"/>
<text class="u k" x="29.1" y="57">SST (°C)</text>
<text class="k" font-size="32.2" transform="translate(22.6 125.8) rotate(29.5)">Jiangsu</text>
<clipPath id="LE"><path d="M0 235H100L110.6 256.5L113.8 261.5L116.9 266.5L120 272.8L123.1 279L126 290H0Z"/></clipPath><g clip-path="url(#LE)"><text class="k" font-size="31.8" x="4" y="275.4">Shanghai</text></g>
<text class="k" font-size="25.7" x="7.4" y="373.1">Hangzhou Bay</text>
<text class="k" font-size="32.6" x="7.2" y="469.3">Zhejiang</text>
<text class="b" font-size="40.5" text-anchor="middle" x="254.1" y="625">2014 Jul</text>
<rect x="0" y="0" width="508.7" height="653.8" fill="none" stroke="#1e1e1e" stroke-width="1.6"/>
<rect x="537.8" y="0" width="49.7" height="653.80" fill="#00008f"/>
<rect x="537.8" y="0" width="49.7" height="643.58" fill="#00009f"/>
<rect x="537.8" y="0" width="49.7" height="633.37" fill="#0000af"/>
<rect x="537.8" y="0" width="49.7" height="623.15" fill="#0000bf"/>
<rect x="537.8" y="0" width="49.7" height="612.94" fill="#0000cf"/>
<rect x="537.8" y="0" width="49.7" height="602.72" fill="#0000df"/>
<rect x="537.8" y="0" width="49.7" height="592.51" fill="#0000ef"/>
<rect x="537.8" y="0" width="49.7" height="582.29" fill="#0000ff"/>
<rect x="537.8" y="0" width="49.7" height="572.07" fill="#0010ff"/>
<rect x="537.8" y="0" width="49.7" height="561.86" fill="#0020ff"/>
<rect x="537.8" y="0" width="49.7" height="551.64" fill="#0030ff"/>
<rect x="537.8" y="0" width="49.7" height="541.43" fill="#0040ff"/>
<rect x="537.8" y="0" width="49.7" height="531.21" fill="#0050ff"/>
<rect x="537.8" y="0" width="49.7" height="521.00" fill="#0060ff"/>
<rect x="537.8" y="0" width="49.7" height="510.78" fill="#0070ff"/>
<rect x="537.8" y="0" width="49.7" height="500.57" fill="#0080ff"/>
<rect x="537.8" y="0" width="49.7" height="490.35" fill="#008fff"/>
<rect x="537.8" y="0" width="49.7" height="480.13" fill="#009fff"/>
<rect x="537.8" y="0" width="49.7" height="469.92" fill="#00afff"/>
<rect x="537.8" y="0" width="49.7" height="459.70" fill="#00bfff"/>
<rect x="537.8" y="0" width="49.7" height="449.49" fill="#00cfff"/>
<rect x="537.8" y="0" width="49.7" height="439.27" fill="#00dfff"/>
<rect x="537.8" y="0" width="49.7" height="429.06" fill="#00efff"/>
<rect x="537.8" y="0" width="49.7" height="418.84" fill="#00ffff"/>
<rect x="537.8" y="0" width="49.7" height="408.62" fill="#10ffef"/>
<rect x="537.8" y="0" width="49.7" height="398.41" fill="#20ffdf"/>
<rect x="537.8" y="0" width="49.7" height="388.19" fill="#30ffcf"/>
<rect x="537.8" y="0" width="49.7" height="377.98" fill="#40ffbf"/>
<rect x="537.8" y="0" width="49.7" height="367.76" fill="#50ffaf"/>
<rect x="537.8" y="0" width="49.7" height="357.55" fill="#60ff9f"/>
<rect x="537.8" y="0" width="49.7" height="347.33" fill="#70ff8f"/>
<rect x="537.8" y="0" width="49.7" height="337.12" fill="#80ff80"/>
<rect x="537.8" y="0" width="49.7" height="326.90" fill="#8fff70"/>
<rect x="537.8" y="0" width="49.7" height="316.68" fill="#9fff60"/>
<rect x="537.8" y="0" width="49.7" height="306.47" fill="#afff50"/>
<rect x="537.8" y="0" width="49.7" height="296.25" fill="#bfff40"/>
<rect x="537.8" y="0" width="49.7" height="286.04" fill="#cfff30"/>
<rect x="537.8" y="0" width="49.7" height="275.82" fill="#dfff20"/>
<rect x="537.8" y="0" width="49.7" height="265.61" fill="#efff10"/>
<rect x="537.8" y="0" width="49.7" height="255.39" fill="#ffff00"/>
<rect x="537.8" y="0" width="49.7" height="245.17" fill="#ffef00"/>
<rect x="537.8" y="0" width="49.7" height="234.96" fill="#ffdf00"/>
<rect x="537.8" y="0" width="49.7" height="224.74" fill="#ffcf00"/>
<rect x="537.8" y="0" width="49.7" height="214.53" fill="#ffbf00"/>
<rect x="537.8" y="0" width="49.7" height="204.31" fill="#ffaf00"/>
<rect x="537.8" y="0" width="49.7" height="194.10" fill="#ff9f00"/>
<rect x="537.8" y="0" width="49.7" height="183.88" fill="#ff8f00"/>
<rect x="537.8" y="0" width="49.7" height="173.67" fill="#ff8000"/>
<rect x="537.8" y="0" width="49.7" height="163.45" fill="#ff7000"/>
<rect x="537.8" y="0" width="49.7" height="153.23" fill="#ff6000"/>
<rect x="537.8" y="0" width="49.7" height="143.02" fill="#ff5000"/>
<rect x="537.8" y="0" width="49.7" height="132.80" fill="#ff4000"/>
<rect x="537.8" y="0" width="49.7" height="122.59" fill="#ff3000"/>
<rect x="537.8" y="0" width="49.7" height="112.37" fill="#ff2000"/>
<rect x="537.8" y="0" width="49.7" height="102.16" fill="#ff1000"/>
<rect x="537.8" y="0" width="49.7" height="91.94" fill="#ff0000"/>
<rect x="537.8" y="0" width="49.7" height="81.73" fill="#ef0000"/>
<rect x="537.8" y="0" width="49.7" height="71.51" fill="#df0000"/>
<rect x="537.8" y="0" width="49.7" height="61.29" fill="#cf0000"/>
<rect x="537.8" y="0" width="49.7" height="51.08" fill="#bf0000"/>
<rect x="537.8" y="0" width="49.7" height="40.86" fill="#af0000"/>
<rect x="537.8" y="0" width="49.7" height="30.65" fill="#9f0000"/>
<rect x="537.8" y="0" width="49.7" height="20.43" fill="#8f0000"/>
<rect x="537.8" y="0" width="49.7" height="10.22" fill="#800000"/>
<text font-size="33.4" x="601.5" y="666.2">19</text>
<text font-size="33.4" x="601.5" y="593.6">20</text>
<text font-size="33.4" x="601.5" y="520.9">21</text>
<text font-size="33.4" x="601.5" y="448.3">22</text>
<text font-size="33.4" x="601.5" y="375.6">23</text>
<text font-size="33.4" x="601.5" y="303">24</text>
<text font-size="33.4" x="601.5" y="230.3">25</text>
<text font-size="33.4" x="601.5" y="157.7">26</text>
<text font-size="33.4" x="601.5" y="85">27</text>
<text font-size="33.4" x="601.5" y="12.4">28</text>
<path d="M587.5 581.2h-7M587.5 508.5h-7M587.5 435.9h-7M587.5 363.2h-7M587.5 290.6h-7M587.5 217.9h-7M587.5 145.3h-7M587.5 72.6h-7" stroke="#1e1e1e" stroke-width="1.2" fill="none"/>
<rect x="537.8" y="0" width="49.7" height="653.8" fill="none" stroke="#1e1e1e" stroke-width="1.5"/>
</g>
<text class="s" x="789.5" y="735">E</text>
<g transform="translate(831.7 1418.5)">
<clipPath id="cF"><path d="M106.4 138.3L117.6 137.7L118.9 132.1L131.4 130.8L132.6 124L148.2 122.7L150.1 116.5L190 115.2L195 109L315.6 109L319.3 116L429.2 116L429.2 465L422.9 466.2L422.9 472.5L415.4 472.5L415.4 478.7L408 478.7L408 484.9L400.5 484.9L400.5 491.2L393 491.2L385.5 493.7L378 501.2L378 504.9L370.5 504.9L370.5 508.7L363 508.7L363 514.9L355.5 514.9L355.5 521.1L348 521.1L348 523.6L340.5 523.6L340.5 526.1L333.1 526.1L333.1 531.1L325.6 531.1L325.6 536.1L318.1 536.1L318.1 542.4L310.6 542.4L310.6 548.6L303.1 548.6L303.1 551.1L295.6 551.1L295.6 553.6L288.1 553.6L288.1 559.8L280.6 559.8L280.6 566.1L273.1 566.1L273.1 569.8L266.9 569.8L266.9 573.6L260.7 573.6L254.4 581.1L245.7 582.3L240.7 574.8L228.2 573.6L220.7 566.1L198.2 564.8L190.7 558.6L184.5 558.6L180.8 543.6L180.8 536.1L176.4 536.1L176.4 528.6L172 528.6L172 522L168.3 522L168.3 515.3L164.5 515.3L164.5 508.7L160.8 508.7L160.8 499.9L158.3 499.9L158.3 491.2L155.8 491.2L155.8 483.7L152.5 483.7L152.5 476.2L149.1 476.2L149.1 468.7L145.8 468.7L143.3 458.7L143.3 450L137.1 450L137.1 441.3L130.8 441.3L129.6 423.8L129.6 417.5L126.5 417.5L126.5 411.3L123.3 411.3L123.3 402.6L117.1 402.6L117.1 393.8L110.9 393.8L108.4 381.3L108.4 373.8L104.2 373.8L104.2 366.4L100 366.4L100 358.9L95.9 358.9L95.9 352L93.4 352L93.4 345.1L90.9 345.1L90.9 338.3L88.4 338.3L88.4 331.4L85.9 331.4L80.9 323.9L80.9 318.2L73.6 318.2L73.6 312.4L66.2 312.4L66.2 306.7L58.9 306.7L58.9 299.6L56.6 299.6L56.6 292.5L54.3 292.5L54.3 285.3L52 285.3L52 278.2L49.6 278.2L49.6 271.1L47.3 271.1L47.3 264L45 264L45 256.8L42.7 256.8L42.7 249.7L40.4 249.7L40.4 242.6L38.1 242.6L38.1 235.5L35.8 235.5L35.8 228.3L33.5 228.3L33.5 221.2L31.1 221.2L31.1 214.1L28.8 214.1L28.8 207L26.5 207L26.5 199.8L24.2 199.8L24.2 192.7L21.9 192.7L21.9 177.7L21.9 175.5L29.1 175.5L29.1 173.2L36.4 173.2L36.4 171L43.6 171L43.6 168.7L50.9 168.7L50.9 156.7L50.9 154.4L57.8 154.4L57.8 152.1L64.8 152.1L64.8 149.8L71.7 149.8L71.7 147.5L78.6 147.5L78.6 145.2L85.6 145.2L85.6 142.9L92.5 142.9L92.5 140.6L99.5 140.6L99.5 138.3Z"/></clipPath><g clip-path="url(#cF)"><rect x="13.9" y="101" width="423.3" height="489.3" fill="#0020ff"/><path d="M13.9 101L439.9 101L439.9 593L13.9 593ZM415.9 114.9L413.3 119L413.1 122L414.7 125L418.9 126.4L421.9 125.2L424.3 122L424.9 119L424 116L421.9 113.7L418.9 113.4Z" fill="#0030ff"/><path d="M13.9 101L409.6 101L404.8 116L405.7 125L410 131L412.9 132.7L418.9 133.8L424.9 132.2L430.9 128L439.9 115.5L439.9 593L13.9 593Z" fill="#0040ff"/><path d="M13.9 101L398.7 101L397.1 116L398.2 125L400.9 131.1L406.9 137L412.9 139.5L421.9 139.7L429.7 137L439.9 131L439.9 593L13.9 593Z" fill="#0050ff"/><path d="M13.9 101L390.2 101L389.9 116L391.3 128L393.6 134L398.6 140L406.9 144.7L415.9 146.3L424.9 145.2L439.9 139.1L439.9 593L13.9 593Z" fill="#0060ff"/><path d="M13.9 101L382.4 101L384.1 137L385.9 142.4L388.9 145.5L400.9 150.9L412.9 152.5L424.9 151.3L439.9 145.8L439.9 593L13.9 593ZM307.9 157.5L304.9 158.1L302.6 161L302.8 164L304.9 166.7L307.9 167.8L312.7 167L315.1 164L314.5 161L310.9 158.1ZM364.9 157.1L357.8 161L355.3 164L354.4 167L354.9 170L358.9 174.7L361.9 176.6L367.9 177.1L371 176L374.1 173L376.9 167L377.4 161L376.1 158L373.9 156.5L370.9 156Z" fill="#0070ff"/><path d="M13.9 101L375 101L376.1 116L375.5 128L372.8 137L368.1 143L355.9 150.3L343.9 155.8L337.9 157.6L328.9 157L313.9 152.5L304.9 152.8L300.8 155L298.3 158L297.4 161L298.4 167L301.9 171.4L307.9 174.5L313.9 175.2L334.9 172.6L340.9 174L358.9 181.3L367.9 181.7L376.9 177.5L388.9 165.2L394.9 161.2L403.9 159.1L421.9 157.6L439.9 151.7L439.9 593L13.9 593Z" fill="#0080ff"/><path d="M13.9 101L250.7 101L247.9 105.4L247.2 110L247.8 113L249.9 116L253.9 117.9L256.9 117.3L259.9 113L258.9 107L254.5 101L367.5 101L369.3 113L369.5 122L368.2 128L364.9 134.3L361.9 137.5L355.9 141.5L343.9 146.2L331.9 148L307.9 147.7L298.9 151L294.9 155L293.5 158L293 164L294.9 170L299.8 176L304.9 179.2L313.9 181.5L334.9 182.1L358.9 185.9L367.9 185.7L377.9 182L391.9 171.8L400.9 166.8L409.9 164.3L424.9 161.7L439.9 156.9L439.9 593L13.9 593Z" fill="#008fff"/><path d="M13.9 101L240.2 101L241.4 110L244.2 116L247.9 119.7L253.9 122.1L259.9 120.6L262.9 116.7L264.1 110L263.4 101L359.4 101L362.5 113L363.2 122L361.3 128L355.9 133.6L349.9 136.6L337.9 140L304.9 144L295.9 147.6L291.2 152L288.7 158L289.2 167L292.9 175.1L298.9 181.5L304.9 184.9L313.9 187.2L355.9 190.1L367.9 189.5L379.9 185.4L397.9 174.6L406.9 170.4L439.9 161.7L439.9 593L13.9 593Z" fill="#009fff"/><path d="M13.9 101L232.7 101L237.3 113L241.4 119L247.9 123.9L256.9 126.2L262.9 124L265.9 119.8L267.5 113L268.6 101L350.1 101L356.3 119L355.9 123.2L352.9 127.2L333.3 134L298.9 141.2L292.9 143.7L286.5 149L284.9 152L283.7 158L285.8 170L290.3 179L298.9 187.7L307.9 191.5L316.9 192.9L349.9 194.3L364.9 193.7L379.9 189.6L413.2 173L427.9 168.5L439.9 166L439.9 593L13.9 593Z" fill="#00afff"/><path d="M13.9 101L224.3 101L225.4 104L233.5 116L238.9 122L247.9 127.8L259.9 131L265.9 129.7L268.9 125.9L271.9 107.9L274.1 101L289.2 101L291.2 110L292.9 113L295.9 114.6L298.9 114.2L301.9 111.4L303.4 107L303.9 101L338.7 101L341.9 110L342.6 116L341.6 119L339 122L331.9 126.4L322.9 130.2L287 140L281.9 143L279.6 146L278.2 155L281.5 170L287 182L291.4 188L295.9 192.1L304.9 196.3L316.9 198L346.9 198.7L364.9 197.5L382.9 192.5L421.9 173.9L430.9 171.3L439.9 170.1L439.9 593L13.9 593Z" fill="#00bfff"/><path d="M13.9 101L215.4 101L217.9 107L232.7 122L241.9 128.5L264.3 140L267.5 143L270.5 149L278.5 173L286.9 190.2L289.9 194L295.9 198.7L304.9 202L316.9 203.2L340.9 203.3L367.9 200.8L389.7 194L426.7 176L439.9 174.3L439.9 593L13.9 593ZM310.1 104L311.9 101L325.1 101L328.5 107L329.5 113L326.9 119L323.7 122L311.3 128L295.9 131.6L283.9 132.2L280.9 131.3L277.9 128.6L276.4 125L275.1 116L275.8 110L277.9 106L280.9 104.7L283.9 105.9L289.9 115L292.9 117.4L295.9 118.2L298.9 117.8L302.4 116L305.1 113Z" fill="#00cfff"/><path d="M13.9 101L208.5 101L211.9 109L218.5 116L234.3 128L250.9 137.3L260.9 146L266.7 155L280.9 188.3L285.6 197L292.9 203.8L298.9 206.6L304.9 208L322.9 208.7L343.9 207.8L370.9 204.1L394.9 196.3L409.9 189.5L427.9 179.9L433.9 178.8L439.9 178.9L439.9 593L13.9 593ZM311.9 113L313.9 111.1L316.9 111.9L317.3 113L316 116L310.9 119L310.1 116Z" fill="#00dfff"/><path d="M13.9 101L203.4 101L207.4 110L216 119L227.6 128L248.1 140L256.9 148.4L261.8 155L268.1 167L280.2 197L283.9 203.3L286.9 206.6L292.9 210.9L304.9 214.7L313.9 215.8L322.9 215.4L349.9 211.9L370.9 208L400.9 198.7L427.9 185.8L433.9 184.4L439.9 184.5L439.9 593L13.9 593Z" fill="#00efff"/><path d="M13.9 101L198.7 101L203.2 110L214.9 122.5L223.9 129.8L246.1 143L256.9 154.3L267.4 173L277.9 202.7L283.9 211.9L292.9 218L310.9 223.6L319.9 224.1L337.9 218.9L376.9 210.6L402.9 203L427.9 193.1L439.9 191.3L439.9 593L13.9 593Z" fill="#00ffff"/><path d="M13.9 101L193.8 101L199.1 110L216.1 128L223.9 133.9L241.9 144L247.9 149L253.9 155.8L259.9 165L265.4 176L269.7 188L274.9 207.7L280.9 217.7L286.9 222.1L313.9 231.7L319.9 231.8L340.9 223.5L394.9 210.2L427.9 200.5L439.9 198.7L439.9 593L13.9 593Z" fill="#10ffef"/><path d="M13.9 101L188.3 101L191.8 107L203.9 119L214.9 131.6L220.9 136.1L241.9 148L251.7 158L257.6 167L263.5 179L267.3 191L271.2 212L274.9 220L277.9 223.9L283.9 227.6L298.9 231.3L313.9 236.6L319.9 236.8L340.9 228.3L370.9 220.3L424.9 208.1L439.9 206.2L439.9 593L13.9 593Z" fill="#20ffdf"/><path d="M13.9 101L182 101L185.8 107L202.9 121.9L209.4 131L214.9 136.7L238.9 149.5L244.9 154.7L250.2 161L257.7 173L262.7 185L264.8 194L266.3 212L269.2 221L271.9 226.4L274.9 229.8L280.9 232.5L295.9 234.8L313.9 240.1L319.9 240.3L343.9 231.8L373.9 223.6L412.9 216.5L439.9 213.6L439.9 593L13.9 593Z" fill="#30ffcf"/><path d="M13.9 101L174.8 101L178.7 107L184.9 112.9L199.9 123.6L206.2 134L211.5 140L216.6 143L235.9 151.1L241.9 155.8L248.8 164L256.1 176L259.9 185L262.3 197L262 209L262.9 216.1L267.2 230L268.9 233.3L272.9 236L292.9 238L310.9 242.6L319.9 243.3L364.9 229.8L379.9 226.4L406.9 222.7L439.9 220.9L439.9 593L13.9 593Z" fill="#40ffbf"/><path d="M13.9 101L166.6 101L170.6 107L178.9 115L196.9 128L202.4 140L205.9 143.9L211.9 146.9L229.9 151.5L235.9 154.6L242.7 161L249.4 170L256 182L259.3 194L258.6 212L261.9 233L261.4 239L258.9 245L259.9 246.3L268.9 242.7L286.9 241L295.9 242L313.9 246.1L319.9 246.2L326.9 245L367.9 232.8L379.9 230.4L406.9 227.9L439.9 228.1L439.9 593L13.9 593Z" fill="#50ffaf"/><path d="M13.9 101L157.7 101L161.7 107L184 128L188.7 134L190.7 140L191.1 146L187.9 158L187.4 164L187.9 167.7L190.9 171L196.9 165L202.1 158L205.9 155.4L211.9 153.8L220.9 153.4L229.9 154.9L235.5 158L241.4 164L247.9 172.8L253.9 183.8L256.8 194L255.8 212L257.9 230L252.6 248L253.9 251.5L256.9 253L262.9 251.8L274.9 246L283.9 244.4L292.9 244.6L313.9 249L322.9 248.8L367.9 236.4L382.9 234L406.9 233.1L439.9 235.3L439.9 593L13.9 593ZM202.9 298.9L199.9 299.3L196.8 302L196.9 306.7L199.9 309.6L202.9 309.8L205.9 308.1L207.1 305L205.9 300.7Z" fill="#60ff9f"/><path d="M13.9 101L147.9 101L152 107L173.1 128L178.7 137L179.9 146L178 164L177.9 179L179.1 185L181.9 189.3L184.9 191.2L187.9 191.6L190.9 190.7L194.1 188L201.8 173L208.6 164L214.9 159.8L220.9 158L226.9 157.8L232.9 160L238.9 165.9L246.5 176L252.8 188L254.7 197L253.5 212L254.7 230L249.6 248L250.9 253L253.9 255.7L259.9 256.5L277.9 248.8L286.9 247.3L295.9 248.1L313.9 252L322.9 251.9L364.9 240.6L382.9 237.9L403.9 238.1L439.9 242.8L439.9 593L13.9 593ZM202.9 295.5L199.9 296L195.7 299L194.1 302L193.9 305L196.9 310.3L199.9 312L202.9 312.4L206.7 311L209.3 308L210.2 305L208.9 298.4L205.9 296Z" fill="#70ff8f"/><path d="M13.9 101L137.3 101L141.4 107L165.6 131L169.5 137L171.3 146L172.1 179L174.8 188L179.6 194L184.9 196.5L187.9 196.7L193.9 194.4L199.7 188L206.8 176L211.9 169.6L217.9 164.9L223.9 162.5L229.9 162.9L232.9 164.9L244.9 178.7L250.9 189.9L252.5 200L251.5 212L252.3 227L251.4 233L247.5 245L247.1 251L250.1 257L253.9 259.3L256.9 259.9L262.9 259.1L277.9 252.1L286.9 250.1L295.7 251L310.9 254.7L322.9 255L364.9 243.9L379.9 242L403.9 243.4L427.9 248.8L439.9 250.5L439.9 593L13.9 593ZM202.9 292.2L194.9 296L192.6 299L191.7 302L192.8 308L194.9 311L199.9 314.1L202.9 314.6L206.6 314L210.5 311L212.2 308L213.3 302L212 296L209.4 293Z" fill="#80ff80"/><path d="M13.9 101L126.2 101L130.9 107.7L154.6 131L160.9 139.6L163.6 149L166.4 176L168.3 185L172.9 194.2L175.9 197.5L181.9 201.2L187.9 202.2L190.9 201.6L196.9 198.1L211.9 177.8L220.9 170.1L226.9 168.5L232.9 171.2L244.9 183.6L249.6 194L250.3 200L249.8 227L244.5 251L245.8 257L250.9 261.8L256.9 263.3L262.9 262.6L280.9 254.2L286.9 252.9L292.9 253.3L310.9 257.9L322.9 258.2L331.9 256.5L361.9 247.8L376.9 245.8L385.9 246.2L400.9 248.6L424.9 256.2L439.9 258.7L439.9 593L13.9 593ZM199.9 289.9L194.3 293L191.3 296L189.7 299L189.6 305L192.5 311L195.7 314L199.9 316.2L205.9 316.9L211.6 314L215.1 308L216.3 302L215.5 293L214.1 290L211.9 288.2L205.9 288.1Z" fill="#8fff70"/><path d="M13.9 101L114.8 101L121.9 110.6L143.7 131L151.3 140L156.7 152L162.4 182L165.3 191L168.8 197L172.9 201.8L181.9 207.6L187.9 208.7L190.9 208.4L196.9 205.2L202.9 198.4L212.2 185L220.9 177.1L226.9 175.4L229.9 175.9L235.9 179L244.5 188L247.8 197L247.5 227L242.2 248L241.5 254L242.9 260L244.9 262.5L250.9 266.1L256.9 267L262.9 266.2L268.9 263.9L280.9 257.3L286.9 255.7L292.9 256.2L310.9 261.5L319.9 262L331.9 259.9L361.9 250.9L376.9 249.4L385.9 250.6L397.3 254L418.9 264.1L439.9 267.4L439.9 593L13.9 593ZM208.9 283.4L193.7 290L190.1 293L186.8 299L187.3 305L190.9 311.8L196.9 317L202.9 319.3L208.9 319.2L212.8 317L217 311L218.8 305L219.5 293L218.5 287L214.9 283.3Z" fill="#9fff60"/><path d="M13.9 101L103.4 101L107.1 107L117.7 119L136.9 135.2L144 143L148.9 151.2L151.9 158.6L158 185L162.8 197L166.9 203L172.9 209.1L184.9 216.6L190.9 217.7L196.9 215L202.9 207.6L211.9 192.5L220.9 183.5L226.9 181.3L229.9 181.4L235.9 183.8L243.1 191L245.7 200L245.2 227L238 254L237.4 260L238.4 263L240.8 266L245.7 269L253.9 271.1L262.9 270.3L268.9 268.1L282.4 260L286.9 258.6L292.9 259.4L307.9 264.9L313.9 265.7L322.9 265.4L331.9 263.5L358.9 254.9L373.9 253L381.5 254L389.5 257L398.2 263L406.9 271.9L412.9 275.4L439.9 276.2L439.9 593L13.9 593ZM214.9 277.6L205.9 280.2L192.9 287L187.9 290.7L184.2 296L183.8 302L187.9 311L193.9 317.5L202.9 322.1L208.9 322.8L214.7 320L219.1 314L221.2 308L223.3 293L222.6 284L220.9 280.4L217.9 278.1Z" fill="#afff50"/><path d="M13.9 101L92.1 101L95.8 107L115.9 130.1L130.9 140.1L139.3 149L144.8 158L148.7 167L153.5 188L158.7 200L166.9 211L190.9 233.6L193.9 234.1L196.9 231.8L199.9 227.7L202.9 222.6L212.5 200L219.5 191L223.9 188L229.9 186.7L235.9 188.6L239 191L241.9 195.5L243.4 203L243.1 224L240.1 239L232.9 255.8L223.9 266.5L211.9 271.5L187.9 285.9L183.5 290L180.1 296L180.5 302L187.3 314L193.9 320.2L202.9 325.5L208.9 327.2L211.9 327L217.8 323L222 317L225.7 305L229 278L230 275L232.9 272.7L235.9 272.5L250.9 275.8L259.9 275.7L268.9 273L283.9 263.4L286.9 262.4L291.5 263L304.9 268.8L316.9 270.2L331.9 267.4L361.9 257.6L370.9 256.8L379.9 258L388.3 263L393.2 269L395.5 275L399.8 296L400.9 297.7L403.9 299.1L409.9 296.7L418.8 290L424.9 286.6L430.9 285.2L439.9 285L439.9 593L13.9 593Z" fill="#bfff40"/><path d="M13.9 101L80.8 101L84.5 107L109.9 135.9L115.9 140.9L127.9 147.9L136.8 158L143.8 170L148.6 191L152.6 200L160.8 212L173.6 227L186.3 248L190.9 252.8L193.9 254.4L196.9 254.2L199.9 250.7L203.9 233L218.6 200L223.9 194.9L229.9 192.8L234.6 194L237.8 197L240.3 206L240.3 227L237.7 239L232.9 249.6L229.9 253.1L220.9 259L205.9 264.1L203 266L194.2 275L181.9 285L176.5 293L175.9 296L176.9 302L180 308L186.4 317L196.9 325.9L205.9 331.3L211.9 332.7L214.9 332.1L219.6 329L225.1 323L229.2 314L233 293L235.2 287L237.7 284L241.9 282.2L259.9 281.6L268.9 280L286.9 269.8L289.9 269.8L304.9 275.1L316.9 275.3L328.9 272.6L358.9 262.1L364.9 261.1L373.9 261.3L379 263L382.9 265.6L387.7 272L391.2 284L393 299L394.9 303.1L397.9 305.9L400.9 306.9L406.9 306.7L411.8 305L427.9 295.7L433.9 294.1L439.9 293.7L439.9 593L13.9 593ZM265.9 307.8L256.9 314L254.7 317L254 323L257.9 329L262.9 332.5L268.9 334.2L274.9 333.7L280.9 330.1L284 326L284.9 320L283.9 315.5L281.5 311L277.9 307.7L271.9 306.3ZM259.9 395L250.9 398.2L247.2 401L242.1 407L239.6 413L239.4 416L240.5 419L243.7 422L247.9 423.4L253.9 423.8L262.9 422.4L269.9 419L274.9 413.7L276.4 407L274.3 401L268.9 396.2L265.9 395.2Z" fill="#cfff30"/><path d="M13.9 101L69.3 101L75.8 110L100.8 137L109.9 145.2L123.6 155L130.9 162.5L138 173L142.4 191L144.8 197L152.3 209L168.1 230L181.7 260L183 266L182.2 272L174.4 287L172.4 293L172.6 299L174.5 305L182.4 317L187.8 323L199.9 333.2L205.9 336.4L211.9 337.6L214.9 337.3L232.9 328.5L238.9 327.5L244.9 330L256.1 338L262.9 341.5L271.9 342.6L277.9 340.7L286.9 333.9L290.4 329L292.6 323L293.1 314L290.3 296L290.4 293L292.9 288.6L298.9 285.6L322.9 279.8L349.9 269.1L361.9 265.8L367.9 265.5L373.9 266.6L378.4 269L381.6 272L385.3 278L387.3 284L389.7 302L393.4 308L397.9 310.6L407.5 311L430.9 303.1L439.9 301.9L439.9 593L13.9 593ZM253.9 388.6L247.6 392L239.7 398L234.4 404L231.1 410L229.7 416L230.4 422L232.9 426.2L238.9 430.1L250.9 431.9L265.9 429.9L275.6 425L278.6 422L282 416L283 410L282.2 404L279.9 398L274.9 391.2L271.9 388.9L265.9 386.6L259.9 386.7ZM226.5 203L229.9 202.1L232.9 203.2L235.9 208.7L237.7 224L236 236L232.6 245L227.6 251L217.9 255.7L211.9 255.7L208.9 254.1L206.7 251L205.9 245L206.6 236L217.9 212.5L220.9 207.9ZM247.6 290L253.9 288.6L261.8 290L265.4 293L265.7 296L264.5 299L259.9 303.6L253.9 307L247.9 308.3L244.9 307.7L241.9 304.6L241.1 299L243.6 293Z" fill="#dfff20"/><path d="M13.9 101L57.5 101L61.5 107L84.3 131L100.3 146L118.9 161L127.1 170L132.2 179L138 197L161.7 230L166.4 239L170.8 251L173.2 260L174 269L169.2 290L168.8 296L169.8 302L172.1 308L177.8 317L184.9 325.7L194.5 335L202.9 340.6L211.9 342.4L229.9 337.8L235.9 337.3L244.9 340.1L262.9 352L268.9 353.4L274.9 351.8L286.9 343L296.5 332L300.8 323L306 302L310.9 294.9L322.3 287L339.8 278L352.9 272.6L361.9 270.6L370.9 271.2L376.9 274.2L379.9 277L382.9 281.7L384.6 287L385.4 299L387 305L391 311L394.9 313.4L400.9 314.7L406.9 314.6L427.9 310.2L439.9 309.2L439.9 593L13.9 593ZM262.9 376L253.9 380.1L238.9 390L229.9 397.7L224.9 404L220.9 413L219.8 425L220.9 430.2L222.9 434L226.9 437L232.9 438.3L241.9 438.7L265.9 437.4L277.9 433L283.9 428L286.1 425L288.7 419L289.3 410L283.9 392.4L277.9 383.2L271.9 377.8L265.9 375.7ZM223.2 215L226.9 213.2L229.9 213.9L232.9 217.7L234.4 227L233.2 236L231.2 242L226.9 248.1L220.9 251.6L214.9 252.2L211.9 250.8L209.7 248L208.5 242L209.3 236L217.9 220.8Z" fill="#efff10"/><path d="M13.9 101L45.5 101L49.6 107L73 131L89.6 146L111.8 164L120.4 173L125.9 182L133.2 200L153.6 227L160.5 239L165.2 254L167.2 266L165.3 293L166.4 302L168.2 308L172.9 317L184.9 332.5L193.9 341.3L202.9 346.6L211.9 347.7L226.9 344.2L235.9 344.1L244.9 348.4L251.8 356L253.2 359L253.7 365L251.1 371L244.9 377.6L221.9 395L217.2 401L212.8 410L210.8 419L207.7 446L208.5 461L207.9 464L199.9 477.1L198.3 482L199.3 488L202.9 490.6L205.9 490.7L208.9 489.5L213.2 485L215.3 479L216.6 461L220.8 455L224.2 452L229.9 448.7L238.9 446L265.9 444.3L274.9 442.6L283.9 438.8L292.3 431L296.3 422L297.2 416L296.7 410L290 389L282.2 371L282.1 362L287.2 353L305.7 332L310.6 323L319.1 302L323.7 296L330.4 290L339.1 284L349.9 278.5L358.9 275.9L367.9 275.9L373.9 278L379.9 283.8L381.1 287L382.4 302L384 308L388.2 314L391.9 316.3L397.9 317.9L403.9 318.2L427.9 315.5L439.9 315.8L439.9 593L13.9 593ZM220.9 224L223.9 221.7L226.9 221.2L229.9 224L230.5 233L229.5 239L226.4 245L222.7 248L217.9 249.4L214.9 248.8L211.9 245.8L210.9 239L213.4 233Z" fill="#ffff00"/><path d="M13.9 101L33 101L37.4 107L64.4 134L106.9 168.4L116.9 179L121.9 187.1L127.9 200.3L149.7 230L154.9 239L158.7 251L161 263L162 296L164.4 308L171.6 323L184.9 340.1L193.9 349L202.9 354.3L205.9 355L211.9 354.5L223.9 350L229.9 349.1L235.9 350.2L240.3 353L242.9 356L244.3 359L244.7 365L241.9 371L235.9 376.6L220.9 384.8L215.7 389L209.4 398L205.6 407L199 446L199.6 464L195.5 482L196.3 488L199.9 492.6L202.9 494.1L208.9 494.2L214.9 490.6L220.6 482L228.8 461L235.9 454L244.9 451.1L268.9 450.8L279.8 449L292.9 443.1L299.2 437L304.8 425L306.2 416L306 410L303.9 401L292 371L291.6 362L294 356L298.7 350L313.4 338L319.1 332L322.4 326L327.7 308L330.4 302L337.1 293L343.9 287.3L349.9 283.9L358.9 281.1L367.9 281.3L373.9 284L376.5 287L377.6 290L380.3 311L384 317L388.9 320.1L397.9 321.6L424.9 320.4L439.9 322.2L439.9 593L13.9 593ZM217.1 233L220.9 230.3L223.9 230L226.1 233L226.6 236L225.2 242L220.9 246L217.9 246.5L214.9 245.3L213.3 242L214.5 236Z" fill="#ffef00"/><path d="M13.9 101L20 101L24.7 107L58.8 140L100.9 171.6L109.9 179.7L115.9 187.1L124.9 203L143.9 230L149.2 239L152.4 248L155.5 263L159.9 305L164.8 320L171.9 332L187.9 352.4L199.9 364.2L209.6 371L209.8 374L202.9 391L199.3 404L194.3 446L195.4 464L193.4 485L195.5 491L199.9 495.8L202.9 497.4L208.9 498.1L212.8 497L217.9 493.6L224.5 485L234.8 464L237 461L241 458L247.9 456.5L268.9 457.4L280.9 456.2L298.9 449.1L305.9 443L311 434L314.4 425L317.1 413L317.5 404L316.2 395L314.1 389L301.6 371L299.5 365L299.5 362L301.9 356.9L304.9 354.3L310.9 351.8L316.9 350.9L322.9 351.3L327.5 353L340.9 363.8L346.9 366.2L352.9 366L355.9 364.5L358.3 362L360.3 356L361.9 344L361.4 335L358.9 331.6L343.9 324.1L340.8 320L339 314L339.4 305L341.7 299L346.2 293L349.9 290.1L355.9 287.3L361.9 286.4L367.9 287.5L371.4 290L374 296L374.9 317L376.9 321.2L379.9 323.7L388.9 325.8L421.9 324.5L439.9 328.9L439.9 593L13.9 593ZM216.7 239L217.9 237.2L220.9 236.6L222.1 239L220.9 242.2L217.9 242.8L217 242ZM223.4 356L229.9 354.4L232.9 355L235.9 357.2L238 362L236 368L232.9 370.7L226.9 373L220.9 373.3L212.7 371L213.3 368L216.9 362Z" fill="#ffdf00"/><path d="M13.9 113L13.9 110.8L19.9 114.7L56.8 149L94.9 174.7L106.9 184.4L115.9 195.4L143.7 239L148.6 254L156.6 308L159.9 320L165.9 332L190 368L193.7 377L194.5 386L190.7 446L192 464L191.2 482L192.1 488L193.9 492.3L196.9 496.5L202.9 500.9L205.9 501.9L211.9 501.6L220.2 497L227.9 488L240.8 467L244.9 463.6L250.9 462.8L274.9 463.9L280.9 463.4L296 458L307.9 451.3L315.1 443L320.3 434L334.8 398L337.9 392.5L343.9 386.5L358.9 376.8L364.9 371L370 362L376.9 342.5L380 338L382.9 335.7L397.9 329.9L412.9 328L424.9 329.8L439.9 336.9L439.9 593L13.9 593ZM353 296L355.9 294.2L361.9 293L364.9 293.8L367.8 296L368.9 302L367.9 305.9L364.9 310.4L361.9 312.5L358.9 313L352.9 310.6L349.9 305.3L349.8 302Z" fill="#ffcf00"/><path d="M13.9 125L13.9 122.4L19.9 126.2L52.9 156.3L94.9 181.8L106.9 191.3L115.9 202.6L139.9 241.9L143.7 254L150.8 293L153.6 314L156 323L160.9 333.7L175.8 356L184.8 377L186.8 392L187.3 443L189.6 485L191.2 491L193.9 496.3L196.9 500.1L202.9 504.7L205.9 505.8L211.9 505.9L220.9 501.6L228.5 494L241.9 476.2L247.9 471.2L256.9 469.1L277.9 470.2L283.9 469.2L301.9 461.7L313.9 454.1L319.2 449L326.2 440L346.9 405.4L372.3 380L379.1 368L387.1 347L391.2 341L398.5 335L406.9 332.2L418.9 332.8L428 338L439.9 349.1L439.9 593L13.9 593Z" fill="#ffbf00"/><path d="M13.9 134L13.9 133.3L16.9 134.7L22.9 139.4L46.9 162.3L67.9 172.5L94.9 188.3L103.9 194.6L113.7 206L135 242L139.3 254L147.5 296L149 314L151.7 326L155.6 335L170.1 356L175 368L178.3 380L180.8 398L188.4 488L190.9 495.2L193.9 500.4L196.9 504.1L202.9 508.9L205.9 510.2L211.9 510.4L220.9 506.6L228.4 500L241.9 483.8L250.9 476.8L259.9 474.5L277.9 475.1L283.9 474.4L303.4 467L318.7 458L331.7 446L346.9 423.1L352.9 415.7L361.9 407.5L378.7 395L387 386L394.1 368L399.4 347L402.7 341L406.9 338.2L409.9 337.7L415.9 338.4L419.7 341L421.9 344L425.7 353L430.9 378.3L433.9 383L439.9 387.1L439.9 593L13.9 593Z" fill="#ffaf00"/><path d="M13.9 146L13.9 143.4L19.9 146.9L43.9 168.9L64.9 177.7L81.8 188L97.9 195.7L103.9 200.2L112.9 211.5L122 230L131.8 245L135.1 254L138.5 278L143.2 296L144.1 314L146.3 326L151.4 338L164.8 356L170 371L176.8 410L185.5 482L187.3 491L193.9 504.8L199.9 511.5L202.9 513.5L205.9 514.6L211.9 514.8L220.9 511.5L229.9 504L244.9 487.1L253.9 481.2L262.9 479L280.9 479L286.9 478.1L301.9 473.3L316.9 466L337.8 452L343.1 446L350.2 434L355.9 426.6L361.9 421.4L370.9 416.5L382.9 413.1L394.9 412.6L424.9 417.6L439.9 421.2L439.9 593L13.9 593Z" fill="#ff9f00"/><path d="M13.9 155L13.9 152.6L19.9 155.9L40.9 173.3L58.9 180.9L76.9 191.6L91.9 197.8L100.9 203L108.9 212L118.9 233.7L128.9 248L131.6 257L133.8 281L138.3 299L138.6 314L140.7 326L147.2 341L159.5 356L162.4 362L174.1 422L184.7 488L189.9 503L196.9 513.7L199.9 516.5L205.9 519.2L211.9 519.4L217.9 517.8L227.3 512L244.9 492.6L253.9 486.1L262.9 483.3L283.9 482.5L298.9 479.7L310.9 475.3L348 458L351.4 455L355.6 443L358.9 436.5L364.9 431L370.9 428.7L379.9 428.7L385.9 430.8L398.9 440L403.9 442.5L424.9 444.5L439.9 447.2L439.9 593L13.9 593Z" fill="#ff8f00"/><path d="M13.9 161L19.9 163.9L37.9 177.2L55.2 185L76.2 197L91.9 202.9L100.9 208.2L106.9 215.8L115.4 236L124.9 248.5L127.7 257L127.6 281L131.1 299L132.7 317L134.7 326L137.9 335L142.5 344L154.9 358.2L157.1 362L160.2 386L171.2 428L183.4 491L188.5 506L193.9 515.8L196.9 519.5L199.9 521.8L206 524L211.9 524L220.9 521.3L230.2 515L247.9 495L253.9 490.6L259.9 488.1L268.9 486.5L289.9 486L301.9 484.2L310.9 481.3L334.9 470.8L355.9 466.6L361 464L365.7 458L366.6 455L367.4 443L370.9 441.3L373.9 442.1L387.2 452L397.9 457.4L439.9 469.7L439.9 593L13.9 593Z" fill="#ff8000"/><path d="M13.9 170L13.9 168.5L16.9 169.5L34.9 181.4L49.9 188L70.1 200L91.9 208L97.9 211L103.6 218L110.9 236L122 251L123.1 254L123.5 260L120.4 272L120 278L126.7 320L130.6 332L136.9 345.9L150.2 365L153.8 386L168 431L183.6 500L190.9 518L195.1 524L199.9 527.4L208.9 528.9L217.9 527.2L223.9 524.7L233 518L245.1 503L250.9 497.3L256.9 493.4L262.9 491.2L271.9 490L292.9 490.4L304.9 489.2L313.9 486.7L331.9 478.5L343.9 475.8L376.9 473L391.9 475.4L439.9 491.4L439.9 593L13.9 593Z" fill="#ff7000"/><path d="M13.9 176L19.9 178.1L31.9 187.2L46.9 192.7L61.9 203.1L76.9 209.5L95.2 215L98.3 218L105.5 236L116.6 251L118.3 257L116.8 260L112.9 261.8L106.4 260L103.9 261.4L103.7 266L109.9 278L118.3 314L121.2 323L130.9 346.3L141.7 368L161.1 422L170.1 452L182.8 506L188 521L190.9 526.2L193.9 529.5L199.9 532.4L205.9 533.4L214.9 532.6L223.9 529.4L229.9 526L235.9 520.9L250.9 502.2L256.9 497.7L262.9 495.2L274.9 493.7L298.9 495.6L307.9 495.2L316.9 493.1L331.9 485.7L337.9 483.9L349.9 483L361.7 485L439.9 513.3L439.9 593L13.9 593Z" fill="#ff6000"/><path d="M13.9 185L18.5 188L28.9 198.6L31.9 199.9L40.9 200.8L58.9 213L82.3 221L88.5 224L91.9 227.9L98.2 239L100.4 245L99.7 248L94.4 257L93.6 263L94.8 269L104.4 290L112.8 317L147.5 398L157.8 425L172.9 473.8L179.1 503L183.9 521L186.5 527L190.9 532.5L196.9 535.7L205.9 537.4L214.9 536.8L223.9 533.9L231.2 530L238.3 524L253.9 504.8L259.9 500.8L265.9 498.8L277.9 498.1L301.9 502.4L310.9 503L322.9 501.1L337.9 494.9L346.9 494.7L352.9 497.9L358.8 506L364.9 510.3L385.9 514.9L400.9 519.4L439.9 535.3L439.9 593L13.9 593Z" fill="#ff5000"/><path d="M13.9 203L37.9 217.6L52.9 230.6L67.9 235.4L73.9 238.3L79.7 245L86.5 272L97.9 295.3L107.2 317L119.6 341L130.9 371L148.2 410L169.9 473.6L180.9 524L183.8 530L187.9 534.7L193.9 538.2L205.9 541.1L211.9 541.1L220.9 539.2L229.9 535.3L237.5 530L253.9 510.8L259.9 506L265.9 503.6L271.9 502.7L283.9 504.1L310.9 513.4L334.9 516.7L385.9 533.4L407.6 542L439.9 557.8L439.9 593L13.9 593Z" fill="#ff4000"/><path d="M13.9 221L13.9 218.3L19.9 221.3L57.5 248L64.9 254.4L70.9 262.8L99.6 314L112.9 335.2L118.4 347L127.5 374L139.7 398L144.5 410L168.3 479L176.7 524L179.3 530L184.1 536L190.9 540.2L202.9 544.1L211.9 545L220.9 543.4L231.2 539L238.9 533.8L253.9 517L259.9 511.7L268.9 508.2L274.9 508L280.9 508.9L292.9 513.9L307.9 524L328.9 529L343.9 534.2L378 548L403 560L439.9 581.2L439.9 593L13.9 593Z" fill="#ff3000"/><path d="M13.9 236L13.9 234L22.9 239L46.9 256.4L57.4 266L67.9 279.1L94.7 317L106.9 332.5L112.2 341L115.9 350L122.9 374L136.1 398L139.9 407L149.8 440L165.8 482L167.7 491L170.2 515L172.2 524L176.4 533L181.9 538.9L187.9 542.3L205.9 548.4L211.9 549.1L220.9 547.7L229.9 544.2L238.9 539L244.9 533.6L256.9 519.8L262.9 515.5L268.9 513.5L277.9 513.9L287.6 518L304.9 531.1L343.1 548L377.9 566L407.4 584L415.7 590L418.1 593L13.9 593Z" fill="#ff2000"/><path d="M13.9 251L13.9 249.8L16.9 250.9L25.9 256.7L38.7 266L49.9 275.6L103.9 335.2L109.9 343.7L112.4 350L118.3 374L122.5 383L135.1 404L146 443L162.1 482L164 491L165.2 512L166.7 521L169.7 530L175.9 539.1L184.9 544.9L205.9 552.7L211.9 553.6L220.9 552.6L235.9 546.4L241.9 542.5L247.9 536.7L256.9 525.6L262.9 520.7L268.9 518.6L274.9 518.8L283.9 522.6L304.9 540L366.2 578L379.4 587L385.6 593L13.9 593Z" fill="#ff1000"/><path d="M13.9 266L16.9 266.8L22.9 270.4L43.9 286.1L82.9 323L100.9 338.5L106.9 345.8L109.3 353L111.5 368L114.4 377L118.9 386L127.9 398.5L132.4 407L134.3 413L138.2 434L141.8 446L158 482L159.9 491L160.3 512L162.2 524L165.5 533L172 542L178.9 547.1L190.9 551.3L202.9 556.9L211.9 558.9L220.9 558.4L235.9 552.9L244.9 547.1L262.9 525.8L268.9 523.5L274.9 524.3L283.6 530L304.9 551.5L350.8 587L356.4 593L13.9 593Z" fill="#ff0000"/><path d="M13.9 284L13.9 281.6L16.9 282.7L37.9 296.6L78.4 329L97.9 343.2L103.8 350L106.1 368L108.7 377L114.7 389L124.9 402.8L128.9 410L132.2 431L136 446L142 461L154.1 485L155.1 491L154.8 512L156.4 524L160.8 536L167.1 545L175.9 551.9L202.9 563.5L211.9 565.5L223.9 565L235.9 561.3L244.9 556.4L254 548L262.9 532.7L265.9 529.8L268.9 529L271.9 529.4L276.9 533L289.9 551L298.9 561.5L325.7 587L330.6 593L13.9 593Z" fill="#ef0000"/><path d="M13.9 299L13.9 297.6L16.9 298.6L34.9 309.4L89.7 347L95.8 353L101.1 374L104.5 383L123.3 413L126.6 434L130.6 449L135.2 461L148 488L148.7 515L151.4 530L156.7 542L163.9 551.1L172.9 558.1L193.9 568.3L205.9 572.6L217.9 574.3L226.9 573.9L238.9 571.2L251.1 566L265.9 556.8L268.9 555.9L271.9 556.5L280.9 564.4L301.9 587L306.2 593L13.9 593Z" fill="#df0000"/><path d="M13.9 314L19.9 316L31.9 322.7L70.9 346.6L82.9 355.8L87.5 362L99.2 389L115.3 416L124.1 452L138.8 488L140.3 497L141.5 518L144.6 533L149.7 545L157.9 556.2L166.9 564.2L175.9 569.9L190.9 577.6L202.9 582.2L214.9 585L223.9 585.9L259.9 585L268.9 587.5L273 590L275.7 593L13.9 593Z" fill="#cf0000"/><path d="M13.9 332L13.9 330.2L19.9 332.3L52.9 350L67.9 360.1L78.2 371L101.1 410L106.8 422L116.2 455L128.3 488L130.3 497L134.1 527L137.5 539L141.4 548L148.9 559.7L157.9 569.4L169.9 578.8L192.6 593L13.9 593Z" fill="#bf0000"/><path d="M13.9 350L13.9 347.9L25.9 352.6L43.9 362L55.9 369.9L67.9 381.1L82.9 402.4L90.9 416L96.5 428L114.6 482L118.6 497L124.3 530L130 548L136.1 560L142.9 569.7L165.6 593L13.9 593Z" fill="#af0000"/><path d="M13.9 368L19.9 369.6L31.9 375.6L49.9 387.7L64.9 403.2L76.9 420.7L86.3 440L99.9 479L104.9 497L112.4 533L118.1 551L127.9 570.6L143.9 593L13.9 593Z" fill="#9f0000"/><path d="M13.9 392L13.9 391L16.9 391.9L25.9 396.6L43.9 409.9L55.9 423.1L66.9 440L74.1 455L83.1 479L88.9 498.6L98.8 539L103.6 554L111.4 572L123.1 593L13.9 593Z" fill="#8f0000"/><path d="M13.9 422L13.9 420.6L19.9 423.6L35.5 437L46.9 451.4L55.8 467L67.7 497L85.7 557L101.1 593L13.9 593Z" fill="#800000"/></g>
<g clip-path="url(#cF)"><path d="M115.3 137.7L119 139.2L126.5 142.4L132.4 146.7L136.8 152.3L139 155.2M165.2 213.8L167.7 216.3L172.7 221.3L177 226.9L180.8 233.2L184.5 238.8L188.3 243.8L192 246.9L195.8 248.2L199.2 246.9L202.3 243.2L204.8 237.5L206.7 230.1L208.6 222.6L210.4 215.1L212.3 208.2L214.2 202L217 197L220.7 193.2L225.1 190.7L230.1 189.5L234.8 190.1L239.1 192.6L242 197L243.2 203.2L243.5 210.1L242.9 217.6L242 225.1L240.7 232.6L238.8 239.4L236.3 245.7L232.6 250.7L227.6 254.4L222.6 258.1L217.6 261.9L212.6 266.3L207.6 271.2L202.6 275.6L197.6 279.4L192 283.1L185.8 286.9L181.1 290L178 292.5L176.7 295.6L177.4 299.3L179.5 303.7L183.3 308.7L187.7 313.7L192.6 318.7L197.6 323.1L202.6 326.8L207 329.6L210.7 331.5L214.5 330.2L218.2 325.9L221.4 320.6L223.9 314.3L225.7 308.1L227 301.8L228.2 295.6L229.5 289.3L232 283.7L235.7 278.7L240.1 276.9L245.1 278.1L250.7 278.7L256.9 278.7L263.2 277.5L269.4 275L275 271.9L280 268.1L283.8 265L286.3 262.5L287.5 261.3M347.4 263.8L351.2 262.5L358.7 260L366.2 258.8L373.6 258.8L379.9 260.6L384.9 264.4L388.3 270L390.2 277.5L391.4 285L392.1 292.5L393.6 298.7L396.1 303.7L399.9 306.2L404.9 306.2L409.8 304.3L414.8 300.6L420.1 296.5L425.8 292.2L428.6 290M257.6 318.7L258.8 316.8L261.3 313.1L265 310.9L270 310.3L274.4 311.5L278.2 314.6L280.7 318.4L281.9 322.7L280.7 326.5L276.9 329.6L272.5 330.9L267.5 330.2L263.5 328.7L260.4 326.2L258.5 323.4L257.9 320.2L257.6 318.7M242.6 417.5L245.7 418.2L251.9 419.4L258.2 419.1L264.4 417.2L269.4 414.4L273.2 410.7L274.4 406.9L273.2 403.2L271 400.6L267.9 399.1L266.3 398.3M202.6 483.7L202.6 487.4L202.6 494.9L202.6 498.7M96.5 217.6L97.2 221.6L98.4 229.7L102.5 238.2L109.3 246.9L114 252.5L116.5 255L117.7 256.3M31.5 193.3L34 194.2L39 196.1L41.5 197.1M112.8 315.2L115.9 322.4L122.1 336.7L128.4 351.4L134.6 366.4L140.8 381.3L147.1 396.3L152.7 410L157.7 422.5L162.1 434.4L165.8 445.6L169.2 456.9L172.4 468.1L175.2 478.7L177.7 488.7L179.9 498.1L181.7 506.8L183.6 514.9L185.5 522.4L188 528.3L191.1 532.7L195.8 535.5L202 536.7L208.9 536.7L216.4 535.5L223.2 533.3L229.5 530.2L235.1 526.1L240.1 521.1L244.5 515.5L248.2 509.3L252.6 504.3L257.6 500.5L263.2 498.1L269.4 496.8L275.3 496.5L281 497.1L283.8 497.4M335 489.9L338.1 489.6L344.3 489L349.9 489.6L354.9 491.5L358.7 494.6L361.2 499L362.7 502.7L363.4 505.9L363.7 507.4" fill="none" stroke="#fff" stroke-width="4.1" stroke-linejoin="round" stroke-linecap="butt"/></g><path d="M207.6 109L208.1 109.4L209 110.4L210.4 111.8L212.3 113.7L214.3 115.5L216.5 117.4L218.9 119.3L221.4 121.1L224 123L226.8 124.9L229.8 126.8L232.9 128.6L236 130.4L239.1 132.1L242.3 133.8L245.4 135.3L247.7 136.5L249.3 137.3L250.1 137.7M277.5 183.9L277.8 184.6L278.5 186.2L279.4 188.5L280.7 191.7L282.2 194.6L284.1 197.4L286.3 200.1L288.8 202.6L291.6 204.7L294.7 206.4L298.1 207.7L301.9 208.7L305.9 209.4L310.3 209.8L315 210.1L320 210.1L325.1 210L330.4 209.8L335.9 209.6L341.5 209.3L347.1 208.8L352.7 208.2L358.4 207.4L364 206.5L369.4 205.4L374.7 204.2L379.9 202.7L384.9 201.2L389.7 199.5L394.4 197.8L398.9 196L403.3 194.2L407.4 192.3L411.1 190.4L414.5 188.5L417.7 186.7L420.5 185L423 183.4L425.1 182L427 180.7L428.4 179.8L429.4 179.2L429.8 178.9M280 109L280.2 109.4L280.5 110.1L281 111.3L281.6 112.9L282.5 114.4L283.8 115.8L285.3 117.1L287.2 118.3L289.2 119.2L291.4 119.7L293.8 119.7L296.3 119.4L298.7 118.9L301 118.1L303.3 117.1L305.5 115.8L307.5 114.6L309.4 113.3L311.1 112.1L312.6 110.8L313.8 109.9L314.6 109.3L315 109" fill="none" stroke="#f00" stroke-width="5.5" stroke-linejoin="round"/>
<path d="M0.4 65.9L6.4 67.1L11.4 69L17.6 71.5L23.9 74.6L27 77.1L31.4 78.4L37.6 80.8L43.8 83.3L48.8 85.8L53.8 88.3L56.3 91.5L56.9 94.6L55.7 97.1L53.8 98.3L56.3 100.2L56.9 103.3L55.7 105.2L58.2 107.1L56.9 109.6L54.4 110.8L53.2 113.3L54.4 116.4L56.3 118.3L60.7 119.5L62.6 122.7L63.2 126.4L66.9 127.7L73.8 128.3L80 130.2L86.3 132L93.8 135.1L100 138.3L105 141.4L110 146.4L115 151.4L119.4 156.4L122.5 161.4L125 167.6L128.1 173.8L130.6 179.5L131.5 184.5L130 188.2L126.2 190.7L121.9 190.1L116.2 188.2L110 185.1L103.8 182L97.5 178.8L91.3 175.7L85 173.2L78.8 171.3L72.5 168.9L66.3 167.6L60.1 167L53.8 166.4L48.8 164.5L44.5 162.9L40.1 162.6L35.1 164.5L28.9 167L23.9 168.9L20.1 170.1L17.6 168.2L15.1 167L12.6 168.9L8.9 170.1L5.1 171.3L2.6 172.6L0.4 173.2ZM22 175.7L27.6 171.3L33.9 167.6L40.1 165.7L46.3 165.7L51.3 167.6L55.1 170.7L58.8 175.1L62.6 179.5L68.8 183.2L75 186.3L80 188.8L85 192.6L88.8 193.8L93.8 195.7L98.8 197.6L105 200.1L111.2 203.8L116.2 206.9L121.9 208.2L126.2 210L128.7 213.2L128.1 217.5L125 221.3L120.6 222.5L115 221.3L110 219.4L103.8 216.3L97.5 214.4L91.3 214.4L86.3 212.5L80 209.4L73.8 206.3L67.6 202.6L61.3 199.4L55.1 196.3L48.8 192.6L42.6 188.8L37.6 185.7L35.1 185.1L32 185.7L28.9 183.2L25.7 180.7L22.6 178.2ZM0.4 180.1L6.4 183.8L12.6 187.6L18.9 191.3L23.9 193.8L28.9 196.9L32.6 200.1L36.3 203.8L38.8 207.6L40.7 211.3L42.6 214.4L40.1 216.3L43.8 215.7L47.6 217.5L51.3 219.4L55.1 221.9L58.8 223.8L62.6 225.7L66.3 227.5L70.1 230L72.5 232.5L73.2 236.3L72.5 237.1L75 234L80 235.2L86.3 237.7L92.5 240.8L98.8 244.6L103.8 248.3L107.5 252.1L111.2 256.4L114.4 261.4L117.5 266.4L120.6 272.7L123.7 278.9L126.9 285.2L129.3 291.4L131.2 297.6L131.2 302.6L129.3 307L125 309.5L118.7 310.1L111.2 310.7L103.8 311.4L96.3 312.6L88.8 313.9L81.3 315.7L73.8 318.2L67.6 320.7L62.6 323.2L58.8 326.3L55.1 328.8L51.3 331.3L47.6 333.2L42.6 335.1L36.3 337.6L31.4 340.1L26.4 342.6L22.6 345.7L17.6 348.2L11.4 349.4L6.4 350.7L0.4 352.6ZM83.8 225.9L88.8 225.2L95 227.7L101.3 230.9L107.5 234L111.2 237.1L113.1 240.8L112.5 243.3L110 242.7L105 239.6L98.8 235.8L92.5 232.1L86.3 229ZM115.6 236.5L118.7 235.2L123.7 237.1L127.5 240.8L127.5 244.6L123.7 247.1L120 244.6L116.9 240.8ZM0.4 403.3L5.1 399L11.4 394.6L17.6 391.5L23.9 389.6L30.1 388.4L38.8 388.4L46.3 389.6L52.6 392.1L58.8 395.8L65.1 400.8L71.3 406.5L76.3 412.1L81.3 418.3L86.3 424.6L91.3 430.8L96.3 435.8L102.5 440.2L105 443.3L107.5 441.4L115 440.2L121.2 443.9L127.5 446.4L133.7 448.3L137.5 450.8L142.5 452L148.7 452.6L154.9 450.8L161.2 448.9L164.9 450.1L164.9 452.6L159.9 455.8L153.7 458.3L147.4 461.4L141.2 464.5L136.2 468.2L131.2 471.4L127.5 475.1L123.7 478.9L118.7 482.6L113.7 487L108.7 491.3L105 495.7L101.3 499L93.8 501.5L86.3 502.1L80 502.7L76.3 501.5L74.4 499L71.3 502.1L67.6 505.9L63.8 510.2L61.3 514L63.2 520.2L66.9 519.6L68.2 515.2L71.3 511.5L73.8 513.4L75.7 515.8L73.8 519.6L70.7 522.7L71.9 527.7L73.8 522.1L78.8 517.7L85 514L91.3 510.2L97.5 507.1L103.8 503.4L107.5 499.6L111.2 495.1L116.2 492.6L122.5 490.7L128.7 488.8L134.3 487L138.7 488.8L141.2 492.6L145 495.1L138.7 500.2L135 504L138.7 507.7L141.2 512.7L142.5 517.7L136.2 520.2L132.5 523.3L133.7 527.7L136.2 531.5L133.7 535.2L136.2 538.9L141.2 540.8L145.6 540.2L142.5 543.9L140 547.7L137.5 551.4L132.5 553.9L127.5 555.8L123.7 557.7L120 555.8L116.9 552L118.7 547.7L119.4 542.7L117.5 538.3L120.6 533.9L117.5 530.2L115.6 527.1L111.9 529L113.7 533.9L114.4 538.9L112.5 545.2L110 550.2L106.3 553.9L101.3 555.8L96.3 556.4L95 551.4L95 543.9L95.6 536.4L94.4 534.6L92.5 537.7L92.5 546.4L91.9 552.7L88.8 550.2L86.3 545.2L83.8 540.2L80 541.4L73.8 540.8L80 542.1L77.5 546.4L76.3 551.4L73.8 555.2L70.1 557.7L66.3 558.9L61.3 557.7L63.8 561.4L60.1 564.5L66.9 565.2L73.8 564.5L81.3 563.9L87.5 565.2L93.8 565.8L91.9 570.1L92.5 572.6L86.3 574.5L80 573.9L76.9 573.3L78.2 577.6L75.7 581.4L80 578.9L83.8 576.4L88.8 575.1L93.8 574.5L97.5 577.6L102.5 578.9L98.8 581.4L97.5 585.1L102.5 587.6L106.9 589.5L102.5 591.4L98.8 593.2L93.8 593.9L88.8 592.6L83.8 590.1L78.8 587.6L75 589.5L76.9 593.2L82.5 595.1L87.5 596.4L92.5 598.9L95 602.6L98.8 605.1L98.1 608.8L95 611.3L93.8 615.1L93.1 621.3L96.3 622.6L92.5 623.8L86.3 622L80 625.1L73.8 625.7L66.3 626.3L58.8 625.7L51.3 623.8L49.5 625.1L52.6 626.9L61.3 626.9L68.8 627.6L73.8 630.1L75 635.1L76.9 641.3L80 646.3L84.4 652.5L84.4 654L0.4 654Z" fill="#808080" stroke="#000" stroke-width="1.7" stroke-linejoin="miter"/>
<path d="M206.2 327.9L210.4 326.9L215 330.6L218.1 329.1L221.2 330.3L223.9 333L218.9 335.7L215.6 334.9L212.3 336.4L208 334.7L205.8 331.7ZM254.8 329.2L258.7 328L260.2 330.7L259.5 334.8L256.3 334.2L254 332ZM185.7 366.6L191.1 366.8L195.1 367.4L199.3 365.4L203.7 369L209.1 371.5L208 376.3L202.5 374.5L199.5 376L196.3 375.3L193.2 376.3L189.4 376L186.1 372.7ZM157.3 392.2L162.3 388.6L165.8 389L168.6 386.5L172.6 387.1L176.6 386.2L179.1 388.2L180 391.4L179.4 396.5L177.5 401.5L174.1 401.5L171 400.5L168.1 398.7L165.5 396.9L159.4 395.8ZM184.8 399.7L189.8 396.8L193.3 397.1L196.2 394.6L199.4 395.5L202.8 394.9L206.1 398L203.8 401.4L201.4 401.3L196.3 400.9L193.4 402.5L190 403.1L185.5 402.1ZM135.6 409.7L139.4 408.2L141.8 411.7L146.1 412.8L149.5 413.3L152.6 412.3L155.7 411.5L158.8 412.6L162 413.5L163.9 416.2L167.4 416.6L170.5 417.9L173.3 419.9L175.9 422.1L179.9 422.4L182.9 424.5L185.5 427.2L188.2 429.8L191.8 430.9L195.3 432.7L192.8 435.6L192.5 440.3L190.7 442.9L186 444.3L182.8 443.1L179.6 441.6L176.7 439.6L174 436.8L170.5 437.8L167.5 436.1L164.4 436.6L161.3 437.9L158.2 436.8L155.1 437.5L152 437.5L148.2 436.8L147.3 433.5L144.9 431.4L142.1 426.4L142.2 423.2L141.2 420.1L139.2 415.5L136.5 412.6ZM191.4 442.1L196.1 442.9L201.3 443L207.2 441.4L208.7 446.3L208.5 449.5L208.3 453.4L205 455.1L205.8 460L201.8 459.5L197.7 455.8L197.3 452L194.9 447.7L193.8 444.6Z" fill="#808080" stroke="#000" stroke-width="1.9" stroke-linejoin="miter"/>
<path d="M111.2 505.2L113.7 502.1L118.7 502.1L120.6 505.2L118.7 510.2L115 512.7L111.9 510.9Z" fill="#fff" stroke="#000" stroke-width="1.1"/>
<path d="M160.8 109.5h0M180.8 109h0M217.7 108.5h0M253.9 108.5h0M290.6 108.5h0M326.8 109h0M363 109h0M399.7 109h0M435.4 109h0M435.4 186.4h0M435.4 249.3h0M435.4 311.9h0M435.4 343.1h0M435.4 372.4h0M435.4 421h0M290.6 166.9h0M328.1 173.4h0M363.8 175.1h0M401 181.4h0M182 193.4h0M199.5 197.1h0M217.7 200.1h0M235.7 203.8h0M253.9 208.8h0M326.8 225.1h0M363 233.8h0M398.7 240.5h0M198.2 240.8h0M217 243.8h0M235.7 251.3h0M253.9 258.8h0M203.2 271.2h0M216.2 271.2h0M235.2 281.2h0M253.9 287h0M326.8 280h0M363 290.7h0M400.5 301.2h0M182 298.7h0M200.2 306.2h0M218.2 309.4h0M235.7 313.7h0M266.9 321.9h0M290.6 298.7h0M326.8 310.7h0M363 321.9h0M399.2 332.4h0M290.6 331.2h0M326.8 342.4h0M363 354.9h0M399.2 364.1h0M218.2 353.6h0M253.9 364.1h0M288.1 377.4h0M326.8 387.3h0M363 397.3h0M399.2 409.8h0M218.2 395.6h0M253.9 406.1h0M292.6 417.3h0M326.8 428.5h0M217.7 436h0M132.1 268.8h0M153.3 282h0M113.4 253.8h0M133.3 237.5h0M150.8 240h0M175.8 237.5h0M98.4 238.8h0M93.4 217.6h0M113.4 232.6h0M15.9 181.5h0M30.9 193.3h0M46.5 205.2h0M59 212.7h0M62.1 216.4h0M72.1 216.4h0M77.7 230.1h0M253.9 447.5h0M326.8 468.2h0M363 440.8h0M399.7 451.2h0M435.4 461.2h0M199.5 504.9h0M217 508.7h0M234.9 514.2h0M290.6 530.6h0M182.8 562.3h0M199.5 566.6h0M218.2 572.3h0M235.2 578.6h0M253.9 581.1h0" stroke="#000" stroke-width="4" stroke-linecap="round" fill="none"/><text class="v" text-anchor="middle" transform="translate(151.5 186.4) rotate(70)" y="11.8">24</text><text class="v" text-anchor="middle" transform="translate(320 265) rotate(-3)" y="11.8">24</text><text class="v" text-anchor="middle" transform="translate(252.6 403.6) rotate(-25)" y="11.8">24</text><text class="v" text-anchor="middle" transform="translate(266.3 157.7) rotate(60)" y="11.8" style="fill:#f00">22</text><text class="v" text-anchor="middle" transform="translate(310 498.7) rotate(0)" y="11.8" style="fill:#fff;font-weight:bold">26</text><text class="v" text-anchor="middle" transform="translate(64 208.9) rotate(30)" y="11.8" style="fill:#fff;font-weight:bold">26</text><path d="M168.8 109L168.9 109.5L169 110.6L169.3 112.3L169.6 114.4L170 116.6L170.4 118.8L171 121L171.6 123.2L172.3 125.4L173.1 127.6L174 129.7L174.9 131.9L175.8 134L176.8 136.1L177.7 138L178.6 139.9L179.6 141.7L180.7 143.4L181.9 145L183.2 146.6L184.6 148L186.1 149.2L187.8 150.3L189.7 151.3L191.7 152.1L193.7 152.8L195.8 153.4L198 153.8L200.6 154.2L203.5 154.3L206.9 154.3L210.6 154.2L214.4 154L218.1 153.7L221.9 153.5L225.6 153.1L229.3 153L233.1 153L236.8 153.1L240.6 153.5L244.1 154.1L247.4 155L250.4 156.3L253.2 157.8L256 159.5L258.6 161.4L261.2 163.4L263.7 165.6L266 167.9L268.2 170.2L270.2 172.6L272.1 175.1L273.8 177.8L275.4 180.6L276.8 183.6L278 186.7L279.2 189.8L280.2 192.9L281.1 196L281.9 199.2L282.8 202.6L283.6 206.3L284.5 210.4L285.5 214.8L286.3 219.3L287.1 224L287.8 228.8L288.4 233.8L288.9 238.6L289.3 243.3L289.6 247.8L289.8 252.2L290.2 256L290.6 259.3L291.2 262L292 264.2L293.2 266.3L294.8 268.1L296.9 269.8L299.4 271.4L302 273L304.8 274.8L307.8 276.6L310.9 278.4L314 280.5L317.1 282.6L320.3 285L323.4 287.5L326.1 289.5L328.5 291.1L330.4 292.2L332 292.9L333.6 294.2L335.3 296.1L337.1 298.6L339 301.8L340.3 304.7L341.1 307.5L341.3 310.2L341 312.7L340.3 315.3L339.2 318.1L337.7 321.1L335.9 324.2L333.9 327.2L331.9 330L329.8 332.7L327.6 335.1L325.7 337.6L324.2 340.1L322.9 342.6L322 345.1L321.5 347.7L321.5 350.4L322 353.1L322.9 355.9L324.2 358.7L325.7 361.5L327.6 364.3L329.8 367.1L332 369.9L334.4 372.5L336.8 375.1L339.3 377.6L341.3 379.9L342.9 382.1L344 384.1L344.6 386L344.6 388L344 390.2L342.7 392.6L340.9 395.1L338.8 397.6L336.6 400.1L334.3 402.6L331.8 405.1L329.3 407.6L326.8 410L324.3 412.5L321.8 415L319.3 417.5L316.8 420L314.3 422.5L311.8 425L309.3 427.5L306.8 430L304.3 432.5L301.8 435L299.4 437.5L296.9 440L294.4 442.5L291.9 445L289.4 447.5L286.9 450L284.4 452.5L281.9 455L279.5 457.6L277.4 460.4L275.3 463.4L273.4 466.5L271.8 469.8L270.4 473.2L269.2 476.8L268.3 480.6L267.5 484.2L266.9 487.6L266.4 490.9L266.1 494L265.6 497.1L264.8 500.2L263.8 503.4L262.5 506.5L261.3 509.4L260 512.3L258.8 514.9L257.5 517.4L256.5 520.2L255.7 523.3L255.2 526.8L254.9 530.5L254.6 534.4L254.5 538.5L254.4 542.7L254.4 547L254.3 551.3L253.9 555.3L253.5 559.2L252.9 563L252.2 566.6L251.4 570L250.5 573.3L249.6 576.4L248.9 578.7L248.4 580.3L248.2 581.1" fill="none" stroke="#000" stroke-width="7.5" stroke-dasharray="7.5 7.1" stroke-linejoin="round"/>
<path d="M145.3 0V653.8M290.6 0V653.8M435.9 0V653.8M0 145.3H508.7M0 290.6H508.7M0 435.9H508.7M0 581.2H508.7" stroke="#000" stroke-opacity=".13" stroke-width="1.5" fill="none"/>
<path d="M145.3 0v7M145.3 653.8v-7M290.6 0v7M290.6 653.8v-7M435.9 0v7M435.9 653.8v-7M0 145.3h7M508.7 145.3h-7M0 290.6h7M508.7 290.6h-7M0 435.9h7M508.7 435.9h-7M0 581.2h7M508.7 581.2h-7" stroke="#1e1e1e" stroke-width="1.5" fill="none"/>
<text class="u k" x="29.1" y="57">SST (°C)</text>
<text class="k" font-size="32.2" transform="translate(22.6 125.8) rotate(29.5)">Jiangsu</text>
<clipPath id="LF"><path d="M0 235H100L110.6 256.5L113.8 261.5L116.9 266.5L120 272.8L123.1 279L126 290H0Z"/></clipPath><g clip-path="url(#LF)"><text class="k" font-size="31.8" x="4" y="275.4">Shanghai</text></g>
<text class="k" font-size="25.7" x="7.4" y="373.1">Hangzhou Bay</text>
<text class="k" font-size="32.6" x="7.2" y="469.3">Zhejiang</text>
<text class="b" font-size="40.5" text-anchor="middle" x="254.1" y="625">2015 Jul</text>
<rect x="0" y="0" width="508.7" height="653.8" fill="none" stroke="#1e1e1e" stroke-width="1.6"/>
<rect x="537.8" y="0" width="49.7" height="653.80" fill="#00008f"/>
<rect x="537.8" y="0" width="49.7" height="643.58" fill="#00009f"/>
<rect x="537.8" y="0" width="49.7" height="633.37" fill="#0000af"/>
<rect x="537.8" y="0" width="49.7" height="623.15" fill="#0000bf"/>
<rect x="537.8" y="0" width="49.7" height="612.94" fill="#0000cf"/>
<rect x="537.8" y="0" width="49.7" height="602.72" fill="#0000df"/>
<rect x="537.8" y="0" width="49.7" height="592.51" fill="#0000ef"/>
<rect x="537.8" y="0" width="49.7" height="582.29" fill="#0000ff"/>
<rect x="537.8" y="0" width="49.7" height="572.07" fill="#0010ff"/>
<rect x="537.8" y="0" width="49.7" height="561.86" fill="#0020ff"/>
<rect x="537.8" y="0" width="49.7" height="551.64" fill="#0030ff"/>
<rect x="537.8" y="0" width="49.7" height="541.43" fill="#0040ff"/>
<rect x="537.8" y="0" width="49.7" height="531.21" fill="#0050ff"/>
<rect x="537.8" y="0" width="49.7" height="521.00" fill="#0060ff"/>
<rect x="537.8" y="0" width="49.7" height="510.78" fill="#0070ff"/>
<rect x="537.8" y="0" width="49.7" height="500.57" fill="#0080ff"/>
<rect x="537.8" y="0" width="49.7" height="490.35" fill="#008fff"/>
<rect x="537.8" y="0" width="49.7" height="480.13" fill="#009fff"/>
<rect x="537.8" y="0" width="49.7" height="469.92" fill="#00afff"/>
<rect x="537.8" y="0" width="49.7" height="459.70" fill="#00bfff"/>
<rect x="537.8" y="0" width="49.7" height="449.49" fill="#00cfff"/>
<rect x="537.8" y="0" width="49.7" height="439.27" fill="#00dfff"/>
<rect x="537.8" y="0" width="49.7" height="429.06" fill="#00efff"/>
<rect x="537.8" y="0" width="49.7" height="418.84" fill="#00ffff"/>
<rect x="537.8" y="0" width="49.7" height="408.62" fill="#10ffef"/>
<rect x="537.8" y="0" width="49.7" height="398.41" fill="#20ffdf"/>
<rect x="537.8" y="0" width="49.7" height="388.19" fill="#30ffcf"/>
<rect x="537.8" y="0" width="49.7" height="377.98" fill="#40ffbf"/>
<rect x="537.8" y="0" width="49.7" height="367.76" fill="#50ffaf"/>
<rect x="537.8" y="0" width="49.7" height="357.55" fill="#60ff9f"/>
<rect x="537.8" y="0" width="49.7" height="347.33" fill="#70ff8f"/>
<rect x="537.8" y="0" width="49.7" height="337.12" fill="#80ff80"/>
<rect x="537.8" y="0" width="49.7" height="326.90" fill="#8fff70"/>
<rect x="537.8" y="0" width="49.7" height="316.68" fill="#9fff60"/>
<rect x="537.8" y="0" width="49.7" height="306.47" fill="#afff50"/>
<rect x="537.8" y="0" width="49.7" height="296.25" fill="#bfff40"/>
<rect x="537.8" y="0" width="49.7" height="286.04" fill="#cfff30"/>
<rect x="537.8" y="0" width="49.7" height="275.82" fill="#dfff20"/>
<rect x="537.8" y="0" width="49.7" height="265.61" fill="#efff10"/>
<rect x="537.8" y="0" width="49.7" height="255.39" fill="#ffff00"/>
<rect x="537.8" y="0" width="49.7" height="245.17" fill="#ffef00"/>
<rect x="537.8" y="0" width="49.7" height="234.96" fill="#ffdf00"/>
<rect x="537.8" y="0" width="49.7" height="224.74" fill="#ffcf00"/>
<rect x="537.8" y="0" width="49.7" height="214.53" fill="#ffbf00"/>
<rect x="537.8" y="0" width="49.7" height="204.31" fill="#ffaf00"/>
<rect x="537.8" y="0" width="49.7" height="194.10" fill="#ff9f00"/>
<rect x="537.8" y="0" width="49.7" height="183.88" fill="#ff8f00"/>
<rect x="537.8" y="0" width="49.7" height="173.67" fill="#ff8000"/>
<rect x="537.8" y="0" width="49.7" height="163.45" fill="#ff7000"/>
<rect x="537.8" y="0" width="49.7" height="153.23" fill="#ff6000"/>
<rect x="537.8" y="0" width="49.7" height="143.02" fill="#ff5000"/>
<rect x="537.8" y="0" width="49.7" height="132.80" fill="#ff4000"/>
<rect x="537.8" y="0" width="49.7" height="122.59" fill="#ff3000"/>
<rect x="537.8" y="0" width="49.7" height="112.37" fill="#ff2000"/>
<rect x="537.8" y="0" width="49.7" height="102.16" fill="#ff1000"/>
<rect x="537.8" y="0" width="49.7" height="91.94" fill="#ff0000"/>
<rect x="537.8" y="0" width="49.7" height="81.73" fill="#ef0000"/>
<rect x="537.8" y="0" width="49.7" height="71.51" fill="#df0000"/>
<rect x="537.8" y="0" width="49.7" height="61.29" fill="#cf0000"/>
<rect x="537.8" y="0" width="49.7" height="51.08" fill="#bf0000"/>
<rect x="537.8" y="0" width="49.7" height="40.86" fill="#af0000"/>
<rect x="537.8" y="0" width="49.7" height="30.65" fill="#9f0000"/>
<rect x="537.8" y="0" width="49.7" height="20.43" fill="#8f0000"/>
<rect x="537.8" y="0" width="49.7" height="10.22" fill="#800000"/>
<text font-size="33.4" x="601.5" y="666.2">19</text>
<text font-size="33.4" x="601.5" y="593.6">20</text>
<text font-size="33.4" x="601.5" y="520.9">21</text>
<text font-size="33.4" x="601.5" y="448.3">22</text>
<text font-size="33.4" x="601.5" y="375.6">23</text>
<text font-size="33.4" x="601.5" y="303">24</text>
<text font-size="33.4" x="601.5" y="230.3">25</text>
<text font-size="33.4" x="601.5" y="157.7">26</text>
<text font-size="33.4" x="601.5" y="85">27</text>
<text font-size="33.4" x="601.5" y="12.4">28</text>
<path d="M587.5 581.2h-7M587.5 508.5h-7M587.5 435.9h-7M587.5 363.2h-7M587.5 290.6h-7M587.5 217.9h-7M587.5 145.3h-7M587.5 72.6h-7" stroke="#1e1e1e" stroke-width="1.2" fill="none"/>
<rect x="537.8" y="0" width="49.7" height="653.8" fill="none" stroke="#1e1e1e" stroke-width="1.5"/>
<text class="t" text-anchor="middle" x="0" y="702.4">121°E</text>
<text class="t" text-anchor="middle" x="145.3" y="702.4">122°</text>
<text class="t" text-anchor="middle" x="290.6" y="702.4">123°</text>
<text class="t" text-anchor="middle" x="435.9" y="702.4">124°E</text>
</g>
<text class="s" x="789.5" y="1429">F</text>
</svg></body></html>
